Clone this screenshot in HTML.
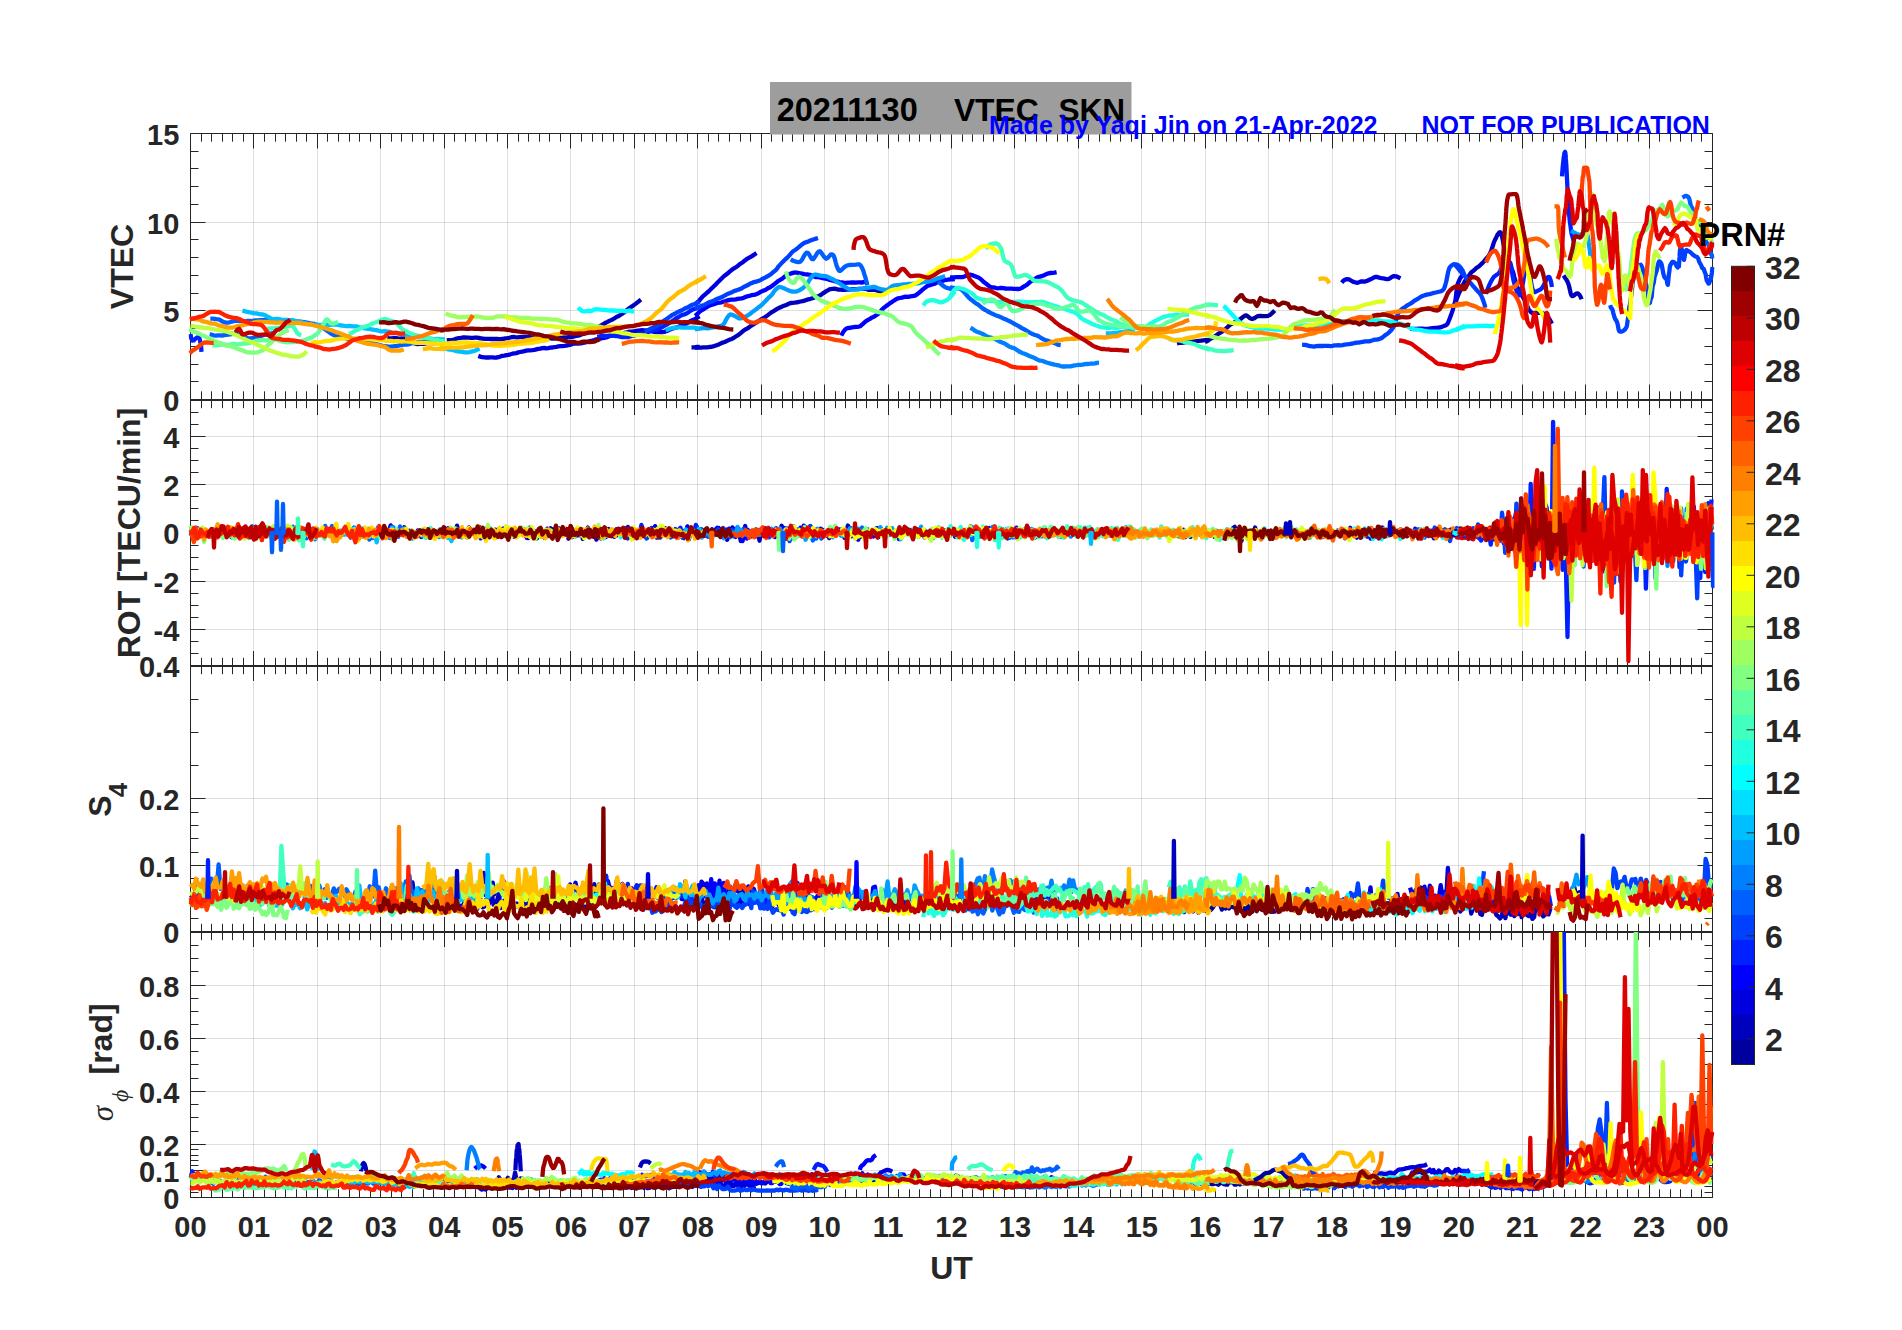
<!DOCTYPE html>
<html><head><meta charset="utf-8"><style>html,body{margin:0;padding:0;background:#fff;overflow:hidden}svg{display:block}</style></head><body>
<svg width="1902" height="1330" viewBox="0 0 1902 1330">
<rect width="1902" height="1330" fill="#fff"/>
<path d="M253.5 133.5V399.5M317.5 133.5V399.5M380.5 133.5V399.5M444.5 133.5V399.5M507.5 133.5V399.5M570.5 133.5V399.5M634.5 133.5V399.5M697.5 133.5V399.5M761.5 133.5V399.5M824.5 133.5V399.5M888.5 133.5V399.5M951.5 133.5V399.5M1014.5 133.5V399.5M1078.5 133.5V399.5M1141.5 133.5V399.5M1205.5 133.5V399.5M1268.5 133.5V399.5M1332.5 133.5V399.5M1395.5 133.5V399.5M1458.5 133.5V399.5M1522.5 133.5V399.5M1585.5 133.5V399.5M1649.5 133.5V399.5M253.5 400.0V666.0M317.5 400.0V666.0M380.5 400.0V666.0M444.5 400.0V666.0M507.5 400.0V666.0M570.5 400.0V666.0M634.5 400.0V666.0M697.5 400.0V666.0M761.5 400.0V666.0M824.5 400.0V666.0M888.5 400.0V666.0M951.5 400.0V666.0M1014.5 400.0V666.0M1078.5 400.0V666.0M1141.5 400.0V666.0M1205.5 400.0V666.0M1268.5 400.0V666.0M1332.5 400.0V666.0M1395.5 400.0V666.0M1458.5 400.0V666.0M1522.5 400.0V666.0M1585.5 400.0V666.0M1649.5 400.0V666.0M253.5 666.0V932.0M317.5 666.0V932.0M380.5 666.0V932.0M444.5 666.0V932.0M507.5 666.0V932.0M570.5 666.0V932.0M634.5 666.0V932.0M697.5 666.0V932.0M761.5 666.0V932.0M824.5 666.0V932.0M888.5 666.0V932.0M951.5 666.0V932.0M1014.5 666.0V932.0M1078.5 666.0V932.0M1141.5 666.0V932.0M1205.5 666.0V932.0M1268.5 666.0V932.0M1332.5 666.0V932.0M1395.5 666.0V932.0M1458.5 666.0V932.0M1522.5 666.0V932.0M1585.5 666.0V932.0M1649.5 666.0V932.0M253.5 932.0V1197.5M317.5 932.0V1197.5M380.5 932.0V1197.5M444.5 932.0V1197.5M507.5 932.0V1197.5M570.5 932.0V1197.5M634.5 932.0V1197.5M697.5 932.0V1197.5M761.5 932.0V1197.5M824.5 932.0V1197.5M888.5 932.0V1197.5M951.5 932.0V1197.5M1014.5 932.0V1197.5M1078.5 932.0V1197.5M1141.5 932.0V1197.5M1205.5 932.0V1197.5M1268.5 932.0V1197.5M1332.5 932.0V1197.5M1395.5 932.0V1197.5M1458.5 932.0V1197.5M1522.5 932.0V1197.5M1585.5 932.0V1197.5M1649.5 932.0V1197.5M190.5 310.5H1712.5M190.5 222.5H1712.5M190.5 629.5H1712.5M190.5 581.5H1712.5M190.5 532.5H1712.5M190.5 484.5H1712.5M190.5 436.5H1712.5M190.5 865.5H1712.5M190.5 798.5H1712.5M190.5 1170.5H1712.5M190.5 1144.5H1712.5M190.5 1091.5H1712.5M190.5 1038.5H1712.5M190.5 985.5H1712.5" stroke="#262626" stroke-opacity="0.15" stroke-width="1" fill="none"/>
<path d="M190.5 399.5h15M1712.5 399.5h-15M190.5 381.5h8M1712.5 381.5h-8M190.5 364.5h8M1712.5 364.5h-8M190.5 346.5h8M1712.5 346.5h-8M190.5 328.5h8M1712.5 328.5h-8M190.5 310.5h15M1712.5 310.5h-15M190.5 293.5h8M1712.5 293.5h-8M190.5 275.5h8M1712.5 275.5h-8M190.5 257.5h8M1712.5 257.5h-8M190.5 239.5h8M1712.5 239.5h-8M190.5 222.5h15M1712.5 222.5h-15M190.5 204.5h8M1712.5 204.5h-8M190.5 186.5h8M1712.5 186.5h-8M190.5 168.5h8M1712.5 168.5h-8M190.5 151.5h8M1712.5 151.5h-8M190.5 133.5h15M1712.5 133.5h-15M190.5 133.5v15M190.5 399.5v-15M201.5 133.5v8.2M201.5 399.5v-8.2M211.5 133.5v8.2M211.5 399.5v-8.2M222.5 133.5v8.2M222.5 399.5v-8.2M232.5 133.5v8.2M232.5 399.5v-8.2M243.5 133.5v8.2M243.5 399.5v-8.2M253.5 133.5v15M253.5 399.5v-15M264.5 133.5v8.2M264.5 399.5v-8.2M275.5 133.5v8.2M275.5 399.5v-8.2M285.5 133.5v8.2M285.5 399.5v-8.2M296.5 133.5v8.2M296.5 399.5v-8.2M306.5 133.5v8.2M306.5 399.5v-8.2M317.5 133.5v15M317.5 399.5v-15M327.5 133.5v8.2M327.5 399.5v-8.2M338.5 133.5v8.2M338.5 399.5v-8.2M349.5 133.5v8.2M349.5 399.5v-8.2M359.5 133.5v8.2M359.5 399.5v-8.2M370.5 133.5v8.2M370.5 399.5v-8.2M380.5 133.5v15M380.5 399.5v-15M391.5 133.5v8.2M391.5 399.5v-8.2M401.5 133.5v8.2M401.5 399.5v-8.2M412.5 133.5v8.2M412.5 399.5v-8.2M423.5 133.5v8.2M423.5 399.5v-8.2M433.5 133.5v8.2M433.5 399.5v-8.2M444.5 133.5v15M444.5 399.5v-15M454.5 133.5v8.2M454.5 399.5v-8.2M465.5 133.5v8.2M465.5 399.5v-8.2M475.5 133.5v8.2M475.5 399.5v-8.2M486.5 133.5v8.2M486.5 399.5v-8.2M497.5 133.5v8.2M497.5 399.5v-8.2M507.5 133.5v15M507.5 399.5v-15M518.5 133.5v8.2M518.5 399.5v-8.2M528.5 133.5v8.2M528.5 399.5v-8.2M539.5 133.5v8.2M539.5 399.5v-8.2M549.5 133.5v8.2M549.5 399.5v-8.2M560.5 133.5v8.2M560.5 399.5v-8.2M570.5 133.5v15M570.5 399.5v-15M581.5 133.5v8.2M581.5 399.5v-8.2M592.5 133.5v8.2M592.5 399.5v-8.2M602.5 133.5v8.2M602.5 399.5v-8.2M613.5 133.5v8.2M613.5 399.5v-8.2M623.5 133.5v8.2M623.5 399.5v-8.2M634.5 133.5v15M634.5 399.5v-15M644.5 133.5v8.2M644.5 399.5v-8.2M655.5 133.5v8.2M655.5 399.5v-8.2M666.5 133.5v8.2M666.5 399.5v-8.2M676.5 133.5v8.2M676.5 399.5v-8.2M687.5 133.5v8.2M687.5 399.5v-8.2M697.5 133.5v15M697.5 399.5v-15M708.5 133.5v8.2M708.5 399.5v-8.2M718.5 133.5v8.2M718.5 399.5v-8.2M729.5 133.5v8.2M729.5 399.5v-8.2M740.5 133.5v8.2M740.5 399.5v-8.2M750.5 133.5v8.2M750.5 399.5v-8.2M761.5 133.5v15M761.5 399.5v-15M771.5 133.5v8.2M771.5 399.5v-8.2M782.5 133.5v8.2M782.5 399.5v-8.2M792.5 133.5v8.2M792.5 399.5v-8.2M803.5 133.5v8.2M803.5 399.5v-8.2M814.5 133.5v8.2M814.5 399.5v-8.2M824.5 133.5v15M824.5 399.5v-15M835.5 133.5v8.2M835.5 399.5v-8.2M845.5 133.5v8.2M845.5 399.5v-8.2M856.5 133.5v8.2M856.5 399.5v-8.2M866.5 133.5v8.2M866.5 399.5v-8.2M877.5 133.5v8.2M877.5 399.5v-8.2M888.5 133.5v15M888.5 399.5v-15M898.5 133.5v8.2M898.5 399.5v-8.2M909.5 133.5v8.2M909.5 399.5v-8.2M919.5 133.5v8.2M919.5 399.5v-8.2M930.5 133.5v8.2M930.5 399.5v-8.2M940.5 133.5v8.2M940.5 399.5v-8.2M951.5 133.5v15M951.5 399.5v-15M962.5 133.5v8.2M962.5 399.5v-8.2M972.5 133.5v8.2M972.5 399.5v-8.2M983.5 133.5v8.2M983.5 399.5v-8.2M993.5 133.5v8.2M993.5 399.5v-8.2M1004.5 133.5v8.2M1004.5 399.5v-8.2M1014.5 133.5v15M1014.5 399.5v-15M1025.5 133.5v8.2M1025.5 399.5v-8.2M1036.5 133.5v8.2M1036.5 399.5v-8.2M1046.5 133.5v8.2M1046.5 399.5v-8.2M1057.5 133.5v8.2M1057.5 399.5v-8.2M1067.5 133.5v8.2M1067.5 399.5v-8.2M1078.5 133.5v15M1078.5 399.5v-15M1088.5 133.5v8.2M1088.5 399.5v-8.2M1099.5 133.5v8.2M1099.5 399.5v-8.2M1110.5 133.5v8.2M1110.5 399.5v-8.2M1120.5 133.5v8.2M1120.5 399.5v-8.2M1131.5 133.5v8.2M1131.5 399.5v-8.2M1141.5 133.5v15M1141.5 399.5v-15M1152.5 133.5v8.2M1152.5 399.5v-8.2M1162.5 133.5v8.2M1162.5 399.5v-8.2M1173.5 133.5v8.2M1173.5 399.5v-8.2M1184.5 133.5v8.2M1184.5 399.5v-8.2M1194.5 133.5v8.2M1194.5 399.5v-8.2M1205.5 133.5v15M1205.5 399.5v-15M1215.5 133.5v8.2M1215.5 399.5v-8.2M1226.5 133.5v8.2M1226.5 399.5v-8.2M1236.5 133.5v8.2M1236.5 399.5v-8.2M1247.5 133.5v8.2M1247.5 399.5v-8.2M1258.5 133.5v8.2M1258.5 399.5v-8.2M1268.5 133.5v15M1268.5 399.5v-15M1279.5 133.5v8.2M1279.5 399.5v-8.2M1289.5 133.5v8.2M1289.5 399.5v-8.2M1300.5 133.5v8.2M1300.5 399.5v-8.2M1310.5 133.5v8.2M1310.5 399.5v-8.2M1321.5 133.5v8.2M1321.5 399.5v-8.2M1332.5 133.5v15M1332.5 399.5v-15M1342.5 133.5v8.2M1342.5 399.5v-8.2M1353.5 133.5v8.2M1353.5 399.5v-8.2M1363.5 133.5v8.2M1363.5 399.5v-8.2M1374.5 133.5v8.2M1374.5 399.5v-8.2M1384.5 133.5v8.2M1384.5 399.5v-8.2M1395.5 133.5v15M1395.5 399.5v-15M1405.5 133.5v8.2M1405.5 399.5v-8.2M1416.5 133.5v8.2M1416.5 399.5v-8.2M1427.5 133.5v8.2M1427.5 399.5v-8.2M1437.5 133.5v8.2M1437.5 399.5v-8.2M1448.5 133.5v8.2M1448.5 399.5v-8.2M1458.5 133.5v15M1458.5 399.5v-15M1469.5 133.5v8.2M1469.5 399.5v-8.2M1479.5 133.5v8.2M1479.5 399.5v-8.2M1490.5 133.5v8.2M1490.5 399.5v-8.2M1501.5 133.5v8.2M1501.5 399.5v-8.2M1511.5 133.5v8.2M1511.5 399.5v-8.2M1522.5 133.5v15M1522.5 399.5v-15M1532.5 133.5v8.2M1532.5 399.5v-8.2M1543.5 133.5v8.2M1543.5 399.5v-8.2M1553.5 133.5v8.2M1553.5 399.5v-8.2M1564.5 133.5v8.2M1564.5 399.5v-8.2M1575.5 133.5v8.2M1575.5 399.5v-8.2M1585.5 133.5v15M1585.5 399.5v-15M1596.5 133.5v8.2M1596.5 399.5v-8.2M1606.5 133.5v8.2M1606.5 399.5v-8.2M1617.5 133.5v8.2M1617.5 399.5v-8.2M1627.5 133.5v8.2M1627.5 399.5v-8.2M1638.5 133.5v8.2M1638.5 399.5v-8.2M1649.5 133.5v15M1649.5 399.5v-15M1659.5 133.5v8.2M1659.5 399.5v-8.2M1670.5 133.5v8.2M1670.5 399.5v-8.2M1680.5 133.5v8.2M1680.5 399.5v-8.2M1691.5 133.5v8.2M1691.5 399.5v-8.2M1701.5 133.5v8.2M1701.5 399.5v-8.2M1712.5 133.5v15M1712.5 399.5v-15M190.5 666.5h8M1712.5 666.5h-8M190.5 653.5h8M1712.5 653.5h-8M190.5 641.5h8M1712.5 641.5h-8M190.5 629.5h15M1712.5 629.5h-15M190.5 617.5h8M1712.5 617.5h-8M190.5 605.5h8M1712.5 605.5h-8M190.5 593.5h8M1712.5 593.5h-8M190.5 581.5h15M1712.5 581.5h-15M190.5 569.5h8M1712.5 569.5h-8M190.5 557.5h8M1712.5 557.5h-8M190.5 545.5h8M1712.5 545.5h-8M190.5 532.5h15M1712.5 532.5h-15M190.5 520.5h8M1712.5 520.5h-8M190.5 508.5h8M1712.5 508.5h-8M190.5 496.5h8M1712.5 496.5h-8M190.5 484.5h15M1712.5 484.5h-15M190.5 472.5h8M1712.5 472.5h-8M190.5 460.5h8M1712.5 460.5h-8M190.5 448.5h8M1712.5 448.5h-8M190.5 436.5h15M1712.5 436.5h-15M190.5 424.5h8M1712.5 424.5h-8M190.5 412.5h8M1712.5 412.5h-8M190.5 400.5h8M1712.5 400.5h-8M190.5 400.0v15M190.5 666.0v-15M201.5 400.0v8.2M201.5 666.0v-8.2M211.5 400.0v8.2M211.5 666.0v-8.2M222.5 400.0v8.2M222.5 666.0v-8.2M232.5 400.0v8.2M232.5 666.0v-8.2M243.5 400.0v8.2M243.5 666.0v-8.2M253.5 400.0v15M253.5 666.0v-15M264.5 400.0v8.2M264.5 666.0v-8.2M275.5 400.0v8.2M275.5 666.0v-8.2M285.5 400.0v8.2M285.5 666.0v-8.2M296.5 400.0v8.2M296.5 666.0v-8.2M306.5 400.0v8.2M306.5 666.0v-8.2M317.5 400.0v15M317.5 666.0v-15M327.5 400.0v8.2M327.5 666.0v-8.2M338.5 400.0v8.2M338.5 666.0v-8.2M349.5 400.0v8.2M349.5 666.0v-8.2M359.5 400.0v8.2M359.5 666.0v-8.2M370.5 400.0v8.2M370.5 666.0v-8.2M380.5 400.0v15M380.5 666.0v-15M391.5 400.0v8.2M391.5 666.0v-8.2M401.5 400.0v8.2M401.5 666.0v-8.2M412.5 400.0v8.2M412.5 666.0v-8.2M423.5 400.0v8.2M423.5 666.0v-8.2M433.5 400.0v8.2M433.5 666.0v-8.2M444.5 400.0v15M444.5 666.0v-15M454.5 400.0v8.2M454.5 666.0v-8.2M465.5 400.0v8.2M465.5 666.0v-8.2M475.5 400.0v8.2M475.5 666.0v-8.2M486.5 400.0v8.2M486.5 666.0v-8.2M497.5 400.0v8.2M497.5 666.0v-8.2M507.5 400.0v15M507.5 666.0v-15M518.5 400.0v8.2M518.5 666.0v-8.2M528.5 400.0v8.2M528.5 666.0v-8.2M539.5 400.0v8.2M539.5 666.0v-8.2M549.5 400.0v8.2M549.5 666.0v-8.2M560.5 400.0v8.2M560.5 666.0v-8.2M570.5 400.0v15M570.5 666.0v-15M581.5 400.0v8.2M581.5 666.0v-8.2M592.5 400.0v8.2M592.5 666.0v-8.2M602.5 400.0v8.2M602.5 666.0v-8.2M613.5 400.0v8.2M613.5 666.0v-8.2M623.5 400.0v8.2M623.5 666.0v-8.2M634.5 400.0v15M634.5 666.0v-15M644.5 400.0v8.2M644.5 666.0v-8.2M655.5 400.0v8.2M655.5 666.0v-8.2M666.5 400.0v8.2M666.5 666.0v-8.2M676.5 400.0v8.2M676.5 666.0v-8.2M687.5 400.0v8.2M687.5 666.0v-8.2M697.5 400.0v15M697.5 666.0v-15M708.5 400.0v8.2M708.5 666.0v-8.2M718.5 400.0v8.2M718.5 666.0v-8.2M729.5 400.0v8.2M729.5 666.0v-8.2M740.5 400.0v8.2M740.5 666.0v-8.2M750.5 400.0v8.2M750.5 666.0v-8.2M761.5 400.0v15M761.5 666.0v-15M771.5 400.0v8.2M771.5 666.0v-8.2M782.5 400.0v8.2M782.5 666.0v-8.2M792.5 400.0v8.2M792.5 666.0v-8.2M803.5 400.0v8.2M803.5 666.0v-8.2M814.5 400.0v8.2M814.5 666.0v-8.2M824.5 400.0v15M824.5 666.0v-15M835.5 400.0v8.2M835.5 666.0v-8.2M845.5 400.0v8.2M845.5 666.0v-8.2M856.5 400.0v8.2M856.5 666.0v-8.2M866.5 400.0v8.2M866.5 666.0v-8.2M877.5 400.0v8.2M877.5 666.0v-8.2M888.5 400.0v15M888.5 666.0v-15M898.5 400.0v8.2M898.5 666.0v-8.2M909.5 400.0v8.2M909.5 666.0v-8.2M919.5 400.0v8.2M919.5 666.0v-8.2M930.5 400.0v8.2M930.5 666.0v-8.2M940.5 400.0v8.2M940.5 666.0v-8.2M951.5 400.0v15M951.5 666.0v-15M962.5 400.0v8.2M962.5 666.0v-8.2M972.5 400.0v8.2M972.5 666.0v-8.2M983.5 400.0v8.2M983.5 666.0v-8.2M993.5 400.0v8.2M993.5 666.0v-8.2M1004.5 400.0v8.2M1004.5 666.0v-8.2M1014.5 400.0v15M1014.5 666.0v-15M1025.5 400.0v8.2M1025.5 666.0v-8.2M1036.5 400.0v8.2M1036.5 666.0v-8.2M1046.5 400.0v8.2M1046.5 666.0v-8.2M1057.5 400.0v8.2M1057.5 666.0v-8.2M1067.5 400.0v8.2M1067.5 666.0v-8.2M1078.5 400.0v15M1078.5 666.0v-15M1088.5 400.0v8.2M1088.5 666.0v-8.2M1099.5 400.0v8.2M1099.5 666.0v-8.2M1110.5 400.0v8.2M1110.5 666.0v-8.2M1120.5 400.0v8.2M1120.5 666.0v-8.2M1131.5 400.0v8.2M1131.5 666.0v-8.2M1141.5 400.0v15M1141.5 666.0v-15M1152.5 400.0v8.2M1152.5 666.0v-8.2M1162.5 400.0v8.2M1162.5 666.0v-8.2M1173.5 400.0v8.2M1173.5 666.0v-8.2M1184.5 400.0v8.2M1184.5 666.0v-8.2M1194.5 400.0v8.2M1194.5 666.0v-8.2M1205.5 400.0v15M1205.5 666.0v-15M1215.5 400.0v8.2M1215.5 666.0v-8.2M1226.5 400.0v8.2M1226.5 666.0v-8.2M1236.5 400.0v8.2M1236.5 666.0v-8.2M1247.5 400.0v8.2M1247.5 666.0v-8.2M1258.5 400.0v8.2M1258.5 666.0v-8.2M1268.5 400.0v15M1268.5 666.0v-15M1279.5 400.0v8.2M1279.5 666.0v-8.2M1289.5 400.0v8.2M1289.5 666.0v-8.2M1300.5 400.0v8.2M1300.5 666.0v-8.2M1310.5 400.0v8.2M1310.5 666.0v-8.2M1321.5 400.0v8.2M1321.5 666.0v-8.2M1332.5 400.0v15M1332.5 666.0v-15M1342.5 400.0v8.2M1342.5 666.0v-8.2M1353.5 400.0v8.2M1353.5 666.0v-8.2M1363.5 400.0v8.2M1363.5 666.0v-8.2M1374.5 400.0v8.2M1374.5 666.0v-8.2M1384.5 400.0v8.2M1384.5 666.0v-8.2M1395.5 400.0v15M1395.5 666.0v-15M1405.5 400.0v8.2M1405.5 666.0v-8.2M1416.5 400.0v8.2M1416.5 666.0v-8.2M1427.5 400.0v8.2M1427.5 666.0v-8.2M1437.5 400.0v8.2M1437.5 666.0v-8.2M1448.5 400.0v8.2M1448.5 666.0v-8.2M1458.5 400.0v15M1458.5 666.0v-15M1469.5 400.0v8.2M1469.5 666.0v-8.2M1479.5 400.0v8.2M1479.5 666.0v-8.2M1490.5 400.0v8.2M1490.5 666.0v-8.2M1501.5 400.0v8.2M1501.5 666.0v-8.2M1511.5 400.0v8.2M1511.5 666.0v-8.2M1522.5 400.0v15M1522.5 666.0v-15M1532.5 400.0v8.2M1532.5 666.0v-8.2M1543.5 400.0v8.2M1543.5 666.0v-8.2M1553.5 400.0v8.2M1553.5 666.0v-8.2M1564.5 400.0v8.2M1564.5 666.0v-8.2M1575.5 400.0v8.2M1575.5 666.0v-8.2M1585.5 400.0v15M1585.5 666.0v-15M1596.5 400.0v8.2M1596.5 666.0v-8.2M1606.5 400.0v8.2M1606.5 666.0v-8.2M1617.5 400.0v8.2M1617.5 666.0v-8.2M1627.5 400.0v8.2M1627.5 666.0v-8.2M1638.5 400.0v8.2M1638.5 666.0v-8.2M1649.5 400.0v15M1649.5 666.0v-15M1659.5 400.0v8.2M1659.5 666.0v-8.2M1670.5 400.0v8.2M1670.5 666.0v-8.2M1680.5 400.0v8.2M1680.5 666.0v-8.2M1691.5 400.0v8.2M1691.5 666.0v-8.2M1701.5 400.0v8.2M1701.5 666.0v-8.2M1712.5 400.0v15M1712.5 666.0v-15M190.5 932.5h15M1712.5 932.5h-15M190.5 918.5h8M1712.5 918.5h-8M190.5 905.5h8M1712.5 905.5h-8M190.5 892.5h8M1712.5 892.5h-8M190.5 878.5h8M1712.5 878.5h-8M190.5 865.5h15M1712.5 865.5h-15M190.5 852.5h8M1712.5 852.5h-8M190.5 838.5h8M1712.5 838.5h-8M190.5 825.5h8M1712.5 825.5h-8M190.5 812.5h8M1712.5 812.5h-8M190.5 798.5h15M1712.5 798.5h-15M190.5 765.5h8M1712.5 765.5h-8M190.5 732.5h8M1712.5 732.5h-8M190.5 699.5h8M1712.5 699.5h-8M190.5 666.5h15M1712.5 666.5h-15M190.5 666.0v15M190.5 932.0v-15M201.5 666.0v8.2M201.5 932.0v-8.2M211.5 666.0v8.2M211.5 932.0v-8.2M222.5 666.0v8.2M222.5 932.0v-8.2M232.5 666.0v8.2M232.5 932.0v-8.2M243.5 666.0v8.2M243.5 932.0v-8.2M253.5 666.0v15M253.5 932.0v-15M264.5 666.0v8.2M264.5 932.0v-8.2M275.5 666.0v8.2M275.5 932.0v-8.2M285.5 666.0v8.2M285.5 932.0v-8.2M296.5 666.0v8.2M296.5 932.0v-8.2M306.5 666.0v8.2M306.5 932.0v-8.2M317.5 666.0v15M317.5 932.0v-15M327.5 666.0v8.2M327.5 932.0v-8.2M338.5 666.0v8.2M338.5 932.0v-8.2M349.5 666.0v8.2M349.5 932.0v-8.2M359.5 666.0v8.2M359.5 932.0v-8.2M370.5 666.0v8.2M370.5 932.0v-8.2M380.5 666.0v15M380.5 932.0v-15M391.5 666.0v8.2M391.5 932.0v-8.2M401.5 666.0v8.2M401.5 932.0v-8.2M412.5 666.0v8.2M412.5 932.0v-8.2M423.5 666.0v8.2M423.5 932.0v-8.2M433.5 666.0v8.2M433.5 932.0v-8.2M444.5 666.0v15M444.5 932.0v-15M454.5 666.0v8.2M454.5 932.0v-8.2M465.5 666.0v8.2M465.5 932.0v-8.2M475.5 666.0v8.2M475.5 932.0v-8.2M486.5 666.0v8.2M486.5 932.0v-8.2M497.5 666.0v8.2M497.5 932.0v-8.2M507.5 666.0v15M507.5 932.0v-15M518.5 666.0v8.2M518.5 932.0v-8.2M528.5 666.0v8.2M528.5 932.0v-8.2M539.5 666.0v8.2M539.5 932.0v-8.2M549.5 666.0v8.2M549.5 932.0v-8.2M560.5 666.0v8.2M560.5 932.0v-8.2M570.5 666.0v15M570.5 932.0v-15M581.5 666.0v8.2M581.5 932.0v-8.2M592.5 666.0v8.2M592.5 932.0v-8.2M602.5 666.0v8.2M602.5 932.0v-8.2M613.5 666.0v8.2M613.5 932.0v-8.2M623.5 666.0v8.2M623.5 932.0v-8.2M634.5 666.0v15M634.5 932.0v-15M644.5 666.0v8.2M644.5 932.0v-8.2M655.5 666.0v8.2M655.5 932.0v-8.2M666.5 666.0v8.2M666.5 932.0v-8.2M676.5 666.0v8.2M676.5 932.0v-8.2M687.5 666.0v8.2M687.5 932.0v-8.2M697.5 666.0v15M697.5 932.0v-15M708.5 666.0v8.2M708.5 932.0v-8.2M718.5 666.0v8.2M718.5 932.0v-8.2M729.5 666.0v8.2M729.5 932.0v-8.2M740.5 666.0v8.2M740.5 932.0v-8.2M750.5 666.0v8.2M750.5 932.0v-8.2M761.5 666.0v15M761.5 932.0v-15M771.5 666.0v8.2M771.5 932.0v-8.2M782.5 666.0v8.2M782.5 932.0v-8.2M792.5 666.0v8.2M792.5 932.0v-8.2M803.5 666.0v8.2M803.5 932.0v-8.2M814.5 666.0v8.2M814.5 932.0v-8.2M824.5 666.0v15M824.5 932.0v-15M835.5 666.0v8.2M835.5 932.0v-8.2M845.5 666.0v8.2M845.5 932.0v-8.2M856.5 666.0v8.2M856.5 932.0v-8.2M866.5 666.0v8.2M866.5 932.0v-8.2M877.5 666.0v8.2M877.5 932.0v-8.2M888.5 666.0v15M888.5 932.0v-15M898.5 666.0v8.2M898.5 932.0v-8.2M909.5 666.0v8.2M909.5 932.0v-8.2M919.5 666.0v8.2M919.5 932.0v-8.2M930.5 666.0v8.2M930.5 932.0v-8.2M940.5 666.0v8.2M940.5 932.0v-8.2M951.5 666.0v15M951.5 932.0v-15M962.5 666.0v8.2M962.5 932.0v-8.2M972.5 666.0v8.2M972.5 932.0v-8.2M983.5 666.0v8.2M983.5 932.0v-8.2M993.5 666.0v8.2M993.5 932.0v-8.2M1004.5 666.0v8.2M1004.5 932.0v-8.2M1014.5 666.0v15M1014.5 932.0v-15M1025.5 666.0v8.2M1025.5 932.0v-8.2M1036.5 666.0v8.2M1036.5 932.0v-8.2M1046.5 666.0v8.2M1046.5 932.0v-8.2M1057.5 666.0v8.2M1057.5 932.0v-8.2M1067.5 666.0v8.2M1067.5 932.0v-8.2M1078.5 666.0v15M1078.5 932.0v-15M1088.5 666.0v8.2M1088.5 932.0v-8.2M1099.5 666.0v8.2M1099.5 932.0v-8.2M1110.5 666.0v8.2M1110.5 932.0v-8.2M1120.5 666.0v8.2M1120.5 932.0v-8.2M1131.5 666.0v8.2M1131.5 932.0v-8.2M1141.5 666.0v15M1141.5 932.0v-15M1152.5 666.0v8.2M1152.5 932.0v-8.2M1162.5 666.0v8.2M1162.5 932.0v-8.2M1173.5 666.0v8.2M1173.5 932.0v-8.2M1184.5 666.0v8.2M1184.5 932.0v-8.2M1194.5 666.0v8.2M1194.5 932.0v-8.2M1205.5 666.0v15M1205.5 932.0v-15M1215.5 666.0v8.2M1215.5 932.0v-8.2M1226.5 666.0v8.2M1226.5 932.0v-8.2M1236.5 666.0v8.2M1236.5 932.0v-8.2M1247.5 666.0v8.2M1247.5 932.0v-8.2M1258.5 666.0v8.2M1258.5 932.0v-8.2M1268.5 666.0v15M1268.5 932.0v-15M1279.5 666.0v8.2M1279.5 932.0v-8.2M1289.5 666.0v8.2M1289.5 932.0v-8.2M1300.5 666.0v8.2M1300.5 932.0v-8.2M1310.5 666.0v8.2M1310.5 932.0v-8.2M1321.5 666.0v8.2M1321.5 932.0v-8.2M1332.5 666.0v15M1332.5 932.0v-15M1342.5 666.0v8.2M1342.5 932.0v-8.2M1353.5 666.0v8.2M1353.5 932.0v-8.2M1363.5 666.0v8.2M1363.5 932.0v-8.2M1374.5 666.0v8.2M1374.5 932.0v-8.2M1384.5 666.0v8.2M1384.5 932.0v-8.2M1395.5 666.0v15M1395.5 932.0v-15M1405.5 666.0v8.2M1405.5 932.0v-8.2M1416.5 666.0v8.2M1416.5 932.0v-8.2M1427.5 666.0v8.2M1427.5 932.0v-8.2M1437.5 666.0v8.2M1437.5 932.0v-8.2M1448.5 666.0v8.2M1448.5 932.0v-8.2M1458.5 666.0v15M1458.5 932.0v-15M1469.5 666.0v8.2M1469.5 932.0v-8.2M1479.5 666.0v8.2M1479.5 932.0v-8.2M1490.5 666.0v8.2M1490.5 932.0v-8.2M1501.5 666.0v8.2M1501.5 932.0v-8.2M1511.5 666.0v8.2M1511.5 932.0v-8.2M1522.5 666.0v15M1522.5 932.0v-15M1532.5 666.0v8.2M1532.5 932.0v-8.2M1543.5 666.0v8.2M1543.5 932.0v-8.2M1553.5 666.0v8.2M1553.5 932.0v-8.2M1564.5 666.0v8.2M1564.5 932.0v-8.2M1575.5 666.0v8.2M1575.5 932.0v-8.2M1585.5 666.0v15M1585.5 932.0v-15M1596.5 666.0v8.2M1596.5 932.0v-8.2M1606.5 666.0v8.2M1606.5 932.0v-8.2M1617.5 666.0v8.2M1617.5 932.0v-8.2M1627.5 666.0v8.2M1627.5 932.0v-8.2M1638.5 666.0v8.2M1638.5 932.0v-8.2M1649.5 666.0v15M1649.5 932.0v-15M1659.5 666.0v8.2M1659.5 932.0v-8.2M1670.5 666.0v8.2M1670.5 932.0v-8.2M1680.5 666.0v8.2M1680.5 932.0v-8.2M1691.5 666.0v8.2M1691.5 932.0v-8.2M1701.5 666.0v8.2M1701.5 932.0v-8.2M1712.5 666.0v15M1712.5 932.0v-15M190.5 1197.5h15M1712.5 1197.5h-15M190.5 1192.5h8M1712.5 1192.5h-8M190.5 1186.5h8M1712.5 1186.5h-8M190.5 1181.5h8M1712.5 1181.5h-8M190.5 1176.5h8M1712.5 1176.5h-8M190.5 1170.5h15M1712.5 1170.5h-15M190.5 1165.5h8M1712.5 1165.5h-8M190.5 1160.5h8M1712.5 1160.5h-8M190.5 1155.5h8M1712.5 1155.5h-8M190.5 1149.5h8M1712.5 1149.5h-8M190.5 1144.5h15M1712.5 1144.5h-15M190.5 1144.5h15M1712.5 1144.5h-15M190.5 1131.5h8M1712.5 1131.5h-8M190.5 1117.5h8M1712.5 1117.5h-8M190.5 1104.5h8M1712.5 1104.5h-8M190.5 1091.5h15M1712.5 1091.5h-15M190.5 1078.5h8M1712.5 1078.5h-8M190.5 1064.5h8M1712.5 1064.5h-8M190.5 1051.5h8M1712.5 1051.5h-8M190.5 1038.5h15M1712.5 1038.5h-15M190.5 1024.5h8M1712.5 1024.5h-8M190.5 1011.5h8M1712.5 1011.5h-8M190.5 998.5h8M1712.5 998.5h-8M190.5 985.5h15M1712.5 985.5h-15M190.5 971.5h8M1712.5 971.5h-8M190.5 958.5h8M1712.5 958.5h-8M190.5 945.5h8M1712.5 945.5h-8M190.5 932.5h8M1712.5 932.5h-8M190.5 932.0v15M190.5 1197.5v-15M201.5 932.0v8.2M201.5 1197.5v-8.2M211.5 932.0v8.2M211.5 1197.5v-8.2M222.5 932.0v8.2M222.5 1197.5v-8.2M232.5 932.0v8.2M232.5 1197.5v-8.2M243.5 932.0v8.2M243.5 1197.5v-8.2M253.5 932.0v15M253.5 1197.5v-15M264.5 932.0v8.2M264.5 1197.5v-8.2M275.5 932.0v8.2M275.5 1197.5v-8.2M285.5 932.0v8.2M285.5 1197.5v-8.2M296.5 932.0v8.2M296.5 1197.5v-8.2M306.5 932.0v8.2M306.5 1197.5v-8.2M317.5 932.0v15M317.5 1197.5v-15M327.5 932.0v8.2M327.5 1197.5v-8.2M338.5 932.0v8.2M338.5 1197.5v-8.2M349.5 932.0v8.2M349.5 1197.5v-8.2M359.5 932.0v8.2M359.5 1197.5v-8.2M370.5 932.0v8.2M370.5 1197.5v-8.2M380.5 932.0v15M380.5 1197.5v-15M391.5 932.0v8.2M391.5 1197.5v-8.2M401.5 932.0v8.2M401.5 1197.5v-8.2M412.5 932.0v8.2M412.5 1197.5v-8.2M423.5 932.0v8.2M423.5 1197.5v-8.2M433.5 932.0v8.2M433.5 1197.5v-8.2M444.5 932.0v15M444.5 1197.5v-15M454.5 932.0v8.2M454.5 1197.5v-8.2M465.5 932.0v8.2M465.5 1197.5v-8.2M475.5 932.0v8.2M475.5 1197.5v-8.2M486.5 932.0v8.2M486.5 1197.5v-8.2M497.5 932.0v8.2M497.5 1197.5v-8.2M507.5 932.0v15M507.5 1197.5v-15M518.5 932.0v8.2M518.5 1197.5v-8.2M528.5 932.0v8.2M528.5 1197.5v-8.2M539.5 932.0v8.2M539.5 1197.5v-8.2M549.5 932.0v8.2M549.5 1197.5v-8.2M560.5 932.0v8.2M560.5 1197.5v-8.2M570.5 932.0v15M570.5 1197.5v-15M581.5 932.0v8.2M581.5 1197.5v-8.2M592.5 932.0v8.2M592.5 1197.5v-8.2M602.5 932.0v8.2M602.5 1197.5v-8.2M613.5 932.0v8.2M613.5 1197.5v-8.2M623.5 932.0v8.2M623.5 1197.5v-8.2M634.5 932.0v15M634.5 1197.5v-15M644.5 932.0v8.2M644.5 1197.5v-8.2M655.5 932.0v8.2M655.5 1197.5v-8.2M666.5 932.0v8.2M666.5 1197.5v-8.2M676.5 932.0v8.2M676.5 1197.5v-8.2M687.5 932.0v8.2M687.5 1197.5v-8.2M697.5 932.0v15M697.5 1197.5v-15M708.5 932.0v8.2M708.5 1197.5v-8.2M718.5 932.0v8.2M718.5 1197.5v-8.2M729.5 932.0v8.2M729.5 1197.5v-8.2M740.5 932.0v8.2M740.5 1197.5v-8.2M750.5 932.0v8.2M750.5 1197.5v-8.2M761.5 932.0v15M761.5 1197.5v-15M771.5 932.0v8.2M771.5 1197.5v-8.2M782.5 932.0v8.2M782.5 1197.5v-8.2M792.5 932.0v8.2M792.5 1197.5v-8.2M803.5 932.0v8.2M803.5 1197.5v-8.2M814.5 932.0v8.2M814.5 1197.5v-8.2M824.5 932.0v15M824.5 1197.5v-15M835.5 932.0v8.2M835.5 1197.5v-8.2M845.5 932.0v8.2M845.5 1197.5v-8.2M856.5 932.0v8.2M856.5 1197.5v-8.2M866.5 932.0v8.2M866.5 1197.5v-8.2M877.5 932.0v8.2M877.5 1197.5v-8.2M888.5 932.0v15M888.5 1197.5v-15M898.5 932.0v8.2M898.5 1197.5v-8.2M909.5 932.0v8.2M909.5 1197.5v-8.2M919.5 932.0v8.2M919.5 1197.5v-8.2M930.5 932.0v8.2M930.5 1197.5v-8.2M940.5 932.0v8.2M940.5 1197.5v-8.2M951.5 932.0v15M951.5 1197.5v-15M962.5 932.0v8.2M962.5 1197.5v-8.2M972.5 932.0v8.2M972.5 1197.5v-8.2M983.5 932.0v8.2M983.5 1197.5v-8.2M993.5 932.0v8.2M993.5 1197.5v-8.2M1004.5 932.0v8.2M1004.5 1197.5v-8.2M1014.5 932.0v15M1014.5 1197.5v-15M1025.5 932.0v8.2M1025.5 1197.5v-8.2M1036.5 932.0v8.2M1036.5 1197.5v-8.2M1046.5 932.0v8.2M1046.5 1197.5v-8.2M1057.5 932.0v8.2M1057.5 1197.5v-8.2M1067.5 932.0v8.2M1067.5 1197.5v-8.2M1078.5 932.0v15M1078.5 1197.5v-15M1088.5 932.0v8.2M1088.5 1197.5v-8.2M1099.5 932.0v8.2M1099.5 1197.5v-8.2M1110.5 932.0v8.2M1110.5 1197.5v-8.2M1120.5 932.0v8.2M1120.5 1197.5v-8.2M1131.5 932.0v8.2M1131.5 1197.5v-8.2M1141.5 932.0v15M1141.5 1197.5v-15M1152.5 932.0v8.2M1152.5 1197.5v-8.2M1162.5 932.0v8.2M1162.5 1197.5v-8.2M1173.5 932.0v8.2M1173.5 1197.5v-8.2M1184.5 932.0v8.2M1184.5 1197.5v-8.2M1194.5 932.0v8.2M1194.5 1197.5v-8.2M1205.5 932.0v15M1205.5 1197.5v-15M1215.5 932.0v8.2M1215.5 1197.5v-8.2M1226.5 932.0v8.2M1226.5 1197.5v-8.2M1236.5 932.0v8.2M1236.5 1197.5v-8.2M1247.5 932.0v8.2M1247.5 1197.5v-8.2M1258.5 932.0v8.2M1258.5 1197.5v-8.2M1268.5 932.0v15M1268.5 1197.5v-15M1279.5 932.0v8.2M1279.5 1197.5v-8.2M1289.5 932.0v8.2M1289.5 1197.5v-8.2M1300.5 932.0v8.2M1300.5 1197.5v-8.2M1310.5 932.0v8.2M1310.5 1197.5v-8.2M1321.5 932.0v8.2M1321.5 1197.5v-8.2M1332.5 932.0v15M1332.5 1197.5v-15M1342.5 932.0v8.2M1342.5 1197.5v-8.2M1353.5 932.0v8.2M1353.5 1197.5v-8.2M1363.5 932.0v8.2M1363.5 1197.5v-8.2M1374.5 932.0v8.2M1374.5 1197.5v-8.2M1384.5 932.0v8.2M1384.5 1197.5v-8.2M1395.5 932.0v15M1395.5 1197.5v-15M1405.5 932.0v8.2M1405.5 1197.5v-8.2M1416.5 932.0v8.2M1416.5 1197.5v-8.2M1427.5 932.0v8.2M1427.5 1197.5v-8.2M1437.5 932.0v8.2M1437.5 1197.5v-8.2M1448.5 932.0v8.2M1448.5 1197.5v-8.2M1458.5 932.0v15M1458.5 1197.5v-15M1469.5 932.0v8.2M1469.5 1197.5v-8.2M1479.5 932.0v8.2M1479.5 1197.5v-8.2M1490.5 932.0v8.2M1490.5 1197.5v-8.2M1501.5 932.0v8.2M1501.5 1197.5v-8.2M1511.5 932.0v8.2M1511.5 1197.5v-8.2M1522.5 932.0v15M1522.5 1197.5v-15M1532.5 932.0v8.2M1532.5 1197.5v-8.2M1543.5 932.0v8.2M1543.5 1197.5v-8.2M1553.5 932.0v8.2M1553.5 1197.5v-8.2M1564.5 932.0v8.2M1564.5 1197.5v-8.2M1575.5 932.0v8.2M1575.5 1197.5v-8.2M1585.5 932.0v15M1585.5 1197.5v-15M1596.5 932.0v8.2M1596.5 1197.5v-8.2M1606.5 932.0v8.2M1606.5 1197.5v-8.2M1617.5 932.0v8.2M1617.5 1197.5v-8.2M1627.5 932.0v8.2M1627.5 1197.5v-8.2M1638.5 932.0v8.2M1638.5 1197.5v-8.2M1649.5 932.0v15M1649.5 1197.5v-15M1659.5 932.0v8.2M1659.5 1197.5v-8.2M1670.5 932.0v8.2M1670.5 1197.5v-8.2M1680.5 932.0v8.2M1680.5 1197.5v-8.2M1691.5 932.0v8.2M1691.5 1197.5v-8.2M1701.5 932.0v8.2M1701.5 1197.5v-8.2M1712.5 932.0v15M1712.5 1197.5v-15" stroke="#262626" stroke-width="1" fill="none"/>
<path d="M190.5 133.5V399.5M1712.5 133.5V399.5M190.5 400.0V666.0M1712.5 400.0V666.0M190.5 666.0V932.0M1712.5 666.0V932.0M190.5 932.0V1197.5M1712.5 932.0V1197.5M190.5 133.5H1712.5M190.5 399.5H1712.5M190.5 400.5H1712.5M190.5 665.5H1712.5M190.5 666.5H1712.5M190.5 931.5H1712.5M190.5 932.5H1712.5M190.5 1197.5H1712.5" stroke="#262626" stroke-width="1" fill="none"/>
<defs>
<clipPath id="cp0"><rect x="188.5" y="133.5" width="1526.0" height="266.0"/></clipPath>
<clipPath id="cp1"><rect x="188.5" y="400.0" width="1526.0" height="266.0"/></clipPath>
<clipPath id="cp2"><rect x="188.5" y="666.0" width="1526.0" height="266.0"/></clipPath>
<clipPath id="cp3"><rect x="188.5" y="932.0" width="1526.0" height="265.5"/></clipPath>
</defs>
<g clip-path="url(#cp0)" fill="none" stroke-width="4.3" stroke-linejoin="round">
<path d="M1176.9 343.4l2.2-0.5 2.2 0 2.1-0.3 2.2-0.4 2.2-0.2 2.2 0 2.2-0.2 2.1-0.3 2.2-0.4 2.2-0.3 2.2-0.2 2.2-0.3 2.2-0.1 2.2-0.1 2.2-0.1" stroke="#00009f"/>
<path d="M1205 342.1l1.8-0.8 1.8-1.3 1.8-1.2 1.8-0.9 1.8-0.9 1.7-1.1 1.7-1.4 1.7-1.2 1.7-1 1.7-1 1.6-1.1 1.6-1.3 1.7-1.6 1.6-1.6 1.7-1.3 1.8-0.9 1.7-1 1.8-0.9 1.8-0.9 1.7-1.1 1.8-1.2 1.7-1.4 1.8-1.3 1.7-0.3 1.9 1.4 1.8 1.5 1.9 0.7 1.9-0.6 1.9-1.2 1.9-1 1.9-0.4 2.1 0.2 2.1 0.1 2.1 0 2-0.2 1.8-0.8 1.7-1.4 1.7-1.5 1.5-1.7" stroke="#00009f"/>
<path d="M387.3 338.2l2.2 0.2 2.1 0 2.1-0.2 2.2 0 2 0.3 2.1 0.1 2-0.1 2.1-0.1 1.9 0.3 2 0.8 1.9 1.1 1.9 1.1 1.9 1.1 2 0.9 2 0.3 2-0.1 2 0 2-0.1 2.1-0.4 2-0.4 2.1 0 2.1 0.2 2.1-0.1 2.1-0.1 2.1-0.3 2.1-0.4 2.2-0.4 2.1-0.7" stroke="#0000bf"/>
<path d="M446.8 340.4l2-0.3 2 0.2 2-0.3 2-0.7 2-0.8 2-0.4 2-0.2 2-0.4 2-0.1 2 0.2 2.1 0.1 2 0.1 2 0.1 2-0.2 2 0 2.1 0.3 2 0.3 2 0.3 2.1 0.3 2 0 2 0 2 0.1 2.1 0 2 0 2 0 2 0.1 2.1-0.1 2-0.2 2-0.5 2-0.2 2-0.3 2.1-0.6 2-0.2 2 0.2 2 0.1 2.1-0.2 2-0.2 2-0.1 2 0.3 2.1 0.1 2-0.1 2 0.3 2 0.5 2.1-0.2 2-0.1 2 0.1 2 0.3 2.1 0.3 2 0.1 2-0.2 2 0 2.1 0.3 2 0.1 2-0.3 2.1-0.5 2-0.1 2 0.1 2-0.3 2-0.2 2.1-0.2 2-0.1 2-0.1 2-0.4 2-0.6 2-0.3 2-0.5 2-0.8 1.9-0.6 1.8-0.7 1.9-0.8 1.8-0.4 1.8-0.6 1.8-1.3 1.8-1.4 1.8-0.8 1.8-0.8 1.8-1 1.8-1 1.8-1.1 1.8-1.1 1.8-0.8 1.8-1 1.8-0.8 1.8-0.8 1.7-1.1 1.8-1.2 1.7-0.7 1.7-0.9 1.7-1.3 1.7-1 1.6-1.1 1.7-1.6 1.6-1.4 1.7-1.1 1.6-1.1 1.6-1.1 1.6-1.1 1.6-1.2 1.6-1.3 1.6-1.3 1.6-1.2" stroke="#0000bf"/>
<path d="M691.5 347.3l2.8 0 2.7-0.3 2.7 0" stroke="#0000bf"/>
<path d="M695 347.8l2.1-0.2 2 0 2 0 2.1-0.2 2 0 2-0.1 1.9-0.3 2-0.2 2-0.4 1.9-0.7 2-0.6 1.9-0.7 1.9-1 1.9-0.8 1.9-0.6 1.8-0.8 1.8-0.9 1.8-0.7 1.8-0.7 1.8-0.9 1.8-1.2 1.7-1.1 1.7-1.1 1.6-1.3 1.7-1.5 1.6-1.3 1.6-1 1.7-0.9 1.7-1 1.6-1.3 1.8-1.2 1.7-1 1.8-1.1 1.7-1.1 1.8-1.2 1.7-1.1 1.7-1 1.7-0.9 1.7-1.1 1.6-1.2 1.6-1.3 1.6-1.2 1.7-1.1 1.6-0.9 1.7-1.1 1.8-1.1 1.8-0.9 1.8-0.8 1.9-0.9 1.9-0.7 1.9-0.7 1.9-0.9 2-0.8 1.9-0.2 2-0.2 2-0.3 2-0.3 2-0.5 2-0.4 2-0.5 1.9-0.7 2-0.6 2-0.5 1.9-0.6 2-0.8 1.9-0.5 1.8-0.6 1.8-0.9 1.8-1.1 1.7-1.2 1.8-1.2 1.7-1.1 1.8-1 1.8-0.7 1.9-0.2 1.9-0.2 2 0.3 2 0.6 2.1 0.1 2.1 0.1 2 0.1 2-0.2 2.1-0.2 2-0.2 2-0.2 2 0.1 2.1-0.1 2-0.1 2-0.1 2-0.1 2.1-0.1 2 0.6 2 0.6 2 0 2-0.2 2 0.1 2 0.5 1.9 0.7 1.9 0.6 2 0.7 1.9 0.7 1.9 0.9" stroke="#0000bf"/>
<path d="M1455 304.3l0.6-2 0.6-2 0.7-1.7 0.7-1.9 0.7-1.9 0.8-1.7 0.9-1.9 0.8-2.4 0.9-2 0.9-1.5 1-1.7 1-1.8 1-1.8 1.1-1.5 1.2-1.3 1.2-1.8 1.3-1.9 1.3-1.5 1.4-1 1.6-1.3 1.6-1.6 1.7-1.2 1.6-1.1 1.5-1.5 1.5-1.4 1.4-1.5 1.4-1.7 1.3-1.5 1.3-1.4 1.1-1.7 0.9-1.7 0.8-1.9 0.7-1.8 0.6-1.7 0.7-1.9 0.6-2.2 0.7-2.1 0.8-1.7 1.1-2.1 1.1-2.5 1.2-1.9 1-1.1 0.8-0.4 0.7 0.6 0.6 1.5 0.6 2.3 0.5 2.3 0.5 2.3 0.4 2.5 0.5 2.4 0.3 1.9 0.4 1.7 0.3 2.2 0.3 2.2 0.4 2 0.4 1.8 0.5 2.2 0.6 1.9 0.9 1.4 1.2 1.7 1.2 1.8 1.1 1.7 0.8 1.8 0.7 1.6 0.6 2.1 0.5 2.4 0.5 2 0.5 1.8 0.6 2.1 0.5 2.1 0.7 1.8 0.7 1.5 0.9 1.8 0.9 2 1.1 1.8 1.1 1.6 1 1.8 1.1 1.9 1.1 1.6 0.9 1.7 1 2.4 0.9 2.6 1 2.2 1.1 1.6 1.2 1.4 1.3 0.9 1.5 0.1 1.9-0.3 2.3-0.1 2.2 0.2 1.8 0.1 1.7 0.6 1.6 1 1.5 1.1 1.5 1.5 1.3 2 1.3 2.3 1.1 2.3" stroke="#0000bf"/>
<path d="M1563.5 275.5l1.3 1.9 1.3 1.8 1.1 1.9 0.9 2.1 0.8 2.3 0.6 2.5 0.6 2.8 0.6 2.7 0.7 1.8 0.9 0.8 1.5-0.4 2-1.8 1.8-0.6 1.5 1.1 1.3 2 1.2 2.9" stroke="#0000bf"/>
<path d="M478.3 355.9l2 0.7 2 0.6 2.1 0.1 2 0.2 2 0 2-0.2 2.1 0.1 2 0.2 2-0.1 2-0.3 1.9-0.7 2-0.7 2-0.2 2-0.4 2-0.4 2-0.5 2-0.6 2-0.3 1.9-0.3 2-0.7 2-0.4 2-0.4 2-0.4 2-0.5 2-0.3 2-0.1 2-0.2 2-0.3 2-0.5 2-0.5 2-0.2 2-0.5 2-0.1 2 0.3 2-0.2 2.1-0.4 2-0.2 2-0.4 2-0.3 2-0.4 2-0.3 2 0 2.1-0.2 2-0.4 2-0.3 2-0.5 2-0.8 2-0.4 2 0 2 0 2-0.2 2-0.3 2-0.4 2-0.4 2-0.6 1.9-0.6 2-0.4 2-0.6 2-0.7 1.9-0.4 2-0.4 2-0.3 1.9-0.4 2-0.4 1.9-0.7 2-0.9 2-0.3 1.9-0.1 2-0.7 2-0.8 2-0.4 2-0.4 2-0.1 2-0.3 2-0.7 2-0.3 2 0 2-0.4 2.1-0.4 2-0.3 2-0.2 2-0.2 2 0.1 2 0 2 0.1 2 0.4 2.1 0.6 2 0.4 2 0.2 2 0.1 2 0 1.9 0 2-0.2 2-0.7 2-0.8 1.9-0.8 2-0.9 1.9-0.6 1.9-0.5 1.9-0.6 1.9-0.6 1.9-0.9 1.8-0.8 1.9-0.6 1.9-0.9 1.8-1.2 1.8-1.1 1.9-0.8 1.8-0.7 1.8-1 1.8-1.2 1.7-0.9" stroke="#0000df"/>
<path d="M695 304.8l1.4-1.6 1.5-1.3 1.4-1.4 1.5-1.8 1.5-1.7 1.4-1.4 1.5-1.3 1.5-1.3 1.5-1.2 1.5-1.4 1.4-1.5 1.5-1.4 1.5-1.5 1.5-1.4 1.5-1.6 1.5-1.6 1.5-1.5 1.5-1.4 1.5-1.5 1.5-1.3 1.6-1.2 1.6-1.2 1.6-1.4 1.6-1.4 1.7-1.4 1.7-1 1.7-0.9 1.7-1.4 1.7-1.4 1.7-1.1 1.7-1.1 1.7-1.5 1.7-1.3 1.7-1.1 1.7-0.9 1.7-0.9 1.7-1.1 1.7-1.1 1.7-1.2" stroke="#0000df"/>
<path d="M1410.1 328.6l2 0.2 2.1 0.2 2.1-0.2 2.1-0.1 2.1 0 2 0 2.1 0.1 2.1 0 2-0.1 2.1-0.3 2.2-0.3 2.2-0.3 2.3-0.1 2.3-0.2 2.1-0.6 1.8-0.8 1.6-0.6 1.2-0.6 1.1-1.3 0.9-2.1 0.9-2.2 0.8-2.1 0.8-2.1 0.7-2 0.7-2 0.6-2.1 0.6-2.2 0.6-2.1 0.5-1.6 0.5-1.6 0.3-2 0.3-2.1 0.3-2.3 0.3-2.2 0.2-2.2 0.3-2.1 0.3-2 0.4-2.1 0.5-1.6 0.7-1.5 0.9-2.1 1.2-2.1 1.2-1.6 1.3-1.7" stroke="#0000df"/>
<path d="M1341.7 282.7l1.8-2.1 1.8-1.1 1.8-0.4 1.9 0.2 1.9 1.2 1.9 1.1 1.9 0.6 2 0.6 2.1-0.4 2.1-1 2.1 0.1 2.2 0.1 2.1-0.8 2.1-1 1.9-0.8 2-1.2 1.9-1 2 0.2 2 0.6 2.1 0.5 2.2 0.3 2 0.4 1.8 0.3 1.6-0.3 1.3-0.7 1.2-0.8 1.3-0.9 1.6-0.3 1.8 0.2 2.1 1 2.3 1.1" stroke="#0000df"/>
<path d="M695 315.8l1.6-1.2 1.7-1.6 1.6-1.6 1.7-1.1 1.7-0.9 1.7-1.1 1.8-1.2 1.8-1.1 1.8-0.7 1.8-0.6 1.8-0.5 1.9-0.7 1.9-0.7 1.9-0.2 2-0.3 2-0.7 2-0.6 2-0.7 2-0.5 2-0.1 2.1 0 1.9-0.3 2-0.5 2-0.3 2-0.3 2-0.5 1.9-0.9 2-0.7 2-0.4 1.9-0.6 2-0.3 1.9-0.3 1.8-0.8 1.9-1 1.9-1.1 1.8-0.8 1.8-0.6 1.8-1 1.8-1.2 1.7-0.7 1.7-1.1 1.7-1.4 1.6-1.2 1.7-1.4 1.6-1.3 1.6-0.9 1.7-0.9 1.7-1.3 1.7-1.4 1.8-1.3 1.8-0.8 1.8-0.7 1.8-0.6 1.9-0.5 2-0.1 2 0.4 2.1 0.4 2 0.4 2 0.5 2 0.2 2 0.1 1.9 0.3 2 0.7 1.9 1 2 0.6 2 0.1 1.9 0.3 2 0.5 2 0.4 2 0.3 2 0.6 2 0.7 2 0.4 2 0.4 1.9 0.5 2 0.4 2 0.4 2 0.2 2 0.4 2 0.2 2-0.2 2-0.1 2-0.1 2-0.1 2 0.2 2.1-0.2 2-0.1 2 0.2 2-0.3 2.1-0.7" stroke="#0000ff"/>
<path d="M841.3 335.6l1.1-2.2 1.3-2.1 1.4-1.7 1.4-1.1 1.6-0.5 1.8-0.2 2.1-0.4 2.2-0.4 2.1-0.2 2 0 1.8-0.5 1.6-1.4 1.5-1.3 1.6-1.4 1.6-1.4 1.7-1 1.9-1 1.8-1.1 1.8-0.9 1.7-1 1.6-1 1.5-1.1 1.5-1.5 1.5-2 1.5-1.6 1.5-1.2 1.6-1.2 1.6-1.2 1.7-1.2 1.7-1.2 1.7-1.1 1.8-1.2 1.8-1.2 1.8-0.8 1.8-0.3 2-0.3 2-0.7 2.1-0.3 2.1 0.1 2-0.3 2-0.4 1.9-0.2 1.8-0.7 1.6-1.2 1.7-1.3 1.6-1.4 1.6-1.4 1.6-1.3 1.7-1.3 1.7-1.3 1.8-0.7 1.9-0.5 1.9-0.6 2-0.6 1.9-1 2-0.9 2-0.4 1.9-0.5 2-0.7 2-0.2 2-0.4 2-0.1 2-0.1 2-0.3" stroke="#0000ff"/>
<path d="M950 277.4l2.1 0 2 0 2.1-0.2 2-0.1 2.1 0.1 2 0 2-0.7 1.9-0.8 2-0.7 1.9-0.4 1.9 0.4 1.9 0.8 1.8 0.7 1.9 0.7 1.8 0.9 1.7 1.3 1.7 1.7 1.7 1.5 1.6 1.1 1.6 1.3 1.7 1.3 1.8 0.9 1.9 0.1 1.9 0.4 2.1 0.6 2.1-0.1 2.1-0.3 2.1 0.3 2 0.3 2.1 0.2 2.1 0 2.1-0.1 2 0.2 2.1 0.1 1.9 0.1 2-0.1 1.8-0.8 1.8-1.2 1.8-1.1 1.7-0.9 1.7-1.5 1.6-1.5 1.6-1.1 1.7-1 1.7-1.1 1.9-1.2 1.9-0.7 1.9-0.4 2-0.7 1.9-0.8 2-0.9 1.9-0.7 2-0.3 2-0.2 2-0.2 2-0.4" stroke="#0000ff"/>
<path d="M190.5 334.2l0.7 3.9 1.1 2.4 1.5-0.1 2.1-2.1 1.6-1 1-0.1 1 1.2 0.8 3.3 0.6 3.5 0.4 3.2 0.1 3.5" stroke="#0020ff"/>
<path d="M597.2 336.8l2.1-0.3 2-0.6 2.1-0.2 2 0.3 2.1-0.1 2-0.3 2.1-0.1 2 0.2 2.1 0.3 2 0.2 2.1 0.5 2 0.3 2.1 0 2 0.1 2 0 2.1-0.6 2-0.6 2-0.3 2-0.6 2-0.8 2-0.5 2 0 2.1-0.3 2-0.5 2-0.6 2-1.1 2-0.6 2-0.2 2-0.4 1.9-0.8 1.8-0.8 1.9-1.1 1.8-1 1.7-0.9 1.8-0.9 1.7-1.1 1.7-1.3 1.8-1 1.7-1.1 1.7-1.3 1.8-1.1 1.8-1 1.8-1.1 1.9-0.8 1.8-0.4 1.8-0.8 1.9-1.1 1.9-1.5 1.8-1.1 1.9-0.7 1.9-0.6 1.9-0.9 1.9-0.9" stroke="#0020ff"/>
<path d="M1486.1 293.9l0.5-2 0.7-1.9 0.7-1.8 0.8-2 0.9-2 0.9-1.9 1-1.9 1.1-1.8 1.1-1.6 1.6-1.3 1.6-1.1 1.6-1.2 1.2-1.4 0.8-2 0.6-2.6 0.5-2.7 0.5-2.2 0.7-1.2 1.3-0.1 2.4-0.1 2 0.3 0.8 0.5 0.7 0.7 0.5 1.3 0.5 1.9 0.4 2.4 0.4 2.6 0.3 2.3 0.4 2.5 0.4 2.5 0.5 2.3 0.6 2.3 0.7 2.5 0.7 2.5 0.8 2.3 0.7 2 0.8 2.1 0.7 1.2 0.6 0.1 0.6-0.5 0.6-0.9 0.5-1.3 0.5-2.2 0.6-2.3 0.5-2.4 0.5-2.8 0.5-2.8 0.4-2.7 0.5-2.9 0.5-3.1 0.4-2.5 0.5-2.3 0.4-2.1 0.5-1.7 0.4-1.5 0.5-0.6 0.5 0.4 0.4 1 0.3 1.7 0.4 1.8 0.3 2.1 0.3 2.7 0.4 3.2 0.3 2.9 0.3 2.5 0.4 2.9 0.4 3 0.5 2.3 0.6 1.7 0.5 1.7 0.7 1.3 0.8 0.2 1.4-0.6 2-1 2.2-1 1.6-1.2 1.2-1.9 1.2-2.1 1-2.3 1-2.1 0.9-1.7 0.8-1.1 0.8-0.4 0.8 0.4 0.6 1.5 0.7 2.3 0.6 2.8 0.5 3.2" stroke="#0020ff"/>
<path d="M1562 176.3l0.3-4.2 0.3-3.8 0.3-3.3 0.3-2.9 0.3-2.5 0.2-1.9 0.3-1.8 0.2-1.4 0.2-1.2 0.3-0.8 0.2-0.4 0.2-0.2 0.2 0.7 0.2 1.6 0.2 1.9 0.1 2.1 0.2 2.5 0.2 2.7 0.1 2.6 0.2 2.5 0.1 2.2 0.1 2.2 0.1 2 0.1 1.9 0.1 2.1 0.1 2.1 0.1 1.9 0.1 1.9 0.1 2.2 0.1 2.1 0.1 2 0.1 2.3 0.1 2.2 0.1 1.9 0.1 1.9 0.2 1.9 0.1 2 0.1 2.3 0.2 2.2 0.2 1.9 0.1 1.9 0.2 2.1 0.2 2.2 0.2 2.3 0.2 2.1 0.3 1.9 0.2 1.8 0.3 2 0.3 2.4 0.3 2.1 0.3 2.2 0.5 2.1 0.5 1.7 0.5 1.6 0.6 2 0.6 2.1" stroke="#0020ff"/>
<path d="M645.1 331.7l1.9-1 1.9-1 1.9-1.1 1.9-0.9 1.8-0.8 1.8-0.9 1.8-1.1 1.8-1.1 1.7-1.2 1.7-1.3 1.7-1.2 1.7-1.2 1.7-1.2 1.7-1.2 1.7-1.3 1.8-0.9 1.8-0.8 1.9-1.2 1.9-1 1.8-0.6 1.9-1 1.9-1.2 1.9-0.8 1.9-0.8 1.8-1.2 1.9-0.9 1.8-0.6 1.9-0.8 1.9-1 1.8-1" stroke="#0040ff"/>
<path d="M695 308.8l1.9-1 1.8-0.8 1.9-0.7 1.9-0.7 1.9-0.7 1.8-1 1.9-1.1 1.9-0.8 1.9-0.6 1.8-0.7 1.9-1 1.9-1 1.9-0.7 1.8-0.6 1.9-0.9 1.9-1.2 1.9-1 1.8-0.7 1.9-0.9 1.9-0.8 1.9-0.9 1.8-0.6 1.9-0.7 1.9-0.6 1.9-0.9 1.8-1.2 1.9-0.9 1.9-0.8 1.8-1.1 1.9-1 1.9-0.8 2-0.6 1.9-0.4 1.9-0.6 2-1 1.9-1.1 1.8-0.9 1.8-0.9 1.8-1.1 1.7-0.9 1.6-1.2 1.5-1.4 1.5-1.2 1.5-1.3 1.4-1.7 1.4-2 1.4-1.5 1.4-1.5 1.4-1.4 1.4-1.4 1.5-1.4 1.4-1.3 1.4-1.5 1.5-1.6 1.4-1.8 1.5-1.4 1.6-1 1.6-1.1 1.6-1.3 1.6-1.4 1.7-1.4 1.7-1.3 1.8-1.1 1.7-0.6 1.9-0.7 1.9-0.8 1.9-0.7 1.9-0.6 2-0.7 2-0.6" stroke="#0040ff"/>
<path d="M1302.1 344.7l2 0.1 2 0.2 2 0.6 2 0.6 2.1 0.2 2 0.2 2-0.4 2.1-0.3 2 0.1 2 0 2.1-0.2 2 0 2 0.1 2.1 0.2 2-0.3 2-0.4 2.1-0.1 2-0.1 2 0.1 2-0.2 2-0.5 2-0.2 2.1-0.2 2-0.4 2-0.3 2-0.5 2-0.3 2.1-0.2 2-0.3 2.1-0.4 2-0.4 2.1 0 2-0.1 2-0.5 2-0.6 1.9-0.5 1.9-0.1 1.9-0.4 1.9-0.7 1.9-1 1.7-1.5 1.6-1.2 1.7-1.1 1.6-1.3 1.5-1.6 1.4-1.7 1.2-1.6 0.9-1.7 0.8-1.9 0.7-1.9 0.5-2.1 0.6-2.1 0.6-2.1 0.7-2 0.8-1.4 1.1-1.2 1.3-1.4 1.6-1.3 1.8-1 1.8-1.3 1.8-1.3 1.8-0.9 1.7-1 1.7-1.4 1.7-1.2 1.7-1 1.8-1 1.7-1.1 1.8-1 1.9-0.7 1.9-0.6 1.9-0.5 2-0.3 2-0.6 2.1-0.6 1.9-0.4 2-0.5 2.2-0.5 1.9-0.6 1.3-1 0.9-1.5 0.8-2 0.6-2.2 0.5-1.7 0.5-1.9 0.4-2.4 0.5-2.2 0.4-2.4 0.6-2.6 0.6-2 0.7-1.5 0.9-1.2 1.4-1.2 1.9-0.9 1.6 0.1 1.6 0.4 1.5 0.7 1.4 1.5 1.3 1.7 1.3 1.9 1.1 2.6 1 3.2" stroke="#0040ff"/>
<path d="M1455 264.8l1.4 1.7 1.3 1.4 1.4 1.7 1.4 1.8 1.3 1.6 1.4 1.4 1.4 1.3 1.3 1.7 1.4 2 1.4 1.7 1.3 1.4 1.4 1.5 1.4 1.7 1.4 1.5 1.5 1.8 1.5 1.7 1.4 1.4 1.3 1.4 1.1 1.7 0.9 1.9 0.8 2 0.8 2.2 0.7 2.1 0.6 2 0.5 2.3" stroke="#0040ff"/>
<path d="M1610.2 305.2l0.7 2.5 0.8 0.6 0.8 1.5 0.7 3 0.7 2.3 0.8 2.8 0.7 1.6 0.7 0.6 0.7 1.6 0.6 1.5 0.6 3 0.7 3.6 0.7 1.6 0.9 0.2 1.2 0 2-0.9 1.6-1.4 0.7-1.2 0.6-0.8 0.5-1.4 0.4-2.9 0.3-2.4 0.4-2.1 0.3-2.4 0.2-1.6 0.3-2.3 0.2-3 0.3-2.2 0.3-1.4 0.3-1.2 0.3-1.5 0.3-2.2 0.3-2 0.2-1.5 0.3-2 0.2-2.3 0.2-2.2 0.3-1.8 0.3-2.7 0.2-3.1 0.4-1.8 0.3-2.1 0.4-2.5 0.4-2.1 0.6-2.1 0.7-1.7 1-2.6 1-2.8 1-0.6 1 0.9 0.9-0.3 0.7-0.6 0.7 1.2 0.7 1.9 0.6 2 0.6 1.6 0.6 1.5 0.6 2.2 0.5 3.7 0.5 3.4 0.5 2.5 0.4 1.7 0.3 1.2 0.4 1.2 0.3 1.3 0.3 2.2 0.3 3.4 0.3 3.7 0.3 2 0.3 0.3 0.4 0.6 0.4 0.5 0.4-2.1 0.5-2.3 0.4-0.4 0.5-1.5 0.4-4.7 0.5-5.4 0.5-2.1 0.5-1 0.5-3.3 0.5-3.2 0.5-1.5 0.5-1.5 0.6-1.8 0.5-1.5 0.6-2.5 0.6-3.1 0.6-2.2 0.6-1.4 0.6 0 0.6 0.7 0.5 0.6 0.6 1.1 0.5 1.8 0.6 3.2 0.6 3.5 0.6 2.8 0.6 1.7 0.7 1.1 0.9 0.6 0.8 1.5 0.6 3.5 0.5 1.4 0.4-3.1 0.4-4.8 0.3-3 0.3-1.3 0.3-2.7 0.3-2.9 0.4-1.5 0.3-0.8 0.5-0.6 0.5-1.2 0.8-1.1 1.3 0 1.6 1.2 1.5 3.1 1 1.3 0.5-1.7 0.4 0.2 0.3 0.5 0.2-2.9 0.3-4.3 0.2-3.1 0.1-2.5 0.2-2.7 0.2-1.5 0.3-1.2 0.3-2.5 0.3-0.5 0.4 2.6 0.5 2 0.5 0.8 0.5 2.8 0.6 5.1 0.5 1.3 0.6-3.1 0.5-3.1 0.6-2.6 0.8-1.1 1 0.8 1.3 0.5 1.6 1 1.6 1.5 1.7 1.5 1.7 1.2 1.5 0.3 1.3 1.8 1.1 3.4 1.1 1.9 1 2 0.9 2.2 0.8 0.3 0.8 0.9 0.6 2.1 0.6 1.4 0.6 1.9 0.5 3.1 0.5 2.5 0.6 0.9 0.5 1.1 0.6 1.2 0.6 0 0.6-1.6 0.5-1.3 0.6-1.6 0.6-2.4 0.6-4 0.6-5.6" stroke="#0040ff"/>
<path d="M210.3 318.6l2.1 0 2 0.2 2 0.4 1.9 0.1 1.9 0.8 1.8 1.1 1.9 0.8 1.8 0.6 2 0 1.9-0.3 2-0.6 2-0.6 2-0.3 2-0.1 2.1 0.2 2 0.2 2 0.3 2-0.1 2-0.5 2 0 2 0.3 2.1-0.4 2-0.2 2-0.1 2-0.3 2 0 2 0.1 2-0.3 2.1-0.5 2 0 2 0.1 2 0.1 2-0.3 2-0.1 2 0.6 2 0.6 2 0.1 2.1-0.2 2-0.2 2 0.2 2 0.5 2 0.4 2 0.2 2 0.2 2 0.1 2.1 0.2 2 0.3 2 0.3 2.1 0.4 2 0.6 1.9 0.1 1.9 0.3 1.9 0.6 1.9 0.6 1.8 1 1.7 1.1 1.8 1 1.7 0.9 1.7 1.1 1.7 1.3 1.7 1.2 1.7 1.2 1.8 1 1.8 0.6 1.9 0.6 1.9 0.8 1.9 0.6 2 0.3 2 0.3 2 0.5 2 0.3 2 0 2 0.1 2 0.5 2 0.5 2.1 0.3 2 0.3 1.9 0.5 2 0.4 2 0.3 2 0.5 2 0.7 1.9 0.6 2 0.4 2 0.3 2 0.6 1.9 0.5 2 0.5 2 0.2 2 0.3 2 0.3 2-0.1 2-0.1 1.9-0.3 2-0.2 2-0.3 2-0.5 2-0.4 2-0.3 2 0 2-0.2 2-0.7 2-0.4 2-0.1 2-0.4 2-0.7 2-0.2 2 0.1 2-0.2 2-0.4 2-0.4 2.1-0.2 2 0.1 2 0.2 2-0.3 2-0.4 2-0.1 2 0 2-0.3" stroke="#0060ff"/>
<path d="M209.6 334.3l2.1 0.4 2 0.6 2.1 0.3 2.1-0.2 2 0 2.1 0.2 2.1-0.4 2-0.4 2.1-0.2 2-0.2 2.1-0.5 2.1-0.4 2.1-0.3 2-0.3 2 0.1 1.8 1 1.8 1.7 1.7 1.5 1.8 0.9 1.9 0.2 2-0.1 2.1-0.2 2.1-0.5 2-0.5 2-0.6 2-0.6 2-0.8 2-0.5 2-0.3 2.1-0.3 2-0.6 2.1-0.5" stroke="#0060ff"/>
<path d="M790.7 259.4l2.1 1.2 2.1 0.7 1.9 0.5 1.7 0.3 1.5-0.2 1.5-1.4 1.3-2.2 1.2-2.3 1.3-2 1.2-1.3 1.4 0.1 1.3 1.7 1.4 2.5 1.3 2 1.4 0.1 1.3-1.7 1.3-2.1 1.3-2.1 1.3-1.5 1.3-0.5 1.2 1.1 1.3 1.9 1.3 1.9 1.3 1.6 1.4 1 1.5-0.8 1.7-2 1.5-1.6 1.2 0 1.1 0.9 0.9 1.8 0.8 2.5 0.7 3 0.8 2.7 0.8 2.2 0.9 2 1.1 1.4 1.2 0 1.5-1.4 1.7-1.7 1.8-1.4 1.9-1 1.9-0.3 2.2-0.1 2.3 0 2.2-0.2 1.9-0.4 1.5 0.1 1.2 1 1 1.6 1 1.9 0.9 2.4 0.7 2.6 0.7 2 0.6 1.9 0.5 2 0.5 1.8 0.4 1.7 0.3 2.1" stroke="#0060ff"/>
<path d="M938.3 281.4l1.8 1.8 1.8 1.6 1.9 1.5 2 1.2 2.1 0.6 2.1 0.5 2.3 0.7 2.4 0.5" stroke="#0060ff"/>
<path d="M950 287.4l2.2 0.2 2.1 0.5 2 0.3 1.8 0 1.7 0.3 1.6 1 1.5 1.3 1.5 1.4 1.4 1.7 1.5 1.9 1.5 1.6 1.5 1.4 1.6 1.2 1.6 1.3 1.7 1.3 1.6 1.1 1.7 1 1.7 1.4 1.7 1.4 1.7 1.3 1.8 1 1.7 1 1.8 1 1.7 0.9 1.8 0.9 1.8 0.8 1.8 0.8 1.9 0.7 1.8 0.7 1.9 0.8 1.9 1 1.8 0.7 1.9 0.8 1.9 0.9 1.8 0.8 1.8 1 1.8 1.2 1.8 0.9 1.8 0.9 1.8 1.1 1.8 1.2 1.8 0.9 1.8 0.9 1.8 1.1 1.8 1.1 1.8 1 1.8 0.9 1.8 0.7 1.8 0.6 1.8 0.6 1.8 1.1 1.8 1.2 1.9 1.1 1.8 0.7 1.9 0.6 1.9 0.7 1.9 0.6 2 0.6 1.9 0.7 2 1 1.9 0.7 2 0.3" stroke="#0060ff"/>
<path d="M1682.4 197.7l2-1.2 1.5-0.7 1.3 0.5 1 0.6 1 1.5 0.9 3.8 0.8 3.8 0.8 1.1 0.7 1.1 0.7 3.5 0.7 2.5 0.7 1.1 0.8 3.1 0.7 3.1 0.8 0.5 0.7 0.8 0.8 1 0.8 0.9 0.8 2.8 0.9 4 0.9 2.2 1 2 1 2.6 1.1 0.9 0.9 1.5 1 2.1 0.8 0.6 0.8 1.2 0.7 1.9 0.7 2.3 0.6 3 0.6 2.3 0.6 0.5 0.5 0.9 0.5 3.2" stroke="#0060ff"/>
<path d="M970.5 327.7l1.8 1.1 1.8 1.3 1.8 1.2 1.8 0.7 1.9 0.6 1.8 0.8 1.9 0.9 1.8 1.1 1.9 1 1.9 0.7 1.9 0.5 1.9 0.5 1.9 0.7 1.9 0.9 1.9 1.1 1.8 1 1.8 0.7 1.9 0.7 1.8 1 1.8 1.2 1.8 1.2 1.8 0.8 1.8 0.4 1.8 0.7 1.9 1.3 1.8 1.2 1.8 1 1.8 0.9 1.9 0.7 1.8 0.7 1.9 0.8 1.8 0.9 1.9 0.8 1.9 0.6 1.9 0.9 1.9 1.1 1.9 0.9 1.9 0.4 1.9 0.3 1.9 0.7 2 0.8 1.9 0.5 2 0.6 2 0.5 2 0.5 2 0.4 2 0.3 2 0.8 2 0.4 2.1 0 2-0.1 2 0 2-0.1 2-0.5 2.1-0.4 2-0.2 2-0.3 2.1 0 2-0.2 2-0.5 2.1-0.2 2-0.2 2-0.1 2-0.1 2.1-0.3 2-0.5 2-0.1" stroke="#0080ff"/>
<path d="M695 329l2 0.1 2.1-0.4 2-0.4 2-0.2 2 0 2 0.2 2.1-0.2 2-0.6 2.2-0.2 2.1-0.1 2.1-0.5 1.9-0.5 1.8-0.5 1.6-0.8 1.3-1.5 1.1-2.2 1.1-2.1 1.1-1.8 1.2-1.6 1.3-1.2 1.5 0.1 1.7 0.7 2 0.9 2 1.1 1.9 1.1 1.8 0 1.8-0.6 1.8-0.9 1.8-0.8 1.8-0.9 1.8-1.2 1.7-1.4 1.7-1.3 1.7-1.1 1.6-1.3 1.6-1.3 1.6-1.1 1.5-1.2 1.5-1.4 1.5-1.6 1.5-1.6 1.4-1.5 1.5-1.6 1.5-1.3 1.4-1.3 1.4-1.8 1.3-2 1.4-1.7 1.4-1.2 1.5-1.1 1.7-0.2 1.7 0.5 1.9 0.7 1.9 0.9 2 1 2 0.8 2 0.6 1.9 0.2 1.9-0.1 2-0.4 1.9-1 1.9-1.1 1.7-1.2 1.6-1.4 1.5-1.4 1.3-1.9 1.3-2.1 1.2-1.9 1.2-1.8 1.3-1.6 1.4-1 1.6-0.3 1.8 0.3 2 0.5 2.2 0.5 2.1 0.2 1.9 0.1 1.9 0.6 1.8 1 1.8 0.9 1.8 0.6 1.8 1.1 1.8 1.4 1.8 1 1.8 0.9 1.8 1.4 1.7 1.1 1.8 1 1.8 1.1 1.8 0.9 1.9 0.5 1.9 0.1 1.9-0.1 2-0.3 2-0.3 2-0.1 2-0.3 2-0.4 2.1-0.4 2-0.2 2-0.3 2.1-0.3 2 0 2 0.7 2 0.8 2 0.6 2 0.4 2 0.3 1.8 0.1 1.8-0.7 1.7-1.4 1.7-1.4 1.8-0.8 1.9-0.3 2-0.1 2-0.1 2.1-0.4 2-0.2 2.1-0.1 2-0.4 2-0.2 2 0 2.1-0.2 2-0.2 2-0.1 2-0.3 2-0.7 2-0.4 2-0.1 2-0.3 1.9-0.4 2-0.2 1.9-0.6 2-0.9 1.9-0.9 1.9-0.7 2-0.4 1.9-0.6 1.9-0.7" stroke="#009fff"/>
<path d="M1571.1 230.5l1.8 1.3 2 1 1.9 1.2 2.1 0.6 2.1-0.2 2.4-0.7 2.1-0.5 1.1 0.1 0.7 1.2 0.6 2.3 0.5 2.9 0.3 2.8 0.4 2.6 0.3 2.1 0.3 2.1 0.3 2.2 0.2 2.1 0.2 2.1 0.1 2.6 0.1 2.3" stroke="#009fff"/>
<path d="M242.4 310.7l2 0.4 2 0.6 2 0.4 2 0.4 2 0.5 2 0.3 2 0.1 2 0.5 2 0.4 2 0.1 2 0.6 1.8 1 1.9 0.9 1.8 1 1.9 1 2 0.2 1.9-0.3 2 0.1 2 0.5 2.1 0.3 2 0.1 2.1 0 2 0.2 2.1 0.1 2 0.1 2 0.3 2 0.5 2 0.3 2 0.4 2 0.6 2 0.6 1.9 0.5 2 0.4 2 0.3 2 0.5 2 0.3 2 0.1 2 0 2.1 0 2 0 2-0.1 2.1 0 2 0.1 2-0.1 2-0.3 2.1-0.1 2 0.1 2 0.3 2.1 0.4 2 0.2 2 0.4 2 0.3 2-0.2 2.1-0.1 2 0.5 2 0 2 0 2 0.6 2 0.5 2 0.4 2 0.5 2 0.1 2 0.3 2 0.4 2 0.3 2 0.4 2 0.3 2 0.5 2 0.6 2.1 0.1 2-0.2 2 0.1 2 0.3 2 0.5 2 0.7 2 0.2 2-0.2 2 0.5 2 0.6 2 0.3 2 0.1 2 0.2 2 0.3 2 0.4 2 0.4 2.1 0.1 2 0.5 2 0.4 2 0 2 0.5 2 0.6 2 0.3 2 0.3 2 0.3 2 0.3 2 0.2 2.1-0.1 2 0.1 2 0.3 2 0 2 0.1" stroke="#00bfff"/>
<path d="M440 346.5l2 0.7 2.1 0.7 2 0.9 2.1 0.6 2 0.2 2.1 0.3 2.1 0.6 2.1 0.6 2.2 0.4 2.1 0.2 2.2 0.3 2.1 0.4 2.1-0.1 2.1-0.2 2.1-0.4 2.1-0.5 2.1-0.8 2-0.9 2-0.9" stroke="#00bfff"/>
<path d="M665.6 330.2l2.1-0.6 2.1-0.9 2.1-0.6 2.1-0.3 2.1-0.2 2.1-0.3 2.2 0.1 2.1 0.2 2.1 0.1 2.2 0 2.1-0.1 2.2 0 2.1 0.1 2.2 0.2 2.2 0.5 2.1 0.3" stroke="#00bfff"/>
<path d="M1105.8 333.4l2.3 0 2.2 0.1 2.2-0.4 2.3-0.3 2.2 0 2.2-0.4 2.2-0.4 2.2-0.2 2.2-0.4 2.2-0.3 2.2-0.4 2.2-0.9 2.2-0.7" stroke="#00bfff"/>
<path d="M578.1 307.4l2 2 2 1.7 2 0.3 2-0.2 2.1-0.3 2 0.2 2.1-0.5 2.1-1.2 2.1-0.2 2 0.1 2.1 0.3 2.1 0.2 2.1 0 2.1 0.3 2.1 0.4 2 0 2.1-0.1 2.1 0.3 2.1 0.3 2.1 0 2.1-0.1 2.1 0 2.1 0.4 2.1-0.5 2.1-0.5 2.1 1.1 2.1 0.3" stroke="#00ffff"/>
<path d="M1223.5 306l1.4 1.1 1.4 1.3 1.4 1.5 1.5 1.6 1.4 1.5 1.4 1.3 1.4 1.5 1.4 1.6 1.4 1.5 1.4 1.4 1.4 1.4 1.6 1.2 1.7 1.1 1.8 1 1.9 0.7 2 0.5 1.9 0.6 1.9 0.4 2 0.4 2 0.5 2 0.3 2 0.1 2.1 0 2 0.2 2 0 2.1 0 2 0.3 2 0.3 2 0 2.1 0.2 2 0.2 2-0.1 2 0.1 2-0.1 2 0.1 2 0.1 2-0.6 2-0.9 1.9-0.5 2-0.4 1.9-0.5 2-0.4 2-0.4 2-0.4 2-0.2 2 0 2-0.1 2-0.1 2-0.1 2.1-0.3 2-0.1 2-0.1 2.1-0.3 2 0.1 2 0 2-0.1 2-0.3 2-0.6 1.9-0.4 2-0.5 2-0.7 2-0.3 2-0.2 2-0.3 2 0 2 0 2-0.1 2-0.5 2-0.2 2.1 0.1 2 0.1 2 0 2-0.2 2.1-0.2 2 0 2 0 2-0.1 2 0.1 2.1 0.3 2 0.2 2-0.1 2 0.1 2.1 0.5 2 0.3 2 0.1 2 0 2 0.1 2 0.5 2 0.5 2 0.5 1.9 0.3 1.9 0.3 2 0.5 1.9 0.6 1.9 0.8 1.8 1 1.9 1 2 0.9 1.9 0.7 1.9 0.3 2 0.1 1.9 0.2 2 0.4 2 0.5 2.1 0.3 2 0.3 2 0.3 2.1 0 2 0 2 0.1 2.1 0.2 2 0.1 2 0.2 1.9 0.1 2 0 1.9 0.1 2-0.4 1.9-0.7 1.9-0.7 2-0.7 1.9-0.8 1.9-0.7 1.9-0.8 1.9-1 1.8-1" stroke="#00ffff"/>
<path d="M1455 330.4l2-0.6 2-1.1 2-0.8 2-0.5 2.1-0.7 2-0.4 2.1 0 2.2 0 2.1 0.1 2.1-0.2 2.2-0.2 2.1-0.1 2.1 0 2.2-0.1 2.1-0.1 2.1 0.3 2.1 0.1 2.2-0.1 2.1-0.1" stroke="#00ffff"/>
<path d="M923.3 305.4l1.6-2.2 1.6-1.6 1.8-0.8 1.9-0.5 2-0.2 2.2 0.3 2.3 0.7 2.2 0.9 2.1 0.3 1.9-0.4 1.9-0.8 1.8-0.9 1.8-1.3 1.7-1.6 1.6-1.7 1.6-1.9 1.4-2.3" stroke="#20ffdf"/>
<path d="M950 297.4l1.1-2.4 1.2-2.4 1.3-2 1.3-1.4 1.4-1 1.6-0.3 1.6 0.2 1.8 0.4 1.9 0.5 2.1 0.8 2 1.1 1.9 1 1.7 0.8 1.6 1 1.5 1.6 1.6 1.8 1.6 1 1.8 0.5 1.9 0.7 2 0.4 2.1 0.2 2 0.5 2.1 0.5 2 0.1 2 0 2 0.2 2 0.4 2 0.2 2.1 0.2 2 0.2 2 0 2-0.4 2-0.1 2.1 0.2 2 0 2-0.1 2-0.1 2.1 0 2 0 2 0.1 2.1 0.2 2 0.1 2 0.1 2.1 0.2 2-0.3 2-0.2 2 0.2 2-0.1 2-0.2 1.9 0.3 2 0.7 2 0.7 1.9 0.8 2 0.5 1.9 0.7 2 0.7 1.9 0.5 1.9 0.7 2 0.6 2 0.4 2 0.7 1.9 0.7 2 0.7 1.9 0.6 1.8 0.5 1.8 0.7 1.7 1 1.6 1.2 1.6 1.8 1.6 1.7 1.6 1.1 1.7 0.9 1.7 0.9 1.8 0.8 1.8 0.8 1.8 1 1.9 0.9 2 0.8 1.9 0.6 2 0.8 1.9 0.5 2 0.3 2 0.3 1.9 0.3 2-0.2 2-0.5 2 0.2 2 0.4 2.1-0.1 2-0.4 2-0.5 2.1-0.1 2 0.1 2 0 2.1-0.2 2-0.1 2.1 0.4 2 0.7 2 0.3 2-0.1 1.9-0.1 1.9 0 1.9-0.4 1.8-1 1.7-1.5 1.8-1.3 1.8-0.9 1.8-1 1.8-1 1.9-1 1.8-0.9 1.9-0.9 1.9-0.9 1.9-0.6 1.9-0.4 1.9-0.5 2 0 1.9-0.1 2-0.5 2-0.2 2 0.1 2.1 0.1 2-0.1 2.1-0.1 2-0.2 2.1-0.2" stroke="#20ffdf"/>
<path d="M267 328.7l2.2-0.1 2.1-0.1 2.1-0.1 2.1-0.4 2.2-0.2 2.1-0.2 2.1-0.5 2.3-0.2 2.3-0.3 2.1-0.4 2-0.4 1.7-0.2 1.4 1.3 1.3 2.2 1.2 2.3 1.4 2.1 1.6 1.1 2 0.8" stroke="#40ffbf"/>
<path d="M349 334.4l1.9-1 1.8-1.1 1.9-1.1 1.8-1 1.9-0.5 1.9-1 1.8-1.2 1.9-0.7 1.9-0.4 2-0.7 1.9-0.8 1.9-0.9 2-1 1.9-0.5 2-0.7 1.9-1 2-1 2-0.6 2 0 2 0.5 2.1 0.7 2 0.6 1.9 0.6 1.8 0.7 1.6 1.3 1.5 1.4 1.5 1.6 1.5 1.7 1.6 1.4 1.7 0.9 1.9 0.9 1.9 1 1.9 0.8 2 0.8 2 0.8 2 0.4 1.9 0.3 2 0.9 2 0.8 2 0.3 2 0.3 2 0.3 2.1 0.5 2 0.7 2 0.3 2.1 0 2.1 0.5 2.1 0.6 2 0.1 2.1 0" stroke="#40ffbf"/>
<path d="M985.5 248.8l2.1-2.3 1.9-1.7 1.9-0.8 1.8-0.3 1.7-0.2 1.6-0.1 1.6 0.9 1.5 1.7 1.1 1.8 0.8 1.8 0.5 1.9 0.4 2.2 0.5 2 0.5 2 0.6 1.9 0.9 1.4 1.7 1.1 2.2 0.9 1.6 1 1.1 1.6 0.9 2.2 0.8 2.4 0.7 2.6 0.8 2.3 0.8 1.4 1.1 0.3 1.4-0.1 1.9-0.3 2.2-0.7 2.1-0.8 1.9 0.1 1.7 0.8 1.8 1.1 1.7 1.3 1.8 1.6 1.8 1 2 0.2 2-0.1 2.1 0.2 2.1 0.2 2 0.3 1.9 0.3 1.9 0.7 1.9 1 1.9 1.1 1.9 1 1.7 0.8 1.8 0.9 1.6 1.2 1.5 1.4 1.4 1.5 1.4 1.8 1.3 2 1.4 1.5 1.4 1.4 1.6 0.9 1.7 0.7 1.9 0.5 2.1 0.6 2 0.5 2 0.3 1.9 0.7 1.8 1.1 1.7 1.1 1.7 1 1.7 1.2 1.8 1.2 1.7 1.1 1.8 1.1 1.8 1.1 1.8 1 1.8 0.9 1.8 0.8 1.9 0.7 1.8 1 1.8 1.1 1.9 1 1.8 1 1.8 0.8 1.8 0.7 1.8 0.7 1.8 0.8 1.9 1.1 1.9 1.1 1.9 0.6 1.9 0.9 1.9 0.5 2 0.1 1.9 0.7 2 1 2.1 0.5" stroke="#40ffbf"/>
<path d="M1168.7 339.1l2.1 0.4 2.2 0.3 2.1 0.2 2 0 2.1 0.3 2.1 0.5 2.1 0.8 2.1 0.7 2 0.1 2.1 0.3 2 0.7 2.1 0.4 2 0.8 2 1 2 0.9 2.1 0.7 2 0.7 2 0.5 2 0.7 1.9 0.7" stroke="#40ffbf"/>
<path d="M1205 304.6l2.6 0.1 2.6 0 2.6 0.1 2.6 0.3 2.6 0.3" stroke="#40ffbf"/>
<path d="M1205 347.5l2.1 0.8 2.2 0.5 2.2 0.5 2.2 0.8 2.1 0.6 2.2 0.1 2.2 0 2.3 0.2 2.2 0.1 2.2-0.2 2.3-0.2 2.2-0.2 2.3-0.4" stroke="#40ffbf"/>
<path d="M212.3 345.6l2.1-0.3 2-0.1 2.1-0.2 2-0.2 2.1-0.2 2 0 2.1 0.2 2 0.1 2.1-0.5 2-0.5 2.1 0.1 2.1 0.3 2-0.1 2.1-0.4 2-0.3 2.1 0.1 2-0.1 2-0.5 2-0.5 2-0.6 2-0.8 1.9-0.5 2-0.3 2.1-0.1 2 0 2.1 0.2 2-0.2 2.1-0.4 2.1-0.4 2-0.1 2 0.1 2.1 0.6 2 0.8 2 0.5 2 0.3 2 0.5 2 0.3 2.1-0.2 2 0 2.1 0 2.1-0.3 2-0.3 2-0.2 2-0.5 2-0.6 2.1-0.7 2-0.8 2-0.7 1.8-0.6 1.8-1.2 1.6-1.2 1.4-0.9 1.4-1.3 1.3-1.7 1.2-1.9 1.2-2 1.2-2.2 1.1-2.1 1.1-2 1.1-1.4 1.2-0.2 1.4 1.6 1.5 2 1.6 0.7 1.9-0.1 2.1-0.8 2.2-1" stroke="#60ff9f"/>
<path d="M982.8 303.9l2-1.7 1.9-1.5 1.9-0.9 1.8-0.1 1.7-0.1 1.6 0.3 1.5 1.4 1.5 1.9 1.4 2.1 1.4 1.5 1.6 0.3 1.6-1.4 1.7-1.9 1.5-1.2 1.4 0.6 1.2 2 1.2 2.4 1.3 2.1 1.3 1.2 1.6 0.2 1.8-0.2 1.9-0.5 2.1-0.7 2.1-1 2-1.1 2-0.8 1.9-0.4 1.9-0.5 2-1 1.9-0.7 1.9-0.3 2-0.3 1.9-0.2 1.9 0.2 2 0.5 1.9 0.7 2 0.5 1.9 0.5 2 0.9 1.9 1 2 0.5 1.9 0.3 2 0.1 1.9-0.2 2.1-0.3 2-0.6 2-0.7 2-0.6 1.9-0.8 1.8-0.6 1.7 0.5 1.6 1.8 1.6 2.2 1.5 1.6 1.7 0.8 1.8-0.1 2.1-0.3 2.1-0.5 2-0.4 1.7 0.2 1.5 1 1.4 1.5 1.3 1.6 1.3 1.8 1.4 1.9 1.4 1.6 1.5 0.8 1.7 0.9 1.8 1 1.9 0.8 2 0.6 2 0.4 2.1 0.3 2 0.1 1.9 0.3 2 0.6 2 0.3 2.1 0.1 2 0.2 2 0.2 2 0 2-0.1 2.1 0 2 0 2 0.1 2.1-0.1 2-0.4 2.1 0.1 2 0.4 2 0.3 2-0.1 2-0.3 2-0.1 2 0.1 1.9 0 1.9 0.1 1.9-0.2 1.9-0.6 1.9-1 1.9-1.3 1.9-1.2 1.8-0.8 1.9-0.5 1.8-0.7 1.8-1 1.9-1.1 1.8-1.1 1.7-1 1.8-1.2 1.7-1.3 1.8-1 1.7-0.9 1.8-0.8 1.7-0.9 1.8-0.9 1.8-0.8 1.9-0.7 1.9-0.4 1.9-0.4 2-0.4 2-0.7 2-0.5 2-0.1 2-0.1" stroke="#60ff9f"/>
<path d="M189.1 329.3l1.9 1 1.9 1 1.9 0.7 1.9 0.7 1.9 0.8 1.9 0.9 1.8 0.9 1.9 0.8 1.9 0.9 1.9 0.8 1.8 0.7 1.9 1 1.9 1.2 1.9 0.9 1.9 0.6 1.9 0.6 2 0.6 1.9 0.7 1.9 0.9 2 0.7 1.9 0.2 2 0.4 2 0.6 2 0.8 2 0.8 1.9 0.8 2 0.6 2 0.6 1.9 0.9 2 0.7 2 0.3 2 0.1 2 0.1 2.1 0 2.1-0.2 2-0.6 2-0.8 1.7-0.8 1.7-1.3 1.5-1.5 1.5-1.7 1.6-1.4 1.5-1.1 1.6-1.5 1.5-1.8 1.5-1.4 1.5-1.2 1.6-1.2 1.6-1.3 1.7-1.3 1.7-1.2 1.9-0.9 1.9-0.6 1.9-0.6" stroke="#80ff80"/>
<path d="M785.9 271.5l1 3.2 1 2.7 1.1 1.9 1.1 1.6 1.1 1.2 1.2 0.5 1.3 0.3 1.2-1.1 1.4-2.5 1.4-2 1.4-0.7 1.4 0.7 1.4 1.2 1.4 1.5 1.3 1.9 1.4 2.1 1.3 1.8 1.2 1.7 1.2 1.6 1.1 1.8 1.2 2 1.2 1.4 1.3 1.3 1.4 1.3 1.6 1.3 1.7 1 1.8 1.1 1.9 1 1.9 0.7 1.9 0.8 1.9 0.8 2 0.6 1.9 0.9 1.9 0.8 1.9 0.6 1.9 1.1 2 0.6 2 0.3 1.9 0.3 2 0 2-0.2 2-0.2 2-0.5 2-0.6 2.1-0.3 2-0.1 2-0.1 1.9 0.2 2 0.4 2 0.6 1.9 0.6 2 0.7 2 0.8 1.9 0.6 2 0.7 2 0.6 2 0.3 2 0.3 1.9 0.5 2 0.7 1.9 0.9 1.8 0.5 1.8 0.5 1.7 1.3 1.6 1.5 1.5 1.4 1.7 1.5 1.7 1.1 1.8 0.5 2 0.3 2.1 0.5 2 0.7 1.8 0.7 1.5 0.7 1.4 1.3 1.2 1.8 1.2 1.8 1.3 1.8 1.4 1.5 1.4 1.3 1.6 1.3 1.5 1.3 1.6 1.4 1.5 1.5 1.6 1.4 1.5 1.3 1.5 1.3 1.5 1.2 1.5 1.3 1.5 1.5 1.4 1.8 1.5 1.4 1.5 1.3 1.4 1.3" stroke="#80ff80"/>
<path d="M1120.2 317.5l1.8 1.4 1.8 1.1 1.9 1.1 1.9 1 1.9 1.1 2 1.1 1.9 0.8 2.1 0.5 2 0.4 2.1 0.4 2.1 0.6 2.2 0.3 2.1 0 2.2 0.2 2.3 0.3 2.3 0 2.3-0.2" stroke="#80ff80"/>
<path d="M1623.7 274.8l0.4 4.6 0.4 2.4 0.4 0.8 0.4 3.1 0.4 3 0.4 0.9 0.4-0.8 0.4-1.6 0.4-0.4 0.4 0.5 0.4-1.1 0.4-3.2 0.4-3.4 0.4-2.6 0.4-1.2 0.3-1.1 0.4-2.9 0.3-2.3 0.3-2 0.2-3.2 0.3-2.8 0.2-1.8 0.3-1.7 0.2-2.1 0.3-1.2 0.2-2.2 0.3-3.4 0.3-1.4 0.3-1.7 0.4-3.7 0.4-2.3 0.4-0.6 0.5-1.9 0.5-2 0.6-1 0.7-1 1-0.2 2 0.1 2.4-1.2 2.2-1.6 1.7-1 1.1-2 1-1.7 0.8-0.1 0.7-2 0.7-2.9 0.7 0 0.7 0.2 0.7-4.6 0.9-5.2 1-0.6 1.2 0.3 1.6-1 1.8-1.1 1.7-2.5 1.3-1.5 1.1 2.2 1 3.7 1 3.2 1.2 1.8 1.3 0.6 1.5-1.1 1.7-3.1 1.7-1.7 1.7 0.2 1.7-0.4 1.7-1.6 1.7-3.9 1.7-2.4 1.6 1.7 1.7 1.9 1.6-0.1 1.6 1.2 1.5 3 1.5 2 1.3 1.1 1.3 0.6 1.2 2.1 1.2 3.3 1.2 1.4 1.2 0.6 1.2 0.2 1.2 0.8 1.3 1.2 1.4 1.1 1.5 2.6 1.3 3.2 1.2 2.2 1 1.9 0.8 1.1 0.9 0.5 0.7 1.4 0.7 2.8 0.6 4.2 0.5 2.4" stroke="#80ff80"/>
<path d="M445.5 313.5l1.9 0.7 2 0.9 2 0.5 2 0.2 2 0.6 2 0.8 2.1 0.2 2-0.2 2-0.2 2.1-0.2 2 0.1 2.1 0.1 2-0.1 2.1-0.2 2-0.4 2.1 0.2 2 0.4 2 0.4 2.1 0.4 2 0.3 2.1-0.2 2 0.1 2-0.1 2.1-0.5 2-0.6 2.1-0.4 2 0.1 2 0 2.1-0.1 2 0.1 2.1 0.5 2 0.4 2.1 0.1 2 0 2.1 0.1 2 0.3 2.1 0.1 2 0 2 0 2.1-0.1 2 0.2 2.1 0.4 2.1 0.3 2 0 2.1-0.1 2 0.2 2.1 0.2 2-0.1 2 0 2.1 0.1 2 0.3 2.1 0.2 2 0.1 2 0 2 0.3 2 0.6 2.1 0.8 2 0.5 2 0.5 2 0.3 2 0.3 2.1 0.4 2 0.1 2 0 2.1 0.2 2 0.3 2.1 0.3 2 0.5 2 0.5 2 0 2.1-0.2 2 0.2 2 0.7 2 0.7 2 0.1 2 0 2 0.7 2 0.7" stroke="#9fff60"/>
<path d="M1205 334.5l2 0.8 2 0.6 1.9 0.4 2 0.5 2 0.5 2 0.5 2 0.4 2.1 0.4 2 0.2 2 0.1 2 0.5 2.1 0.3 2 0.2 2.1 0.3 2 0 2 0.1 2.1 0.3 2 0.1 2.1-0.2 2 0.1 2.1 0 2-0.3 2.1-0.3 2 0.2 2.1-0.2 2-0.4 2.1-0.3 2-0.2 2.1 0 2.2-0.2 2.1-0.2 2.1-0.1 2.1-0.4 2-0.5 2-0.2 1.9-0.4 1.8-0.7 1.7-0.7 1.6-0.7 1.4-1.4 1.5-1.7 1.4-1.7 1.4-1.9 1.5-1.6 1.6-1.3 1.6-1.2 1.8-0.7 1.9-0.5 2-0.7 2-0.7 2-0.9 2.1-0.5 2 0 2-0.1 2.2-0.1 2.1-0.2 2.2-0.4 2.2-0.3 2.1-0.2 2-0.6 2-0.2 1.9-0.3 1.7-0.2 1.5-0.6 1.5-1.5 1.4-2 1.3-2 1.2-1.9" stroke="#9fff60"/>
<path d="M190.5 325.8l2 0.2 2 0.5 2.1 0.4 2 0.2 2 0.2 2 0.4 2.1 0.4 2-0.1 2 0.1 2.1 0.5 2 0.4 2 0.4 2.1 0.3 2 0.1 2 0.5 2 0.6 2 0.2 2 0.5 1.9 0.7 1.9 0.5 1.9 0.8 1.9 0.8 1.9 0.7 1.9 0.9 1.9 0.8 1.9 0.9 1.9 1 1.8 1 1.9 0.9 1.9 0.7 1.9 0.6 1.8 0.8 1.9 1 1.8 1.1 1.9 0.7 1.9 0.6 1.8 0.8 1.9 0.8 1.8 1 1.9 1 1.8 0.9 1.9 0.5 1.9 0.7 2 0.8 1.9 0.6 2 0.5 2 0.6 2 0.5 2 0.1 2 0.4 2.1 0.7 2.1 0.3 2 0.1 2 0.2 1.9 0.1 1.9-0.4 1.8-0.7 1.8-1.1 1.7-1.4 1.7-1.8" stroke="#bfff40"/>
<path d="M926 347.6l2-0.8 1.9-1 2-1 2-0.7 2-0.7 2-0.8 2.1-0.8 2-0.4 2.1-0.3 2.1-0.7 2.1-0.5 2.1-0.2 2.2-0.4 2.1-0.5" stroke="#bfff40"/>
<path d="M950 341.4l2-0.9 1.9-0.7 2-0.8 2-0.8 2-0.5 2 0 2 0.1 2.1 0 2 0.1 2.1 0.2 2 0.2 2.1 0 2.1 0.1 2.1 0.3 2.1 0 2-0.2 2.1 0.3 2.1 0.3 2.1 0 2-0.2 2.1-0.4 2-0.5 2.1-0.1 2.1-0.3 2-0.4 2.1 0 2.1-0.1 2-0.5 2.1-0.2 2-0.3 2.1-0.4 2.1-0.3 2 0 2.1-0.2 2-0.5 2.1 0.1 2.1 0.1 2-0.5" stroke="#bfff40"/>
<path d="M1556 238.7l0.2 0.9 0.3 1.5 0.3 3 0.4 2.8 0.4 2 0.4 2.1 0.5 1.7 0.5 2.5 0.6 2.5 0.5 1.4 0.6 1.5 0.7 1.1 0.7 1.9 0.8 3.6 0.9 1.9 0.9 0.4 0.9 1 1.2 1.3 1.2 2.1 1 2.1 0.7 0.7 0.4-0.8 0.4-1 0.3 0.1 0.3-2 0.3-2.8 0.2-1.4 0.3-2.5 0.3-3.2 0.4-2.8 0.4-2.6 0.5-2.9 0.4-2.9 0.5-1.3 0.6-0.9 0.7-2 0.8-2.2 1-1.7 1.9 0.9 2.4 2 2-0.8 1-2.9 0.6-2.3 0.5-1.4 0.5-2.5 0.5-2.5 0.4-1.4 0.4-3 0.3-2.5 0.3-1.4 0.3-4.1 0.3-5.3 0.3-3.1 0.2-0.5 0.2-0.1 0.2-3 0.2-3.4 0.2-1.7 0.2-2.7 0.2-2 0.2 0.4 0.2-0.9 0.2-3.6 0.2-2.5 0.3 0.1 0.2 0.3 0.3 0.6 0.3 0.9 0.2 0.7 0.3 1.4 0.2 1.2 0.3 0.8 0.2 1.8 0.3 2.8 0.3 2.6 0.2 2.6 0.3 3.9 0.3 3.4 0.4 1.3 0.3 1.4 0.4 1.3 0.4 1.7 0.4 2.5 0.4 1.4 0.4 0.9 0.4 2.4 0.5 3 0.4 2.4 0.4 1 0.4 0.8 0.4 2.4 0.4 2.8 0.4 3.3 0.4 3 0.5 2.3 0.4 3.9 0.4 3.4 0.4 0.7 0.3 0.1 0.4 0.8 0.3 1.3 0.3 0.5 0.3-1.3 0.3-0.9 0.2-0.1 0.3-2.3 0.2-4.4 0.2-3.4 0.2-1.4 0.3-2.7 0.2-3.7 0.2-1.9 0.2-1.1 0.2-1.6 0.2-4.1 0.2-5.3 0.3-2.3 0.2-1.1 0.2-2.8 0.3-4.6 0.2-3.4 0.3-0.4 0.3-0.5 0.3-0.4 0.4 1.4 0.4 0.8 0.4-0.1 0.5 1.2 0.6 2.7 0.5 4.1 0.6 3.1 0.5 1.6 0.5 2.5 0.4 1.6 0.4 0.2 0.3 2 0.4 2.2 0.3 1 0.4 2.9 0.3 2.8 0.3 1 0.3 1.6 0.3 2.3 0.2 2.5 0.3 2.7 0.3 2.2 0.2 1.8 0.3 1.7 0.2 1.8 0.3 2 0.2 2.8 0.2 3.6 0.2 3 0.1 1.4 0.2 2.4 0.2 4.4 0.2 3 0.1 1.1 0.2 0.6 0.2 1.2 0.2 3 0.2 1.9 0.3-0.1 0.2 0.3 0.3 0.6 0.3-1.7 0.3-3.7 0.3-2.7 0.4-0.6 0.5-0.6 0.5-2.7 0.5-2.9 0.9 0.5 1.2 2.5 1.2 3.5 1 2.5 0.6-2 0.5-3.3 0.5-1.2 0.3-0.9 0.4-2.8 0.3-3.3 0.3-2.3 0.3-2.4 0.3-3.1 0.4-1.4 0.5 1 0.5-0.8 0.6-1.3 0.7 1.5 0.9 2.2 0.8 1.6 0.9 2.3 0.8 3.6 0.7 2.7 0.5 0.7 0.6 0.9 0.4 2 0.5 2.3 0.4 3.1 0.4 3.9 0.4 2.6 0.4 2.5 0.3 4.1 0.4 2.6 0.3 0.6 0.4 1.1 0.3 1.5 0.4 0.4 0.4 0.4 0.3 1.4 0.4 0.5 0.4 0.2 0.5-0.8 0.4-2.3 0.4-1.9 0.4-1.7 0.4-2.6 0.5-2.8 0.4-1.9 0.4-1.8 0.4-3.3 0.3-2.8 0.4-2 0.4-2.9 0.3-2.4 0.3-1.6 0.2-2 0.3-2.8 0.2-3.3 0.2-3.4 0.2-3.3 0.2-1.6 0.2-1.7 0.3-1.5 0.3-0.1 0.4-1.4 0.5-1.9 0.8 1.3 1 2.2 1.2 1 1.3 2.5" stroke="#bfff40"/>
<path d="M504.3 316.3l1.9 0.9 1.9 0.7 1.9 0.6 2 0.7 1.9 0.7 1.9 0.5 2 0.5 2 0.8 1.9 0.5 2 0.2 2 0.1 2 0.3 2 0.3 2 0.3 2 0.4 2 0.7 2 0.5 2.1 0.3 2 0.1 2 0.2 2 0.2 2 0.1 2.1 0 2 0.2 2 0.4 2 0.3 2 0.1 2 0.2 2.1 0.3 2 0.4 2 0.2 2 0.1 2.1 0.3 2 0.1 2-0.1 2 0.1 2.1 0.4 2 0.4 2-0.1 2.1-0.3 2 0.1 2 0.2 2 0.4 2.1 0.2 2-0.4 2-0.1 2.1 0.4 2 0.3 2-0.1 2 0 2.1 0.4 2 0.4 2 0.6 2 0.2 2 0 2 0.3 2 0.4 2 0.4 2 0.5 2 0.2 2 0.2 2 0.3 2.1 0.7 2 0.5 2 0.2 2 0 2-0.1 2 0.1 2.1 0.1 2 0.1 2 0.4 2 0.3 2.1 0.3 2 0.2 2 0.1 2 0 2.1 0.1 2 0.3 2 0.1 2 0.2 2.1 0.3 2 0 2 0 2 0.2 2.1 0 2 0.1 2 0.3" stroke="#dfff20"/>
<path d="M1167.4 308.9l2.1 0.1 2.2 0.3 2.2 0.2 2.1 0.1 2.2 0.1 2.1 0.1 2.2 0.1 2.1 0.3 2.1 0.4 2.2 0.9 2.1 0.5 2.1 0.3 2.1 0.4 2.1 0.6 2.1 0.7 2.1 0.5 2.1 0.3 2 0.6 2.1 1 2 1" stroke="#dfff20"/>
<path d="M1205 314.9l2 0.3 1.9 0.6 2 0.7 1.9 0.4 2 0.4 1.9 0.8 2 0.8 1.9 0.5 2 0.8 1.9 0.8 2 0.4 1.9 0.6 2 0.6 2 0.3 2 0.4 2 0.2 2 0 2 0.3 2.1 0.6 2 0.4 2 0.2 2 0.3 2.1 0.5 2 0.2 2 0.2 2.1 0.1 2-0.2 2 0.1 2.1 0.1 2-0.1 2.1-0.1 2 0.1 2 0.4 2.1 0.4 2 0 2.1 0 2 0.3 2 0.5 2.1 0.7 2 0.2 2 0.1 2 0.3 2.1 0.1 2-0.1 2-0.2 2-0.2 2-0.4 2-0.6 2-0.6 2-0.7 2-0.7 2-0.4 1.9-0.3 2-0.3 2.1-0.4 2-0.7 2-0.6 2-0.4 2-0.6 1.9-0.8 1.8-0.8 1.8-0.8 1.6-1 1.6-1.1 1.5-1.5 1.6-1.6 1.6-1.5 1.5-1.5 1.6-1.1 1.7-1 1.8-0.6 2-0.3 2-0.1 2.1 0.1 2.1 0.1 2.1 0 2-0.6 2-0.6 2-0.7 1.9-0.7 2-0.6 1.9-0.7 2-0.5 1.9-0.3 2-0.5 2-0.4 2-0.5 2-0.5 2.1-0.3 2-0.1 2-0.2 2.1-0.2" stroke="#dfff20"/>
<path d="M1673.3 225.5l1.3-1.6 1.3-1.8 1.5-1.9 1.5-2.9 1.6-2.4 1.6-0.8 1.9-0.6 2.2 0.6 2.2 1.7 2.1 1.3 1.8 0.6 1.3 0.3 1.1-0.1 0.9 1.3 0.8 3.9 0.7 4 0.8 2.9 0.9-0.1 1-0.7 1.3 3.6 1.6 4.3 1.9 0.7 2-0.1 1.9 0 1.9 0.3 2.1 0.2" stroke="#dfff20"/>
<path d="M772.2 351.3l1.7-0.9 1.7-1.2 1.6-1.4 1.6-1.4 1.5-1.4 1.5-1.4 1.5-1.4 1.4-1.2 1.2-1.6 1.3-1.7 1.2-1.7 1.3-1.6 1.4-1.3 1.6-1.1 1.6-1.2 1.6-1.5 1.7-1.2 1.8-1 1.7-1.1 1.7-1.2 1.7-1.3 1.7-1 1.6-0.9 1.7-1.3 1.6-1.3 1.7-1.2 1.7-1.2 1.6-1.1 1.7-1 1.6-0.8 1.7-1.4 1.6-1.5 1.7-1 1.6-1.2 1.7-1.1 1.6-1.3 1.8-1.3 1.7-1.2 1.8-0.8 1.7-0.7 1.8-0.8 1.9-1 1.8-1 1.9-0.8 1.8-0.6 1.9-0.6 2-0.5 2-0.8 1.9-0.8 2-0.3 2-0.4 2-0.3 2 0 2.1 0.1 2 0.3 2.1 0.2 2 0.1 2.1 0.1 2 0.1 2 0 2-0.1 2 0.2 1.9-0.2 1.9-0.6 1.9-0.8 1.8-1.1 1.9-1.3 1.9-1 1.9-0.5 1.9-0.3 2-0.3 2-0.3 2-0.6 2.1-0.7 1.9-0.4 2-0.4 1.9-0.4 1.8-0.7 1.9-0.8 1.8-1 1.8-1 1.8-0.8 1.7-1.1 1.8-1.2 1.7-1 1.6-1 1.7-1.3 1.6-1.3 1.6-1.3 1.7-1.2 1.6-1.1 1.7-0.9 1.7-1.2 1.8-1.3 1.7-1 1.7-0.9 1.8-1.1 1.8-1 1.7-1.2 1.8-1 1.8-1 1.8-1" stroke="#ffff00"/>
<path d="M950 261l2.2 0 2.2 0.1 2.1-0.2 2.1-0.4 2.1-0.3 2-0.4 1.9-1 1.9-1.1 1.9-0.8 1.9-1.1 1.8-1.6 1.7-1.6 1.7-1.3 1.7-1.5 1.7-1.6 1.7-1.1 1.8-0.7 1.9-0.3 2.1 0 2.1 0.4 2.1 0.7 1.9 0.7 1.8 1.1 1.7 1.5 1.7 1.4 1.5 1.5" stroke="#ffff00"/>
<path d="M1494.8 334.2l0.5-2.1 0.6-2.3 0.6-2 0.5-1.8 0.5-2 0.5-2.1 0.5-1.9 0.5-1.8 0.4-1.7 0.4-1.8 0.4-2.2 0.3-2.4 0.3-2.1 0.4-2.1 0.3-2.2 0.3-2.1 0.3-1.6 0.2-1.6 0.3-2 0.3-2 0.2-1.9 0.3-2.3 0.2-2.1 0.3-2.1 0.2-2.1 0.3-2 0.2-2.1 0.2-2 0.3-2.1 0.2-2.1 0.3-2 0.2-2.2 0.3-1.9 0.2-1.5 0.3-2 0.2-2.5 0.3-2.3 0.2-2.1 0.3-2 0.2-2.2 0.3-2.3 0.2-2.6 0.3-3 0.2-2.9 0.2-2.4 0.3-2.6 0.2-3 0.3-2.7 0.2-2.3 0.2-2.4 0.3-2.5 0.2-2.2 0.3-2.3 0.3-2.1 0.3-1.4 0.2-1.5 0.3-1.7 0.3-1.3 0.4-1.2 0.3-0.8 0.3-0.5 0.4-0.1 0.4 0.5 0.4 1.5 0.5 2.2 0.6 2.4 0.5 2.5 0.5 2.3 0.5 2.2 0.5 2.3 0.5 2 0.5 1.9 0.5 2 0.4 1.9 0.5 2 0.5 2 0.5 1.8 0.4 1.7 0.5 2.1 0.4 2.3 0.5 2 0.4 2 0.5 2.2 0.4 1.9 0.4 1.6 0.5 2 0.4 1.9 0.4 2 0.4 2 0.4 2 0.3 2.4 0.4 2.1 0.4 1.6 0.4 1.9 0.4 2 0.4 2 0.4 2.1 0.4 2.1 0.3 2 0.4 2.2 0.3 1.9 0.3 1.8 0.3 2 0.3 2.4 0.4 2.1 0.4 2 0.4 2 0.5 1.6 0.6 1.7 0.6 2 0.8 2 1.3 1.6 1.4 1.3 1.5 1.3 1.4 1.5 1.1 1.9 1 1.9 1 1.7 1 1.8 1 1.9 0.9 1.7 0.9 1.9 0.8 1.6 0.7 1.7 0.8 2.2" stroke="#ffff00"/>
<path d="M1572.6 260.4l2-0.9 1.7-2.4 1-1.9 0.7-0.8 0.5-1 0.3-2.7 0.4-3.8 0.5-1.2 0.5 1.3 0.8 1.3 0.8 0.9 0.8 0.9 0.6 2.3 0.5 2.9 0.4 2 0.4 3.1 0.3 2.9 0.4 2 0.3 1.5 0.4 0.3 0.5 0.2 0.6-0.4 0.6-1.9 0.5-3.6 0.6-3.2 0.5-0.5 0.5 1.6 0.3 2 0.4 3 0.4 3 0.4 1.1 0.5 0.4 0.7 0.9 1.1 0.8 1.4-1.5 1.5-2.6 1.3-0.7 1.1-0.1 0.9 0.4 0.8 3 0.9 3.6 0.9 1.3 1.1-1.5 1.4-2.9 1.4-2.8 0.9-1.4 0.6 0.5 0.5 0.2 0.5 1.9 0.4 3.1 0.3 2 0.3 1.8 0.3 3 0.3 4.3 0.3 2.6 0.3 1.9 0.3 2.6 0.4 1.3 0.4 1.3 0.4 2.5 0.4 3.4 0.5 2.1 0.5-0.3 0.7 0.9 1.2 2.8 1.9 1.9 1.7 0.9 1.4 1.6 1.2 2.1 1.2 1 1.3 0.3 1.3 1 1.8 2.3 1.6 1.9 0.7 0.7 0.2 0.6 0.2 0.7 0.1-1.5 0.1-2.2 0.1-1.9 0.1-3.4 0.1-3.8 0.1-3.4 0-0.9 0.1-0.9 0.1-5 0.1-3.6 0.1-2.2 0.1-2.2 0.2-0.2 0.2-0.8 0.2-3.4 0.1-3.7 0.2-2.3 0.2-0.9 0.2 0.1 0.3-1.3 0.2-4 0.2-3.3 0.2-1.7 0.3-1.8 0.2-2.2 0.2-0.7 0.2-1.2 0.2-3.2 0.2-2.4 0.2-2.5 0.2-3.1 0.2-2.1 0.3-2.1 0.3-2.8 0.3-1.1 0.4-0.2 0.4-2.2 0.6-2.2 1.2-0.7 1.4-1.3" stroke="#ffff00"/>
<path d="M310.8 342.9l2-0.4 2-0.4 2 0.2 2.1 0.1 2-0.4 2-0.4 2-0.4 2-0.3 2 0 2.1-0.2 2-0.6 2-0.7 2-0.3 2-0.2 2.1-0.2 2 0 2-0.4 2-0.3 2.1 0.2 2 0.2 2-0.1 2.1 0.1 2 0.2 2.1 0.1 2 0.1 2 0.3 2.1 0.1 2 0 2 0.1 2.1 0 2 0 2 0.1 2.1 0.2 2 0.3 2 0.3 2.1 0.2 2 0.4 2 0.1 2 0 2.1 0.1 2 0.3 2-0.1 2.1-0.1 2 0.3 2 0.1 2.1-0.1 2 0 2 0.1 2.1 0.2 2 0.5 2.1 0.5 2 0.1 2 0 2.1-0.1 2 0.1 2 0.1 2.1 0 2 0.2 2 0.4 2.1-0.1 2-0.1 2 0.3 2 0.3 2.1 0.6 2 0.3 2-0.1" stroke="#ffdf00"/>
<path d="M440 344.5l2-0.5 2.1-0.3 2-0.2 2-0.2 2.1-0.2 2-0.2 2-0.1 2.1 0 2 0 2-0.1 2.1-0.2 2 0 2 0 2 0.1 2.1 0.3 2 0.1 2 0 2.1 0.2 2-0.1 2 0.1 2 0.4 2.1 0.4 2 0.5 2 0.3 2 0.4 2.1 0.4 2 0 2 0 2.1 0.3 2 0 2-0.2 2-0.2 2.1-0.1 2-0.1 2-0.3 2.1-0.1 2-0.3 2-0.4 2-0.3 2.1-0.1 2-0.1 2-0.3 2-0.2 2-0.1 2.1-0.3 2-0.3 2-0.3 2-0.3 2-0.4 2-0.5 2-0.2 2-0.5 2.1-0.5 2-0.2" stroke="#ffdf00"/>
<path d="M1205 333.9l2.9-0.8 2.5-1.1 2-1.2 1.3-1.5 1.1-2 0.8-2.7 0.3-3.3" stroke="#ffdf00"/>
<path d="M422.9 349.1l2.4-0.2 2.4-0.5 2.4-0.2 2.5 0.5 2.4 0.2 2.4-0.1 2.5 0 2.4 0.2 2.4 0.4" stroke="#ffbf00"/>
<path d="M440 348.5l2 0 2 0.1 2-0.4 2.1-0.6 2-0.3 2 0.2 2 0.1 2 0.1 2-0.1 2-0.2 2.1-0.1 2-0.1 2-0.3 2-0.3 2-0.3 2-0.3 2-0.1 2-0.1 2-0.4 2.1-0.2 2 0.2 2-0.2 2-0.2 2-0.1 2-0.4 2-0.4 2-0.2 2-0.1 2-0.3 2-0.1 2.1 0 2-0.1 2-0.3 2-0.3 2-0.2 2-0.1 2-0.2 2-0.1 2-0.3 2-0.5 2-0.1 2-0.3 2-0.6 2-0.5 2-0.2 2-0.4 1.9-0.6 2-0.4 2-0.3 2-0.5 1.9-0.5 2-0.3 2-0.2 2-0.3 2-0.5 2-0.5 2-0.4 1.9-0.2 2-0.3 2-0.6 2-0.4 2 0 2-0.1 2-0.3 2-0.3 2-0.3 2-0.2 2-0.2 2-0.3 2-0.3 2-0.3 2-0.4 2-0.6 2-0.6 2-0.6 2-0.2 2-0.1 2-0.1 2-0.1 2-0.2 2-0.1 2-0.1 2-0.4 2-0.3 2.1-0.2 2 0.1 2 0 2-0.1 2.1-0.1 2-0.1 2 0.2 2-0.1 2.1-0.4 2-0.2 1.9-0.1 2 0 2-0.2 2-0.8 2-0.7 1.9-0.4 2-0.6 1.8-1.1 1.8-0.9 1.6-0.9 1.7-1.1 1.6-1.1 1.6-1.3 1.5-1.5 1.5-1.6 1.5-1.4 1.5-1.2 1.5-1 1.5-1.2 1.4-1.7 1.4-1.8 1.3-1.6 1.4-1.6 1.4-1.5 1.5-1.3 1.4-1.1 1.5-1 1.6-1.2 1.6-1.5 1.7-1.6 1.6-1.2 1.7-0.8 1.7-0.8 1.7-1 1.7-1.2 1.7-1.4 1.7-1.2 1.7-1.1 1.7-1 1.8-0.9 1.7-1 1.8-1.2 1.7-1.3" stroke="#ffbf00"/>
<path d="M695 282.9l2.2-1.4 2.2-1.3 2.2-1.3 2.1-1.4 2.2-1.5" stroke="#ffbf00"/>
<path d="M1135.9 350.4l1.5-1.3 1.6-1.2 1.5-1.4 1.5-1.8 1.5-1.5 1.5-1.2 1.5-1.6 1.5-1.6 1.5-1.3 1.7-0.6 1.9-0.2 2.1-0.2 2.1-0.3 2.1 0 2.1-0.1 2.1 0.3 1.9 0.7 2 0.7 2 0.6 1.9 1 2 0.9 2 0.2 2-0.4 2-0.4 2 0 2-0.4 2.1-0.7 2-0.5 2-0.4 2-0.4 2.1-0.3 2-0.5 2-0.7 2-0.5 2.1-0.5 2-0.5 2-0.3 2-0.3 2-0.4" stroke="#ffbf00"/>
<path d="M1318.5 279.2l2.7-0.5 2.4-0.2 2.1 0.4 2 1.8 1.7 2.6" stroke="#ffbf00"/>
<path d="M190.5 318.2l1.9 0.4 2 0.5 1.9 0.2 2 0.1 2 0.6 1.9 1.1 2 0.6 1.9 0.2 2 0.5 2 0.8 1.9 0.4 2 0.1 2 0.5 2 0.9 1.9 0.6 2 0.3 2 0.6 2 0.6 2 0.3 2 0.1 2 0 2-0.3 2-0.6 2-0.5 2-0.5 2-0.4 2-0.4 2-0.4 2-0.6 2-0.4 2-0.3 2-0.5 2-0.5 2-0.4 2-0.1 2 0.1 2 0.1 2.1 0 2 0.1 2 0.3 2 0.1 2.1 0.1 2 0.4 2-0.3 2.1-0.2 2 0.4 2 0.4 2.1 0.2 2-0.1 2-0.3 2.1-0.1 2-0.1 2 0.1 2.1 0.1 2 0.2 2 0.4 2 0.2 2 0.3 2 0.3 2 0 2 0.4 2 0.7 2 0.5 1.9 0.5 2 0.7 2 0.5 1.9 0.3 2 0.6 1.9 0.7 1.9 0.6 2 0.5 1.9 0.9 1.9 0.8 1.9 0.5 1.9 0.7 1.9 0.7 1.9 0.8 1.9 0.8 1.9 0.5 1.9 0.7 1.8 1.2 1.9 1.1 1.9 0.9 1.9 0.5 1.8 0.6 1.9 0.5 2 0.6 1.9 0.8 2 0.5 2 0.3 2 0.3 2 0.3 2.1 0.2 2 0.3 2 0.4 2 0.6 1.9 0.5 1.9 0.3 1.9 1 1.8 1.3 1.9 1 1.8 0.6 2 0 1.9-0.1 2 0.2 2.1 0 2-0.5 2.1-0.7" stroke="#ff9f00"/>
<path d="M1036.1 345.1l2.1-0.3 2.1-0.2 2-0.1 2-0.1 2-0.2 1.9-0.6 1.9-0.8 1.9-0.6 1.9-0.8 1.9-0.7 1.9-0.4 2-0.1 2.1-0.2 2-0.6 2.1-0.4 2 0 2.1-0.2 2-0.1 2 0.1 2.1-0.2 2-0.2 2-0.1 2-0.2 2.1-0.3 2 0 2 0.1 2.1 0 2-0.4 2.1-0.3 2 0 2 0.1 2.1-0.1 2 0.1 2.1 0.2 2-0.1 2-0.5 2-0.3 2.1-0.2 2 0 2-0.1 1.9-0.8 2-1 2-0.9 1.9-0.7 2-0.3 2 0.1 2 0.3 2.1 0.2 2 0.1 2.1 0 2-0.1 2.1 0 2 0.4 2 0.1 2.1-0.5 2-0.2 2 0.1 2.1 0.1 2-0.1 2.1-0.3 2-0.3 2-0.3 2.1-0.1 2 0 2-0.2 2.1-0.2 2 0 2-0.2 2-0.4 2-0.3 2-0.4 2.1-0.4 2-0.4 2-0.5 2-0.4 2-0.2 2-0.2 2-0.1 2.1-0.2 2 0 2 0.2 2.1 0 2-0.1 2.1-0.2 2-0.2 2 0" stroke="#ff9f00"/>
<path d="M405.1 338.9l2.1-0.1 2.2 0 2.1-0.3 2.2-0.5 2.1-0.5 2.1-0.5 2.1-0.6 2-0.4 2.1-0.6 2-0.9 2.1-0.8 2.1-0.8 2-0.5 2.1-0.5 2.1-0.7 2-0.9 2.1-0.5 2.1-0.2 2-0.4" stroke="#ff8000"/>
<path d="M1107.2 298.9l1.2 1.5 1.3 1.8 1.3 2 1.4 1.8 1.4 1.3 1.5 1.3 1.5 1.2 1.6 1.3 1.7 1.3 1.6 1.2 1.7 1.3 1.7 1.4 1.6 1.4 1.6 1.2 1.5 1.4 1.5 1.5 1.5 1.8 1.5 1.6 1.5 1.6 1.7 1.1 1.7 0.6 2 0.4 2.1 0.1 2.1 0 2.1 0.1 2.1 0 2 0.1 2.1 0.1 2.1 0.1 2.1-0.1 2-0.2 2.1 0.1 2-0.1 2-0.5 2-0.6 1.9-0.5 2-0.7 2-0.9 1.9-0.9 2-0.7 1.9-0.7 1.9-0.6 1.9-0.8 1.9-1.1 1.9-0.6 1.9-0.6" stroke="#ff8000"/>
<path d="M1205 327.9l2.1-0.2 2-0.3 2.1 0.2 2 0.4 2 0.4 2 0.5 2 0.3 1.9 0 1.9 0.3 1.9 1 1.9 1.1 1.9 0.8 1.8 0.5 2 0.4 1.9-0.1 2-0.1 2 0 2-0.3 2.1-0.3 2-0.2 2.1-0.2 2 0.3 2 0 2-0.2 2.1 0 2 0.3 2 0.2 2 0 2 0.2 2 0.4 2 0.1 2 0.4 2 0.3 2 0.2 2 0.3 2 0.3 2 0.6 2 0.8 2 0.5 2 0.2 2 0.2 2 0.4 2 0.1 2-0.4 2-0.4 2-0.1 2-0.2 2-0.4 2-0.4 2-0.4 1.9-0.6 2-0.6 2-0.4 2-0.3 2-0.3 2-0.9 1.9-0.8 2-0.2 2 0 1.9-0.1 1.9-0.6 2-0.8 1.9-0.7 1.8-0.8 1.9-0.9 1.9-0.9 1.8-0.7 1.9-0.6 1.9-0.8 1.9-0.8 1.9-0.5 2-0.4 1.9-0.6 2-0.5 1.9-0.6 2-0.7 2-0.2 1.9-0.3 2-0.6 2-0.4 1.9-0.4 2-0.5 2-0.4 2-0.5 1.9-0.6 2-0.3 2-0.1 2-0.3 1.9-0.5 2-0.6 2-0.6 2-0.5 2-0.3 1.9-0.2 2-0.4 2-0.5 2-0.3 2-0.3 2-0.3 2 0.1 2-0.1 2-0.1 2-0.2 2.1-0.3 2-0.1 2-0.3 2-0.2 2 0 2-0.3 2-0.6 2-0.3 2-0.1 2-0.2 2-0.3 2-0.2 2-0.4 2-0.4 2-0.4 2-0.2 2 0 2-0.1 2.1-0.1 2-0.3 2-0.3 2 0 2 0 2-0.2 2-0.4 2-0.4 2-0.2 2 0.1" stroke="#ff8000"/>
<path d="M1698.9 219.2l2.4 0.7 2 1.1 1.2 1.2 0.9 2.1 0.9 3.3 0.9 2.9 1.3 1.9 1.9 1.6 2.1 0.1" stroke="#ff8000"/>
<path d="M440 331.5l1.8-1.2 1.8-1.2 1.9-1.1 1.9-1 1.9-1 2-0.6 2-0.3 2.1-0.4 2.2-0.5 2.3-0.4 2.2 0.2 1.9 0 1.8-0.1 1.6-0.7 1.5-1.6 1.4-2.2 1.3-2.1 1.2-2.2" stroke="#ff6000"/>
<path d="M621.8 343.8l2.1-0.5 2.1-0.5 2.1-0.6 2.1-0.5 2.1-0.1 2.1-0.2 2.2-0.2 2.1-0.1 2.1-0.2 2.1 0.1 2.2 0.2 2.1 0.1 2.1 0.1 2.2 0.4 2.1 0.4 2.1 0.1 2.2 0 2.1-0.1 2.1 0.1 2.2 0.2 2.1 0 2.1 0.2 2.2 0.2 2.1-0.2 2.2-0.2 2.1-0.2 2.1 0.1" stroke="#ff6000"/>
<path d="M1293.9 327.8l2 0.6 2 0.2 2.1 0 2 0.2 2 0.6 2.1 0.5 2-0.1 2.1-0.3 2-0.1 2.1-0.2 2-0.3 2.1-0.2 2 0 2-0.1 2-0.8 2-0.6 2-0.6 1.9-0.6 2-0.8 1.9-1 2-0.6 2-0.4 1.9-0.8 2-0.8 2-0.1 2-0.2 1.9-0.6 2-1 2.1-0.7 2-0.3 2-0.6 2-0.7 2-0.2 2.1 0 2 0.2 2.1 0.1 2-0.1 2.1 0.1" stroke="#ff6000"/>
<path d="M1455 304.4l2.1-0.3 2-0.2 2-0.1 2-0.1 2-0.3 2 0.1 1.9 0.7 1.9 0.7 2 0.7 1.9 0.7 1.9 0.8 1.9 1.1 1.9 0.6 2 0.2 1.9 0.7 2 0.8 1.9 0.6 2 0.5 2 0.4 2 0.1 2.1-0.4 2.3-0.4 1.4-0.3 0.7-0.8 0.6-1.4 0.4-1.9 0.4-2.7 0.3-2.8 0.3-2.8 0.2-2.8 0.4-2.3 0.4-1.9 0.5-1.3 0.7-1 1.1-0.9 2.1-0.5 2.3-0.1 2.3-0.3 1.7-0.8 1.5-1.2 1.4-1.6 1.3-1.7 1.1-1.7 0.9-1.8 0.7-1.8 0.6-1.9 0.5-2 0.5-2.2 0.4-2.1 0.4-1.9 0.4-1.8 0.3-2 0.3-2.3 0.2-2.7 0.2-2.5 0.2-2.4 0.2-2.5 0.2-2.3 0.3-2.1 0.2-1.8 0.4-1.5 0.4-1.5 0.5-1 1-0.4 1.9-0.4 2.4-0.5 2.4-0.4 2 0 2 0.7 1.9 1 1.7 0.9 1.5 1.2 1.5 1.3 1.3 1.5 1.2 1.9" stroke="#ff6000"/>
<path d="M1554.5 206.4l2.5 0 0.7 0 0.2 0.6 0.2 1.1 0.2 1.9 0.1 2.3 0 2.5 0.1 2.9 0.1 3 0 2.8 0.1 2.7 0.2 2.5 0.2 2.2 0.2 1.8 0.4 1.9 0.4 2.1 0.4 2.1 0.5 1.9 0.5 2.1 0.5 2.3 0.4 2.2 0.5 2 0.5 2.3 0.6 2.2 0.5 1.8 0.5 1.9" stroke="#ff6000"/>
<path d="M1706.4 206.6l3 4.2" stroke="#ff6000"/>
<path d="M189.8 353.3l1.7-1.9 1.8-1.3 1.8-1 1.9-1.3 1.8-1.4 1.9-1.7 2-1.3 2-0.9 2.1-0.2 2.2 0.4 2.3 0.1 2.4 0" stroke="#ff4000"/>
<path d="M723.7 304.5l2.1 0.3 2.1 0.7 1.9 0.6 1.7 0.5 1.7 1.1 1.5 1.4 1.5 1.6 1.4 1.3 1.5 1.3 1.6 1.4 1.7 1.5 1.6 1.7 1.7 1.6 1.6 1.3 1.8 1 1.7 0.6 1.9 0.2 1.9 0 2-0.5 2-0.8 2.1-0.8 2-0.4 2 0.2 1.9 0.8 1.9 0.9 1.9 0.9 1.9 0.8 1.9 0.7 2 0.6 1.9 0.2 2.1 0.2 2 0.2 2.1 0.2 2 0.1 2.1 0 2 0.1 1.9 0.2 2 0.5 1.9 0.7 1.9 0.6 1.9 0.8 1.9 0.9 1.9 0.9 2 0.7 1.9 0.5 1.9 0.7 1.9 0.9 1.9 0.8 2 0.7 1.9 0.5 1.9 0.7 2 1.2 1.9 0.5 2 0 2 0.1 2 0.4 2 0.5 2 0.5 2 0.5 2 0.3 2 0.2 1.9 0.4 2 0.5 2 0.5 1.9 0.6 2 0.7 1.9 0.6" stroke="#ff4000"/>
<path d="M1486.1 262.5l1.4-3.3 1.2-2.5 1.3-2.3 1.2-1.6 1.1-0.8 1.1-0.9 1.1-0.4 1 0.4 1.1 1.4 1 1.9 0.9 2.1 0.8 2.4 0.7 2.2 0.5 1.9 0.4 1.9 0.3 2.2 0.3 2.7 0.3 2.6 0.2 2.2 0.2 2.5 0.2 2.6 0.3 2.2 0.3 2 0.3 1.9 0.4 1.9 0.5 1.6 0.5 1 0.8 0.6 1.8 0.3 2.4 0.5 2.1 0.7 1.5 1.1 1.3 1.2 1.2 1.5 1.1 2 1 1.9 0.9 1.9 0.8 2.2 0.8 2.4 0.7 2.2 0.6 2.7 0.6 2.8 0.6 2.1 0.6 1.2 0.5 0.6 0.6-0.2 0.4-1.1 0.5-1.9 0.4-2.5 0.4-2.6 0.4-2.7 0.4-3 0.4-3.2 0.4-2.6 0.5-1.6 0.6-0.9 0.6 0 0.8 1.2 0.8 2.1 1 2.8 1 2.7 1 1.3 1.1-0.3 1.1-1.6 1.1-2.4 1.2-2.3 1.2-2 1.1-1.4 1-0.1 1.1 1.7 1 2.6 0.9 2.6 0.9 2.2 0.7 1.3 0.6 0 0.6-0.5 0.5-1.2 0.5-1.8 0.5-2.5 0.3-2.7 0.3-2.9 0.3-4" stroke="#ff4000"/>
<path d="M1581.6 203.7l0-5 0.1-4.2 0.1-3.8 0.1-3.9 0.2-2.7 0.2-1.6 0.2-3.2 0.3-2.7 0.3-0.4 0.3-1.3 0.3-4.3 0.4-3 0.3 0.4 0.4 0.8 0.4 0.5 0.4 0.7 0.4-0.3 0.5-2 0.8 0.6 0.8 5.2 0.7 4.5 0.3 2 0.2 0.5 0.1 0.8 0.1 2.3 0.1 2.2 0.1 2.9 0.1 2.1 0.1 1.1 0 2.3 0.1 2.1 0 1.4 0.1 1.8 0 2 0.1 2 0 2.9 0.1 3.1 0.1 1.3 0.1 0.1 0.1 1.8 0.1 2.4 0.1 2.4 0.2 2.3 0.2 0.5 0.2 1.3 0.2 4.4 0.3 3.5 0.2 0.9 0.3 0.2 0.2 2.1 0.3 3.7 0.2 2.4 0.2 2.6 0.1 2.7 0.2 0.8 0.1 0.7 0.1 2.2 0.1 2.7 0 3.5 0.1 3.7 0.1 1.6 0 0.1 0.1 1.2 0 1.7 0 0.3 0.1 1 0 2.3 0.1 2.8 0 2.9 0.1 2.5 0 2 0.1 1.7 0.1 2.1 0 3.1 0.1 3.2 0.1 1.9 0.1 0.6 0.2 1.6 0.1 2.3 0.3 2 0.3 3.4 0.3 2.7 0.4 2 0.3 1.9 0.4 0.1 0.3-0.8 0.3-1.2 0.4-0.8 0.3-2.1 0.4-3.6 0.4-2.4 0.3-2.7 0.4-3.3 0.4-1.9 0.3-0.6 0.4-0.6 0.3 0.7 0.4 1.2 0.3 0.9 0.4 3.7 0.3 5 0.4 2.9 0.3 1.4 0.3 1.5 0.3 0.8 0.2-1.2 0.3-2.2 0.2-1.9 0.2-1.7 0.2-2.8 0.2-3 0.2-2.5 0.2-2.7 0.2-1.3 0.2-0.9 0.2-3 0.3-2.6 0.2-1.7 0.3-1.3 0.4 0.5 0.3 2.3 0.4 2.2 0.4 2.2 0.5 3.7 0.4 2.6 0.5 1.8" stroke="#ff4000"/>
<path d="M1637.2 272.4l0.8 4.2 0.8 2.8 0.7 3.1 0.7 3.2 0.6 1.6 0.6 1.1 0.6 0.4 0.6 0.6 0.5-0.1 0.5-0.3 0.5 0.4 0.4-1 0.4-3.1 0.4-2.7 0.4-2.3 0.3-3.1 0.3-1.3 0.3-1.1 0.2-3.6 0.2-2.7 0.2-1.4 0.2-2.1 0.2-1.4 0.1-1.9 0.2-3.6 0.2-2.9 0.2-2.1 0.1-2 0.2-1.4 0.3-1.8 0.2-1.2 0.3-1 0.3-2.3 0.3-2.6 0.4-1.6 0.3-2.2 0.4-3.3 0.4-1.9 0.5-0.8 0.4-1.4 0.5-2.2 0.6-3.2 0.5-2 0.6 0.2 0.6-0.9 0.7-2.6 0.8-3.7 1-2.6 1-1.5 1-1.8 1.2 1.1 1.3 1.9 1.2 1.2 1.2 0.6 1-0.5 1.1-2 1-3.6 0.9-3.1 0.8-2.2 0.7-0.7 0.6 1.3 0.4 1.7 0.3 1.4 0.3 2.4 0.3 2.5 0.3 2.3 0.5 2 0.7 2.7 1.4 2.8 2.1 1.3 2.1 0.5 1.8 1.2 1.8 0.8 1.9-1.2 2-1.2 2.3 0.8 2 0.6 1.1 0 0.9-1 0.8-2.4 0.6-2.2 0.6-1 0.5-2.1 0.5-4.1 0.5-1.8 0.6-0.7 0.6-3.2 0.7-3.1 0.6-1.8" stroke="#ff4000"/>
<path d="M189.8 319.3l2-0.5 2-0.5 2-0.4 1.9-0.5 2-0.7 1.9-0.4 1.9-0.5 1.9-1.1 1.8-1.2 1.8-1 1.9-0.6 2-0.1 2-0.1 2 0.1 2 0.2 1.8 0.8 1.9 1 1.8 1.2 1.9 0.9 2 0.7 2 0.5 1.9 0.6 2 0.2 2 0.3 1.9 0.5 2 0.7 1.9 1 1.9 0.8 1.9 0.6 1.9 0.7 1.9 0.8 1.9 0.6 2.1 0.2 2.1 0 2.1 0.3 2 0.2 1.7 0.4 1.5 1.3 1.4 1.7 1.2 1.7 1.3 1.8 1.3 1.6 1.3 1.8 1.3 1.9 1.5 1.1 1.7 0.5 2 0.3 2.1 0.1 2.1 0.4 2.1 0.4 2 0.2 2 0 2 0 2.1 0.4 2 0.2 2 0.2 2 0.4 2 0.3 1.9 0.3 2 0.6 1.9 0.9 1.9 0.8 1.9 0.6 2 0.6 1.9 0.4 2 0.4 1.9 0.8 2 0.5 2 0.3 2 0.7 2 0.8 2 0.1 2 0.3 2 0.1 2-0.4 2.1-0.3 2-0.2 2-0.5 1.9-0.5 1.9-0.7 1.8-0.7 1.8-0.9 1.7-1 1.7-1.2 1.8-1.4 1.7-1.3 1.8-0.7 1.9-0.4 1.9-0.6 2-0.6 2-0.2 2-0.3 2.1-0.5 2-0.3 2-0.1 2.1 0.1 2 0.2 2.1 0.5 2 0.4 1.9 0.2 1.9-0.1 1.8-0.6 1.7-1.3 1.8-1.9 1.8-1.2 1.8 0 2 0.1 1.9-0.3 2 0.1 2.1 0.6 2 0.1 2.1 0 2.2-0.2" stroke="#ff2000"/>
<path d="M933.6 340.5l1.7 1.6 1.8 1.5 2 1.5 2 1 2.1 0.5 2.1 0.4 2.3 0.5 2.3 0.3 2.4 0.4 2.4 0.3" stroke="#ff2000"/>
<path d="M950 347l2.1 0.3 2 0.5 2 0.2 2.1 0.2 2 0.8 2 0.7 1.9 0.6 2 0.4 1.9 0.5 1.9 0.8 1.9 0.7 1.9 1 1.9 1 1.9 0.8 2 0.4 1.9 0.5 2 0.4 2 0.6 2 0.8 2 0.5 2 0.4 2 0.5 2 0.7 2 0.5 2 0.4 1.9 0.9 2 0.8 1.9 0.6 2 0.9 1.9 1 1.9 1 2 0.5 2 0.3 1.9 0.4 2 0.1 2.1 0 2 0.1 2 0.1 2.1 0 2-0.1 2.1-0.1 2.1 0.2 2.1 0 2.1-0.3" stroke="#ff2000"/>
<path d="M1659.8 250.5l1.2-1.5 1.3-1.9 1.3-2.8 1.3-1.8 1.4-0.6 1.5 0.7 1.6-0.3 1.7-3.4 1.7-2.7 1.5-0.4 1.3-0.5 1.1 0.4 1 3.6 1.1 5.2 1.2 2.1 1.5-0.8 2.1-0.8 2.3-0.5 1.7 0.2 1.4 0 1.2-1.8 1.2-3.4 1.2-2.3 1.4-2.1 1.9-0.6 2.2 1.2 2 0.3 1.1 1.2 1 4.6 0.7 3.2 0.7 0.6 0.6 1.5 0.6 3.2 0.7 3.1 0.8 0 1-1.5 1.1-1.8 1.1-2.6 1.1-2.8 1-1.5 0.9-0.6" stroke="#ff2000"/>
<path d="M762 345.5l1.9-1.1 1.9-1.1 1.9-0.8 1.9-0.6 1.9-0.5 1.9-0.9 1.9-1.1 2-0.7 1.9-0.7 1.9-0.8 2-0.7 1.9-0.6 2-0.5 1.9-0.7 2-0.8 2-0.8 2-0.5 1.9-0.6 2-0.9 2.1-0.5 2 0 2 0.3 2 0.2 2.1-0.1 2.1-0.1 2 0 2.1 0.2 2.1 0.2 2 0.1 2.1 0.1 2 0.4 2.1 0.4 2.1 0.1 2 0 2.1-0.2 2-0.1 2.1 0.2 2.1 0.3 2 0.1" stroke="#df0000"/>
<path d="M1399.1 340.5l2.2 0.2 2.1 0.4 2 0.5 2 0.8 1.9 0.6 1.8 0.6 1.8 1.2 1.7 1.4 1.7 1.3 1.7 1.2 1.7 1.2 1.6 1.4 1.6 1.2 1.6 1 1.6 1.3 1.7 1.5 1.7 1.3 1.7 0.9 1.7 1.3 1.8 1.7 1.8 1.5 1.8 0.8 1.9 0.2 2 0.2 2 0.4 2.1 0.4 2.1 0.5 2.1 0.4 2 0.1 2 0.3 2.1 0.7 2 0.6 2.1 0.5 2 0.2 2 0.1" stroke="#df0000"/>
<path d="M1455 365l2 0.5 2 0.5 2 0.3 1.9 0.3 2-0.1 2-0.3 1.9-0.4 2-0.3 1.9-0.5 2-0.9 1.9-0.8 2-0.3 2-0.1 2-0.5 2.2-0.6 2.3-0.2 2.1-0.2 1.9-0.2 1.6-0.3 1.3-0.7 1.2-1.7 1.1-2 0.9-1.8 0.7-2.1 0.6-2.2 0.4-1.9 0.4-1.9 0.4-1.9 0.4-1.9 0.3-2 0.3-2.1 0.2-2.3 0.3-1.9 0.3-2.2 0.2-2.1 0.3-2 0.2-2 0.2-2 0.3-2.1 0.2-2 0.2-1.9 0.2-1.9 0.2-2 0.2-2.1 0.2-2.2 0.2-1.9 0.2-2 0.2-2.1 0.2-1.9 0.2-1.7 0.2-1.9 0.1-2.1 0.2-2 0.2-2.2 0.2-2.1 0.2-1.9 0.2-1.9 0.2-2 0.1-2.2 0.2-2.2 0.2-1.8 0.2-1.8 0.2-2.1 0.2-2.1 0.2-2 0.2-2 0.2-2.1 0.2-2 0.2-1.9 0.2-2 0.2-2 0.2-2.2 0.3-2.2 0.2-2 0.2-2 0.2-1.8 0.2-1.8 0.2-2 0.1-2.3 0.2-2.6 0.2-2.8 0.1-2.9 0.2-2.4 0.2-2.1 0.2-1.6 0.3-0.8 0.3-0.1 0.6 1.2 0.7 2 0.8 2.3 0.7 2.7 0.5 2.5 0.4 1.8 0.3 2 0.2 2.1 0.2 2 0.3 1.9 0.1 1.7 0.2 2.1 0.2 2.2 0.1 1.9 0.2 1.7 0.2 1.9 0.1 2.1 0.2 2.1 0.2 2.2 0.3 2.2 0.2 2 0.3 1.9 0.3 1.9 0.4 2 0.4 2 0.4 2.2 0.4 2 0.5 1.9 0.4 2.1 0.4 2 0.5 1.5 0.4 1.9 0.4 2 0.3 1.8 0.4 2.2 0.2 2.2 0.3 2.2 0.2 2.1 0.2 1.8 0.2 1.9 0.2 2.3 0.2 2.1 0.2 2.1 0.3 2 0.3 1.9 0.3 1.9 0.4 2 0.7 1.9 1.2 2 1.3 1.7 0.8 0.1 0.7-1.3 0.5-2.2 0.5-2.7 0.4-2.7 0.4-2.7 0.4-1.7 0.5-0.2 0.4 0.7 0.4 1.1 0.3 1.8 0.4 2.5 0.4 2.7 0.4 2.7 0.4 2.5 0.4 2.3 0.5 2.2 0.5 2.4 0.6 2.4 0.6 2.2 0.6 1.9 0.5 1.3 0.5 0.4 0.4-0.8 0.4-1.5 0.4-2 0.4-2.3 0.4-2.6 0.4-2.5 0.3-2.9 0.4-3.1 0.3-2.7 0.3-2.7 0.3-2.3 0.3-1.6 0.3-1.5 0.3-0.9 0.3 0.2 0.3 0.3 0.2 0.5 0.3 1 0.3 1.2 0.2 1.3 0.3 1.7 0.2 1.9 0.2 2.2 0.3 2.6 0.2 3 0.2 3.2 0.2 3.3 0.2 3.6 0.2 3.7" stroke="#df0000"/>
<path d="M1557.5 279l0.9-1.6 0.9-2.6 0.8-3.2 0.4-0.7 0.3 0.6 0.2-1.4 0.2-3.1 0.2-2.8 0.1-2.5 0.2-3.7 0.1-2.6 0.1-0.9 0.1-1.7 0.1-2.3 0.1-1.7 0.1-1.1 0.1-1.2 0-1.8 0.1-2.3 0.1-3.3 0.1-2.8 0.1-0.8 0.1-0.2 0.1-1.8 0.1-3.7 0.1-2.9 0.2-2 0.1-2 0.2-1.3 0.3-1.8 0.2-3 0.3-1.7 0.2-0.9 0.3-2.6 0.3-2 0.3-0.8 0.3-1.9 0.3-2.3 0.3-4 0.2-4.2 0.3-2.1 0.3-2 0.2-2 0.3-1.1 0.4 1 0.6 2.7 0.6 2.1 0.6 1.6 0.6 1.2 0.5 1.6 0.3 2.4 0.3 2.6 0.2 2.6 0.3 1.9 0.2 1.8 0.2 2.6 0.2 2.6 0.2 3.4 0.3 3 0.3 1.1 0.3-0.6 0.6-1.2 0.8-1.8 0.9-1.1 0.7-1.1 0.4-3.5 0.4-3.3 0.3-1.9 0.3-2.7 0.2-2.6 0.2-2.2 0.2-1.9 0.2-1.9 0.3-2.6 0.2-2.7 0.3-1 0.3 0.6 0.4 0.8 0.4 1.1 0.4 1.7 0.4 2.1 0.5 3.4 0.3 4.5 0.4 2.2 0.3 0.4 0.3 1.6 0.2 2.5 0.3 4.4 0.2 4.2 0.2 1.3 0.2 1.8 0.2 2.5 0.3 1.1 0.3 1.6 0.4 1.1 0.4 0 0.8-0.3 0.8-2.5 0.9-3.7 0.5-0.7 0.5-0.3 0.4-3 0.3-4.9 0.4-4 0.3-1.8 0.3-2.8 0.3-3.7 0.2-2 0.3-0.9 0.4-0.8 0.3-0.4 0.4-1.7 0.5-0.7 0.6 2.8 0.6 2.7 0.6 1.5 0.6 2.1 0.4 3.8 0.3 2 0.2 0.3 0.3 2.4 0.2 3.9 0.2 4.7 0.1 3.1 0.2 0.9 0.2 2.4 0.1 3.4 0.2 1.5 0.1 0.6 0.2 1.2 0.2 1.2 0.2 1.2 0.3 0.9 0.2-0.9 0.2-2 0.2-1.5 0.3-3 0.2-5 0.3-3.4 0.3-0.4 0.4-1.1 0.5-3 0.5-1 1.2 2.3 1.3 1.9 0.7 1.4 0.5 2.4 0.5 1.8 0.4 0.8 0.4 2.9 0.3 2.9 0.3 0.9 0.2 2.1 0.3 2.8 0.3 2 0.2 2.1 0.3 3.3 0.2 2.9 0.2 2.1 0.2 2.9 0.2 2.9 0.2 2.5 0.2 1.7 0.1 1.8 0.2 2.9 0.2 0.6 0.1-0.7 0.2 1.2 0.1 0.4 0.1-1.7 0.2-1.3 0.1-0.8 0.1-0.2 0.2-0.8 0.1-3.8 0.1-4 0.1-2.2 0.1-1 0.1-1.7 0.1-4.7 0.1-4.2 0.1-2 0.1-1.7 0.2-2.8 0.1-3.3 0.1-2.8 0.1-4 0.1-3.2 0.1-1.2 0.1-0.2 0.1-0.3 0.1-2.3 0.1-3.1 0.1-1.1 0.2 2 0.1 1.4 0.1-0.7 0.2 1 0.1 3.2 0.1 2.1 0.1 0.3 0.2 1.5 0.1 2.3 0.2 1.6 0.1 0.9 0.1 1.7 0.2 2.4 0.1 2.3 0.1 4.2 0.2 5 0.1 3.2 0.1 2.1 0.2 1.7 0.1 1.4 0.2 3.1 0.1 1.8 0.1-0.1 0.2 2.4 0.1 3.1 0.1 1 0.1 1.9 0.1 4.1 0.1 2.4 0.1 2.4 0.1 3.2 0.1 0.5 0.1 0 0.1 2.8 0.2 3.6 0.1 1.3 0.1 1 0.1 2.3 0.2 2.3 0.1 3 0.2 2.5 0.2 1.3 0.1 2.5 0.2 1.5 0.3 0.9 0.2 2.9 0.4 2.9 0.5 2.3 0.4 1.7" stroke="#df0000"/>
<path d="M1629.7 291.4l0.7-2.4 0.8-4.8 0.7-3 0.6-0.6 0.7-0.7 0.5-2.2 0.5-3.5 0.4-2.2 0.4 1 0.4-0.4 0.3-2.7 0.3-1.5 0.3-2.4 0.3-3.6 0.2-2.5 0.3-2 0.2-1.9 0.3-2.4 0.2-3.3 0.3-2 0.3-0.3 0.3-1.4 0.4-4.3 0.3-2.4 0.4 0.6 0.5-2.1 0.6-2.8 0.7-1.3 0.8-1.6 0.9-2.3 0.9-3.1 0.8-2.1 0.7-0.8 0.6-1.8 0.5-3.2 0.3-3.6 0.3-2.9 0.3-1.8 0.3-1.2 0.4-2 0.6-0.6 0.8 1 1.8 0 1 0.8 0.6 2.9 0.5 2.9 0.4 2.6 0.3 2.6 0.3 1.9 0.4 1.1 0.4 2.7 0.4 2.7 0.3 1.5 0.3 2.8 0.4 2.9 0.4 1 0.4 0.5 0.6 1.6 0.7 0.3 1.1-2.8 1.2-2.8 1.2-1.7 1.3-2.2 1.2-1.5 1.3 1.7 1.3 3.5 1.3 0.6 1.2-0.1 1.1 1.4 0.9-1.1 0.9-2.3 0.9-1 1.1-1.7 1.1-1.2 1.6-0.5 1.9-1.8 1.9-2.1 1.7-0.7 1.5 1.2 1.4 2.5 1.3 2.5 1.4 0.7 1.3 1.3 1.2 1.8 1.3 0.8 1.2 1.7 1.3 2.8 1.2 2.8 1.3 2.1 1.3 1.2 1.2 1.3 1.3 1.6 1.3 2.5 1.3 3.3 1.3 1.5 1.1-1.1 1.1-1 1.1-0.7 1-1.8 1-0.8 1-1.9 0.9-4.7" stroke="#df0000"/>
<path d="M235.6 332.3l1.8-2.6 1.7-0.9 1.5 2.2 1.3 2.9 1.4 0.6 1.6-0.6 2-0.7 2-0.6 2 0 1.9 0.3 1.9 1 1.9 0.8 1.8 0.2 1.9 0 1.9-0.3 1.9-0.1 1.9-0.2 2 0.7 2 1.2 1.8-0.6 1.8-1.9 1.7-2.4 1.7-1.5 1.7-0.2 1.6-0.9 1.7-1.6 1.7-1.9 1.6-2.1 1.7-1.3 1.6-0.8 1.7-1.4" stroke="#bf0000"/>
<path d="M853.6 249.8l0.1-2.7 0.4-2.4 0.5-2.2 0.7-2.1 0.8-1.3 1.3-0.6 2.2-0.8 2.3-0.6 1.7 0.1 1.1 1.1 0.9 1.6 0.9 2.1 0.8 2.5 0.9 2.4 1.1 1.9 1.3 1.1 1.7 0.7 2 0.5 2.1 0.8 2.1 0.5 2 0.3 2.2 0.9 1.3 1 0.8 1.3 0.6 1.8 0.4 2 0.4 2.5 0.4 2.7 0.4 2.4 0.4 2 0.6 1.9 0.7 1.8 1.2 1.1 2 0.7 2.2 0.3 1.8-0.2 1.6-1.2 1.6-1.9 1.6-1.9 1.6-1 1.6 0.3 1.5 1.6 1.5 1.9 1.6 1.9 1.6 1.4 1.8 0.1 1.9-0.3 2.1-0.2 2.2 0 2 0.1 2.1 0.6 2 0.6 2 0.6 1.9 0.2 1.9-0.6 1.8-0.8 1.8-0.9 1.8-1.2 1.8-1.3 1.8-1.2 1.9-0.8 1.9-0.8 1.9-0.5 2-0.5 2-0.6 2-0.7 2-0.7 2-0.4" stroke="#bf0000"/>
<path d="M950 267l2.5 0.1 2.3 0.2 2.2 0.3 2 0.3 1.9 0.3 1.6 0.2 1.5 0.2 1.2 0.7 1 1.5 0.9 2.2 0.9 2.3 1 2.3 1 2.3 1.2 1.3 1.3 1.2 1.4 1.7 1.5 1.5 1.6 1.3 1.7 1.1 1.8 0.8 2 0.4 2 0.2 2.1 0.4 2 0.6 1.9 0.5 1.9 0.9 1.7 1 1.7 0.9 1.7 0.9 1.7 1.2 1.7 1.3 1.8 1.2 1.8 0.9 1.8 0.7 1.8 1 1.9 0.9 1.9 0.4 1.8 0.7 2 0.6 1.9 0.5 1.9 0.9 2 0.9 2 0.4 2 0.1 2.1 0.2 1.9 0.4 2 0.3 1.9 0.5 1.9 0.8 1.8 0.6 1.9 1.1 1.8 1.1 1.7 0.9 1.8 1 1.7 1.1 1.6 1.2 1.6 1.4 1.6 1.1 1.5 1.2 1.6 1.5 1.5 1.5 1.6 1.2 1.6 1.2 1.6 1.3 1.7 1.1 1.8 0.9 1.7 1.2 1.8 0.8 1.7 0.6 1.8 1.2 1.7 1.3 1.8 1.1 1.7 1 1.7 1 1.8 1.1 1.7 1 1.7 1 1.8 1 1.7 1.1 1.8 1.2 1.7 1.1 1.7 1.2 1.8 1.1 1.8 0.9 1.8 0.6 1.9 0.7 1.9 0.7 2 0.2 2 0.2 2 0.1 2.1 0.1 2.1 0.4 2 0.1 2-0.1 2 0.1 2.1 0.3 2 0 2 0.1 2 0.3 2.1 0.1 2-0.1" stroke="#bf0000"/>
<path d="M560.3 331.6l2 0.5 2 0.5 2 0.2 2.1 0 2 0.3 2 0.5 2 0.1 2.1-0.1 2-0.2 2 0.1 2 0.1 2.1-0.1 2-0.4 2-0.5 2.1-0.2 2 0.1 2 0 2-0.4 2-0.3 2 0 2-0.4 2.1-0.6 2-0.3 2-0.2 2-0.3 2-0.7 2-0.7 2-0.4 2-0.1 2-0.1 2-0.6 2-0.5 2-0.2 2-0.4 2-0.2 2 0 2-0.5 2-0.4 2.1-0.3 2-0.5 2-0.4 2-0.2 2 0.1 2-0.2 2.1-0.5 2-0.1 2 0 2-0.7 2.1-0.6 2 0.2 2 0.2 2.1-0.1 2 0.4 2 0.1 2.1-0.3 2-0.2 2-0.3 2.1-0.2 2 0.3 2 0.4 2.1-0.1 2-0.1 2 0.1 2.1 0 2-0.1 2 0.3 2.1 0.2 2 0 2 0.1" stroke="#9f0000"/>
<path d="M1372.5 316l2-0.6 2.1-0.4 2-0.1 2.1-0.1 2-0.3 2 0.2 2.1 0.5 2 0.4 2 0.6 2 0.9 2 0.7 2.1 0.1 2.1-0.3 2.1-0.4 2.1-0.1 2 0.2 2 0 1.9-0.1 1.8-0.8 1.7-1.3 1.8-1.5 1.8-1.6 1.8-1 1.9-0.9 2-0.7 2-0.3 1.9-0.3 2.1-0.3 2.1 0.3 2.2 0.7 2.1 0.7 1.9 0.3 1.6-0.1 1.4-0.8 1.3-1.5 1.1-2.1 1.1-2.1 1.1-2 1.1-2 0.9-2 0.8-1.9 0.9-2.1 1-1.8 1.2-1.4 1.4-1.3 1.7-1.4 1.9-1.1 2-0.7 1.9 0 2 0.3 2 0 2.1 0.6" stroke="#9f0000"/>
<path d="M1455 287l2.2 0.8 2.2 0.4 1.9 0.4 1.8 0.5 1.5 0 1.2-1.5 1.1-2.3 1-2.6 1-2.4 1.1-1.7 1.3-1.2 1.4-0.4 2.1 0.3 2 0.9 1.4 1 1 1.6 0.8 2.3 0.8 2.4 0.7 2.5 0.7 2.2 0.9 1.4 1.2 0.4 1.6-0.4 2.1-0.6 1.9-0.7 2-0.5 2.1-1 2.1-1.2 1.8-1 1.3-1.3 0.8-1.4 0.4-1.5 0.3-1.6 0.3-1.7 0.3-1.8 0.3-1.6 0.3-1.8 0.2-1.9 0.2-1.7 0.2-1.8 0.2-2.3 0.1-2.5 0.2-2 0.1-1.9 0.1-2.1 0.2-2.2 0.1-2.3 0.1-2.3 0.1-2.1 0.1-2.1 0.1-2.2 0.1-2.1 0.2-2.1 0.1-2.2 0.1-2.2 0.2-2.2 0.1-2.3 0.2-2 0.2-2.1 0.2-2.5 0.2-2.4 0.1-2 0.2-2.1 0.1-2.2 0.1-2.4 0.2-2.5 0.1-2.4 0.2-2 0.2-2.1 0.2-2.4 0.3-2.1 0.3-1.5 0.3-1.3 0.4-1.5 0.5-1.2 1.6-0.4 2.5-0.1 2.2-0.1 1 0.1 0.6 0.7 0.5 1.6 0.4 2 0.4 2.4 0.3 2.6 0.3 2.6 0.4 2.3 0.4 1.9 0.4 1.9 0.4 1.9 0.4 2.2 0.4 2 0.4 1.9 0.4 2 0.4 2 0.4 2 0.4 1.9 0.3 2 0.4 2.1 0.4 2 0.4 1.9 0.4 2 0.4 2.2 0.3 2 0.4 1.9 0.4 1.8 0.3 1.9 0.4 2.2 0.4 2.2 0.4 2.1 0.4 1.9 0.5 1.6 0.4 2 0.5 2.3 0.6 2.3 0.5 2.1 0.6 2.4 0.7 2.6 0.7 2.2 0.7 1.9 0.7 1.2 0.7 0 0.9-1.5 0.9-2.3 1-2.7 1-2.6 0.8-1.4 0.8 0.1 0.7 0.9 0.7 1.5 0.7 2.1 0.7 2.3 0.6 2.5 0.6 2.5 0.5 2.5 0.5 2 0.4 2.1 0.3 2.5 0.2 2.7 0.3 2.5 0.3 2.3 0.4 1.9 0.5 1.4 0.6 0.9 1.3 0.1 2.4 0" stroke="#9f0000"/>
<path d="M1569.6 260.6l0.5-2.3 0.5-2.3 0.5-1.8 0.5-1.7 0.5-2.2 0.5-1.9 0.4-2.2 0.4-2.6 0.4-2.8 0.5-2.5 0.6-1.6 0.7-0.6 1.9 0.6 2.2 0.9 1.6-0.8 1.2-2.2 0.6-2 0.3-1.7 0.2-1.8 0.1-2 0.1-2.5 0-2.6 0.1-2.3 0.1-1.9 0.1-1.9 0.2-1.7 0.3-1.6 1.2-1.7 1.8-1.8" stroke="#9f0000"/>
<path d="M379.1 322.3l2.1 0 2.1-0.2 2 0.3 2.1 0.6 2.1 0 2.1-0.2 2-0.3 2.1-0.3 2.1 0.3 2.1 0.1 2.1-0.4 2-0.6 2.1 0 2 0.6 2.1 0.5 2 0.6 2 0.8 2 0.5 2.1 0.3 2 0.6 2 0.4 2 0.5 2 0.7 2 0.7 2.1 0.3 2 0.3 2 0.3 2.1 0.3 2 0.3 2.1 0.4 2.1 0.4 2 0.1" stroke="#800000"/>
<path d="M440 330.1l2-0.1 2.1-0.3 2-0.1 2.1-0.1 2-0.2 2-0.2 2.1 0 2-0.3 2.1-0.2 2 0 2-0.2 2.1 0.2 2 0.3 2.1-0.1 2-0.1 2.1 0 2 0.2 2 0 2.1 0 2 0.2 2.1 0 2-0.2 2.1-0.1 2 0.1 2 0.1 2.1 0.1 2-0.1 2.1 0 2 0.2 2 0.1 2.1-0.1 2 0.3 2 0.3 2.1 0.2 2 0.5 2 0.3 2 0.2 2.1 0.4 2 0.3 2 0.2 2 0.2 2 0.3 2.1 0.2 2 0.2 2 0.5 2 0.5 2 0.5 2 0.2 2 0.2 2 0.6 2 0.6 2 0.3 2 0.2 2 0.3 2 0.4 2.1 0.4 2 0.7 2 0.6 2 0.4 2 0.6 1.9 0.7 2 0.5 2 0.6 2 0.4 2.1-0.1 2 0 2 0.5 2 0.4 2-0.2 2.1-0.6 2-0.3 2.1-0.1 2 0.2 2.1 0.2 2-0.1 2-0.3 2-0.7 2-0.9 1.9-0.7" stroke="#800000"/>
<path d="M695 321l2.1 1 2 0.8 2.1 0.4 2.1 0.5 2.1 0.8 2.1 0.7 2.1 0.5 2.1 0.4 2.2 0.4 2.1 0.4 2.2 0.4 2.1 0.4 2.2 0.2 2.1 0.3 2.2 0.4 2.1 0.5 2.2 0.3 2.2 0.1" stroke="#800000"/>
<path d="M1235.1 302.6l1.3-3 1.4-1.6 1.3-1 1.4-1.6 1.4-0.3 1.4 2.2 1.4 2.1 1.6 1 2.1 0.7 2.2 0.5 2-0.5 1.6 0.3 1.4 2.9 1.3 1.6 1.3-2 1.1-3.5 1.2-2.3 1.6 1.1 2 1.4 2.1-0.2 2.2 0.9 2.1 0.9 2-1.1 1.8 0.1 1.5 2 1.4 1.4 1.6 0.5 1.9-1.1 2-1.4 2.1 0.3 1.8 0.6 1.5 0.6 1.2 2.1 1.3 1.8 1.7-0.4 1.9-0.3 2.1 1 2.2 0.5 2.1-0.5 1.9-0.1 1.9 1.2 1.8 1.7 1.9 0.6 2 0.3 2 0.9 2 0.5 2.1 0.4 2.1 0 2-1.3 1.9 0.1 1.9 2.3 1.8 1.5 1.8 0.4 1.7 0.3 1.8 0.8 1.9 1.6 1.9 1 1.9 0 2 0.3 2 0.9 2 0.9 2-0.2 2.1-0.8 2-0.3 2 0.8 2 0.7 2.1-0.4 2 0.6 2.1 1.3 2-0.9 2.1-1.4 2 0.3 2 1.4 2.1 0.7 2-0.3 2.1 0 2 0.4 2.1-0.4 2-0.7 2-0.3 2.1 0.4 2 0.6 2.1 1 2 0.8 2-0.4 2.1-0.4 2-0.2 2-0.3 2.1-0.1 2 0.5 2 0.7 2-0.3 2-0.8 2.1 0.6" stroke="#800000"/>
</g>
<g clip-path="url(#cp1)" fill="none" stroke-width="4.3" stroke-linejoin="round">
<path d="M1176.9 537.9l1.7-6.9 1.7-0.9 1.7 1.8 1.7-2 1.7 7.2 1.7-1.7 1.7-0.7 1.7 2.1 1.7-5.4 1.7-1.9 1.7 4.4 1.7-0.1 1.7-3.1 1.7 3.7 1.7 2.6 1.7-5.4 1.7 1.9 1.7 0.4 1.7 0.4 1.7 1.5 1.7-1.2 1.7 2.2 1.7-6 1.7 0.9 1.7 3.5 1.7-3.4 1.7-0.3 1.7 1.4 1.7 1.1 1.7-2.3 1.7 2.9 1.7 2.1 1.7-8.5 1.7-1.4 1.7 8.2 1.7-4.2 1.7 6.1 1.7 3.8 1.7-8.1 1.7-0.6 1.7 1 1.7 0.8 1.7-0.9 1.7-2.3 1.7 3.5 1.7-6.6 1.7 6.6 1.7-0.8 1.7 3.2 1.7-3.1 1.7 0.9 1.7-3.9 1.7 3.1 1.7 1.6 1.7 0.7 1.7-2.5 1.7 4" stroke="#00009f"/>
<path d="M387.3 537l1.7-6 1.7-5.6 1.7 4.2 1.7 3.6 1.7 0.2 1.7-1.2 1.7-0.3 1.7 2.9 1.7-3.4 1.7-4.1 1.7 4.9 1.7 3.5 1.7-5 1.7 4 1.7-0.1 1.7-1.6 1.7 1.1 1.7-3.6 1.7 2.7 1.7 3.9 1.7-4.3 1.7-2.8 1.7 7 1.7-7.7 1.7 8.2 1.7-4.2 1.7 1.4 1.7-0.7 1.7-0.9 1.7 2.8 1.7-3.1 1.7-2 1.7 2.3 1.7-4.8 1.7 4.3 1.7-4.4 1.7 4.9 1.7 1.9 1.7-0.3 1.7-2.1 1.7-6.9 1.7 6 1.7 4.8 1.7-5.2 1.7 3.2 1.7-3.3 1.7 6.1 1.7-9.9 1.7 4.2 1.7 0.4 1.7 2.4 1.7-1.3 1.7 0.4 1.7-6.6 1.7 11.5 1.7-4.8 1.7-2.3 1.7 5.5 1.7-6.8 1.7 4 1.7 1.7 1.7-0.6 1.7-1.4 1.7-0.9 1.7-2.5 1.7 3.7 1.7-4.4 1.7 6.3 1.7-0.5 1.7-2.3 1.7-5.2 1.7 6.9 1.7 0 1.7-4.7 1.7 1.9 1.7 1.5 1.7 1.5 1.7-2.9 1.7-1.3 1.7 0.9 1.7-1.3 1.7 7.4 1.7 0.2 1.7-10.5 1.7 4.5 1.7 5.3 1.7-0.5 1.7 1.5 1.7-1.9 1.7-2.1 1.7-0.4 1.7 2.9 1.7-2.5 1.7-5.7 1.7 4.9 1.7-5.2 1.7 7 1.7-1.4 1.7-1.2 1.7 1.1 1.7-5.4 1.7 3.3 1.7-0.3 1.7 1.9 1.7-0.8 1.7 1 1.7 0.1 1.7-4.3 1.7 0.4 1.7 6.4 1.7-5.4 1.7 1.9 1.7 2.6 1.7-3.1 1.7 6.8 1.7-8.4 1.7 0.9 1.7-3.8 1.7 7.7 1.7-3.3 1.7 2.7 1.7-0.3 1.7 5.2 1.7-5.1 1.7-2.6 1.7-0.1 1.7 3.4 1.7-7.3 1.7 3.8 1.7-2.8 1.7 1.5 1.7 5.8 1.7-5.7 1.7 1.3 1.7 3.5 1.7-6.5 1.7 4.5 1.7-3.5 1.7 3.7 1.7-1.7 1.7 3.9 1.7-2.9 1.7 1.5 1.7 2.6 1.7-4.1 1.7 3.8 1.7-1.7 1.7 0.6 1.7-4.4" stroke="#0000bf"/>
<path d="M691.5 533.6l1.7-0.2 1.7 1.6 1.7 1.1 1.7-0.3 1.7-1.1 1.7-3.1 1.7 0.2 1.7 2.6 1.7-4.4 1.7 2.1 1.7 0.7 1.7 1.5 1.7 0.3 1.7-4.7 1.7 4.9 1.7-6.9 1.7 3.4 1.7 4.2 1.7-3.3 1.7 2 1.7 5.6 1.7-7.3 1.7 0 1.7-5.1 1.7 6.5 1.7 3 1.7-3.3 1.7-0.3 1.7 7.7 1.7-7.5 1.7 0 1.7-0.2 1.7-3 1.7 4.8 1.7 1.4 1.7-0.5 1.7-0.7 1.7-4.2 1.7 0.7 1.7 8.9 1.7-11 1.7-0.4 1.7 3.6 1.7-3.9 1.7 0.7 1.7-0.6 1.7 0.8 1.7 2.5 1.7 2.6 1.7-1.6 1.7 1.7 1.7-3.2 1.7-6.1 1.7 5.1 1.7-2.6 1.7 5.3 1.7 0.8 1.7-3.1 1.7 1.2 1.7 2.1 1.7 1.5 1.7-5.2 1.7 4.5 1.7-3.8 1.7 3.7 1.7-9.6 1.7 6.1 1.7 2.1 1.7-4.4 1.7-3.4 1.7 3.5 1.7 2.6 1.7 1.9 1.7 0.4 1.7-1.7 1.7-4 1.7 1.1 1.7 4.4 1.7 1.1 1.7-2.2 1.7 4.9 1.7-6.8 1.7 1.6 1.7 0.6 1.7-1.2 1.7-3 1.7 0 1.7 3.8 1.7 1 1.7 3.7 1.7-4.7 1.7-7.6 1.7 3.6 1.7-0.6 1.7 1.9 1.7 3.9 1.7-0.5 1.7 0 1.7-4.7 1.7 2.9 1.7 0.9 1.7 5.7 1.7-2 1.7-4.1 1.7 2.9 1.7-2.1 1.7-1.1 1.7-0.1 1.7-3.9 1.7 9 1.7-3.9 1.7-3.5 1.7 2 1.7-0.4" stroke="#0000bf"/>
<path d="M1455 532.5l1.7-0.8 1.7 5.7 1.7-9 1.7 7.4 1.7-3.2 1.7 3 1.7-4 1.7-1.3 1.7 3.2 1.7 5.2 1.7-9 1.7 5.3 1.7 1.9 1.7-2.5 1.7-1.7 1.7 5.9 1.7-5.4 1.7 2.1 1.7-1.6 1.7 0.9 1.7-2.9 1.7-0.7 1.7 5.4 1.7-3.2" stroke="#0000bf"/>
<path d="M478.3 534.6l1.7-4.6 1.7 5.6 1.7 1.1 1.7-3.2 1.7-4.8 1.7 6.5 1.7-6.6 1.7 6 1.7 0.7 1.7-5.7 1.7 1.5 1.7-1.9 1.7 1.4 1.7-1.5 1.7-0.7 1.7-0.2 1.7 6.6 1.7-1.3 1.7 2.5 1.7-3.9 1.7 4.6 1.7-7.2 1.7 3.2 1.7-0.5 1.7-2.4 1.7 0.7 1.7-1.1 1.7 3.6 1.7-2.1 1.7 3.1 1.7-0.3 1.7-1.4 1.7-1.4 1.7 1.1 1.7 3 1.7-1.6 1.7-1.5 1.7 0.2 1.7 5.7 1.7-5.9 1.7 0.4 1.7 2.4 1.7-2.9 1.7-2.6 1.7 1.6 1.7 1.1 1.7 0.9 1.7-0.5 1.7-2 1.7 2.9 1.7 1.6 1.7-5.3 1.7 9.2 1.7-8.6 1.7 7.2 1.7-0.5 1.7-0.4 1.7-0.8 1.7-5.6 1.7 1.3 1.7 3.4 1.7-4.2 1.7 4.6 1.7-5 1.7-0.4 1.7 3.6 1.7-1.6 1.7 2.3 1.7-2.5 1.7-2.7 1.7 5.5 1.7-4.6 1.7 2.3 1.7 4.3 1.7 0.8 1.7-5.5 1.7 0.5 1.7 1 1.7 2.4 1.7 1.2 1.7-4.4 1.7-0.8 1.7-0.6 1.7 0.8 1.7 3.8 1.7-7.2 1.7 0.7 1.7-2 1.7 5.6 1.7 2.5 1.7-3.1 1.7-2.2 1.7 2.8 1.7 0.4 1.7 1.8 1.7-1.7 1.7-2.9 1.7 3.2 1.7 3.6 1.7-6.3 1.7 2.8 1.7-0.4 1.7-0.3 1.7-6.7 1.7 9.4 1.7-5 1.7 1.8 1.7-5 1.7 2.5 1.7-1.4 1.7 3.8 1.7 2.2 1.7-1.3 1.7 0.2 1.7 0.3 1.7 1.5 1.7-1.6 1.7 1 1.7-4.1 1.7 4 1.7-3.4 1.7 1.8 1.7-6.4 1.7 5.2 1.7 2.9 1.7-2.1 1.7-2.6 1.7 5.3 1.7-5.9 1.7 3 1.7 0.3 1.7-0.7 1.7 3.9 1.7-5.5 1.7 6.3 1.7-0.2 1.7-2.5 1.7 0.4 1.7-3.2 1.7-0.1 1.7 3.5 1.7-0.6 1.7 2.4 1.7-4 1.7 2.6 1.7-5.2 1.7 5.3 1.7-0.1 1.7 0.5 1.7-4.5 1.7-0.9 1.7 2.2 1.7 1.1 1.7 2.7 1.7-0.4 1.7-2.1 1.7-7.4 1.7 12.5 1.7-1.3 1.7-2.6 1.7 0.6 1.7-1.7 1.7 0" stroke="#0000df"/>
<path d="M1341.7 533.2l1.7-1.6 1.7 6.6 1.7-8.5 1.7 4.2 1.7-6.2 1.7 6.8 1.7 0 1.7-4.8 1.7 8 1.7-4 1.7 3.6 1.7-2.1 1.7-5 1.7 0.9 1.7 5.5 1.7-8.3 1.7 10.3 1.7-2.9 1.7-2.8 1.7-1 1.7 4.6 1.7-8.5 1.7 7.2 1.7-7.7 1.7 7.7 1.7-0.5 1.7-2.3 1.7-1.3 1.7 0.5 1.7 2.6 1.7-0.4 1.7-2.1 1.7 1.9 1.7 0.2" stroke="#0000df"/>
<path d="M1410.1 536.7l1.7-5.7 1.7 2.4 1.7-4.6 1.7 6.5 1.7-5.8 1.7 2.9 1.7 2 1.7-1.6 1.7-2.3 1.7-0.1 1.7 4.8 1.7 0.1 1.7-4.7 1.7 7.8 1.7-7.1 1.7 1.3 1.7 1.7 1.7-0.3 1.7-0.5 1.7-3.1 1.7 4 1.7-4.3 1.7 0.5 1.7-1.2 1.7 1.9 1.7 1.3 1.7 0.3 1.7-1.4 1.7 3.2 1.7-0.4 1.7-0.6" stroke="#0000df"/>
<path d="M695 532.7l1.7-6.2 1.7 8.4 1.7-4.5 1.7 1.3 1.7 1.2 1.7 0.8 1.7-1.5 1.7 1.4 1.7-1.5 1.7-2.9 1.7 1.9 1.7-1.1 1.7-2.1 1.7 4.7 1.7 1.6 1.7-1.7 1.7-3 1.7 2.1 1.7 2.4 1.7-5.4 1.7 1.7 1.7 1.2 1.7-2.5 1.7 2.4 1.7-3.7 1.7 2.2 1.7 5 1.7 6.2 1.7-9.3 1.7 3.6 1.7-5.5 1.7 2.3 1.7 0.5 1.7-1 1.7 2.8 1.7 0.3 1.7-2 1.7-2.4 1.7 1.2 1.7 1 1.7-1.3 1.7 1.8 1.7-0.3 1.7 0.7 1.7-1.4 1.7 2.4 1.7 2.6 1.7-5.9 1.7 3.9 1.7-4.3 1.7 2.1 1.7-5.2 1.7 5.5 1.7-4 1.7-0.7 1.7 3.8 1.7 5.8 1.7-7.1 1.7-0.8 1.7 4.1 1.7 0.4 1.7-7 1.7 8.6 1.7-6 1.7-3.2 1.7 5.7 1.7 1.2 1.7-2.3 1.7 1.1 1.7 4.8 1.7-6.2 1.7 2.2 1.7 1.7 1.7-3.7 1.7-0.5 1.7-0.1 1.7 0.2 1.7-0.4 1.7 2 1.7-4.1 1.7 7 1.7-1.1 1.7-4.7 1.7 3.1 1.7-1 1.7 3 1.7-2.3 1.7-0.7 1.7 3.5 1.7-4.5 1.7 1.7 1.7 3.5 1.7-6.7 1.7 1.6 1.7 1 1.7 7.6 1.7-4.8 1.7 1.7 1.7-3.3 1.7-1.7 1.7 3.4 1.7 1.1 1.7-4.3 1.7 2.4 1.7 2.2 1.7-2.6 1.7-1.3 1.7-4 1.7 6.2 1.7-0.4 1.7-2.5 1.7 0.6 1.7-3.6 1.7 6.1 1.7-1.2 1.7-3.1 1.7 5.9 1.7-2.4 1.7-1.7 1.7 6.7 1.7-1.8 1.7-1.9 1.7-6.3 1.7 2.4 1.7 0.5 1.7-1.3 1.7 2.4 1.7 0.7 1.7 0.4 1.7 0.3 1.7-5.2 1.7 4.4 1.7-2.9 1.7 2.7 1.7 4 1.7-1.1 1.7-4.3 1.7 0.9 1.7 3.7 1.7 1.2 1.7-3.5 1.7 1.4 1.7-1.9 1.7 0.9 1.7-2.6 1.7 2.6 1.7-1.9 1.7-1.2 1.7-2.3 1.7 2.4 1.7 1.2 1.7 0.3 1.7 3.4 1.7-4.7 1.7 1.2 1.7-2.2 1.7 5.4 1.7 2.2 1.7-2.6 1.7-3.2 1.7-0.7 1.7-0.6 1.7-0.4 1.7 3.1 1.7-4 1.7 3 1.7-1.1 1.7 4.1 1.7-3.9 1.7 1.7 1.7 0.9 1.7-5.7 1.7-1.1 1.7 2.9 1.7 2.4 1.7-2.6 1.7 5.6 1.7-6.2 1.7 2.6 1.7 1.2 1.7-4.5 1.7 0.9 1.7 0.2 1.7 7.9 1.7-4.1 1.7-4.9 1.7 3.6 1.7 2.7 1.7-8.2 1.7 9.7 1.7-7.1 1.7 3.4 1.7-3.3 1.7 1.8 1.7-2.4 1.7-1.9 1.7 4 1.7 2.6 1.7-2.1 1.7 5.5 1.7-4.2 1.7 0.8 1.7 1.6 1.7-0.8 1.7-3.9 1.7 1.7 1.7-2.6 1.7 4 1.7-3 1.7-0.6 1.7 4.2 1.7-4" stroke="#0000ff"/>
<path d="M190.5 535.9l1.7-4.3 1.7 4 1.7-2.3 1.7-5.2 1.7 1.8 1.7 4.5" stroke="#0020ff"/>
<path d="M597.2 532.5l1.7 3.2 1.7 2.8 1.7-5.4 1.7-4.7 1.7 5.6 1.7 1.7 1.7-1.3 1.7 0 1.7-0.7 1.7-2.7 1.7 2.6 1.7-1.4 1.7 1 1.7-0.9 1.7 1.9 1.7-4.5 1.7 5.5 1.7 3.2 1.7-10.1 1.7 1.6 1.7 5.7 1.7-4.7 1.7 1.9 1.7 0 1.7 0.3 1.7-8.2 1.7 4.5 1.7 3.4 1.7 5.5 1.7-2.5 1.7 0.6 1.7-8.5 1.7 4.7 1.7-0.4 1.7 5.5 1.7-3.9 1.7 0 1.7-0.7 1.7 1 1.7-5 1.7 4.4 1.7-2.2 1.7 2.5 1.7 2.6 1.7-4.2 1.7-3.1 1.7 5.6 1.7-5 1.7-1.9 1.7 9 1.7 1.4 1.7-8 1.7 2.4 1.7 6.9 1.7-10.3 1.7 1.4 1.7 3.3 1.7-9 1.7 5.7 1.7 5.4" stroke="#0020ff"/>
<path d="M1486.1 535.1l1.7-3.2 1.7 0.7 1.7 3 1.7-1.2 1.7 2.1 1.7 1.7" stroke="#0020ff"/>
<path d="M645.1 533.1l1.7 5.2 1.7-3.1 1.7-3.3 1.7 2.6 1.7-3.4 1.7 3.5 1.7-0.1 1.7-1.1 1.7 4.1 1.7-7.3 1.7 4.8 1.7-2.7 1.7 2.2 1.7 0.5 1.7 2.5 1.7-3.6 1.7 2.5 1.7-0.7 1.7 0.7 1.7-1.2 1.7-4.6 1.7 7.2 1.7-3.2 1.7 1.6 1.7-3.8 1.7 0 1.7 1.7 1.7-1.9 1.7 1.9 1.7 1.4 1.7-0.6 1.7 1.4 1.7-7.3 1.7 1.4 1.7 2.6 1.7 2.6 1.7 0.7 1.7-2 1.7 4.6 1.7-8.5 1.7 4.7 1.7-2.9 1.7-2.8 1.7 2.8 1.7-1.2 1.7-3 1.7 3.7 1.7 1.4 1.7-0.9 1.7 4.9 1.7-7.2 1.7 6.5 1.7-3.2 1.7-3.6 1.7 2.3 1.7 1.6 1.7 1.3 1.7-5.9 1.7 4.5 1.7 0.5 1.7 2.6 1.7-2.8 1.7-2.9 1.7 4.2 1.7 1.6 1.7-3.6 1.7-2.8 1.7 3.9 1.7-0.4 1.7 0.9 1.7-3.5 1.7 1.3 1.7 5 1.7-2.7 1.7-5 1.7 3.6 1.7-5.2 1.7 3.8 1.7-0.2 1.7 0.3 1.7 2.8 1.7-3.6 1.7-2.7 1.7 6.5 1.7 6.1 1.7-7.5 1.7 1.8 1.7-0.4 1.7-5.4 1.7 4.7 1.7-1.1 1.7-1.3 1.7 3.5 1.7-2.5 1.7-4.9 1.7 5 1.7-6.8 1.7 4.5 1.7 0.1 1.7 0.2 1.7-2.5" stroke="#0040ff"/>
<path d="M1302.1 534.8l1.7 1.8 1.7-1.5 1.7 0 1.7 2.9 1.7-8.4 1.7 5.4 1.7-5.5 1.7 2.4 1.7 0.4 1.7 2.6 1.7-3 1.7 5.2 1.7-5 1.7 1.3 1.7-1.2 1.7-1.3 1.7 0.7 1.7 0.1 1.7 3.4 1.7-1 1.7-3.5 1.7 3.6 1.7-2 1.7 0.2 1.7 2.7 1.7-2.6 1.7 3 1.7-4.6 1.7 0.3 1.7 2.9 1.7-3 1.7 3.5 1.7-4.9 1.7 3.4 1.7-1.1 1.7-1.6 1.7 4.5 1.7-1 1.7-3.7 1.7-0.1 1.7 5.8 1.7-4.5 1.7-0.5 1.7 3.5 1.7 4.1 1.7-6.1 1.7 2.4 1.7 2 1.7-6.1 1.7 5.4 1.7-3.2 1.7-0.8 1.7 1.8 1.7 0 1.7-0.6 1.7-2.7 1.7 0.6 1.7-1.9 1.7 1.2 1.7 0.1 1.7 0.4 1.7 3.2 1.7-2.1 1.7 0.1 1.7 0.4 1.7-2.3 1.7 5.1 1.7-5.4 1.7 7.1 1.7-3.1 1.7 2 1.7 1.5 1.7-3.2 1.7-4.3 1.7 0.5 1.7 3 1.7 0 1.7-6 1.7 6 1.7-5.1 1.7 4 1.7-2.4 1.7 4.3 1.7-5.1 1.7 8.1 1.7-4.1 1.7 7.9 1.7-7.1 1.7-0.8 1.7-2.2 1.7-2.9 1.7 4.5 1.7 1.4 1.7 1 1.7-5.7 1.7 7.4 1.7-3.2 1.7 0.5 1.7 0.4 1.7-1.8 1.7 2.9 1.7-6.1 1.7 2.2 1.7 3 1.7-0.4 1.7-0.9 1.7 1.1" stroke="#0040ff"/>
<path d="M209.6 538.1l1.7-5.5 1.7 0.4 1.7 2 1.7 0.3 1.7-3.9 1.7 1.7 1.7 2.2 1.7-4.7 1.7 6.2 1.7-5.8 1.7 1 1.7 4.4 1.7 0.8 1.7-2.5 1.7-5.3 1.7 0.7 1.7-0.2 1.7 3.5 1.7 1.5 1.7-4.1 1.7 4.5 1.7-1 1.7-1.2 1.7-0.6 1.7-6.2 1.7 5.2 1.7 3.4 1.7-5.4 1.7-2.2 1.7 8 1.7-5 1.7 2 1.7-2.9 1.7 4.5 1.7 0.6 1.7 2 1.7-5.4 1.7 7.2 1.7-12 1.7 8 1.7-1 1.7-4.2 1.7 6.4 1.7-6.3 1.7 4.8 1.7 0.2 1.7 1.3 1.7-0.4 1.7-8.4 1.7 3.2 1.7 3.7 1.7-6.5 1.7 9.3 1.7-1.9 1.7 2 1.7-2.1 1.7 3.9 1.7-7.2 1.7 4.8 1.7 0.9 1.7-7.2 1.7 9.7 1.7-3.6 1.7-3 1.7-0.9 1.7 3.7 1.7-0.3 1.7-9.4 1.7 8.6 1.7-2.5 1.7 0.3 1.7-6.2 1.7 8.3 1.7 1.2 1.7-0.7 1.7-0.3 1.7-3.8 1.7 3.8 1.7-3.4 1.7 3 1.7 0.4 1.7-1 1.7 4.3 1.7-7.8 1.7-2.4 1.7 8.2 1.7-5 1.7-1.6 1.7 5.4 1.7 0.2 1.7-6.6 1.7 3.8 1.7 3.9 1.7 3.7 1.7-8 1.7 6.4 1.7-3.1 1.7-2.9 1.7-4.4 1.7 4.5 1.7 0.3 1.7 2.6 1.7-3.7 1.7 2 1.7 3.4 1.7 1.3 1.7-11 1.7 0.2 1.7 3.9 1.7 2.1 1.7 3.6 1.7-10.4 1.7 3.5 1.7 3.6 1.7-2.1 1.7 3.2 1.7-0.7 1.7 4 1.7-6.3 1.7 0.5 1.7 2 1.7-1.8 1.7 2 1.7-3 1.7 5.1 1.7-2 1.7-0.8 1.7-0.8 1.7-3.3 1.7 4.3 1.7-0.7 1.7-2.4 1.7 4 1.7-1.6 1.7 3.9 1.7-1.8 1.7-4.4 1.7 2.4" stroke="#0060ff"/>
<path d="M790.7 537.1l1.7-3.7 1.7 0.4 1.7 3.3 1.7-7.5 1.7 0.7 1.7 4.1 1.7-1.3 1.7 3.6 1.7-6.4 1.7-0.1 1.7-1.5 1.7 5.9 1.7 5.9 1.7-5.5 1.7 3.6 1.7-6.2 1.7-1.9 1.7 8.1 1.7-5.1 1.7 0 1.7 1.4 1.7 0.4 1.7-2.2 1.7 1.6 1.7-2.4 1.7-2.5 1.7 4.5 1.7-3.2 1.7 3.3 1.7-5 1.7 1.2 1.7-0.8 1.7 5.5 1.7-1.1 1.7-3.3 1.7 1.7 1.7 0.4 1.7 5.2 1.7-6.6 1.7-1.8 1.7 4.4 1.7-6.7 1.7 6.2 1.7-1.1 1.7-5.6" stroke="#0060ff"/>
<path d="M938.3 529.5l1.7 6.1 1.7-0.1 1.7-0.4 1.7-5 1.7 2.5 1.7-3.3 1.7 6.2 1.7-6.1 1.7 3.8 1.7 1.7 1.7 1.7 1.7-2.6 1.7 2 1.7-0.4 1.7-4.1 1.7-1.5 1.7 0.1 1.7 3.2 1.7-7 1.7 13.9 1.7-5.4 1.7-0.5 1.7-2 1.7 1.1 1.7 2.1 1.7-2.8 1.7-2.2 1.7 6.4 1.7-5 1.7 3 1.7-1.8 1.7-1.7 1.7-4.9 1.7 9.8 1.7-6.4 1.7 4.2 1.7-2.9 1.7 4.7 1.7-2.1 1.7-4.3 1.7 2.8 1.7 5.6 1.7-3.6 1.7 2.9 1.7-3.3 1.7 4.1 1.7-7.6 1.7 5 1.7-1.9 1.7-0.9 1.7-2.6 1.7-2.6 1.7 6.6 1.7-0.2 1.7-4.8 1.7 2.8 1.7 1.3 1.7 1.1 1.7-2.8 1.7 0.4 1.7 2 1.7-0.8 1.7-3.3 1.7 4.9 1.7-2.9 1.7 2.3 1.7 0.1 1.7 0.6 1.7-3.6 1.7 1.5 1.7 2.9" stroke="#0060ff"/>
<path d="M970.5 525.4l1.7 5.7 1.7-3.5 1.7 4.6 1.7 0.1 1.7 2.3 1.7 1.9 1.7-4.3 1.7 4.6 1.7-6.6 1.7 3.9 1.7 1 1.7 1.1 1.7-9.4 1.7 10.1 1.7-1.1 1.7-5 1.7 0.6 1.7-1.3 1.7-0.2 1.7 5.9 1.7-5.8 1.7 0 1.7 4.2 1.7-1.2 1.7 4.2 1.7-4.9 1.7 2.9 1.7-2.2 1.7 4.2 1.7-2.7 1.7 1.6 1.7-3.3 1.7-0.6 1.7-4 1.7 7.2 1.7-3.9 1.7 1.5 1.7 3.7 1.7-4.7 1.7-0.5 1.7-1.3 1.7 6.2 1.7-2.3 1.7 2.4 1.7-4.4 1.7-1 1.7 4.5 1.7-3.5 1.7-4.2 1.7 6.7 1.7-1.6 1.7 0.8 1.7 3.3 1.7-3.6 1.7-3 1.7 0.5 1.7-0.4 1.7 3.3 1.7 2.7 1.7-2.3 1.7-5.2 1.7 2.3 1.7-1 1.7 2.4 1.7-1.4 1.7 1.1 1.7 0.1 1.7-1.4 1.7-3.1 1.7 6.3 1.7-1.4 1.7 3.8 1.7-0.7 1.7-3 1.7-3.4" stroke="#0080ff"/>
<path d="M695 533l1.7-2.3 1.7 2.2 1.7-1.9 1.7 6.6 1.7-5.5 1.7 2.5 1.7-4.9 1.7 3.7 1.7 3.3 1.7-3.1 1.7-2.3 1.7 3.6 1.7-1.3 1.7 2 1.7 0.6 1.7-3.9 1.7 6 1.7-1.3 1.7-2.3 1.7-3.9 1.7 5.3 1.7-3.4 1.7 1.3 1.7-1.3 1.7-5.8 1.7 8.3 1.7-5.4 1.7 2.4 1.7-0.2 1.7 2.6 1.7-3.4 1.7 1 1.7 2.7 1.7-2 1.7-2.6 1.7-1.1 1.7 3.4 1.7 2.2 1.7-2.8 1.7-1.8 1.7 1 1.7 4.5 1.7-8 1.7 2.5 1.7-1.5 1.7 2.8 1.7 1.5 1.7-1.1 1.7 0 1.7-3.4 1.7 4.3 1.7 2 1.7-4.7 1.7 8.2 1.7-5.1 1.7 0.4 1.7 1.8 1.7-9.2 1.7 8.5 1.7 0.3 1.7-5.6 1.7 6 1.7 0.5 1.7-4.2 1.7 8 1.7-3.5 1.7-1.8 1.7-3.4 1.7 2.9 1.7 0.6 1.7-0.3 1.7-5.5 1.7 3.2 1.7 2 1.7-2.6 1.7 1.1 1.7 1.7 1.7-1.5 1.7-2.1 1.7-1.6 1.7 8.4 1.7-2.5 1.7 0.5 1.7-1.9 1.7-0.2 1.7 2.7 1.7 0 1.7-4.2 1.7-1.2 1.7 4.8 1.7-6.8 1.7 6.5 1.7-4.5 1.7-0.4 1.7 2.8 1.7-4.3 1.7 3.3 1.7 0.9 1.7 2.4 1.7-1.5 1.7-3.4 1.7-0.3 1.7 3.4 1.7-3.1 1.7 0.8 1.7 2.8 1.7-1.6 1.7 1.9 1.7-7 1.7 2.6 1.7 3.6 1.7-0.3 1.7-5.3 1.7 5.8 1.7-5.1 1.7-0.3 1.7 6.7 1.7-4 1.7 3.7 1.7-2.6 1.7 7.2 1.7-4.2 1.7-4.1 1.7 3.2 1.7-5.3 1.7 6.2 1.7-5.1 1.7 1.7 1.7 5 1.7-2.1 1.7-5.2 1.7 6.7 1.7-9.4 1.7 8.4 1.7 1.6 1.7-2.8 1.7-1.4 1.7 5.3 1.7-3.2 1.7 0.3 1.7-4.6 1.7-0.7 1.7 2.5 1.7-1 1.7 2 1.7-1.4 1.7 3.6" stroke="#009fff"/>
<path d="M242.4 538.3l1.7-5.4 1.7-3.5 1.7 6.3 1.7 1.9 1.7-4.8 1.7-1.6 1.7-0.5 1.7-2.2 1.7 4.5 1.7 3.7 1.7-3.7 1.7-2.5 1.7 0.7 1.7 2.6 1.7-0.7 1.7-0.3 1.7-2.7 1.7 1.8 1.7-0.9 1.7-1.6 1.7 5 1.7-2 1.7 0.7 1.7-1.3 1.7 5.9 1.7-8.4 1.7 6.7 1.7-2.6 1.7-3.9 1.7 5.8 1.7-0.4 1.7 0.2 1.7-2.3 1.7 4.1 1.7-0.3 1.7-1.7 1.7-5.8 1.7 1.5 1.7-5.9 1.7 13 1.7-4.1 1.7 1 1.7 3.5 1.7-9.5 1.7 4.3 1.7 0.8 1.7-2.2 1.7 3.6 1.7-5.8 1.7 4 1.7-1.1 1.7 2.2 1.7-5.1 1.7 2.7 1.7 0.2 1.7 2.3 1.7-3.5 1.7 1.2 1.7 2.2 1.7 0.2 1.7-7.3 1.7 6.9 1.7-2.5 1.7 0.1 1.7 0 1.7-3 1.7 4.2 1.7 2.7 1.7-4.7 1.7-2.6 1.7 8.3 1.7-4 1.7 0 1.7-1 1.7 3 1.7-2.7 1.7 0.5 1.7 1 1.7 8.8 1.7-11.6 1.7-1.1 1.7 4.9 1.7-2.2 1.7 0.5 1.7 0.7 1.7-0.9 1.7 4.8 1.7-9.6 1.7 4.1 1.7-2.3 1.7 3.3 1.7 0.3 1.7-1 1.7 0.8 1.7-4.4 1.7 3.9 1.7 1 1.7-0.1 1.7 3.5 1.7 1.8 1.7-4 1.7-2.7 1.7 1.1 1.7-0.1 1.7 1.4 1.7 1 1.7-4.8 1.7 7.3 1.7-7 1.7 3.7 1.7-3.7 1.7-0.2 1.7 1.7 1.7 1.3 1.7-1.9 1.7-2.3 1.7-0.4 1.7 6.1 1.7-3.6 1.7-1.6 1.7 8.1 1.7-3.1 1.7 6.1 1.7-10.1 1.7 2.7 1.7-1.9 1.7 0.2 1.7 3.2 1.7 2.3 1.7-3.9 1.7-1.1 1.7-2 1.7 5.5 1.7-1.5 1.7-1 1.7-1.1 1.7 0.6 1.7-3.9 1.7 0" stroke="#00bfff"/>
<path d="M665.6 533.1l1.7 0 1.7 3.3 1.7-1.7 1.7-1.7 1.7 2.9 1.7 0.3 1.7-1.8 1.7-4.2 1.7 4.6 1.7-1.5 1.7 0 1.7-3.8 1.7 2.8 1.7 4.3 1.7-3.6 1.7 1.5 1.7-2.6 1.7 3.4 1.7-2.1 1.7-6" stroke="#00bfff"/>
<path d="M1105.8 533.8l1.7-1.4 1.7 2.1 1.7-5.6 1.7 0.8 1.7 5 1.7 2.6 1.7-7.2 1.7 2.2 1.7-1.2 1.7 4.2 1.7-0.4 1.7-7.7 1.7 3.6 1.7 4.2 1.7-2.8 1.7 0.8" stroke="#00bfff"/>
<path d="M578.1 535.2l1.7-3.1 1.7 3.6 1.7-3.5 1.7 2.1 1.7 1 1.7-0.7 1.7-1.4 1.7 0.4 1.7-1.6 1.7 2.7 1.7-3.3 1.7 5.3 1.7-7.7 1.7 3.1 1.7 6.4 1.7-6.3 1.7 3.6 1.7-1.6 1.7-3.2 1.7 1.9 1.7-1.1 1.7-0.1 1.7 0 1.7-0.7 1.7 6.3 1.7-8.6 1.7 4.4 1.7 1.3 1.7-2.5 1.7 0.7 1.7 1.5 1.7 4.9" stroke="#00ffff"/>
<path d="M1223.5 530.8l1.7 7.2 1.7-8.8 1.7 2.6 1.7 2 1.7-4.2 1.7 3.1 1.7-2 1.7 2 1.7 1 1.7 0.3 1.7 0 1.7-4 1.7 3.8 1.7-1.8 1.7 5.2 1.7-1.2 1.7-5 1.7 0.5 1.7 1.7 1.7 1.4 1.7-2.6 1.7 0.3 1.7 0.4 1.7-4.2 1.7 2.5 1.7 3.8 1.7 2.9 1.7-3.1 1.7-1.2 1.7-2.1 1.7 1.6 1.7 1.6 1.7 1.7 1.7-1.9 1.7 0 1.7-6.5 1.7 9.5 1.7-6.2 1.7-1.8 1.7-2.1 1.7 4.9 1.7 0.9 1.7-3.6 1.7 6.1 1.7-3.8 1.7 3.1 1.7 1.9 1.7-3.1 1.7 1.7 1.7 2.5 1.7 0 1.7-10 1.7 1.8 1.7 4.2 1.7 2.8 1.7-6.3 1.7 2.3 1.7 3.5 1.7-2.3 1.7-1 1.7-0.8 1.7-2.1 1.7 4.9 1.7 4.2 1.7-6.8 1.7 1.8 1.7 1.1 1.7-0.6 1.7-2.2 1.7 3.5 1.7-6.9 1.7 0.4 1.7 2 1.7-0.4 1.7 3.3 1.7-2.4 1.7-3.4 1.7 3.9 1.7 0.8 1.7-1.6 1.7 0.8 1.7 4.4 1.7-8.3 1.7 3.7 1.7-1.7 1.7 4.3 1.7-2.3 1.7 6.5 1.7-3.8 1.7-3.2 1.7 3.2 1.7-4.5 1.7 8.6 1.7-3.3 1.7-1.8 1.7-1.4 1.7 3 1.7-3.9 1.7 2.2 1.7-0.5 1.7 1.8 1.7-3.7 1.7 0.9 1.7 6.5 1.7-3.4 1.7 0.7 1.7-3.9 1.7 3.7 1.7-3 1.7-0.4 1.7 4.3 1.7-5.3 1.7 1.7 1.7 3.3 1.7-2.5 1.7-5.1 1.7 9.1 1.7-3.1 1.7-6 1.7 4.1 1.7 1.8 1.7 1.1 1.7-1.5 1.7 1.8 1.7-3.3 1.7 0.4 1.7 1.5 1.7-1.5 1.7 4.4 1.7-5.5 1.7 3.4 1.7 0.8 1.7-1.6 1.7-1.7 1.7-2.4 1.7 1.2 1.7 0.7 1.7-2.2 1.7 4.9 1.7-3.9 1.7 2.5 1.7-1.9 1.7-2.7 1.7 5.1 1.7-1.9 1.7 1.7 1.7-2.7 1.7 1.1 1.7 0.5 1.7 4 1.7-4.4 1.7 0.1 1.7-1 1.7 1 1.7 1.5 1.7-3.8 1.7 3.6 1.7 3.2 1.7-3.3" stroke="#00ffff"/>
<path d="M923.3 537.3l1.7-7.3 1.7 6.5 1.7-4.5 1.7-0.1 1.7 6 1.7-8 1.7 7 1.7-6.1 1.7-3.5 1.7 1.9 1.7 8.5 1.7-4.1 1.7-1.2 1.7-2.5 1.7 3.8 1.7-7.6 1.7 6.3 1.7 0.1 1.7-1 1.7 5.8 1.7-1.6 1.7-8.8 1.7 10.3 1.7 2.8 1.7-6.9 1.7-3.2 1.7 0.7 1.7 4.4 1.7-1.8 1.7-2.4 1.7 2.9 1.7-4.3 1.7 5.1 1.7 0.3 1.7-8.1 1.7 5.9 1.7-0.7 1.7 2.7 1.7 0.5 1.7 1.1 1.7-6.5 1.7 10.5 1.7-7.6 1.7-0.4 1.7-3.4 1.7-0.4 1.7 6.8 1.7-3.6 1.7 2.9 1.7-6.2 1.7 7.7 1.7-0.5 1.7-1.5 1.7-4.3 1.7 6.6 1.7-0.5 1.7-1.6 1.7-2.1 1.7-2.3 1.7-1.2 1.7 3.1 1.7 2.8 1.7-0.5 1.7-4.4 1.7 0.2 1.7 2.4 1.7 3 1.7 0.8 1.7-2.4 1.7-1.3 1.7-1.4 1.7 1.8 1.7 5.6 1.7-2.3 1.7-1.2 1.7-5 1.7 0.7 1.7 0 1.7 3.1 1.7-0.8 1.7-2.6 1.7-0.9 1.7 2.5 1.7 2.5 1.7-1.1 1.7-2 1.7 3 1.7-6.5 1.7 4 1.7 4.6 1.7-4.7 1.7-2 1.7 1.1 1.7 0.5 1.7-3.8 1.7 1.5 1.7-0.8 1.7-1 1.7 5.2 1.7 2.4 1.7-3.4 1.7-0.8 1.7 2.7 1.7 1.1 1.7-3.1 1.7 1 1.7-0.3 1.7 0.8 1.7 1.1 1.7-5.3 1.7 1.9 1.7 5.3 1.7-3.3 1.7-4.6 1.7 3 1.7 4.9 1.7-3.3 1.7-0.5 1.7 1.2 1.7-2 1.7 4.5 1.7 1.8 1.7-5.2 1.7-2.6 1.7 1.8 1.7 1.6 1.7-1.4 1.7-2.2 1.7 4.2 1.7 0.8 1.7 0.5 1.7-3.5 1.7 0.9 1.7 3.2 1.7-3.1 1.7 2.5 1.7-3.9 1.7 3.1 1.7 3.4 1.7-11.2 1.7 5.8 1.7-0.7 1.7 4.3 1.7-3.2 1.7-0.5 1.7 2.6 1.7-1.7 1.7-0.7 1.7 2.6 1.7-4.7 1.7 2.8 1.7 4.3 1.7-4.2 1.7-2.2 1.7 4.8 1.7-2.3" stroke="#20ffdf"/>
<path d="M267 526.9l1.7 6.7 1.7 0.1 1.7-3.7 1.7 4.8 1.7-1.5 1.7 0.3 1.7 2.2 1.7-1.9 1.7-3.7 1.7 2.8 1.7-1.4 1.7 1.8 1.7-1.3 1.7-2.7 1.7 4.9 1.7-2.5 1.7 5 1.7-8.7 1.7 7.2 1.7 0.7" stroke="#40ffbf"/>
<path d="M349 530.5l1.7 3.4 1.7-4.1 1.7-0.7 1.7 5.3 1.7 4 1.7-2.9 1.7-3.6 1.7 1.2 1.7 1.1 1.7 0.2 1.7 0.1 1.7 2 1.7-3 1.7-2 1.7 4.4 1.7-1.4 1.7-5.4 1.7 8.2 1.7-2.6 1.7-1 1.7-2 1.7-0.7 1.7 3.5 1.7-2.6 1.7-2 1.7 8.6 1.7-4.5 1.7-5 1.7 6.1 1.7-3.3 1.7 2.8 1.7-3.1 1.7 2.3 1.7 1.1 1.7 2.2 1.7-3.6 1.7-2.9 1.7 3.7 1.7 0.1 1.7-1.6 1.7-1 1.7-1 1.7-1.1 1.7 0.1 1.7 8.3 1.7-4.3 1.7 0.7 1.7-6.5 1.7 5.4 1.7-2.9 1.7 2.4 1.7 3.2 1.7-5.7 1.7 6 1.7-5.7 1.7-0.6" stroke="#40ffbf"/>
<path d="M985.5 529.9l1.7 5.1 1.7-3 1.7-1.4 1.7 2.3 1.7 0.6 1.7-3.7 1.7 4.1 1.7-6.1 1.7 6.2 1.7 4.1 1.7-7.2 1.7 6.5 1.7-1.9 1.7-6.4 1.7 5.2 1.7 1.4 1.7-4.4 1.7-2.4 1.7 7.6 1.7-7 1.7 7.2 1.7-6.7 1.7 4.2 1.7 0.8 1.7-3.8 1.7 0.5 1.7-1.2 1.7 3.2 1.7-1.9 1.7 1.5 1.7 3.3 1.7-8.2 1.7 6.2 1.7-1.5 1.7-5.7 1.7 8.6 1.7 0.3 1.7-3.6 1.7 2.9 1.7-1.6 1.7 0.2 1.7 0.1 1.7 2.9 1.7-2.1 1.7-5.8 1.7 8.6 1.7-3.9 1.7-7.7 1.7 2.8 1.7 3.3 1.7 1.2 1.7 0.8 1.7-1.8 1.7-2.1 1.7-2.7 1.7-0.4 1.7 8.3 1.7-2.4 1.7 2.4 1.7-3.8 1.7 3.6 1.7 1.7 1.7-3.3 1.7-0.3 1.7-1.3 1.7-3.2 1.7 3.7 1.7-1 1.7 4.4 1.7-3.4 1.7 2.3 1.7-1.9 1.7 0.8 1.7-5.6 1.7 3.4 1.7-3.2 1.7 7.5 1.7 3.8 1.7-6.6 1.7-0.6 1.7-0.8 1.7-4.2 1.7 2.3 1.7 0.1 1.7-3.6 1.7 6.1 1.7 6.7" stroke="#40ffbf"/>
<path d="M1168.7 539.4l1.7-6.5 1.7-0.9 1.7-0.1 1.7 0.4 1.7 1.2 1.7-4.6 1.7 6.9 1.7-4.5 1.7 0.5 1.7 3.9 1.7-1.7 1.7 1.8 1.7-7 1.7-1.7 1.7 3.6 1.7 7 1.7-8.2 1.7 1.4 1.7 1 1.7 0.7 1.7 1 1.7 4.8 1.7-4.7 1.7-3.2 1.7 3.8 1.7-5.3 1.7 2.1 1.7 5 1.7 0.9 1.7 2.8 1.7-5.8 1.7 0.2 1.7-2.2 1.7 3 1.7-5.5 1.7 3.3 1.7 2 1.7-4.9" stroke="#40ffbf"/>
<path d="M212.3 529.8l1.7-0.3 1.7 2.7 1.7 4.5 1.7-2.4 1.7-0.2 1.7-2.3 1.7-1 1.7-3.1 1.7 6 1.7 1.9 1.7-0.7 1.7 2.3 1.7-1.2 1.7 1.5 1.7-3.8 1.7-0.6 1.7-0.7 1.7 3.3 1.7-2.3 1.7 1.8 1.7 0.3 1.7-4.3 1.7 3.7 1.7-2.9 1.7 1.3 1.7-5.3 1.7 5.1 1.7 0.4 1.7 0.8 1.7-1.7 1.7 4.2 1.7-4.8 1.7-4.5 1.7 1.3 1.7 8 1.7-10.4 1.7 5 1.7-3.9 1.7 1.6 1.7 7.2 1.7-6.6 1.7 2 1.7-1.2 1.7-3.2 1.7 12.6 1.7-2.9 1.7 0.5 1.7-5.2 1.7-4.7 1.7 11.3 1.7 1.5 1.7-10.1 1.7 1.4 1.7 4.7 1.7-3.1 1.7-1.6 1.7 4.7 1.7-1.8 1.7 4.4 1.7-3.7 1.7 2.1 1.7-4.8 1.7-2.1 1.7 4.3 1.7 1.6 1.7 2.5 1.7-7.9 1.7 0.6 1.7 0.6 1.7 1.7 1.7-0.5 1.7-1 1.7-5.7" stroke="#60ff9f"/>
<path d="M982.8 530.3l1.7 0.3 1.7 2.1 1.7 1.2 1.7-3.3 1.7 0.3 1.7 4.4 1.7 1.2 1.7-4.4 1.7 1.7 1.7 0.1 1.7-3.3 1.7 2.6 1.7 0.8 1.7-4.3 1.7 4.6 1.7-1.4 1.7 0.2 1.7-1.9 1.7 4.8 1.7-5.1 1.7 0.6 1.7 0.7 1.7 0.1 1.7 0.2 1.7 0.4 1.7-1.4 1.7 0 1.7 2.1 1.7 3.9 1.7 1 1.7-5.2 1.7 1 1.7 3 1.7-2.9 1.7-1.4 1.7-5.9 1.7 4.4 1.7 3.1 1.7-1.3 1.7-6.7 1.7 3.4 1.7 2.6 1.7-0.3 1.7-2 1.7 5.5 1.7-3.3 1.7 0.2 1.7 3.6 1.7-6.4 1.7 1.8 1.7 0.7 1.7 0 1.7-0.3 1.7 2.7 1.7-5.3 1.7-2.6 1.7 5.2 1.7 1 1.7-0.3 1.7 2.8 1.7-3.5 1.7-2.8 1.7-0.9 1.7 1.6 1.7 7.4 1.7-3.9 1.7-1 1.7 4.6 1.7-2.9 1.7-0.9 1.7-0.3 1.7-3 1.7 3.7 1.7 2.2 1.7-4.8 1.7 2.5 1.7 2.7 1.7 2.6 1.7-6.4 1.7-0.1 1.7 0.2 1.7 3.3 1.7-2.9 1.7 1.6 1.7-2.3 1.7 2.6 1.7 1.7 1.7-7.4 1.7 0.6 1.7 2.8 1.7-0.8 1.7-1.1 1.7 0.7 1.7 1.3 1.7-1.8 1.7 4.5 1.7 1.1 1.7-3.9 1.7-3.2 1.7 6.5 1.7-1.3 1.7-4.2 1.7-0.1 1.7 1.2 1.7 3 1.7-6.5 1.7 3.3 1.7 2.3 1.7-4.9 1.7 3.3 1.7-1.4 1.7-0.9 1.7 2.2 1.7 3.8 1.7-0.4 1.7-3.7 1.7 4.7 1.7-0.9 1.7-4.6 1.7 1.7 1.7 1.6 1.7 1.1 1.7-2.1 1.7 1.8 1.7 1.1 1.7-1 1.7-1.1 1.7-3.1 1.7 1.4 1.7 0.8 1.7-3.1 1.7 4.7 1.7-0.2" stroke="#60ff9f"/>
<path d="M190.5 525.4l1.7 7.4 1.7 4.4 1.7-3.4 1.7-2.2 1.7-2.2 1.7 3.7 1.7-2.7 1.7 11.6 1.7-11.7 1.7 3.9 1.7-2 1.7-1.7 1.7 1.8 1.7-1.9 1.7 1.7 1.7-2.8 1.7 1.4 1.7-1.2 1.7 8.4 1.7-3.9 1.7-3.5 1.7 4.1 1.7-3.6 1.7-3.2 1.7 7.5 1.7 3.3 1.7-10 1.7 6.9 1.7 0.9 1.7-4.5 1.7 2.2 1.7-2.1 1.7 0.6 1.7-2.8 1.7 3.3 1.7-2.8 1.7 4.6 1.7-1.4 1.7 1.3 1.7-3.7 1.7 3.2 1.7-1.9 1.7 1.2 1.7-1 1.7-5.7 1.7 5.8 1.7 4.6 1.7-0.8 1.7-4.2 1.7-0.5 1.7-2.7 1.7 3.9 1.7 1.9 1.7 1.4 1.7-1.8 1.7-4.3 1.7-3.2" stroke="#80ff80"/>
<path d="M785.9 536.6l1.7 0.7 1.7 1.4 1.7-6.4 1.7 0 1.7 7.1 1.7-2.1 1.7-5.7 1.7 3.8 1.7-1 1.7 1.8 1.7-9.2 1.7 6.9 1.7-3.3 1.7 6.7 1.7-5.8 1.7 0.7 1.7 0.6 1.7 3.3 1.7-2.7 1.7-1.1 1.7-1 1.7 1.8 1.7-2.2 1.7 2.2 1.7-0.2 1.7-6 1.7 6.6 1.7-1.1 1.7-6.5 1.7 9.2 1.7-2.6 1.7 0.1 1.7-2.9 1.7 2.5 1.7 3.9 1.7-2.6 1.7 0.8 1.7-0.3 1.7-4.1 1.7-1.7 1.7 4.3 1.7-0.7 1.7 3.5 1.7-3.7 1.7 1.7 1.7-2.5 1.7-2.6 1.7 4.9 1.7 1.2 1.7-3 1.7-1.6 1.7 1.2 1.7-1.1 1.7 2.8 1.7 0.7 1.7 0.6 1.7-1 1.7-0.1 1.7 4.3 1.7-1.9 1.7-2.2 1.7-0.8 1.7 1.2 1.7 5.4 1.7-8.4 1.7 5.5 1.7-3.6 1.7 6 1.7-4 1.7-3.3 1.7-1.4 1.7 5.3 1.7-1.1 1.7-0.7 1.7-0.3 1.7 2.8 1.7-1.6 1.7 3.1 1.7-3 1.7-3 1.7-0.3 1.7 5.7 1.7-2 1.7-1 1.7-2.7 1.7-1.9 1.7 3.7 1.7-0.4 1.7-0.8 1.7 3.3" stroke="#80ff80"/>
<path d="M1120.2 529.2l1.7 2.6 1.7 2.5 1.7-0.5 1.7 1.7 1.7-0.6 1.7-3.3 1.7 2.1 1.7-1.6 1.7 5.7 1.7-5.1 1.7 0.2 1.7-0.7 1.7-3.6 1.7 4 1.7 2.1 1.7 3.5 1.7-7.3 1.7 1.3 1.7 3.2 1.7-0.9" stroke="#80ff80"/>
<path d="M445.5 533.3l1.7 1.7 1.7-5.2 1.7-2.2 1.7 1.5 1.7 3.6 1.7-4.1 1.7 3.8 1.7 1.2 1.7 1.8 1.7-0.7 1.7-0.7 1.7-1.1 1.7 4.9 1.7-5.5 1.7-0.8 1.7-0.6 1.7 2 1.7-2 1.7 3.1 1.7 2.3 1.7-6.1 1.7 7.2 1.7-1.5 1.7-2.6 1.7-8.4 1.7 8.3 1.7-3.6 1.7-0.1 1.7 1.1 1.7 5.1 1.7-3.7 1.7 3.5 1.7-3.7 1.7-0.7 1.7 2.8 1.7-0.5 1.7 2.3 1.7-4.5 1.7 5.5 1.7-3 1.7-1.3 1.7 4.7 1.7-1.7 1.7-2.4 1.7-5.7 1.7 4.7 1.7 0.2 1.7-3.8 1.7 0.5 1.7 7.4 1.7-4.1 1.7-1.2 1.7 8 1.7-6.2 1.7 1.2 1.7 3.1 1.7-2.6 1.7 1.7 1.7-6.6 1.7 5.3 1.7-2.7 1.7-1.6 1.7 1.5 1.7 1.6 1.7-1.4 1.7-1.4 1.7 2.7 1.7 0 1.7 0.8 1.7-1.9 1.7 1.1 1.7 1.2 1.7-5 1.7 4.8 1.7-1.5 1.7 3.6 1.7-6.9 1.7 0.6 1.7 2.6 1.7-3.5 1.7 2.5 1.7-2.3 1.7 6.4 1.7-0.4 1.7-1.4 1.7-0.9 1.7-1.6 1.7 1.3 1.7 3.3 1.7-11.3 1.7 9 1.7-1.3 1.7 5.2" stroke="#9fff60"/>
<path d="M1205 531.5l1.7-2 1.7 3.8 1.7-2 1.7 4.3 1.7-0.7 1.7-0.6 1.7 5.2 1.7-7.1 1.7 1 1.7-0.3 1.7-2.1 1.7 3.8 1.7 3.8 1.7-9.1 1.7 2.8 1.7 5.5 1.7-5.7 1.7 0 1.7 7.9 1.7-11.2 1.7 5.6 1.7 3 1.7-8.6 1.7 4.2 1.7 6.1 1.7-2.8 1.7-5.8 1.7 3.2 1.7 1.2 1.7-2 1.7-0.1 1.7 5 1.7-4.7 1.7 5.2 1.7-2.9 1.7-2.5 1.7-0.1 1.7 0.5 1.7 1.8 1.7-4.4 1.7 4.9 1.7-2.4 1.7-0.8 1.7-0.8 1.7-0.2 1.7 4.7 1.7-6.3 1.7 5.3 1.7-2.8 1.7 3.1 1.7-7.1 1.7 6.8 1.7-2.9 1.7 1.7 1.7-3.7 1.7 1.1 1.7 2.6 1.7-3.2 1.7 1.5 1.7 2.6 1.7-4.2 1.7 0.1 1.7 4.7 1.7-2.7 1.7-1 1.7-2.2 1.7 6.2 1.7-4.5 1.7 3.5 1.7-4.2 1.7-1.7 1.7 4.8 1.7 1.1 1.7-4.3 1.7 0.5 1.7-1.8" stroke="#9fff60"/>
<path d="M190.5 529.6l1.7 2.6 1.7 0.9 1.7 1.9 1.7-1.8 1.7-0.5 1.7-0.7 1.7-4.4 1.7 4.5 1.7-2.6 1.7 6.3 1.7 0.3 1.7-0.6 1.7-2.2 1.7 5.3 1.7-4.1 1.7-4.2 1.7-0.8 1.7-1.7 1.7 5.5 1.7-4.1 1.7 3.5 1.7-4.4 1.7 2.7 1.7-3.8 1.7 3.8 1.7-1.9 1.7 2.9 1.7-5 1.7 7.4 1.7-2 1.7 5.7 1.7 0.4 1.7-8.7 1.7 5.2 1.7-5.2 1.7 3.2 1.7 0.3 1.7-5.4 1.7 9.2 1.7 0.4 1.7-4.6 1.7-1.8 1.7-1.4 1.7 0.6 1.7 0.7 1.7-0.7 1.7 0.3 1.7-3.4 1.7 3.9 1.7-0.8 1.7 2 1.7 1.4 1.7-2 1.7 0.6 1.7 1.2 1.7 0.3 1.7-8.1 1.7 5.6 1.7-4.4 1.7 5.4 1.7 1.8 1.7 1.7 1.7-9 1.7 8.8 1.7-4.3 1.7 5.5 1.7-2.2 1.7-3.7" stroke="#bfff40"/>
<path d="M926 533.6l1.7 0.9 1.7-1.5 1.7 7.8 1.7-5.5 1.7 1.4 1.7-0.3 1.7-0.6 1.7-5.4 1.7 6.3 1.7 0.2 1.7-4 1.7-2.5 1.7 8 1.7-3.5 1.7-3.2 1.7 1.2 1.7-2 1.7-1.5 1.7 1.7 1.7 6.9 1.7-4.9 1.7-1.1 1.7 1.5 1.7 1.7 1.7-4.2 1.7-4.3 1.7 4.9 1.7 2.1 1.7-0.5 1.7-2.4 1.7 3.6 1.7-3.6 1.7 1.3 1.7-0.2 1.7 0.4 1.7-0.4 1.7 1.8 1.7-3.7 1.7 5.1 1.7 2.1 1.7-1.1 1.7-3.5 1.7-0.2 1.7 0 1.7-2.6 1.7 1.4 1.7 3.7 1.7-3.1 1.7-0.6 1.7-3.4 1.7 6.9 1.7-4.9 1.7 6 1.7 3.4 1.7-10.9 1.7 4.3 1.7-2.9 1.7 7.8 1.7-2.7" stroke="#bfff40"/>
<path d="M504.3 537l1.7-10.8 1.7 6.1 1.7-4.6 1.7 5.6 1.7-4.8 1.7 3.1 1.7 3.7 1.7-5 1.7-1.7 1.7 6.3 1.7-2.2 1.7 1.9 1.7-4.7 1.7 2.4 1.7 4.6 1.7-9.9 1.7 6.8 1.7-0.1 1.7-0.5 1.7 2.4 1.7-2.7 1.7-3.8 1.7 6.5 1.7 0.8 1.7-1.9 1.7 1.1 1.7-0.5 1.7-1.3 1.7 2 1.7-3.6 1.7 1.8 1.7-0.7 1.7 1.1 1.7-3.8 1.7 0.3 1.7 2.1 1.7 2.4 1.7-4 1.7 6.4 1.7-5.8 1.7 2.3 1.7-4.2 1.7-2.7 1.7 3.8 1.7 3.5 1.7-5.6 1.7 9.2 1.7-4.7 1.7-3.8 1.7 4 1.7-1.6 1.7 3.5 1.7-4.3 1.7 3.1 1.7-3.4 1.7-2.2 1.7 7.3 1.7-3.4 1.7-2.9 1.7 2.6 1.7 2.6 1.7 0.4 1.7-1.3 1.7-1 1.7-0.8 1.7 0 1.7 0.8 1.7 1.8 1.7-1.5 1.7-1.6 1.7 1 1.7 0.9 1.7-2.1 1.7-0.2 1.7 8.2 1.7-12.2 1.7 5.6 1.7 2.3 1.7-0.9 1.7-2.4 1.7 4.1 1.7-0.9 1.7-0.2 1.7-3.5 1.7 1.1 1.7 4.1 1.7-0.9 1.7-6.2 1.7 4.2 1.7-5 1.7 6.7 1.7-10 1.7 0.6 1.7 5.8 1.7-1 1.7 1.2 1.7 2 1.7 1 1.7-4.7 1.7 0 1.7 0.4 1.7 0.6" stroke="#dfff20"/>
<path d="M1167.4 531l1.7 10.1 1.7-2.7 1.7-4.3 1.7 2.5 1.7-3.9 1.7 0.1 1.7-4.5 1.7 2.5 1.7 5.2 1.7-2.1 1.7-0.7 1.7-2.7 1.7 0.9 1.7-1.7 1.7 4.9 1.7-3 1.7 2.3 1.7-5.9 1.7 4.2 1.7-2.9 1.7 7 1.7-2 1.7-3.9 1.7 2.9 1.7-2 1.7 4.1 1.7-2.6 1.7-2.3 1.7 1.9 1.7 1.9 1.7 0.8 1.7-1.6 1.7 0.3 1.7 2.5 1.7-3.7 1.7-1.8 1.7 2.5 1.7 0 1.7-2.3 1.7 3 1.7-3.7 1.7-0.8 1.7 3.4 1.7 0.7 1.7 3.5 1.7-8.9 1.7 4.7 1.7 0.7 1.7 0.2 1.7-1 1.7 0.8 1.7-3.5 1.7 3.8 1.7-0.2 1.7-0.6 1.7-3.8 1.7 2.2 1.7 2.6 1.7-1.9 1.7 0.6 1.7 2.3 1.7 3.4 1.7-7.7 1.7-1.9 1.7 1 1.7 6.2 1.7-2.5 1.7 0.9 1.7-5 1.7 7.1 1.7-2.3 1.7-4.6 1.7 3.3 1.7-3.9 1.7 3.2 1.7 6.1 1.7 1.2 1.7-5.5 1.7-6.4 1.7 5.1 1.7-2.2 1.7 6.4 1.7-4.5 1.7 2.2 1.7-3.8 1.7 3.3 1.7-0.3 1.7-1.1 1.7-0.9 1.7-0.9 1.7 3.5 1.7-0.4 1.7-2.7 1.7 0.7 1.7-3.6 1.7 5.6 1.7-2.1 1.7 2.1 1.7-2.7 1.7 1.1 1.7-1.3 1.7 0.7 1.7 1.1 1.7-3.6 1.7-0.5 1.7 0.5 1.7 10.8 1.7-4.6 1.7 0.5 1.7-6.3 1.7 6.1 1.7-4 1.7-3.5 1.7 4.7 1.7 1 1.7-1.3 1.7 1.4 1.7-4.5 1.7-0.7 1.7 4 1.7 2.6 1.7-0.1 1.7-5 1.7-2.2 1.7 5.9 1.7-2 1.7-2.8 1.7-1" stroke="#dfff20"/>
<path d="M772.2 532.5l1.7 1.4 1.7-4.2 1.7 1.6 1.7-0.8 1.7 1.5 1.7 4.3 1.7-0.8 1.7-6.1 1.7 0.5 1.7 0.9 1.7 1.5 1.7-0.5 1.7-5.1 1.7 6.7 1.7-1.5 1.7-1.6 1.7 0.7 1.7 4.5 1.7-3 1.7-1.9 1.7 0.6 1.7 4.7 1.7-2.5 1.7-5.2 1.7 2.8 1.7 2.1 1.7-2.6 1.7 0.6 1.7 2.7 1.7 3 1.7-2.5 1.7 0.1 1.7-3.9 1.7 5.8 1.7-2.8 1.7 2.4 1.7-2.5 1.7-1.5 1.7-0.1 1.7 0.9 1.7 1.5 1.7-5.8 1.7 6.9 1.7-1.7 1.7 4.3 1.7-4.4 1.7 0.8 1.7-3.6 1.7 7.8 1.7-5.7 1.7 3.6 1.7-3.7 1.7-0.5 1.7 6.4 1.7-5.2 1.7 2.1 1.7 0.4 1.7-6.3 1.7 2.9 1.7-0.1 1.7-3.1 1.7 1.5 1.7 0.3 1.7 4.7 1.7-5.6 1.7 3.2 1.7-2.2 1.7 1.2 1.7-4.5 1.7 5.3 1.7 0.5 1.7-1.5 1.7-2 1.7 1.5 1.7 3.1 1.7 2.8 1.7-3.2 1.7-0.3 1.7-0.9 1.7-0.2 1.7 1.9 1.7-0.8 1.7-1.2 1.7 0.1 1.7-0.7 1.7 3.7 1.7-2.3 1.7-2.7 1.7-1.6 1.7 8.1 1.7-0.5 1.7-3.9 1.7-1.5 1.7 2.3 1.7 0.5 1.7-6.8 1.7 3.2 1.7-2.2 1.7 0.5 1.7 4.4 1.7 0.5 1.7 1.8 1.7-1.6 1.7-0.3 1.7-4.2 1.7 4.5 1.7-3.3 1.7 2.3 1.7-1.6 1.7-0.8 1.7 2 1.7 2.9 1.7 0.1 1.7-5.9 1.7 3 1.7-1.4 1.7-0.4 1.7 1.6 1.7-0.1 1.7 2.5 1.7-0.4 1.7-1.5 1.7-1.4 1.7-3.6 1.7 5.9 1.7-3 1.7 3 1.7-0.3 1.7 4.5 1.7-5.7 1.7 2.6 1.7-4.5 1.7 0" stroke="#ffff00"/>
<path d="M1494.8 536.1l1.7-8.4" stroke="#ffff00"/>
<path d="M310.8 531.7l1.7-2.3 1.7 6.6 1.7-8.4 1.7 6.6 1.7 0 1.7-3 1.7-3.8 1.7 5.2 1.7 0.7 1.7-0.8 1.7 1.6 1.7 0.3 1.7-2.1 1.7-3 1.7-5.6 1.7 10.4 1.7 2.3 1.7-4.8 1.7 0.8 1.7-0.2 1.7-0.3 1.7-8.1 1.7 7.5 1.7 1.7 1.7 5.2 1.7-6 1.7 6.5 1.7 2 1.7-10 1.7 5.8 1.7-4.1 1.7-4.8 1.7 4.3 1.7 3.7 1.7-5.3 1.7-2.8 1.7 9 1.7-4.4 1.7-0.6 1.7 0.7 1.7 0.7 1.7-1.9 1.7-3.2 1.7 3.3 1.7 2 1.7 2.8 1.7-6.1 1.7 0.1 1.7 4 1.7-3 1.7 1.9 1.7 0 1.7 0.5 1.7 1 1.7-1.8 1.7-3.7 1.7 3.2 1.7 1.5 1.7 1.9 1.7-0.4 1.7 2.9 1.7-3.8 1.7-1.3 1.7 0.9 1.7 0.9 1.7-1 1.7-5.1 1.7 2.2 1.7 3.7 1.7 0.1 1.7-3.7 1.7 6.5 1.7 1.7 1.7-7.2 1.7-0.7 1.7 1.7 1.7 1 1.7 2.3 1.7-6.3 1.7 5.7 1.7-3.3 1.7-0.9 1.7 5.6 1.7-1 1.7-2.6 1.7 0.8 1.7 0 1.7 0 1.7-3.8 1.7 6.6 1.7-6 1.7 1.7 1.7-4.7 1.7 6.4 1.7-1.1 1.7-2.4 1.7 7.1 1.7-12.1 1.7 5.8 1.7 4.3 1.7-8.4 1.7 6.2 1.7 7.2 1.7-6.7 1.7-3.6 1.7 4.7 1.7-5.6 1.7 8.8 1.7-0.8 1.7-4.7 1.7-5.3 1.7 8.7 1.7-6.5 1.7 3.4 1.7-1.7 1.7-2.4 1.7 0.6 1.7 2.9 1.7-1.9 1.7 4.9 1.7 1.7 1.7-4 1.7-1.6 1.7 1.5 1.7 1.9 1.7-2.4 1.7 1.9 1.7-3.1 1.7-1.1 1.7 5 1.7-1.4 1.7-1.7 1.7 1.2 1.7-2.1 1.7-3.2 1.7 6 1.7 1.1 1.7-2.4 1.7-1.1 1.7-2" stroke="#ffdf00"/>
<path d="M1205 532.6l1.7 1.1 1.7-1 1.7 3.1 1.7-0.2 1.7-2.2 1.7-4.2" stroke="#ffdf00"/>
<path d="M422.9 531.8l1.7 1 1.7 2.8 1.7 1.1 1.7-5.5 1.7 0.8 1.7-2.2 1.7 2.8 1.7-0.4 1.7 3.8 1.7-4.3 1.7 1.2 1.7-1.9 1.7-0.1 1.7 5.9 1.7-5.3 1.7 4.3 1.7-2.5 1.7-2.3 1.7 0.1 1.7 4.6 1.7-4.4 1.7 4.9 1.7-9.1 1.7 6 1.7-1.4 1.7 3 1.7 2.6 1.7-4.3 1.7-1.7 1.7 1 1.7 5.8 1.7-4.2 1.7-3.6 1.7 2 1.7 1 1.7 2 1.7-2.2 1.7-3.6 1.7 1.8 1.7 4.4 1.7-3.3 1.7-1.4 1.7 0.7 1.7 4.6 1.7-5.1 1.7 0.4 1.7 0.5 1.7 1.2 1.7-0.4 1.7-1 1.7 1.9 1.7-1.4 1.7-1.5 1.7-3.2 1.7 4.8 1.7-0.2 1.7-4.4 1.7 3.1 1.7 4.1 1.7-5.6 1.7 6.5 1.7-2 1.7-1.7 1.7 3.2 1.7 2.7 1.7-4.8 1.7-0.2 1.7-0.2 1.7-1.6 1.7 5.4 1.7-5.7 1.7 7.2 1.7-1.6 1.7-7.3 1.7 5.4 1.7-1.4 1.7-0.2 1.7-0.4 1.7-3.7 1.7 0.2 1.7 3.7 1.7 2.7 1.7-0.7 1.7-6.5 1.7 1.8 1.7-0.1 1.7 1.5 1.7 0.5 1.7-2.2 1.7 0.2 1.7-0.3 1.7 0.3 1.7 4.3 1.7-5 1.7 1.8 1.7 1.1 1.7-3.8 1.7 6 1.7-2.9 1.7 0.4 1.7-5.6 1.7 8.3 1.7-4.6 1.7-1.5 1.7 9.7 1.7-9.7 1.7 7.7 1.7-6.7 1.7 3 1.7 2.7 1.7-6.3 1.7 1.2 1.7 5.6 1.7-3.4 1.7 0.4 1.7 1.7 1.7-2.7 1.7 0.7 1.7 2.7 1.7-4.7 1.7 4 1.7-0.2 1.7 0.3 1.7-5.5 1.7 1.1 1.7-0.6 1.7 3 1.7 5.1 1.7-5.4 1.7 0.7 1.7 1.3 1.7-3.3 1.7-1.1 1.7 1.6 1.7 0.3 1.7 2.7 1.7 1.7 1.7-2.3 1.7 0.9 1.7 0.3 1.7-2.8 1.7 3.3 1.7-6.6 1.7 8.1 1.7-6.5 1.7-1.9 1.7 5.6 1.7 1.2 1.7-3.2 1.7 2.2 1.7-4 1.7 5.2 1.7-3 1.7 1.4 1.7-0.6 1.7 6.9 1.7-5.8 1.7-3.7 1.7-0.6 1.7 8.5 1.7-6.9 1.7 5.2 1.7-0.8 1.7-2.9 1.7-2.4 1.7 0.9" stroke="#ffbf00"/>
<path d="M1135.9 531.7l1.7-0.1 1.7 3.8 1.7-1 1.7 2 1.7-7 1.7 6.4 1.7-1.1 1.7 1 1.7-1.5 1.7-3.8 1.7 2.9 1.7 1.6 1.7-2.1 1.7 3.2 1.7-7.7 1.7 3.8 1.7-3.5 1.7-0.2 1.7 4.8 1.7 0.9 1.7-1.1 1.7 2.3 1.7 0.7 1.7-2.8 1.7-0.1 1.7-5.2 1.7 4.3 1.7-0.1 1.7 0.5 1.7 3 1.7-1.4 1.7-5.9 1.7 5.1 1.7-3.7 1.7 8.7 1.7-4.4 1.7-1.9 1.7-1.7 1.7 6.8 1.7-6.3 1.7 3.1 1.7 1.6 1.7-1.9" stroke="#ffbf00"/>
<path d="M1318.5 534.7l1.7 2.2 1.7-3.4 1.7 0.7 1.7 2.7 1.7-7 1.7 4.1" stroke="#ffbf00"/>
<path d="M190.5 530.4l1.7 1.8 1.7 7.3 1.7-2.7 1.7-3.7 1.7 4.2 1.7-0.7 1.7-6.2 1.7 9.1 1.7-10 1.7 7.2 1.7-4.7 1.7-1.4 1.7 3.8 1.7 2.9 1.7-7.9 1.7-5.2 1.7 3.8 1.7 2.4 1.7 2.5 1.7-4.1 1.7 0.6 1.7 1.3 1.7-3.4 1.7 7.4 1.7-6.8 1.7 4.4 1.7 1.8 1.7-5.7 1.7 7.6 1.7-8 1.7 5.9 1.7-6.3 1.7 7.4 1.7-2 1.7-2.8 1.7 7.4 1.7-6 1.7 1.7 1.7 3.1 1.7-5.5 1.7 0.4 1.7 3.9 1.7-3.5 1.7 2.9 1.7 1.5 1.7-2.4 1.7 0.8 1.7-1 1.7-4 1.7 1.1 1.7-0.4 1.7-1.7 1.7 7.3 1.7-6.2 1.7 1.4 1.7 1.7 1.7-3.9 1.7 0.3 1.7 8.1 1.7-0.5 1.7 3 1.7-4.3 1.7 1.6 1.7-2.8 1.7-6.9 1.7 9.2 1.7-2.9 1.7 1 1.7-3.5 1.7 4.1 1.7-5.4 1.7 4.7 1.7 1 1.7-6.9 1.7 6.1 1.7 0.4 1.7-3.7 1.7 2.2 1.7-0.9 1.7 2.7 1.7-1.1 1.7 2 1.7-3.1 1.7 8.1 1.7-6.5 1.7 6.3 1.7-3.4 1.7-0.4 1.7-4 1.7-1.7 1.7-1.3 1.7 1.9 1.7 0.2 1.7 2.1 1.7-1.4 1.7 3.8 1.7-7.1 1.7 3.3 1.7 5.6 1.7-1.9 1.7-5.6 1.7 1.3 1.7 5.2 1.7-0.5 1.7-8.7 1.7 4 1.7-0.9 1.7-1.6 1.7 5.6 1.7-2.6 1.7-1.4 1.7 2.1 1.7-5.4 1.7 1.6 1.7 8.2 1.7-7 1.7 2.1 1.7-2.3 1.7 8.8 1.7-6.7 1.7 1.2 1.7-2.9 1.7 3.4 1.7-3.2 1.7-3" stroke="#ff9f00"/>
<path d="M1036.1 533.4l1.7-1.1 1.7-3.3 1.7 4.6 1.7-1.9 1.7 4.8 1.7-2.8 1.7-3.8 1.7 4.4 1.7-0.6 1.7 1.7 1.7-0.5 1.7-4.8 1.7 4.8 1.7-2.3 1.7 1.8 1.7 0.4 1.7 2 1.7-4.1 1.7-1.5 1.7-0.2 1.7 0.5 1.7-1 1.7-1.7 1.7 3.5 1.7-2 1.7 0.5 1.7 3.2 1.7-3 1.7 2 1.7-0.8 1.7-1.8 1.7 3.9 1.7 1 1.7 1.5 1.7 1.4 1.7-5.6 1.7-2.9 1.7 0.6 1.7-0.1 1.7 3.6 1.7 3.4 1.7-7 1.7-0.9 1.7 1.2 1.7 0.1 1.7 8.8 1.7-4.3 1.7-3.8 1.7 4.9 1.7-4.5 1.7 2.4 1.7-0.1 1.7 1.7 1.7-1.1 1.7 3.1 1.7 1.1 1.7-1.7 1.7-0.1 1.7-4.9 1.7 1 1.7 0.6 1.7-1.7 1.7 4.9 1.7-8.5 1.7 4.3 1.7 2.3 1.7 0.1 1.7-2.1 1.7 1.6 1.7-2.3 1.7-2.9 1.7 5.8 1.7-4.1 1.7 0.8 1.7 0.2 1.7-1 1.7 1.5 1.7-2.6 1.7 1.7 1.7-0.1 1.7 4 1.7-3.3 1.7 0.9 1.7-3.6 1.7 7.6 1.7-1.8 1.7-2.1 1.7-1.4 1.7 0.2 1.7 2.9 1.7-3.1 1.7-2.5 1.7 0.7 1.7 5.1 1.7-8.2 1.7 6 1.7 1.4 1.7-6.4 1.7-1.6 1.7 9.4 1.7-2.7 1.7 1.6" stroke="#ff9f00"/>
<path d="M405.1 532.3l1.7 4.6 1.7-3.3 1.7 4.9 1.7-7.7 1.7 1.8 1.7 0.1 1.7 4.3 1.7-6 1.7 1.9 1.7-0.8 1.7 2.5 1.7-0.6 1.7-0.8 1.7 1 1.7 3.3 1.7-2.8 1.7 0.3 1.7-2.6 1.7-0.7 1.7 1.9 1.7-2.5 1.7 2 1.7 1.6" stroke="#ff8000"/>
<path d="M1107.2 533.6l1.7-2.6 1.7 4.8 1.7-4.8 1.7 3.1 1.7-0.6 1.7-4.5 1.7 7.3 1.7-4.8 1.7 1.4 1.7-0.2 1.7-4.4 1.7 4.1 1.7 0.7 1.7-5.5 1.7 6.6 1.7-2.6 1.7-0.1 1.7-0.1 1.7 5.4 1.7-2.4 1.7-1.3 1.7 0.6 1.7 0.5 1.7-1 1.7 1.7 1.7 0 1.7-4.3 1.7 0.1 1.7 1.3 1.7 1.5 1.7 1.7 1.7-0.3 1.7-0.3 1.7-2.9 1.7 2.7 1.7-2.5 1.7-0.6 1.7 3.8 1.7 0.6 1.7-5 1.7 2 1.7-3.1 1.7 5.5 1.7-0.8 1.7 3.4 1.7-4 1.7 1.2 1.7 0.6" stroke="#ff8000"/>
<path d="M1205 534.7l1.7-1.1 1.7 0.2 1.7 2.1 1.7-1.9 1.7-2.5 1.7 1.6 1.7-1.3 1.7 4.1 1.7-4.9 1.7 2.5 1.7 1.8 1.7-3 1.7-2.5 1.7 5.3 1.7-4.6 1.7 4.4 1.7-3.5 1.7 2.5 1.7 0.9 1.7 1.5 1.7-6.8 1.7-0.8 1.7 1.8 1.7 2.3 1.7 3.4 1.7 0.7 1.7-0.2 1.7-5.7 1.7 1.6 1.7 1.1 1.7-2.3 1.7 4.1 1.7 4.1 1.7-4.2 1.7-0.2 1.7-2.1 1.7 1.9 1.7-1.7 1.7 1.6 1.7-1.8 1.7-1.2 1.7 6.1 1.7-2.9 1.7-6.2 1.7 7.7 1.7-6.3 1.7 1.9 1.7 3.6 1.7-1.6 1.7-5.6 1.7 3.7 1.7 0.3 1.7 2.6 1.7 4.6 1.7-6 1.7-0.7 1.7 0.3 1.7 2.3 1.7-3.1 1.7 2.3 1.7 2.8 1.7-3.2 1.7-0.3 1.7 0.5 1.7-1.7 1.7 0.3 1.7-1.5 1.7 6.2 1.7-4.5 1.7 1.3 1.7 0.1 1.7 2.6 1.7-8 1.7 7.9 1.7-6.5 1.7 1.4 1.7 0.6 1.7 2.1 1.7-1.1 1.7-3.4 1.7 3.6 1.7 1.3 1.7-3.7 1.7 5 1.7-1.8 1.7-1.7 1.7 0.5 1.7 2.9 1.7-4.3 1.7-4.8 1.7 5.2 1.7 1.7 1.7-3.9 1.7-1.2 1.7 1.5 1.7 2.3 1.7-2.1 1.7-3.2 1.7 7.1 1.7-2 1.7-1.4 1.7-3 1.7 2.3 1.7-0.9 1.7 3 1.7 1.1 1.7 0.5 1.7-0.5 1.7-2.3 1.7-0.9 1.7-3.9 1.7 10.3 1.7-1.4 1.7-4.9 1.7-1.6 1.7 5.9 1.7-2 1.7 1 1.7-3.9 1.7 2.3 1.7-2 1.7 8.7 1.7-4.6 1.7 0.9 1.7-3.8 1.7-0.3 1.7-1.3 1.7 2.8 1.7-3.5 1.7 1.5 1.7 3.2 1.7 0.2 1.7-1.7 1.7 2.9 1.7-4.5 1.7 7.1 1.7-3 1.7-8.7 1.7 5.1 1.7 2.3 1.7-2.7 1.7 7.8 1.7-8.7 1.7 3.9 1.7-0.7 1.7-5.2 1.7 7.2 1.7-0.7 1.7-2.5 1.7 1.3 1.7-5.3 1.7 1.5" stroke="#ff8000"/>
<path d="M440 531.7l1.7-0.3 1.7 5.7 1.7-2.9 1.7-3.3 1.7-1.8 1.7 3.9 1.7-3.3 1.7 8.2 1.7-2.7 1.7 1.1 1.7-6.7 1.7 5.9 1.7-5.4 1.7 2.7 1.7 1.8 1.7-1.6 1.7-1.2 1.7-2.9 1.7 7.1" stroke="#ff6000"/>
<path d="M621.8 533.9l1.7-5.6 1.7 6.9 1.7-2.1 1.7-3.7 1.7 4.7 1.7-4.4 1.7 2.6 1.7 5.5 1.7-6.8 1.7 1.8 1.7-3.4 1.7 3.9 1.7-2.6 1.7-0.8 1.7 2.6 1.7-3.5 1.7 2.9 1.7 5.4 1.7-4.9 1.7-1.4 1.7 0.2 1.7 0.1 1.7 0.7 1.7 1.4 1.7 0.7 1.7 0.2 1.7-1.5 1.7-0.1 1.7 2.5 1.7-2.1 1.7 2.7 1.7-2.9 1.7 7.1" stroke="#ff6000"/>
<path d="M1293.9 533.6l1.7 2.7 1.7-4.6 1.7 6.6 1.7-4.3 1.7-0.3 1.7 2.6 1.7-2.3 1.7-2.6 1.7 0.8 1.7 1 1.7-5.2 1.7-2.2 1.7 8.4 1.7 3.2 1.7-4.2 1.7 0.9 1.7-4.2 1.7 0.5 1.7 5.8 1.7 0.3 1.7-10.3 1.7 9.3 1.7 5 1.7-7.4 1.7-0.6 1.7-0.2 1.7 4.3 1.7-8.1 1.7 1.8 1.7 7.8 1.7-1.9 1.7-0.4 1.7-6.4 1.7 4.9 1.7-3.4 1.7 2.2 1.7-2.6 1.7 1.1 1.7 5.3 1.7-2.3 1.7-1.9 1.7 2.8 1.7-3.2 1.7-1.2 1.7-3.3" stroke="#ff6000"/>
<path d="M1455 530.1l1.7 6 1.7-3.5 1.7-2.4 1.7 2.9 1.7-3.9 1.7 8.8 1.7-5.2 1.7-3.7 1.7 5.5 1.7 0.3 1.7-4.3 1.7 2.9 1.7-0.9 1.7 2.2 1.7-2.2 1.7-6 1.7 6.4 1.7 5 1.7-3.8 1.7-1.5 1.7 4.7 1.7-6.1 1.7-3.8 1.7 5.9" stroke="#ff6000"/>
<path d="M190.5 529.6l1.7 6.9 1.7 5.6 1.7-14.6 1.7 6.7 1.7 1.1 1.7 1 1.7-0.5 1.7-1.4 1.7 1.5 1.7-3.7 1.7 1.4 1.7 1 1.7-4.5" stroke="#ff4000"/>
<path d="M723.7 531.8l1.7 3.3 1.7-2 1.7 1.3 1.7 0.6 1.7-1.1 1.7-0.4 1.7 1.8 1.7 0.6 1.7-1.7 1.7-1.3 1.7 3 1.7-2.5 1.7-3.3 1.7 1.7 1.7 5.9 1.7-6.2 1.7-1.1 1.7 6.9 1.7-8 1.7 5.7 1.7-3.2 1.7-2.7 1.7-1.8 1.7 6.6 1.7 4.1 1.7-7.2 1.7 0.8 1.7 1.1 1.7 3.6 1.7-1.6 1.7-0.6 1.7-4.9 1.7 1.9 1.7 2.4 1.7 0.3 1.7 0.4 1.7-3.6 1.7 4.7 1.7 0 1.7-4.8 1.7-0.2 1.7 4.4 1.7-2.7 1.7 1.8 1.7 0.5 1.7 2.1 1.7-4 1.7 1.8 1.7 2.2 1.7-1.7 1.7-3.5 1.7 2.1 1.7 1.4 1.7 0.4 1.7-2.1 1.7 0.2 1.7-3.2 1.7 1.4 1.7 4.2 1.7-3.2 1.7 2.4 1.7-2.7 1.7 1.7 1.7 0.8 1.7-1.5 1.7 2.9 1.7-3.1 1.7-0.3 1.7 0.8 1.7-1.8 1.7-1.1 1.7 0.3 1.7 4.5 1.7-1.2" stroke="#ff4000"/>
<path d="M1486.1 534.4l1.7-3.9 1.7 0.4 1.7 3.5 1.7 2.3 1.7-2.4 1.7 3.5" stroke="#ff4000"/>
<path d="M190.5 531.1l1.7 1.6 1.7-4.6 1.7 7 1.7 3.3 1.7-4 1.7-4.8 1.7 2.9 1.7 1.4 1.7-0.2 1.7-1.5 1.7 4.5 1.7-1 1.7-6.5 1.7 4.6 1.7-0.2 1.7 3.8 1.7-3.9 1.7 0.3 1.7-4.3 1.7 1.6 1.7 3.5 1.7-7.8 1.7 8 1.7-0.7 1.7-4.5 1.7 5.8 1.7-4.7 1.7-6.6 1.7 14.4 1.7-2 1.7-2.7 1.7 2.3 1.7-0.3 1.7 1.2 1.7-3.1 1.7-1.7 1.7 4.6 1.7-7.3 1.7-1.7 1.7 1.6 1.7-2.9 1.7 13.7 1.7-7.8 1.7-2.2 1.7 2.8 1.7-2.1 1.7 1.6 1.7 0.9 1.7-0.2 1.7 1.3 1.7 2.7 1.7-5.7 1.7 0.2 1.7 3.7 1.7 6.5 1.7-10 1.7 5.4 1.7-7.4 1.7 3.8 1.7 0.8 1.7 1.8 1.7-1.9 1.7 3.1 1.7-4.5 1.7-2 1.7-2.8 1.7 0.9 1.7 3.9 1.7-1.7 1.7 2.4 1.7 6 1.7-11.4 1.7 2.6 1.7 5.9 1.7-3.3 1.7 1.6 1.7-2.9 1.7 3 1.7 1.2 1.7-8 1.7 2.9 1.7-2.7 1.7 2.9 1.7-2.8 1.7 3.9 1.7 2.8 1.7-4.1 1.7 1.6 1.7-0.5 1.7-2.8 1.7-2.8 1.7 5.2 1.7 2.7 1.7 2.3 1.7-6.2 1.7 5.9 1.7 5.6 1.7-9.8 1.7-6.4 1.7 9 1.7-5.7 1.7 6.3 1.7-1.2 1.7-0.1 1.7 0.8 1.7-2 1.7-0.3 1.7-1.1 1.7 2.1 1.7-0.6 1.7-7.3 1.7 7.2 1.7 5.1 1.7-10 1.7 2.9 1.7-1.2 1.7 5.6 1.7-4.2 1.7 1.9 1.7-2 1.7 3.8 1.7 0.6 1.7-2.5 1.7 1 1.7 1 1.7 0.5" stroke="#ff2000"/>
<path d="M933.6 532.5l1.7-0.7 1.7-2.1 1.7 6.2 1.7-1.1 1.7-6.2 1.7 3.7 1.7 4.1 1.7-2.1 1.7-3.1 1.7 1.2 1.7 1.3 1.7-0.8 1.7 1.5 1.7-1.4 1.7 4 1.7-5.6 1.7 2.7 1.7-4.1 1.7 3.9 1.7 3.3 1.7-5.7 1.7-1.6 1.7 1.8 1.7-1 1.7-4.1 1.7 1.9 1.7 1.9 1.7 3 1.7-1.7 1.7 6.8 1.7-10.9 1.7 3.1 1.7 2.3 1.7 1 1.7-3.6 1.7-3.9 1.7 5.8 1.7-1 1.7 0.8 1.7-2.6 1.7 1.6 1.7 5.2 1.7-5.5 1.7 4.3 1.7-3.6 1.7-2.4 1.7 3.7 1.7 0.2 1.7-1.6 1.7 3 1.7-3.7 1.7-0.1 1.7 5.3 1.7 0.5 1.7-10.9 1.7 9.6 1.7-4.3 1.7 7.8 1.7-8.1 1.7-0.2 1.7 0.9" stroke="#ff2000"/>
<path d="M762 532.1l1.7 4.1 1.7-8.1 1.7 8.2 1.7-8 1.7 2.7 1.7 3.8 1.7-4.5 1.7 2.3 1.7-0.1 1.7 1.8 1.7 0.8 1.7-1.2 1.7 1.7 1.7 3.2 1.7-7 1.7 2 1.7-8 1.7 5 1.7 1.5 1.7-0.5 1.7 0 1.7 1.3 1.7 1.3 1.7-5.6 1.7 1.3 1.7-0.4 1.7-1.9 1.7 3 1.7 1 1.7 3.5 1.7-4 1.7 3.6 1.7 1.2 1.7-2.7 1.7-0.6 1.7 4.1 1.7-4.8 1.7 0.3 1.7-2.4 1.7 1 1.7-0.6 1.7 3.1 1.7-1.1 1.7-4.1 1.7 4.1" stroke="#df0000"/>
<path d="M1399.1 532.1l1.7 0.3 1.7 1.8 1.7-0.8 1.7-2.6 1.7-1.8 1.7 2.5 1.7 3.4 1.7-0.8 1.7-1.9 1.7-0.4 1.7 4.5 1.7-0.6 1.7 3 1.7-6.4 1.7 2.8 1.7-4.6 1.7 0.7 1.7 4 1.7-3.9 1.7 0.2 1.7-0.5 1.7 1.9 1.7 2.5 1.7-2.6 1.7 2.8 1.7-3.4 1.7 3.1 1.7-0.8 1.7-0.6 1.7 2.8 1.7-1.8 1.7 0 1.7-3 1.7 5.5 1.7-3.3 1.7 3.5 1.7 0.6 1.7-0.5 1.7 0 1.7-5.9 1.7 1.6 1.7-1.8 1.7-1 1.7 0.8 1.7 0.2 1.7 0.7 1.7 5.9 1.7-7.7 1.7 5.7 1.7-7.6 1.7 3.1 1.7 2.4 1.7 1.2 1.7-0.5 1.7 2.7 1.7-7 1.7 5.8" stroke="#df0000"/>
<path d="M235.6 530.2l1.7 4.9 1.7-8.2 1.7 6.3 1.7-3.9 1.7-1.8 1.7 7.8 1.7-2.1 1.7-4.1 1.7-1.7 1.7 4.3 1.7 1.6 1.7 5.3 1.7-5.8 1.7 1.6 1.7-0.4 1.7-1.6 1.7-0.1 1.7 3.2 1.7-3.8 1.7-3.4 1.7 5.3 1.7-3.7 1.7 9 1.7-2.4 1.7-0.9 1.7-3.4 1.7-3.5 1.7 5.1 1.7 0.2 1.7 1.3 1.7-4.1 1.7 3.3" stroke="#bf0000"/>
<path d="M853.6 534.5l1.7-2.5 1.7 0.5 1.7-2.2 1.7 2.7 1.7 0.8 1.7 0 1.7 3.4 1.7-4.8 1.7 0.6 1.7 4 1.7-6.7 1.7 1.1 1.7 2 1.7 4 1.7-4.1 1.7 0.7 1.7-2.4 1.7 4.5 1.7-6.2 1.7 1.8 1.7-0.8 1.7 3.4 1.7-0.6 1.7 2.4 1.7-0.3 1.7-2.9 1.7-5.7 1.7 6 1.7-0.9 1.7-5.5 1.7 1.5 1.7 5.4 1.7-3.8 1.7 4.9 1.7 4.6 1.7-11.5 1.7 1.3 1.7 2.9 1.7-2.1 1.7 4.9 1.7 0.2 1.7-0.6 1.7-2.8 1.7 3.7 1.7-4.6 1.7 1.4 1.7 0.8 1.7-2.2 1.7 4.4 1.7-4 1.7 3.4 1.7-2.8 1.7 0.6 1.7 2 1.7 5.5 1.7-10.2 1.7 2.2 1.7 1.6 1.7-4.8 1.7 6.3 1.7-2.2 1.7 0.8 1.7-1.1 1.7-0.2 1.7 3.2 1.7-0.4 1.7 0.7 1.7-6.4 1.7 1.5 1.7 0.7 1.7 0.3 1.7-1.2 1.7 5.7 1.7-3.3 1.7 1.1 1.7 2.8 1.7-6.8 1.7-2.1 1.7 4.7 1.7 6.2 1.7-4.6 1.7-1.4 1.7 4.3 1.7-4.6 1.7 1.8 1.7 0.9 1.7-2.8 1.7 1 1.7 0.9 1.7 3.1 1.7-3.9 1.7 0.6 1.7 1 1.7-0.8 1.7-5.5 1.7 8.1 1.7-6.7 1.7 0.5 1.7 1.1 1.7 1 1.7 1.3 1.7-8.2 1.7 6.3 1.7 2.7 1.7-0.1 1.7-2.9 1.7 2 1.7-2.2 1.7 3.8 1.7-2.9 1.7-2.7 1.7 0.9 1.7-0.9 1.7 3.9 1.7 2.8 1.7-3.9 1.7-3.2 1.7-1.5 1.7 2 1.7 2.9 1.7-1.5 1.7-1.3 1.7-2.6 1.7 5.2 1.7-0.7 1.7 2.2 1.7-1.7 1.7-4.7 1.7 6.8 1.7-4.1 1.7 2.6 1.7 3.5 1.7-5.8 1.7 2.5 1.7 4 1.7-8.9 1.7 2.7 1.7-0.2 1.7-0.6 1.7-1.2 1.7 4.6 1.7 3.5 1.7-3.7 1.7 0.9 1.7-2.4 1.7-3.2 1.7 5.1 1.7-5.6 1.7-0.3 1.7 4.7 1.7-1.2 1.7 4.2 1.7-3.2 1.7-3.2 1.7 5.5 1.7-1.5 1.7-1.9 1.7-3.2 1.7 6.7 1.7-3.6 1.7-2.5 1.7 1.6" stroke="#bf0000"/>
<path d="M560.3 534.4l1.7-0.2 1.7-3.8 1.7 3.5 1.7-4.9 1.7 6.9 1.7-10 1.7 9.3 1.7-2.4 1.7 2.1 1.7-1.7 1.7 1.2 1.7-5.5 1.7 4.5 1.7 2.2 1.7-4.6 1.7 0.5 1.7 5.9 1.7-1.2 1.7-3.7 1.7 2.8 1.7 1.5 1.7-2.7 1.7-3.5 1.7-1.5 1.7 6.2 1.7-8 1.7 7.6 1.7 0.4 1.7 0.6 1.7-0.1 1.7-1.6 1.7-1.8 1.7-3.2 1.7 3.2 1.7-3.3 1.7 0.8 1.7-2.2 1.7 10.2 1.7-8.4 1.7-0.8 1.7 2 1.7-1.9 1.7 6.9 1.7-1.7 1.7 4.3 1.7-6.7 1.7 2.8 1.7-6.7 1.7 8.5 1.7-4 1.7-0.2 1.7-2.7 1.7 5.3 1.7-4.8 1.7 4.2 1.7-1.1 1.7-1.6 1.7 6.2 1.7-7.5 1.7-0.1 1.7 1 1.7 4.1 1.7-4 1.7-2.7 1.7 2.7 1.7 4.7 1.7-2.9 1.7 3.7 1.7-2.4 1.7-0.2 1.7 1.2 1.7-1.4 1.7 3.1 1.7-1.2 1.7 3 1.7-6.8 1.7-4.5 1.7 4.9 1.7-0.3 1.7 3.1 1.7 2.8 1.7-2.3" stroke="#9f0000"/>
<path d="M1372.5 532.6l1.7-0.9 1.7 4.9 1.7-1.4 1.7 2.8 1.7-3 1.7 0.1 1.7 1.7 1.7-7.1 1.7 2.5 1.7 0.7 1.7 1.7 1.7-5.6 1.7 3.1 1.7-0.8 1.7 1.6 1.7-0.4 1.7-1.3 1.7 6 1.7-3.9 1.7-4.7 1.7 4.2 1.7-2.2 1.7 2.9 1.7 3.3 1.7-3.8 1.7 0.4 1.7 5.1 1.7-1.3 1.7-6.6 1.7 0.8 1.7 2.8 1.7-5.9 1.7 7.8 1.7-4.5 1.7 4.4 1.7-4.9 1.7 3.7 1.7-5.8 1.7 4.6 1.7-0.9 1.7 1.3 1.7 1.1 1.7-0.4 1.7 1.2 1.7-1.7 1.7 2.2 1.7-3.3 1.7-0.8 1.7 0 1.7 2.4 1.7-2.6 1.7-3.2 1.7 4.5 1.7-4 1.7 1.5 1.7-3.3 1.7 6.9 1.7-0.6 1.7-4.7 1.7 5.5 1.7 1 1.7-2.1 1.7 0.4 1.7-1.6 1.7 0.4 1.7-0.6 1.7 3.7 1.7-2.9 1.7-5.4 1.7 7.5 1.7-0.9 1.7 2.4 1.7-6.5" stroke="#9f0000"/>
<path d="M379.1 534.8l1.7-0.4 1.7 2.6 1.7-11.1 1.7 4.7 1.7 3.5 1.7 0.1 1.7 0.4 1.7-1.9 1.7 8.1 1.7-8 1.7 2.7 1.7-3.7 1.7 0.8 1.7-0.6 1.7-0.2 1.7 1.8 1.7 0.6 1.7 4.4 1.7-7.2 1.7 1.6 1.7 3.9 1.7-3.6 1.7-1.5 1.7-1.6 1.7 2.6 1.7-2.1 1.7 0.5 1.7 1.9 1.7-3.7 1.7 8.4 1.7-4.8 1.7-2.6 1.7 0.6 1.7 2.8 1.7-1.7 1.7-2.3 1.7 3 1.7-5.7 1.7 6.5 1.7-1.5 1.7 0.6 1.7-0.4 1.7 1.5 1.7-1.3 1.7 0.6 1.7-3.3 1.7 6.9 1.7-3.3 1.7-2.3 1.7-0.1 1.7 1.2 1.7 0.5 1.7 3.9 1.7-3.7 1.7-0.4 1.7-2.8 1.7 2.5 1.7-5.7 1.7 5.7 1.7-1.2 1.7-3.2 1.7 9.3 1.7-3 1.7-3.1 1.7 6.3 1.7-7.5 1.7 1.8 1.7 3.9 1.7-0.8 1.7 2.1 1.7-3 1.7 3.4 1.7-2.5 1.7-0.3 1.7 0.8 1.7 4.6 1.7-7.2 1.7-3 1.7 4.6 1.7 1.9 1.7-4.2 1.7-0.4 1.7-3.5 1.7 3.7 1.7-0.2 1.7 2.2 1.7-0.1 1.7-0.4 1.7-3.5 1.7 2.7 1.7 5.9 1.7-5.4 1.7-1.2 1.7-2.8 1.7-1.1 1.7 6.8 1.7-2.8 1.7-0.5 1.7 0.4 1.7 4.3 1.7-0.1 1.7 2.8 1.7-4.5 1.7-8.6 1.7 14.5 1.7-3.7 1.7-4 1.7-5.4 1.7 7 1.7 0.7 1.7-1.4 1.7 4.4 1.7-10.8 1.7 4.6 1.7 3.1 1.7-1.8 1.7 1.4 1.7-0.3 1.7-1.8 1.7 2.2 1.7-2.3 1.7 3.3 1.7-5.8 1.7 0.4 1.7 2.3 1.7 4.5 1.7-7.5 1.7 0.7 1.7 8.9" stroke="#800000"/>
<path d="M695 532.9l1.7-1.9 1.7 1.3 1.7 3.8 1.7-0.9 1.7 0.6 1.7-6.2 1.7-1.4 1.7 3.1 1.7-0.5 1.7-0.7 1.7 0.3 1.7 4.1 1.7 0.3 1.7-3.2 1.7 5.5 1.7-8.4 1.7 3.3 1.7 4.5 1.7-5.1 1.7-1.4 1.7 4.9 1.7 2.3" stroke="#800000"/>
<path d="M1235.1 538.9l1.7-1.8 1.7-7.7 1.7 3.8 1.7 3.2 1.7-3.9 1.7 0.8 1.7 1 1.7 1.3 1.7-4.8 1.7 3.5 1.7-4.1 1.7 4.5 1.7-0.6 1.7 0.4 1.7-3 1.7 5.8 1.7-7.9 1.7 3.1 1.7 1.3 1.7-1.8 1.7-1.5 1.7 8.4 1.7-7 1.7-3.6 1.7 5.8 1.7-1.3 1.7-1.5 1.7 0.9 1.7 2.4 1.7-3.1 1.7 2.1 1.7-2.5 1.7 6.3 1.7-5.7 1.7-1.5 1.7 2.8 1.7 2.9 1.7-0.5 1.7 0 1.7-1.2 1.7 4.6 1.7-5.6 1.7-1.1 1.7 2.3 1.7-5.7 1.7 4.6 1.7-1.8 1.7 0.1 1.7 2 1.7 3.3 1.7-5.4 1.7 0 1.7 3.8 1.7-2.2 1.7 4.2 1.7-0.1 1.7-0.4 1.7-1.3 1.7-3.4 1.7-0.2 1.7 3.1 1.7 1.2 1.7-4.7 1.7-0.9 1.7 1.8 1.7 0.2 1.7 3 1.7-3.4 1.7 1.9 1.7-1.7 1.7 1.7 1.7-3 1.7 0.9 1.7 5.8 1.7-7.8 1.7-0.3 1.7 4.7 1.7-4.3 1.7-0.8 1.7 3 1.7 4.2 1.7-6.2 1.7 4.6 1.7-8.3 1.7 0.7 1.7 7.3 1.7-5.1 1.7 6.5 1.7-5.5 1.7 2.8 1.7 1.8 1.7-5.7 1.7-1 1.7 3.3 1.7-0.4 1.7 2 1.7 2.1 1.7-1.6 1.7-3.1 1.7 4.2 1.7 1.4 1.7-0.8" stroke="#800000"/>
<path d="M206.4 535l1.7 0.8 1.7-4.7 1.7-2.1 1.7 2.9 1.7 3.7 1.7-6.1 1.7 6.5 1.7-5.1 1.7-4.7 1.7 0.2 1.7 5.9 1.7 4.9 1.7-2.9 1.7-2.9 1.7 1.5 1.7-3.9 1.7 1.1 1.7 2.4 1.7 4.2 1.7-5.2 1.7 0.3 1.7-2.1 1.7-3.2 1.7 3 1.7 3 1.7 4.6 1.7-2.8 1.7 5.3 1.7-13 1.7 9.2 1.7 0.4 1.7-9.8 1.7-3.1 1.7 3.6 1.7 9.5 1.7-4.5 1.7-0.8 1.7 0.1 1.7-0.9 1.7 2.4 1.7 2.2 1.7 0.2 1.7-4.3 1.7 3.5 1.7 2.5 1.7-2.8 1.7-1 1.7-2.8 1.7 0.4 1.7 6 1.7 2.4 1.7-8.8 1.7-2.6 1.7 9.1 1.7-2.2 1.7 2.3 1.7-2.4 1.7-3 1.7-0.8 1.7-6.2 1.7 13 1.7-0.6 1.7-1.8 1.7-3 1.7-3.9" stroke="#bf0000"/>
<path d="M1224.2 540.6l1.7-6.2 1.7-2.7 1.7 2.5 1.7 0.3 1.7-0.8 1.7-3.3 1.7 4.5 1.7-0.6 1.7-7.6 1.7 6.8 1.7-1.1 1.7-4.7 1.7 5.4 1.7-2.3 1.7 0.2 1.7 3.7 1.7-3.6 1.7 7.7 1.7-5.6 1.7 2.2 1.7-0.8 1.7-2 1.7-0.9 1.7 1.5 1.7 0.1 1.7-2.4 1.7 8.1 1.7-5 1.7-2.6" stroke="#800000"/>
<path d="M1452.5 532.4l1.6 2.8 1.6-4.2 1.6 0.8 1.6 0.6 1.6 2.7 1.6 0.2 1.6 0.6 1.6-0.5 1.6-1.7 1.6 4.7 1.6-3.5 1.6-4.1 1.6 0.3 1.6 0.5 1.6 4.3 1.6-4 1.6 3.6 1.6-0.6 1.6-4.3 1.6 1 1.6 7 1.6-2.8 1.6-6.1 1.6 3.7 1.6-2.9 1.6 8.8 1.6-6.4 1.6-8.8 1.6 11.3 1.6 0.3 1.6-8.5 1.6 15.9 1.6-6.6 1.6-2.2 1.6-0.4 1.6 10.5 1.6-4.4 1.6-4.9 1.6-15.9 1.6-8.5 1.6 41.7 1.6-6.7 1.6-4.7 1.6-2.5 1.6-21.6 1.6 17.7 1.6-18 1.6-0.1 1.6-2.1 1.6 10.8 1.6-8.1 1.6-9.7 1.6 35.4 1.6-7.5 1.6-1 1.6-7.4 1.6 27.3 1.6-18.7 1.6-7.6 1.6 16.6 1.6-32.4 1.6 13.7 1.6-0.1 1.6 8.4 1.6-5.2 1.6 13.5 1.6-27.2" stroke="#0000bf"/>
<path d="M1477.9 530.1l1.6 6.8 1.6 3.7 1.6-5.8 1.6-4.6 1.6 2.7 1.6 5.7 1.6-6.6 1.6 12.6 1.6-11.9 1.6 2.1 1.6-1.5 1.6 4.3 1.6-15.2 1.6 12.4 1.6-6 1.6 2.7 1.6-3.3 1.6 3.6 1.6-5.9 1.6 12.6 1.6 4.7 1.6 1.5 1.6 6.1 1.6-21.9 1.6-15.2 1.6 22.4 1.6-37.5 1.6 49.6 1.6-39.4 1.6 34.2 1.6-30.2 1.6 35.8 1.6-64.6 1.6 60.6 1.6 24.3 1.6-50.6 1.6 22.6 1.6 3.8 1.6-5.6 1.6 27.3 1.6-23.8 1.6-38.8 1.6 3.9 1.6 21.4 1.6-4.9 1.6 44.5 1.6-146.9 1.6 87.3 1.6 38.1 1.6-25.6 1.6-5 1.6 25 1.6 28.2 1.6-57.6 1.6 53.1 1.6 71.7 1.6-95.3 1.6 4.2 1.6-15.6 1.6-13.3 1.6-2.9 1.6 19.8 1.6-26.8 1.6 18.3 1.6 6 1.6-2.8 1.6-11.4 1.6 7.4 1.6-19.1 1.6 33.8 1.6-19.9 1.6 8.1 1.6 9.4 1.6 5.7 1.6-35.1 1.6 31.7 1.6-27.6 1.6 60 1.6-37.3 1.6 6.6 1.6 36.4 1.6-15.9 1.6-26.1 1.6 12.6 1.6 20.1 1.6-43.4 1.6-3.2 1.6 4.3 1.6 2.7 1.6-20.3 1.6 22.3 1.6 30 1.6-5.9 1.6-24.5 1.6 18.4 1.6-17.7 1.6 13.1 1.6-7.3 1.6 28.1 1.6-27.9 1.6 12.8 1.6-1.8 1.6-13.6 1.6-6 1.6 60.6 1.6-48.7 1.6-25.9 1.6 41 1.6-0.2 1.6-46.5 1.6 51 1.6-19.7 1.6-30.7 1.6-0.6 1.6 30.5 1.6-5.7 1.6 3.5 1.6-47.7 1.6 34.2 1.6 16.2 1.6 13.5 1.6-27.7 1.6-1.3 1.6-7 1.6-7.4 1.6 57.6 1.6-58.8 1.6 36.7 1.6-16.2 1.6-11.4 1.6 9.7 1.6 0.1 1.6 1.2 1.6 6.2 1.6-27.9 1.6 53.2 1.6-24.6 1.6 21.3 1.6 21.4 1.6-50.4 1.6 8.2 1.6 36.2 1.6-65.8 1.6-3 1.6 27.7 1.6-31.4" stroke="#0020ff"/>
<path d="M1458.8 534.5l1.6 0.9 1.6-1.5 1.6-0.2 1.6 0.1 1.6 3.2 1.6-5.1 1.6 4.2 1.6-1 1.6-7 1.6 4.6 1.6 3.9 1.6-12.3 1.6 9 1.6 0.4 1.6-0.4 1.6 0.4 1.6 6.4 1.6-5.8 1.6-5.1 1.6 4.1 1.6 0.6 1.6-3.9 1.6 2.4 1.6 3.2 1.6 4.1 1.6 1 1.6-28 1.6 12.6 1.6 27.6 1.6-28.9 1.6 15.4 1.6-11.9 1.6-8.6 1.6 18.6 1.6 5.9 1.6-39.7 1.6 27.9 1.6 7.4 1.6-4.7 1.6-3.4 1.6-13.6 1.6 26 1.6-15.5 1.6 32.5 1.6-37.1 1.6-2.6 1.6 33.1 1.6-9.4 1.6-38.7 1.6 20.8 1.6-12.1 1.6-6 1.6 28.4 1.6 9.6 1.6-32.5 1.6 19.8 1.6 13.3 1.6-15.1 1.6 10.7 1.6-4.9 1.6 7 1.6-25.7 1.6 7.9 1.6 13.2 1.6 13.3 1.6-48.3 1.6 28.8 1.6-19.1 1.6 38.9 1.6 18.2 1.6-20.9 1.6-36.5 1.6 22.4 1.6-30.3 1.6 33.8 1.6-16.8 1.6-4.4 1.6 47.4 1.6-31.6 1.6 3.9 1.6 19.5 1.6-12.7 1.6-10.9 1.6-2.9 1.6-13.2 1.6 16.1 1.6 6.3 1.6-24.1 1.6 19.1 1.6-22.2 1.6-36.7 1.6 71.9 1.6-31.5 1.6 17.7 1.6-4 1.6 8 1.6 43.5 1.6-49.1 1.6 12.1 1.6-5.4 1.6 41.1 1.6-89.9 1.6 23.4 1.6 35.6 1.6-11 1.6-27.8 1.6 22.4 1.6 20.8 1.6-53.3 1.6 44 1.6 34.6 1.6-42.8 1.6 5.5 1.6-5.4 1.6-24.1 1.6-23.3 1.6 50.5 1.6-18.1 1.6 4.6 1.6 3.3 1.6-25.1 1.6 37.1 1.6 36.2 1.6-31.2 1.6-22.6 1.6 31.4 1.6-24.5 1.6-11.8 1.6-14.4 1.6 5.6 1.6-0.3 1.6 36.6 1.6 15 1.6-1.3 1.6-20.1 1.6-6.8 1.6-19.9 1.6 17.3 1.6 43.7 1.6-32.2 1.6-12.6 1.6 31.1 1.6-13.5 1.6-26.2 1.6 1.1 1.6-3.7 1.6-7 1.6 40.8 1.6 45.2 1.6-63.1 1.6-19 1.6 28.5 1.6-31.7 1.6 33.2 1.6-8.2 1.6-23.3 1.6 38.2 1.6-8" stroke="#0040ff"/>
<path d="M1560.3 518.6l1.6 6.4 1.6 6.8 1.6 9.9 1.6-13.9 1.6 25.1 1.6-31.8 1.6 17.9 1.6-7.2 1.6 5 1.6-19.8 1.6 10.1 1.6 16.3 1.6 1.7 1.6-10.4 1.6 10.5 1.6-37.3 1.6 34.8 1.6-6.7 1.6 11.7 1.6-10.1 1.6-15.9 1.6-0.4 1.6 9.9 1.6 8 1.6-24.5 1.6 10.7 1.6-4.4 1.6 15.7 1.6-4.8 1.6-7.5 1.6 20.9 1.6-7.9 1.6-5.6 1.6-15.5 1.6 33.5 1.6-23.7 1.6 7.1 1.6-3.4 1.6 8.5 1.6-19.4 1.6 3.3 1.6 2.5 1.6-1 1.6-9.6 1.6 7.3 1.6-6.7 1.6 30.4 1.6-8.5 1.6 0.8 1.6 1 1.6 1.4 1.6 0.8 1.6 21.3 1.6-53.9 1.6 37.3 1.6-7.7 1.6-10.4 1.6 11.1 1.6-15.2 1.6 38.5 1.6-30.3 1.6 12.7 1.6-11.9 1.6 7.6 1.6-15.1 1.6 0.1 1.6 41.1 1.6-28.9 1.6-20.9 1.6 31.5 1.6-8.2 1.6 3.5 1.6 8.7 1.6-13.7 1.6-17.3 1.6 37.6 1.6-40.8 1.6 24.5 1.6-33.2 1.6 32.6 1.6 11.9 1.6-15.5 1.6-2.8 1.6 7.6 1.6 0.2 1.6-8.5 1.6-6.4 1.6-10.4 1.6 12.1 1.6-7.1 1.6-7.7 1.6 9.5 1.6 7 1.6-9.1 1.6 8" stroke="#0080ff"/>
<path d="M1452.5 532.4l1.6 0.3 1.6 1.1 1.6-0.9 1.6-0.3 1.6 0.3 1.6 0 1.6 0.2 1.6 0.6 1.6-1 1.6-0.3 1.6-0.1 1.6 1 1.6 0.7 1.6-1.1 1.6 0.8 1.6-0.4 1.6 0 1.6-0.8 1.6 0 1.6 1.6 1.6-2.8 1.6 1.8 1.6 0.9 1.6-2.4 1.6-0.8 1.6 0.7 1.6 3.5 1.6-3.5 1.6 1.6 1.6 2 1.6-0.6 1.6 2.8 1.6-5.9 1.6 4 1.6-5.9 1.6 1.6 1.6-0.5 1.6 3.9 1.6-2.9 1.6-1.7 1.6 5.5" stroke="#00ffff"/>
<path d="M1560.3 532.1l1.6-25.9 1.6 13.6 1.6-3.8 1.6 32.1 1.6-7.3 1.6-0.5 1.6 8.6 1.6-25.6 1.6 42 1.6-25.7 1.6-1.2 1.6 3.7 1.6-17.3 1.6-14.5 1.6 28.8 1.6-2.5 1.6-25.1 1.6-11.6 1.6 23.2 1.6-15.4 1.6 4.8 1.6 31.3 1.6-12.4 1.6-5.9 1.6 10.5 1.6-0.8 1.6 10.9 1.6-23.2 1.6 63.3 1.6-39.1 1.6-9.3 1.6 9.9 1.6-19.8 1.6 12.8 1.6 5.7 1.6-12.5 1.6-13.1 1.6 19.9 1.6 13.9 1.6-30.5 1.6-10.5 1.6 5.7 1.6 13.4 1.6-8.4 1.6 29.8 1.6-42.7 1.6 2.2 1.6 20.3 1.6-13.7 1.6 2 1.6-4.6 1.6 7.6 1.6 43 1.6-34.1 1.6 6.9 1.6-25.8 1.6 16.2 1.6-5.9 1.6 9.6 1.6 53.5 1.6-74.4 1.6 28.2 1.6-14.4 1.6 23.9 1.6-24.5 1.6-1.7 1.6 6.2 1.6 0 1.6-16.1 1.6-9.3 1.6 15.8 1.6 9.9 1.6-11.4 1.6 16.9 1.6-12.8 1.6 6.4 1.6 12.2 1.6-9.8 1.6-20 1.6 36.2 1.6-33 1.6 22.7 1.6-19.4 1.6 8.7 1.6 10.9 1.6-3.2 1.6 12 1.6 20.2 1.6-40.8 1.6 5.9 1.6 12.5 1.6-10.5 1.6-2.8 1.6-6.1 1.6 12.8" stroke="#80ff80"/>
<path d="M1560.3 542l1.6-17.7 1.6 33.8 1.6-7 1.6-5.4 1.6-8.6 1.6 9.5 1.6 54.1 1.6-55.7 1.6-4.2 1.6 7.8 1.6 2 1.6-35.4 1.6 4.4 1.6 45.8 1.6-52.1 1.6 34.1 1.6-11.3 1.6-21.1 1.6 28.9 1.6-8.2 1.6 1.6 1.6-10.1 1.6 22.6 1.6-26.4 1.6 19.9 1.6-1.7 1.6-10.6 1.6-4.7 1.6-6.4 1.6 12.2 1.6-9.6 1.6 18.6 1.6-9.4 1.6-28.6 1.6 12.9 1.6-16.5 1.6 38 1.6 4.6 1.6-1 1.6-17 1.6 2.3 1.6 0.8 1.6 7.8 1.6-13.5 1.6 0.2 1.6-7.4 1.6-14.6 1.6 65.4 1.6-17.7 1.6-23 1.6-13 1.6 18.6 1.6 1.7 1.6-5.2 1.6 4.3 1.6-6.6 1.6 21.2 1.6-11.3 1.6 17.4 1.6-18.2 1.6 0.6 1.6-6.6 1.6-0.2 1.6 1.8 1.6 1.8 1.6 4.3 1.6-20.7 1.6 6.3 1.6 20 1.6-15.4 1.6 7 1.6 10.7 1.6-11.2 1.6-20.1 1.6-4 1.6 29.2 1.6-14.1 1.6 22.8 1.6 12.1 1.6-53.8 1.6 37.6 1.6-25 1.6 3.5 1.6 8.1 1.6-5.9 1.6 9.5 1.6 3.2 1.6-17.6 1.6-3.2 1.6 35.2 1.6 19.1 1.6-32.3 1.6-28.2 1.6 34.2 1.6 3.9" stroke="#bfff40"/>
<path d="M1515.9 557.4l1.6-19.3 1.6 5.1 1.6 81.7 1.6-115 1.6 5.1 1.6 5.8 1.6 104.1 1.6-99.3 1.6 12.9 1.6-10.2 1.6 20.9 1.6-21.2 1.6 22.6 1.6 1.9 1.6 4.4 1.6 2.5 1.6-29.8 1.6-43.1 1.6 64 1.6-6 1.6-19.1 1.6-14.3 1.6 32.1 1.6-8.1 1.6 1.9 1.6-1.3 1.6-7.6 1.6 24.7 1.6-9.5 1.6-14.4 1.6 2.5 1.6 16.9 1.6-15.3 1.6 13 1.6-40.9 1.6 33 1.6-18 1.6 25.4 1.6-10.9 1.6-3.3 1.6 4.6 1.6-32 1.6 47.4 1.6-44 1.6 3.1 1.6 37.5 1.6-0.1 1.6-8.8 1.6-71.3 1.6 86.4 1.6-11.4 1.6-14.3 1.6 6.1 1.6-13.5 1.6 10.7 1.6-10.3 1.6-9.2 1.6 17.8 1.6-1.4 1.6 21.5 1.6-6.5 1.6-2.9 1.6 32.2 1.6-34.8 1.6 9 1.6 17.4 1.6-49.9 1.6 7.3 1.6 17.6 1.6 18.1 1.6-3 1.6-35.3 1.6-44.3 1.6 28.1 1.6 32.9 1.6-10.1 1.6 15.3 1.6-16.1 1.6 14 1.6 27.2 1.6-2.2 1.6-36.2 1.6 19.6 1.6-36.8 1.6 31.4 1.6-69.6 1.6 21.5 1.6 40.2 1.6 20 1.6-43.1 1.6 18.7 1.6-2.5 1.6-16.7 1.6 44.7 1.6-32.5 1.6 13.9 1.6 7.2 1.6-19.8 1.6 20.9 1.6 8.5 1.6 3.3 1.6-30.2 1.6 32.1 1.6-14.2 1.6-10.5 1.6 23.9 1.6-5.2 1.6-23.6 1.6-3.3 1.6 15.6 1.6-10.2 1.6-7.7 1.6 38.9 1.6-35.5 1.6-8 1.6 31.4 1.6 0.1 1.6 0.7 1.6-26.7 1.6 25.1 1.6-18 1.6 1.7" stroke="#ffff00"/>
<path d="M1642.7 533.8l1.6-0.8 1.6 0.9 1.6-9.8 1.6 15 1.6-6.1 1.6 3.9 1.6 15.3 1.6-46.9 1.6 26.8 1.6-6.1 1.6-13.7 1.6 39 1.6-8.3 1.6-9.2 1.6-4.1 1.6-5 1.6 0.7 1.6-15.6 1.6 24.7 1.6 3.6 1.6-0.8 1.6 1.4 1.6-27.3 1.6 36.6 1.6-10.6 1.6-7.8 1.6-6.7 1.6 31.4 1.6-23.8 1.6 0.8 1.6 1.5 1.6 4.9 1.6 10.1 1.6-26.1 1.6 9.6 1.6 4.3 1.6 5.4 1.6 0.4 1.6-37.2 1.6 37.7 1.6-1.7 1.6-8.6 1.6-16.5" stroke="#ff8000"/>
<path d="M1458.8 531.4l1.6-1.1 1.6 2 1.6 1 1.6-1.6 1.6 0 1.6 2.2 1.6-1.6 1.6 4.1 1.6-2.2 1.6 1.8 1.6-9.1 1.6 8.3 1.6-6.3 1.6 1.6 1.6 5.3 1.6-5.8 1.6 5.6 1.6-1.5 1.6 3.4 1.6-1.1 1.6 0.9 1.6-3.2 1.6 0.8 1.6 9.9 1.6-16.1 1.6 7.2 1.6-0.1 1.6-5.2 1.6 11.4 1.6-9.6 1.6 23.3 1.6-39.3 1.6 9.6 1.6-1.9 1.6-3.7 1.6 30.1 1.6 0.4 1.6 0.4 1.6-20.2 1.6 9.8 1.6-32.7 1.6 47.1 1.6-50.2 1.6 17.3 1.6 17.5 1.6 8 1.6-21.9 1.6-11.1 1.6 45.2 1.6-23.2 1.6-6.4 1.6-2.3 1.6 5.2 1.6-10.6 1.6 23.8 1.6-16.8 1.6-9.2 1.6 17.6 1.6 21.3 1.6-46.3 1.6 54.6 1.6 6.3 1.6-31.5 1.6-2.2 1.6-20.5 1.6 6.9 1.6 5.1 1.6-1.5 1.6 42.8 1.6-19.1 1.6-21.4 1.6-3.1 1.6 26.2 1.6-33.1 1.6 31.2 1.6-33 1.6-24.1 1.6 57.2 1.6-7.2 1.6-10.1 1.6-9.2 1.6-5.6 1.6 26.3 1.6-19.2 1.6 22.8 1.6-19.6 1.6-4.4 1.6-17.1 1.6-6.4 1.6 42 1.6-11.6 1.6 3.6 1.6-3.4 1.6-16.4 1.6 35.1 1.6-13.4 1.6-33.6 1.6 17.6 1.6 0.2 1.6 10.9 1.6-15 1.6 17.5 1.6-3 1.6 9.6 1.6 0.7 1.6 1.4 1.6-10.9 1.6 14.1 1.6-59.6 1.6 48.6 1.6 1.2 1.6-10.2 1.6 23.9 1.6-25 1.6 5.5 1.6 6.4 1.6-48.9 1.6 36 1.6 6.5 1.6 4.9 1.6 18.1 1.6-52.6 1.6 31.6 1.6 15.1 1.6 9.1 1.6-19.9 1.6 1.4 1.6 13.4 1.6-14.6 1.6-9.1 1.6-11 1.6-16.4 1.6 43.6 1.6-11.2 1.6-11.3 1.6 7.9 1.6 11.8 1.6-12.5 1.6-13.4 1.6 13.9 1.6-0.7 1.6-3.4 1.6 11.7 1.6-13.5 1.6 21.4 1.6-42 1.6 19.1 1.6 2.5 1.6-6.6 1.6 4.8 1.6 18.4 1.6-24.5 1.6 28.2 1.6 4.7 1.6 5.3 1.6 4.2 1.6-21.9 1.6-4.2" stroke="#ff6000"/>
<path d="M1484.2 532.5l1.6-0.6 1.6 5.5 1.6-8.9 1.6 3 1.6 2.2 1.6-8.8 1.6-2.7 1.6 8.5 1.6-3.9 1.6 2.8 1.6-9.6 1.6 21.1 1.6-10.8 1.6-4.6 1.6 26.7 1.6-26.4 1.6 10.6 1.6-5.4 1.6 10.6 1.6 25.1 1.6-24.9 1.6-28 1.6 14.6 1.6 7.4 1.6 24 1.6-65.6 1.6 95.1 1.6-75.3 1.6 29.3 1.6-20.8 1.6-6.3 1.6 29.1 1.6-0.1 1.6-7.3 1.6-17.9 1.6 2 1.6 14.7 1.6 2.3 1.6 4.5 1.6-5.1 1.6 19.3 1.6-18.8 1.6-6.6 1.6-7.4 1.6-6.2 1.6-89.9 1.6 103.5 1.6-13.3 1.6-21.2 1.6 31.2 1.6-0.6 1.6-31.5 1.6 44 1.6-28.5 1.6-10.5 1.6 43.8 1.6-11.2 1.6 10.5 1.6-31.1 1.6 44.2 1.6-33.4 1.6 14.6 1.6 14 1.6-12.8 1.6 10.1 1.6 13.9 1.6-49 1.6 9 1.6 5 1.6 1.2 1.6 15.3 1.6 9.8 1.6-45.9 1.6 25.6 1.6 22 1.6 6.1 1.6-37.4 1.6 55.5 1.6-40.7 1.6-21.8 1.6 29.2 1.6-1 1.6-24.9 1.6-8.3 1.6 22.4 1.6 5.5 1.6 18.9 1.6-35.2 1.6 8.6 1.6 13.7 1.6 21.7 1.6-42.3 1.6 5.3 1.6 0 1.6-11.2 1.6 1.3 1.6-1.6 1.6 16.6 1.6-22.8 1.6 42.3 1.6-35.2 1.6 19.2 1.6 26.1 1.6-38 1.6-20.9 1.6 44.3 1.6-46.3 1.6 14.3 1.6 26 1.6-0.9 1.6-44 1.6 27.9 1.6 17.6 1.6-19.1 1.6-7.8 1.6 23.7 1.6 17.3 1.6-27.4 1.6 3.4 1.6-12.4 1.6 2.4 1.6 31.7 1.6-31.7 1.6-5 1.6 23.2 1.6-3.4 1.6-4.1 1.6-5.1 1.6 20.5 1.6-5.3 1.6-22.2 1.6 9.4 1.6-7.6 1.6-3.3 1.6 14.9 1.6-34.6 1.6 42.1 1.6-0.7 1.6-6 1.6 12.4 1.6-37 1.6 3.7" stroke="#ff4000"/>
<path d="M1554 514.1l1.6 12.3 1.6-10.9 1.6 25.9 1.6 17.5 1.6-25.2 1.6-7 1.6 4.4 1.6 10.7 1.6 20.5 1.6-22.6 1.6 2.1 1.6-10.7 1.6-1.7 1.6-30.8 1.6 29.5 1.6 0.6 1.6 1.2 1.6 10.6 1.6-6.1 1.6-17.2 1.6 43.8 1.6-30 1.6 14.3 1.6-8.9 1.6 10.5 1.6 10 1.6-29.8 1.6 12.6 1.6 53.8 1.6-80.2 1.6 53.5 1.6-11.9 1.6-38.5 1.6 7.5 1.6 43.6 1.6 29.3 1.6-62 1.6 16.3 1.6 23.1 1.6-34.4 1.6-29.4 1.6 33.8 1.6-11.6 1.6 10.6 1.6-34.5 1.6-5.4 1.6 41.4 1.6-18.4 1.6 11.6 1.6-1.6 1.6-7.1 1.6 11 1.6-11 1.6-6.2 1.6-5.4 1.6 36.8 1.6-19.6 1.6 23.9 1.6-13.8 1.6-13.9 1.6 28.3 1.6-46.4 1.6 6.8 1.6 8.9 1.6 2.7 1.6-2 1.6-9.5 1.6 38.9 1.6-19.2 1.6-26.8 1.6-18.8 1.6 33.1 1.6 22.5 1.6 17 1.6-56.2 1.6 26.5 1.6-12.9 1.6-8.2 1.6 0.6 1.6 8.6 1.6-4 1.6 34.9 1.6-18.2 1.6 11 1.6-20.6 1.6-6.3 1.6 40.3 1.6-9.9 1.6-15.4 1.6-16.6 1.6 17.4 1.6 2 1.6 5.9 1.6-24 1.6-1.3 1.6 0.8 1.6-8.3 1.6-6.9 1.6 18.7" stroke="#ff2000"/>
<path d="M1522.2 533.6l1.6-27 1.6 9.9 1.6 26.2 1.6 6.2 1.6-3.1 1.6-13 1.6 27.5 1.6-22.4 1.6-15 1.6 3.4 1.6 22.4 1.6-24.3 1.6-7.9 1.6 17.6 1.6 12.2 1.6-9.4 1.6-23.7 1.6 12 1.6 28.9 1.6 8.1 1.6 2.8 1.6-47.6 1.6 28.6 1.6-24.2 1.6 6.1 1.6 9.4 1.6-33.2 1.6 1.7 1.6 24.9 1.6-18.7 1.6 9.6 1.6 12.3 1.6-12.3 1.6 33.4 1.6-31 1.6 8.8 1.6-1 1.6-17.6 1.6 27.5 1.6-26.9 1.6 41.9 1.6-29.8 1.6-6.8 1.6 40.8 1.6-22.6 1.6 5.2 1.6 8.7 1.6-11.1 1.6-24.3 1.6 22.7 1.6-16.5 1.6 16 1.6-3.7 1.6-25.4 1.6 39.7 1.6-33.4 1.6 11.3 1.6-1.7 1.6 18.3 1.6-0.8 1.6-1 1.6 0.6 1.6-43.1 1.6 47.6 1.6-52.8 1.6 17.7 1.6 7.8 1.6 36.2 1.6-56.9 1.6 42.4 1.6-26.1 1.6-18.3 1.6 46.9 1.6-0.2 1.6-36.5 1.6 32.3 1.6-7.6 1.6 0.9 1.6-26 1.6-12.1 1.6 42.7 1.6 2.6 1.6-12.8 1.6-6.7 1.6 15.4 1.6-23.2 1.6-6 1.6-0.3 1.6 30.1 1.6 14.5 1.6-23.7 1.6-30.8 1.6 48 1.6 3 1.6-3.3 1.6 6.2 1.6 3.9 1.6-16.7 1.6 1 1.6 3.3 1.6-16.7 1.6 9.5 1.6-7.7 1.6 20.8 1.6-28.6 1.6 21.3 1.6-13.4 1.6-9 1.6 8.8 1.6 29.8 1.6-28.8 1.6 0 1.6 27.7 1.6-28.8 1.6-9.7 1.6 20 1.6-22.4 1.6-7" stroke="#ff2000"/>
<path d="M1458.8 534l1.6-3.6 1.6 5 1.6-3.9 1.6-2.8 1.6 2.1 1.6 8.2 1.6-10.8 1.6 2.2 1.6 9 1.6-6.4 1.6-0.9 1.6-5.8 1.6 5.1 1.6-5.4 1.6 2.8 1.6 4.8 1.6 6 1.6-8.8 1.6 7 1.6 0.3 1.6-3 1.6-6.4 1.6-0.7 1.6-7.1 1.6 15.2 1.6 2.3 1.6-8.2 1.6-1.6 1.6 12.9 1.6 3.3 1.6-32.6 1.6 29.7 1.6-7 1.6-3.7 1.6 8.7 1.6-27 1.6 25.1 1.6 7.8 1.6-15.6 1.6-12.3 1.6 1.7 1.6 12.9 1.6 32.6 1.6-38.3 1.6 48.6 1.6-28.9 1.6-3.8 1.6-60.3 1.6-12.3 1.6 46.4 1.6 24.2 1.6-40.9 1.6 77.7 1.6-67.8 1.6 38 1.6-8 1.6-11.4 1.6 23.8 1.6-5.3 1.6 4 1.6-10.1 1.6-5.8 1.6-21.1 1.6 25.2 1.6-6.5 1.6 5.9 1.6-10.2 1.6-2 1.6 11.5 1.6-17.4 1.6 40.4 1.6-31.4 1.6 4.4 1.6-10.3 1.6 19.7 1.6-34.6 1.6 15.7 1.6 19 1.6 8.3 1.6-12.2 1.6-39.5 1.6 67.6 1.6-47.7 1.6 6.8 1.6 22.4 1.6 15 1.6-22.3 1.6-18.2 1.6 19.1 1.6 27.2 1.6-26.3 1.6-3.5 1.6-8 1.6 6.1 1.6-7 1.6-56 1.6 22.8 1.6 7.7 1.6 14.7 1.6 29.3 1.6-14.8 1.6 78.1 1.6-86.3 1.6 18.7 1.6-32 1.6 148 1.6-103.3 1.6-3.1 1.6-8.6 1.6-11.3 1.6 1.2 1.6-15.3 1.6 25.4 1.6 7.6 1.6-83.7 1.6 59 1.6-54.1 1.6 39.9 1.6 1.3 1.6 5.6 1.6 2 1.6 40.3 1.6-17.7 1.6-10.8 1.6 0.8 1.6-32.4 1.6 59.1 1.6-30.7 1.6 4.3 1.6-2.5 1.6 17.4 1.6 3.5 1.6-24.1 1.6 11 1.6 12.7 1.6-53.7 1.6 17.4 1.6 36.9 1.6-20.9 1.6-4.7 1.6 18.5 1.6-15.2 1.6 5.9 1.6 10.1 1.6-14.2 1.6-57.4 1.6 51.1 1.6 0.6 1.6-16.9 1.6 28.7 1.6-0.8 1.6-4.5 1.6 6.1 1.6-31.1 1.6 38.9 1.6 27.2 1.6-43.9 1.6-25.6" stroke="#df0000"/>
<path d="M1554 527.5l1.6-14.1 1.6 26.1 1.6-16.9 1.6 16.1 1.6-1.7 1.6-7.4 1.6-4.3 1.6 25.1 1.6-26.1 1.6 10.2 1.6 10.1 1.6-28.7 1.6-6.7 1.6 19.4 1.6 9.8 1.6-49 1.6 26.2 1.6-5 1.6 37.4 1.6 12.5 1.6-51.9 1.6 37.9 1.6-5.2 1.6-14.9 1.6-8.4 1.6-13.3 1.6 38.6 1.6 15.7 1.6 0.4 1.6-5.3 1.6-2.6 1.6-10.7 1.6 18.4 1.6-40.7 1.6 30.2 1.6-15.7 1.6 8.1 1.6 28.1 1.6-6.4 1.6-54.5 1.6 25.3 1.6-6.3 1.6 13.4 1.6-8.5 1.6 0.2 1.6 1.7 1.6 0.8 1.6-20.2 1.6 20 1.6-3 1.6 16.7 1.6-13.4 1.6-31.8 1.6 40.2 1.6-44.1 1.6 40 1.6-4.5 1.6 6.6 1.6-29.6 1.6 21.6 1.6-1 1.6-14.6 1.6 15.7 1.6 12.4 1.6 9.1 1.6-6.3 1.6-5.8 1.6-8 1.6-15.3 1.6 20.2 1.6 21.5 1.6-24.2 1.6-28.5 1.6 9.9 1.6 34.8 1.6-0.5 1.6-23.7 1.6 3.5 1.6-3.5 1.6 1 1.6 19.5 1.6-11.8 1.6-11.8 1.6 23.9 1.6-12.6 1.6-6.1 1.6-8.4 1.6 2.7 1.6-8.9 1.6 28.5 1.6-20.1 1.6-4.5 1.6 14 1.6-1.7 1.6 2.8 1.6 0.6 1.6 13.2 1.6-21.4 1.6-0.5" stroke="#df0000"/>
<path d="M1458.8 532.8l1.6 0.9 1.6-1.2 1.6 0.9 1.6-0.2 1.6-1.2 1.6 5.5 1.6-7.4 1.6 3.2 1.6 3.5 1.6-4.9 1.6 0.9 1.6-2.4 1.6 0.5 1.6-0.9 1.6-1.6 1.6 1.6 1.6-1 1.6 10.4 1.6-7.3 1.6-1.3 1.6 5.6 1.6-12.9 1.6 10 1.6-4.3 1.6 3.3 1.6 6.4 1.6-5.5 1.6 5.2 1.6-2.6 1.6-17.8 1.6 32.9 1.6-22.1 1.6 19.8 1.6-8.1 1.6 0 1.6-17 1.6 9.1 1.6 16.7 1.6-51 1.6 33.8 1.6-23.5 1.6 11 1.6-1 1.6 15.2 1.6 10.8 1.6 4.7 1.6-38.7 1.6 33 1.6-13.3 1.6 7.7 1.6-9.6 1.6-55.2 1.6 64.9 1.6-22.2 1.6 29.9 1.6 12.5 1.6-35.5 1.6 34.8 1.6-11.9 1.6-8.4 1.6-18 1.6 24.9 1.6-30.8 1.6 45.2 1.6-20.4 1.6-13.5 1.6 31" stroke="#9f0000"/>
<path d="M276.4 533.0L277.0 501.6L277.6 533.0" stroke="#0060ff" stroke-linecap="round"/>
<path d="M282.4 533.0L283.0 504.0L283.6 533.0" stroke="#0060ff" stroke-linecap="round"/>
<path d="M271.4 533.0L272.0 552.3L272.6 533.0" stroke="#0060ff" stroke-linecap="round"/>
<path d="M280.4 533.0L281.0 549.9L281.6 533.0" stroke="#0060ff" stroke-linecap="round"/>
<path d="M297.4 533.0L298.0 518.5L298.6 533.0" stroke="#40ffbf" stroke-linecap="round"/>
<path d="M302.4 533.0L303.0 546.3L303.6 533.0" stroke="#40ffbf" stroke-linecap="round"/>
<path d="M213.4 533.0L214.0 547.5L214.6 533.0" stroke="#bf0000" stroke-linecap="round"/>
<path d="M1554.4 530.9L1555.0 445.9L1555.6 530.9" stroke="#ff8000" stroke-linecap="round"/>
<path d="M1583.4 529.9L1584.0 472.5L1584.6 529.9" stroke="#9f0000" stroke-linecap="round"/>
<path d="M1712.4 534.3L1713.0 586.2L1713.6 534.3" stroke="#0040ff" stroke-linecap="round"/>
<path d="M711.1 533.0L711.7 546.3L712.3 533.0" stroke="#ff6000" stroke-linecap="round"/>
<path d="M778.4 533.0L779.0 549.9L779.6 533.0" stroke="#80ff80" stroke-linecap="round"/>
<path d="M782.4 533.0L783.0 551.1L783.6 533.0" stroke="#0060ff" stroke-linecap="round"/>
<path d="M846.4 533.0L847.0 548.2L847.6 533.0" stroke="#bf0000" stroke-linecap="round"/>
<path d="M865.4 533.0L866.0 547.5L866.6 533.0" stroke="#bf0000" stroke-linecap="round"/>
<path d="M884.4 533.0L885.0 546.3L885.6 533.0" stroke="#bf0000" stroke-linecap="round"/>
<path d="M854.4 533.0L855.0 523.3L855.6 533.0" stroke="#bf0000" stroke-linecap="round"/>
<path d="M976.4 533.0L977.0 547.0L977.6 533.0" stroke="#20ffdf" stroke-linecap="round"/>
<path d="M998.1 533.0L998.7 547.5L999.3 533.0" stroke="#20ffdf" stroke-linecap="round"/>
<path d="M1090.4 533.0L1091.0 543.9L1091.6 533.0" stroke="#00bfff" stroke-linecap="round"/>
<path d="M1239.4 533.0L1240.0 551.1L1240.6 533.0" stroke="#800000" stroke-linecap="round"/>
<path d="M1249.4 533.0L1250.0 549.9L1250.6 533.0" stroke="#ffdf00" stroke-linecap="round"/>
<path d="M1389.4 533.0L1390.0 522.1L1390.6 533.0" stroke="#0000bf" stroke-linecap="round"/>
<path d="M1285.4 533.0L1286.0 523.3L1286.6 533.0" stroke="#0000bf" stroke-linecap="round"/>
<path d="M1289.4 533.0L1290.0 522.1L1290.6 533.0" stroke="#0000bf" stroke-linecap="round"/>
</g>
<g clip-path="url(#cp2)" fill="none" stroke-width="4.3" stroke-linejoin="round">
<path d="M1176.9 911.4l1.8-6.1 1.8 6.3 1.8-5.9 1.8 6.4 1.8-6.9 1.8 3.2 1.8 1.1 1.8-2.9 1.8 4.8 1.8-10.5 1.8 8.6 1.8 3.1 1.8-3 1.8-0.4 1.8-3 1.8 4.6 1.8-3.8 1.8-9.3 1.8 12.1 1.8-2.3 1.8-3.1 1.8-0.8 1.8-2.5 1.8 3.2 1.8 5.3 1.8-5.7 1.8 4.7 1.8-7.7 1.8 7.6 1.8-8 1.8 6.7 1.8 0.2 1.8-1.9 1.8 1.3 1.8 0.8 1.8 4 1.8-3.5 1.8 3 1.8-12.7 1.8 8.4 1.8 5.6 1.8-0.9 1.8-11 1.8 6.2 1.8 2.5 1.8-3.2 1.8 3.5 1.8 0.7 1.8-17.8 1.8 19.7 1.8-7.5 1.8 3.2 1.8-6.9 1.8 12.8" stroke="#00009f"/>
<path d="M387.3 897.6l1.8-1.4 1.8 2.6 1.8-3.3 1.8-5.1 1.8 3.1 1.8 6 1.8-4.8 1.8 2.6 1.8 1 1.8-3.9 1.8 1.5 1.8 3.2 1.8-3.7 1.8-12.9 1.8 14.3 1.8 3 1.8-3.9 1.8-4 1.8-1.7 1.8 7.6 1.8 1.4 1.8-2.7 1.8 2.7 1.8 0.5 1.8 1.9 1.8-4.6 1.8 2 1.8 5.3 1.8 0.5 1.8-9.6 1.8 1.8 1.8 4.8 1.8 0 1.8-9.4 1.8 13.7 1.8 1.5 1.8-2.3 1.8 0.2 1.8-2.6 1.8 4.7 1.8-1.8 1.8 1 1.8-6.3 1.8 6.6 1.8-2.4 1.8-2.4 1.8 2.1 1.8-5.7 1.8 0.6 1.8 9.6 1.8-5.6 1.8-3.4 1.8 7.5 1.8-0.9 1.8-7.1 1.8 6 1.8-4.1 1.8-8.7 1.8 12 1.8-1.5 1.8-2.8 1.8-6.6 1.8 14.4 1.8-6 1.8-1.6 1.8 4.3 1.8-14.1 1.8 16.8 1.8-3.7 1.8 3.5 1.8-0.4 1.8-3.3 1.8 3.3 1.8 1.8 1.8-4.7 1.8 1.2 1.8-9.2 1.8 9.3 1.8-8 1.8 4 1.8-7.6 1.8 14.2 1.8-5.7 1.8 2.6 1.8-0.6 1.8-9.2 1.8 15.3 1.8-5.2 1.8 0.5 1.8 0.5 1.8-1 1.8 3.4 1.8-5.6 1.8 1.6 1.8 0.3 1.8-16 1.8 17.1 1.8 4.5 1.8-3.7 1.8-10.9 1.8 6 1.8 4.2 1.8-2.3 1.8 0.3 1.8 5.9 1.8-0.9 1.8-7 1.8 4 1.8 1.1 1.8-0.5 1.8 3 1.8-6.7 1.8 3 1.8 1.7 1.8-23.4 1.8 21.9 1.8-4.5 1.8-2.6 1.8 3.4 1.8-1.5 1.8 3.9 1.8-3.1 1.8-1.7 1.8 3.6 1.8-11.3 1.8 11.7 1.8-2.9 1.8-3.1 1.8 1.1 1.8 1.8 1.8-11.9 1.8 12.5 1.8-6.8 1.8 4.4 1.8-3.5 1.8-0.4 1.8 2.3 1.8-2.2 1.8-1.1 1.8-3.3" stroke="#0000bf"/>
<path d="M691.5 894.7l1.8 12.6 1.8 0.7 1.8-5.5 1.8-1.6 1.8-9.5 1.8 9.1 1.8 7.2 1.8-5.6 1.8 6.8 1.8-4.8 1.8-6 1.8 5.8 1.8 3.3 1.8-3.1 1.8 1.5 1.8 2 1.8-6.5 1.8-9.6 1.8 12.8 1.8 1.9 1.8-4.9 1.8-0.2 1.8-11.1 1.8 14 1.8-1.7 1.8-2 1.8 5 1.8-8.6 1.8-1.3 1.8 7.8 1.8-4.2 1.8 5.1 1.8 0.6 1.8-7.5 1.8-0.7 1.8 4.5 1.8-4.2 1.8 2.9 1.8-5.3 1.8 10.9 1.8-3.7 1.8 4.7 1.8-3.8 1.8-0.2 1.8 4.1 1.8-5.3 1.8-0.5 1.8 2.7 1.8 3 1.8-3 1.8 2 1.8-0.4 1.8-0.7 1.8 2 1.8 2.8 1.8-17.5 1.8 9.4 1.8-6.8 1.8 8.1 1.8 7.6 1.8-3.7 1.8 3.9 1.8-1.7 1.8-4.9 1.8 0.5 1.8 4.6 1.8 0.7 1.8-2.6 1.8 0.8 1.8-1.5 1.8-0.4 1.8 1.7 1.8-0.3 1.8 2.5 1.8-1.6 1.8-1.9 1.8-7.2 1.8 8.9 1.8-3.5 1.8 0.6 1.8-0.8 1.8 2.2 1.8-4.6 1.8 4.1 1.8-4.9 1.8-4.4 1.8-5 1.8 10.1 1.8-2.9 1.8 4 1.8 1.7 1.8-5.1 1.8-1.1 1.8 1.4 1.8 7.9 1.8-8.8 1.8 6.5 1.8 2.7 1.8-3.6 1.8-0.4 1.8-0.7 1.8 5.4 1.8-7.1 1.8-0.1 1.8 4.5 1.8-4 1.8 2.1 1.8-5.5" stroke="#0000bf"/>
<path d="M1455 897.8l1.8 6.4 1.8-0.2 1.8 7.5 1.8-4.2 1.8 0.9 1.8-2 1.8-0.3 1.8-4.9 1.8 12.5 1.8-4.7 1.8-2.7 1.8 0.2 1.8-16.5 1.8 24 1.8 1.1 1.8-9.5 1.8 0.2 1.8 0 1.8 3.6 1.8-9.1 1.8 4.9 1.8 5.6 1.8 4.4 1.8 1.3 1.8 2.1 1.8-2.3 1.8-10.3 1.8 12.4 1.8-10.1 1.8 4.8 1.8 1.8 1.8-4.9 1.8 6.3 1.8-14.5 1.8 12.4 1.8-9.3 1.8 12.4 1.8-8.6 1.8 1.6 1.8 5 1.8 0.9 1.8-2.5 1.8 5.4 1.8-1.9 1.8-14 1.8 6.9 1.8-5.7 1.8 5.4 1.8 6.8 1.8-1.7 1.8-0.8 1.8 0.4 1.8-5.9" stroke="#0000bf"/>
<path d="M1563.5 888.6l1.8 2.8 1.8 4.5 1.8-3.7 1.8 5.1 1.8-9.2 1.8-1.2 1.8 9.8 1.8-3.7 1.8-0.8 1.8 5.4" stroke="#0000bf"/>
<path d="M478.3 892.4l1.8-8.3 1.8-0.4 1.8-10.9 1.8 22.3 1.8-7 1.8 2.9 1.8 4 1.8-12.3 1.8 11.6 1.8-3.4 1.8-2.4 1.8 4.8 1.8 1.8 1.8-14.1 1.8 9.2 1.8-6.4 1.8 7.2 1.8 1.6 1.8-0.9 1.8 2.1 1.8-2.6 1.8 0.5 1.8 1.6 1.8-0.5 1.8 4.3 1.8-8.8 1.8-5 1.8 12 1.8-0.3 1.8-1.5 1.8 1.7 1.8-3 1.8 0.9 1.8 2.5 1.8-1.1 1.8 2.9 1.8-0.4 1.8-4.3 1.8-1.2 1.8-3.3 1.8 8.8 1.8-2 1.8-4.7 1.8 6.7 1.8-1.7 1.8 2 1.8-0.4 1.8-2 1.8-2 1.8 5.5 1.8-13.9 1.8 9.8 1.8-6 1.8-5.6 1.8 8.1 1.8 4.6 1.8-0.2 1.8-9 1.8 7 1.8-0.7 1.8-14 1.8 13 1.8 2.6 1.8-3.6 1.8-0.1 1.8 3.6 1.8-4.2 1.8 2.9 1.8-2.4 1.8 3.5 1.8-13.2 1.8 0.5 1.8 7.2 1.8 1.5 1.8 3.4 1.8-2.5 1.8-10.5 1.8 6 1.8 7.2 1.8-9.5 1.8 10.9 1.8-3.1 1.8-6.1 1.8 8.2 1.8-5.7 1.8 7.1 1.8 0.7 1.8-6.4 1.8 0.7 1.8 5.3 1.8-9.8 1.8 10.1 1.8-2.9 1.8 1.9 1.8-1.8 1.8 1.5 1.8-2 1.8 3.3 1.8-8.5 1.8 11 1.8 1.7 1.8-5.7 1.8 1.8 1.8-4.6 1.8 6 1.8-2.5 1.8 3 1.8-3.8 1.8 3.3 1.8-5.3 1.8 0.7 1.8 1 1.8 5.1 1.8 0.4 1.8-17.9 1.8 8.4 1.8 7 1.8-0.7 1.8-9.2 1.8 10.5 1.8-1.6 1.8-3.1 1.8 2.5 1.8-13.6 1.8 2 1.8 12.5 1.8-12.8 1.8 7.8 1.8 5 1.8-10 1.8 2.3 1.8-3.5 1.8 10.6 1.8-14.9 1.8 11.6 1.8-3.2 1.8 3.9 1.8 1.1 1.8-2.4 1.8-4.9 1.8 2.8 1.8 1.2 1.8-6.6 1.8 6.9 1.8 1.4 1.8 2.4 1.8-6.1 1.8 4.8 1.8-0.7 1.8-6.5 1.8 2.2 1.8 5.2 1.8-5 1.8 5" stroke="#0000df"/>
<path d="M1341.7 900.8l1.8-1.4 1.8 5.7 1.8 0.3 1.8-3.4 1.8 5 1.8-5.7 1.8 3.7 1.8 2.1 1.8-3.3 1.8-4.2 1.8 10.3 1.8-2.9 1.8-3 1.8-0.5 1.8-1 1.8-15 1.8 21.2 1.8-7 1.8 1.4 1.8-0.2 1.8 8.4 1.8-5.1 1.8 1.7 1.8-0.4 1.8 4.1 1.8-4.1 1.8 2.3 1.8-0.4 1.8 2.1 1.8-3.1 1.8-14.6 1.8 15.6" stroke="#0000df"/>
<path d="M1410.1 887.7l1.8 6.2 1.8 4.1 1.8-7.8 1.8 1.1 1.8 2.7 1.8-6.5 1.8 7.4 1.8-8.2 1.8 10.3 1.8 0.5 1.8-11.9 1.8 8.4 1.8 5.2 1.8-3.5 1.8 5.4 1.8-3.8 1.8-12.2 1.8 12.2 1.8-5.3 1.8 8.1 1.8-32.2 1.8 23 1.8 7.7 1.8-9.6 1.8-0.3 1.8 3.3 1.8 4.4 1.8 0.1 1.8 4.6" stroke="#0000df"/>
<path d="M695 894.8l1.8 0.2 1.8-9.7 1.8 10 1.8-2.8 1.8-2 1.8 6 1.8-3.6 1.8 1.5 1.8-15.3 1.8 17.9 1.8-13.7 1.8 10.9 1.8 4.5 1.8-1.1 1.8-0.8 1.8-14 1.8 15.2 1.8 0.2 1.8 2.6 1.8 4.4 1.8-1.2 1.8-0.2 1.8-3.8 1.8 1.5 1.8-6.8 1.8 4.6 1.8 0.5 1.8 4.3 1.8-2.4 1.8 0.1 1.8 2.9 1.8-8 1.8 5.6 1.8-4 1.8 4.8 1.8-11.2 1.8 11.6 1.8-5 1.8 5.9 1.8-2.1 1.8-7.5 1.8 3.6 1.8 4.8 1.8-3.2 1.8 2.7 1.8-1.8 1.8-1.7 1.8 3.4 1.8-8.1 1.8-7.2 1.8 5 1.8-4.3 1.8 7.3 1.8 6.4 1.8-3.8 1.8 3.4 1.8-18.1 1.8 15.3 1.8-8.1 1.8 8.9 1.8 0.7 1.8 2 1.8-7.3 1.8 6.3 1.8-2.3 1.8-0.6 1.8 1.4 1.8-3.5 1.8 2.1 1.8 1.2 1.8-1.5 1.8 2.6 1.8-3.6 1.8 6.4 1.8-5.1 1.8 0.6 1.8 5 1.8-12.5 1.8 12.3 1.8-8.2 1.8 3.9 1.8 1.5 1.8 1.2 1.8-6 1.8 1.5 1.8 0.4 1.8 4.2 1.8-4.8 1.8-0.9 1.8 4.1 1.8 3.1 1.8-5.7 1.8 0.3 1.8-4.5 1.8 5 1.8 6.9 1.8-2.3 1.8 2.1 1.8-17.8 1.8-0.7 1.8 13.9 1.8-1.3 1.8 4.4 1.8-4.8 1.8 3.4 1.8-0.6 1.8 2.4 1.8 5 1.8-7 1.8 6.6 1.8-3.9 1.8 4.6 1.8-1.8 1.8 1 1.8-1.2 1.8-8.1 1.8 5.5 1.8 2 1.8-5.5 1.8-5.2 1.8 10.2 1.8-5.7 1.8 3.9 1.8-0.9 1.8-1.2 1.8 3.9 1.8-2.1 1.8 2.5 1.8-3.4 1.8-10.1 1.8 9 1.8-6.5 1.8 2.4 1.8 6.1 1.8-4 1.8-8.7 1.8 8.2 1.8-7.1 1.8 2.4 1.8 0.9 1.8-4.4 1.8 7 1.8-0.6 1.8 1.5 1.8-12.8 1.8 4 1.8 1.4 1.8 5.2 1.8 1.1 1.8-4.8 1.8-1 1.8 1.5 1.8 6.4 1.8-0.1 1.8-2.4 1.8 4.6 1.8-1.8 1.8-0.3 1.8 1.9 1.8-0.2 1.8-11.3 1.8 10.1 1.8-0.5 1.8 2.8 1.8-5.7 1.8 6.3 1.8 2 1.8-11.3 1.8 1.6 1.8 1.8 1.8 6.2 1.8-2.2 1.8 3.8 1.8-1.3 1.8-8.2 1.8-3.9 1.8 3.7 1.8 3.1 1.8-4.7 1.8 5.5 1.8-5.8 1.8 6.2 1.8-3.3 1.8 2.4 1.8-1.6 1.8 2.5 1.8-2 1.8 3.1 1.8-1.5 1.8-1.2 1.8-5 1.8-1.3 1.8 3.9 1.8 3.1 1.8 0.8 1.8-7.8 1.8 8.6 1.8-12 1.8 3 1.8 5.1" stroke="#0000ff"/>
<path d="M190.5 898.1l1.8-1.8 1.8 6.9 1.8-16.8 1.8 8.1 1.8 1.6 1.8 5.5" stroke="#0020ff"/>
<path d="M597.2 893.2l1.8-8.8 1.8 5.4 1.8-6.1 1.8 0.3 1.8-8.4 1.8 17.4 1.8 0.6 1.8-5.9 1.8 7 1.8-3.3 1.8-5.8 1.8 7.4 1.8-2.5 1.8-1 1.8 2.1 1.8 2.1 1.8-9.8 1.8 11.1 1.8-1.4 1.8-3 1.8-1.6 1.8-3.8 1.8 5 1.8-4.7 1.8 2.6 1.8 7.2 1.8-2.8 1.8-1.3 1.8-1.6 1.8 1.5 1.8 1.3 1.8 4.3 1.8-8 1.8 4.4 1.8 2.4 1.8 0 1.8 3.5 1.8-9.5 1.8 1.4 1.8 4.1 1.8 0.9 1.8 2 1.8-8.4 1.8 8.2 1.8-7.5 1.8 4.8 1.8 1.5 1.8-2.7 1.8 0 1.8 2.8 1.8 0.4 1.8 2.1 1.8 0.7 1.8-14.7 1.8 10 1.8-2.9" stroke="#0020ff"/>
<path d="M1486.1 899.3l1.8 8.3 1.8-6.8 1.8-2.3 1.8 4.2 1.8-11.3 1.8 1.1 1.8 12.3 1.8-4.8 1.8 0.6 1.8-4.3 1.8 10.6 1.8-6.4 1.8 3.2 1.8-6.2 1.8-1.5 1.8 6.2 1.8 6 1.8-2.8 1.8-3 1.8 3.6 1.8-5.5 1.8 4 1.8 1.6 1.8-0.7 1.8-0.9 1.8-21.9 1.8 21 1.8-5.4 1.8 4.2 1.8 5.4 1.8-2.6 1.8-1.5 1.8-7.1 1.8 10.7 1.8-11 1.8 9.8" stroke="#0020ff"/>
<path d="M1562 888.8l1.8 13.9 1.8-3.7 1.8 1.6 1.8 1.5 1.8-2.1 1.8-0.4" stroke="#0020ff"/>
<path d="M645.1 910l1.8-6.4 1.8-2.4 1.8 4.4 1.8 7.1 1.8-1.2 1.8-0.2 1.8-5.1 1.8 1.1 1.8 4.7 1.8-6.7 1.8-5.1 1.8 8.9 1.8-1.8 1.8-6.7 1.8 7.1 1.8-4.3 1.8 2.8 1.8 2.7 1.8-0.7 1.8-0.4 1.8 0.1 1.8-3.6 1.8-4.2 1.8-1 1.8 9.8 1.8-7.3 1.8 5.5 1.8-6.5 1.8 6.9 1.8-1.2 1.8-1.9 1.8 4.4 1.8-1.8 1.8-2.3 1.8 5.1 1.8-6.1 1.8 2.2 1.8 1.2 1.8-1.5 1.8-0.3 1.8-2 1.8 2.2 1.8 2.9 1.8-0.4 1.8 1.1 1.8-11.1 1.8 10.8 1.8-11.9 1.8 3.2 1.8 6.3 1.8 1.3 1.8-2.5 1.8 0.8 1.8 1.9 1.8-3.2 1.8-0.2 1.8-11.7 1.8 4.4 1.8 11 1.8-17 1.8 11.7 1.8-2.6 1.8-1.3 1.8 9.3 1.8-19.6 1.8 20 1.8-1.7 1.8 1.9 1.8-10.8 1.8 9.8 1.8 4.8 1.8-2.5 1.8-1 1.8 0.8 1.8 0.3 1.8 0.1 1.8 4.2 1.8-11.7 1.8 4 1.8-1.4 1.8 1.2 1.8 5.9 1.8 1.7 1.8-6.6 1.8-2.4 1.8 5 1.8 1.7 1.8-2.7 1.8 2.1 1.8 0.6 1.8-1.9 1.8 0.2 1.8-2.9 1.8 1.8 1.8 0.1 1.8 0.8" stroke="#0040ff"/>
<path d="M1302.1 906.1l1.8-7.5 1.8 4.4 1.8-14.1 1.8 7.9 1.8 8.9 1.8-16.6 1.8 12.9 1.8 1 1.8-0.4 1.8-7 1.8 7.6 1.8 0.5 1.8-5.3 1.8 1.1 1.8 3.4 1.8-3.1 1.8 4.4 1.8-1.2 1.8-1.3 1.8 1.9 1.8-3.2 1.8 3.4 1.8-4.3 1.8 1.3 1.8-1.3 1.8-1.6 1.8-5 1.8 4.2 1.8-2.6 1.8 1.7 1.8-12.7 1.8 13.7 1.8 2 1.8 1.4 1.8-0.9 1.8-5.1 1.8-0.9 1.8 3.2 1.8-0.7 1.8 4.6 1.8-5.6 1.8 1.3 1.8 1.6 1.8-3.4 1.8-14.1 1.8 12.6 1.8-2.6 1.8 7.2 1.8 0.4 1.8 4.8 1.8-5.1 1.8-1.5 1.8 7 1.8 0.3 1.8 1.3 1.8-1 1.8-4.7 1.8-0.2 1.8 0.1 1.8 7.6 1.8-3.5 1.8 3.5 1.8-1.3 1.8 2.1 1.8 0.5 1.8-4.2 1.8-1.8 1.8 0 1.8-4.6 1.8 9.8 1.8-0.6 1.8-0.9 1.8-0.2 1.8 2.5 1.8 0.3 1.8-3.3 1.8-8.7 1.8 5.5 1.8-3.1 1.8-4.8 1.8 1.3 1.8 7.7 1.8-9.2 1.8 6.4 1.8 2.6 1.8 0.1 1.8-3.2 1.8-8.1 1.8 8.1 1.8 1.8 1.8-2.5 1.8-5.7 1.8 5.2 1.8-0.3 1.8-3.1 1.8 2.9 1.8-3.1 1.8 2.4 1.8-2.3 1.8-5.5 1.8-18.2" stroke="#0040ff"/>
<path d="M1610.2 882.3l1.8 6.4 1.8-20.2 1.8 4.4 1.8 15.3 1.8-5.8 1.8-0.9 1.8 1.6 1.8-6.2 1.8 10.1 1.8 2.9 1.8-3.9 1.8-6.6 1.8 0.4 1.8-0.9 1.8 14.1 1.8-6.8 1.8-7.6 1.8 7.5 1.8 2.2 1.8-8.4 1.8 4.7 1.8 7.8 1.8-2.2 1.8-11.3 1.8 10.9 1.8 4.6 1.8 0.6 1.8-13.1 1.8 12.9 1.8 1.9 1.8-3.6 1.8 4 1.8 0.1 1.8-5.5 1.8 6.9 1.8-3.5 1.8-1.4 1.8 5.4 1.8-0.7 1.8 2.3 1.8-15.2 1.8 9.9 1.8-4.5 1.8 7.2 1.8-2.2 1.8-5.6 1.8 7.5 1.8-2.1 1.8-6 1.8 5.5 1.8-6.7 1.8 9.2 1.8-38.8 1.8 6.3 1.8 23.8 1.8-6.8" stroke="#0040ff"/>
<path d="M209.6 887.8l1.8-9.1 1.8 8.9 1.8 0.2 1.8-0.4 1.8-22.9 1.8 24.3 1.8 0.3 1.8-8.8 1.8 6.6 1.8 3.4 1.8 2 1.8-4.7 1.8 5.9 1.8-5.7 1.8 3 1.8 0.6 1.8-3.1 1.8-0.3 1.8 6.6 1.8-1.7 1.8-7.1 1.8 1.2 1.8 8.3 1.8-6.9 1.8 8 1.8-7.4 1.8 2.3 1.8 2.9 1.8 0.9 1.8-1 1.8 2.8 1.8-0.8 1.8-4.6 1.8 4.1 1.8-1.6 1.8 1.8 1.8 0.2 1.8-3.6 1.8 3 1.8-1.5 1.8-1.3 1.8-4.4 1.8-3.6 1.8 6.7 1.8 5.7 1.8-8.3 1.8 3.1 1.8 3.5 1.8 0.2 1.8 0.5 1.8-3.3 1.8-2.8 1.8 8 1.8-2.1 1.8 1.4 1.8-11.4 1.8 11 1.8 0.5 1.8-1.1 1.8-5.1 1.8-5.6 1.8 7.4 1.8 4.6 1.8-8.4 1.8 8.7 1.8-2 1.8 0.4 1.8-1.3 1.8-6.5 1.8 4.6 1.8-1.8 1.8-2.5 1.8 1.1 1.8 1.5 1.8 4.5 1.8-6.5 1.8 3.4 1.8 2.8 1.8 3.5 1.8-0.1 1.8-7.3 1.8 1.9 1.8 3.3 1.8 2.5 1.8-1.5 1.8 0.3 1.8-7.3 1.8 3.7 1.8-8.2 1.8 7.4 1.8 2.5 1.8-25.6 1.8 25.1 1.8-8.4 1.8 9.5 1.8 0 1.8-1 1.8-7.5 1.8 4.4 1.8 3.1 1.8-7.5 1.8 2.6 1.8 1.7 1.8-4.4 1.8 4.8 1.8-0.8 1.8 3.2 1.8-3.7 1.8-10.3 1.8 3.4 1.8-9.2 1.8 15.6 1.8 5.3 1.8-4.9 1.8 2.2 1.8-5.4 1.8 7 1.8-5.3 1.8 3.9 1.8 1.1 1.8-9.6 1.8-2.6 1.8 8.3 1.8 1.9 1.8-16.3 1.8 20 1.8-1.7 1.8-5.8 1.8 0.3 1.8 4.8" stroke="#0060ff"/>
<path d="M790.7 887.1l1.8 20.2 1.8-6 1.8 5.1 1.8-10.9 1.8 2.1 1.8 11.1 1.8-13.5 1.8 4.2 1.8 4.5 1.8-0.3 1.8 1 1.8-7.5 1.8 8.6 1.8-0.6 1.8 1.6 1.8-0.9 1.8-0.8 1.8-19.4 1.8 19.5 1.8 0 1.8-1.5 1.8-2.8 1.8 0.3 1.8 0.3 1.8-5.3 1.8 4 1.8 3.5 1.8-1.7 1.8-9.2 1.8-5.7 1.8 1.7 1.8 11.8 1.8 1.5 1.8-3.3 1.8 0.6 1.8-13 1.8 0.8 1.8 9.2 1.8 0.3 1.8-1.6 1.8-3.2 1.8 4.3" stroke="#0060ff"/>
<path d="M938.3 903.5l1.8-1.9 1.8 3.6 1.8-3.1 1.8 1.2 1.8-4.2 1.8 6.4 1.8-6.2 1.8 5.4 1.8 2.2 1.8 1.7 1.8-18 1.8 4.5 1.8 10.3 1.8 4.6 1.8 0.5 1.8-6.8 1.8 5.7 1.8-4.8 1.8 7 1.8-1.2 1.8-2 1.8 5.8 1.8-7.5 1.8 4.9 1.8 1.9 1.8-4.2 1.8-3.9 1.8-2.4 1.8-0.1 1.8 7.6 1.8-5.8 1.8-2.2 1.8 7.2 1.8 4.7 1.8-8.8 1.8 6.6 1.8-6.3 1.8 0.1 1.8-1.4 1.8-1.1 1.8 4 1.8 5.2 1.8-5 1.8 3.9 1.8 0.2 1.8-13 1.8 9.6 1.8 1.6 1.8-3 1.8 1.3 1.8 1.4 1.8-9.3 1.8 12.2 1.8-5.7 1.8-2.3 1.8-1.7 1.8-4.2 1.8 11.5 1.8-0.9 1.8 2.5 1.8-11.4 1.8 3.2 1.8 3.5 1.8 3 1.8-0.7 1.8-11.1 1.8 7.2" stroke="#0060ff"/>
<path d="M1682.4 898.2l1.8-7.1 1.8-4.7 1.8 13.9 1.8-7.2 1.8 7.7 1.8-2.3 1.8 4.4 1.8-5.5 1.8-1.7 1.8 6.1 1.8-8.3 1.8-6.5 1.8 1.8 1.8 6.2 1.8 2.8 1.8-7.3" stroke="#0060ff"/>
<path d="M970.5 883.2l1.8 5.5 1.8 0.6 1.8-6 1.8-4.9 1.8-0.7 1.8 12.4 1.8 1.2 1.8-15.2 1.8 7.9 1.8-0.3 1.8 2.6 1.8-16.9 1.8 8.2 1.8 5.5 1.8 8.2 1.8-4.9 1.8-4.3 1.8 4.2 1.8-1.7 1.8 5.8 1.8-1.4 1.8-8.9 1.8 9.9 1.8-8.5 1.8 9.6 1.8-9.6 1.8 2.7 1.8 8.4 1.8-2.6 1.8-1.4 1.8 2.5 1.8 1.2 1.8-6.1 1.8-1.2 1.8 1.5 1.8 4.4 1.8 0.8 1.8-2.5 1.8-0.8 1.8 3.5 1.8-1.2 1.8-2.4 1.8-0.7 1.8 3.8 1.8-10.8 1.8 12.3 1.8-0.2 1.8-3.8 1.8 1 1.8-2 1.8 1.2 1.8-3.6 1.8 6.8 1.8-2.7 1.8-9.9 1.8 12.4 1.8-11.8 1.8 8.7 1.8 0.6 1.8 1.5 1.8 2.8 1.8 0.9 1.8-0.8 1.8-2 1.8-5.5 1.8 9.2 1.8-1.6 1.8-3.7 1.8 2.6 1.8-6 1.8 5.6" stroke="#0080ff"/>
<path d="M695 895l1.8 6.5 1.8-0.7 1.8-3.9 1.8-1 1.8-2.9 1.8-2.2 1.8 6.6 1.8-2.8 1.8 4.4 1.8 4.4 1.8-3.6 1.8 0.5 1.8-12.7 1.8 11 1.8 4.1 1.8-8.5 1.8 4.5 1.8 3.5 1.8-9 1.8 3.1 1.8-4.3 1.8 9.5 1.8-1.6 1.8-4.6 1.8-0.2 1.8-1.1 1.8 4.9 1.8 1.6 1.8-9.6 1.8 4.7 1.8-0.9 1.8 0.2 1.8 3.7 1.8-5.4 1.8 3.5 1.8-3.6 1.8 7.3 1.8-4.4 1.8-0.4 1.8-4.8 1.8 6.3 1.8-8.5 1.8 11.7 1.8 0.5 1.8-7.4 1.8 7.9 1.8-5.4 1.8 2.3 1.8-0.5 1.8 0.9 1.8 4 1.8-13.3 1.8-5.8 1.8-2.3 1.8 21.2 1.8 1.1 1.8-5.1 1.8 3.7 1.8-11.8 1.8 14.5 1.8-5.9 1.8 2.7 1.8 3.4 1.8-8.9 1.8 6.5 1.8 3.2 1.8 0.7 1.8-2.9 1.8-2.8 1.8 4.6 1.8 0.8 1.8-7 1.8 5.5 1.8-4.6 1.8 0 1.8-4.2 1.8 3.5 1.8 1.7 1.8-10.5 1.8 14.7 1.8-2.6 1.8 3.1 1.8-5.3 1.8 5.7 1.8-0.9 1.8-9.8 1.8 5.9 1.8-6.4 1.8 6.8 1.8-1.8 1.8-10.7 1.8 3 1.8-0.1 1.8 11 1.8-6.7 1.8 4.5 1.8-3.7 1.8-1.4 1.8 0.4 1.8-5.2 1.8 6.5 1.8 3.2 1.8-4.1 1.8-7.2 1.8 9.6 1.8-4.6 1.8-13 1.8 16.5 1.8-1.6 1.8-1.7 1.8-5.5 1.8 7.2 1.8 1.2 1.8-9.4 1.8 10.1 1.8-3.2 1.8-0.3 1.8-4.5 1.8 7.2 1.8-1.6 1.8 3.3 1.8-13.9 1.8 4.7 1.8 3 1.8 6.1 1.8-3.4 1.8 2.6 1.8-0.5 1.8-0.4 1.8 1.6 1.8 0.1 1.8-9.4 1.8 3.8 1.8 3.7 1.8 0.4 1.8-10.3 1.8 7 1.8-2.3" stroke="#009fff"/>
<path d="M1571.1 887.1l1.8 1.2 1.8-5.8 1.8-7.7 1.8 9.6 1.8-2.1 1.8 2.4 1.8 2.8 1.8-5.8 1.8-4.6 1.8 10.4" stroke="#009fff"/>
<path d="M242.4 898.8l1.8-7.3 1.8 8 1.8 2.3 1.8-17 1.8 13.5 1.8 5.7 1.8-13.6 1.8 12.2 1.8-0.1 1.8 2.4 1.8-2.6 1.8-1.6 1.8 1.1 1.8-8 1.8 12.2 1.8-10.8 1.8 10.1 1.8-2.4 1.8 2.9 1.8-0.8 1.8-6.1 1.8 6 1.8-4.6 1.8-6 1.8 1.3 1.8 5.9 1.8-1.4 1.8 8.2 1.8-3.8 1.8 0 1.8-0.8 1.8 4.6 1.8-2.5 1.8-1.7 1.8-1.5 1.8 6.8 1.8-4.7 1.8-7.9 1.8 5.7 1.8 0.1 1.8 0.9 1.8-2.5 1.8 5.8 1.8-4 1.8 2.8 1.8-2.5 1.8 5.8 1.8-0.5 1.8-2.8 1.8-3.9 1.8-5.1 1.8-0.6 1.8 13.7 1.8-10.7 1.8 8.6 1.8-3 1.8 0.7 1.8-3.5 1.8 3.5 1.8-1.1 1.8-0.9 1.8 5.2 1.8-2.6 1.8-3.7 1.8-16.7 1.8 16.2 1.8 5.6 1.8-1.2 1.8-0.1 1.8-5.4 1.8 7.1 1.8-2.5 1.8-1.6 1.8-0.6 1.8-7.3 1.8 3.4 1.8 2.1 1.8 4.2 1.8-1.4 1.8-5.7 1.8 1.2 1.8 2.3 1.8 0.7 1.8-11.3 1.8 10.1 1.8-7.9 1.8 2.3 1.8-12.4 1.8 19.4 1.8-9.1 1.8 5.7 1.8 1.9 1.8-6.7 1.8 4.6 1.8 2.6 1.8 0.5 1.8-13.7 1.8 13.4 1.8-7.4 1.8-2.9 1.8 6.3 1.8-0.3 1.8 3.7 1.8-4.3 1.8-1 1.8-4.2 1.8 7.4 1.8 3.2 1.8-5.3 1.8-11.8 1.8-2.9 1.8 18 1.8-0.8 1.8 3.4 1.8-11.9 1.8 8.6 1.8-1.8 1.8 3.4 1.8-1.8 1.8 3 1.8-13.7 1.8 11 1.8-1.1 1.8 2.4 1.8-4.1 1.8 1.4 1.8 1.8 1.8-2.7 1.8-1.3 1.8 3.5 1.8-6.9" stroke="#00bfff"/>
<path d="M665.6 893.9l1.8 3.9 1.8-7.5 1.8 1.2 1.8-4 1.8-0.1 1.8 1.5 1.8 8.3 1.8-13 1.8 2.6 1.8 2.9 1.8 7.6 1.8-9.6 1.8 4.7 1.8 2.5 1.8-9.2 1.8 10 1.8-2.2 1.8-0.1" stroke="#00bfff"/>
<path d="M1105.8 898.4l1.8-0.5 1.8 2.5 1.8-0.1 1.8-0.3 1.8-2.5 1.8-5.6 1.8 10.2 1.8-8.5 1.8 6.4 1.8-5.4 1.8-4 1.8 5.3 1.8 1.7 1.8-0.3 1.8 4.2" stroke="#00bfff"/>
<path d="M578.1 896.9l1.8-7.4 1.8 7.9 1.8 1.9 1.8-3.1 1.8-1.1 1.8-8.6 1.8 2.9 1.8 6.2 1.8 4.8 1.8-5.7 1.8 0.2 1.8 0.4 1.8-3.3 1.8 5 1.8-13.5 1.8 17.5 1.8-4.5 1.8-5.1 1.8 9.3 1.8 0.1 1.8-5.3 1.8-11.6 1.8 13.7 1.8-1.5 1.8 3.6 1.8 3 1.8-1.4 1.8 1.2 1.8-5 1.8 4.6 1.8-1" stroke="#00ffff"/>
<path d="M1223.5 901l1.8-2.4 1.8 1.2 1.8-4.3 1.8-0.9 1.8 3.9 1.8-3.3 1.8-2.2 1.8-8.4 1.8-9.4 1.8 27.4 1.8-4.8 1.8 3.1 1.8-6.2 1.8-0.4 1.8-3.9 1.8 6.5 1.8-0.6 1.8 3.6 1.8-3.3 1.8 5.8 1.8-5.1 1.8-7.9 1.8 8.1 1.8 1.3 1.8-4.9 1.8 7.4 1.8-6 1.8 3 1.8-0.9 1.8 5.7 1.8-2 1.8-0.6 1.8 2.4 1.8 1.8 1.8-10.3 1.8-0.1 1.8 4 1.8-1.3 1.8-1.5 1.8-1.4 1.8 5.3 1.8 6.2 1.8 0.5 1.8-3.7 1.8 1.3 1.8-3.3 1.8 2.9 1.8-5.3 1.8 7.1 1.8 1.3 1.8 0.2 1.8-6 1.8 6.6 1.8-6.5 1.8 7.6 1.8-6 1.8 2 1.8 0.9 1.8-2 1.8-9.9 1.8 11.9 1.8-0.9 1.8 4.2 1.8 0.2 1.8-1.3 1.8 0.2 1.8-6.6 1.8 8.6 1.8-14.6 1.8 15.6 1.8-1.4 1.8-3.3 1.8-3.7 1.8 1.5 1.8 4.5 1.8 1.8 1.8-6.9 1.8-10.7 1.8 15.2 1.8-5.9 1.8 7.5 1.8 1.4 1.8-6.9 1.8 1.4 1.8-2.5 1.8 7.7 1.8-21.1 1.8 19 1.8 2.9 1.8-7.2 1.8-1 1.8 9.2 1.8-1.4 1.8-6.9 1.8 8.2 1.8 2.7 1.8-8.1 1.8 4.4 1.8-0.9 1.8-0.3 1.8-7.8 1.8 9.2 1.8-4.1 1.8 0.7 1.8 5.4 1.8-4.7 1.8-3 1.8 3.8 1.8 1.4 1.8-13.1 1.8-2.3 1.8 15.9 1.8-2.8 1.8-2.7 1.8 4 1.8 1.6 1.8-4.4 1.8 1.5 1.8-1.1 1.8-2.2 1.8 7 1.8-1.9 1.8 1.7 1.8-2.6 1.8-6.3 1.8-5.9 1.8 10.1 1.8-13.2 1.8 13.1 1.8-2.3 1.8 3 1.8-0.3 1.8-12.6 1.8 8.2 1.8 5.6 1.8-6 1.8-0.6 1.8 5.5 1.8-21.9 1.8 18.4 1.8 0.7 1.8-26.4 1.8 24.4 1.8-14.8 1.8 11.3 1.8-5.9 1.8 1.4 1.8 5.3 1.8-12.9 1.8 10.6" stroke="#00ffff"/>
<path d="M923.3 917.2l1.8-11.5 1.8-9.4 1.8 17.1 1.8-5.5 1.8 4.9 1.8 3 1.8-5.6 1.8 3.1 1.8-11.1 1.8 8.9 1.8 4.2 1.8-2.1 1.8-5.8 1.8-1.8 1.8 3.4 1.8-3.1 1.8 4 1.8-11.6 1.8 9.6 1.8 0.7 1.8-5.5 1.8-0.2 1.8-5.7 1.8 3 1.8 4.6 1.8-2.8 1.8 3 1.8-0.5 1.8 1.4 1.8-9.8 1.8 8.3 1.8-10.5 1.8 8 1.8-6.9 1.8 3.3 1.8-9.6 1.8 12.3 1.8-1.4 1.8 3.8 1.8-1 1.8-2.9 1.8 1.8 1.8-7.5 1.8 4.2 1.8 3.3 1.8-0.9 1.8 0.9 1.8-11.5 1.8 16.2 1.8-6.1 1.8 5.9 1.8-16.5 1.8 18.4 1.8-2.3 1.8-2.5 1.8-7.4 1.8 8.9 1.8 7.2 1.8-4.1 1.8 3.5 1.8-3.1 1.8-3.6 1.8 9.8 1.8-12.7 1.8 3.1 1.8 11.5 1.8-3.8 1.8-9.9 1.8 13.4 1.8-1.3 1.8 1.1 1.8-8.9 1.8 10 1.8-0.9 1.8-3.9 1.8 0.6 1.8-2.4 1.8-2.1 1.8 8.4 1.8-0.1 1.8-0.4 1.8-2.4 1.8 1.9 1.8-4.8 1.8 5.7 1.8-1.7 1.8-1.2 1.8-1.7 1.8-0.4 1.8-0.4 1.8 5.8 1.8-9.7 1.8 6.3 1.8 0.4 1.8-1.3 1.8-2.9 1.8 1.8 1.8-6.1 1.8 6.7 1.8 2.5 1.8 0.7 1.8-2 1.8-2 1.8-5.9 1.8 1.4 1.8 3.7 1.8-17.9 1.8 15.9 1.8 3.7 1.8-5 1.8-0.2 1.8 5.6 1.8-2.9 1.8-5.3 1.8 4.8 1.8 1.4 1.8-3.8 1.8 5.7 1.8-9.8 1.8 6.7 1.8 5.5 1.8-11.2 1.8 3.1 1.8-0.6 1.8 1.1 1.8 7.8 1.8-3 1.8-4.4 1.8 5.8 1.8-5.6 1.8 1.3 1.8-5.8 1.8 8.1 1.8-9.7 1.8 6.9 1.8 1.9 1.8-4.8 1.8 5.2 1.8 3.3 1.8-3.1 1.8 0.7 1.8 2.5 1.8-3.4 1.8 0.9 1.8-1 1.8-2.1 1.8 3.8" stroke="#20ffdf"/>
<path d="M267 897.2l1.8-3.1 1.8-4.4 1.8-4.8 1.8 10.8 1.8-5.9 1.8 3.6 1.8 2.9 1.8-50.5 1.8 26.2 1.8 23.4 1.8 2.9 1.8-5.6 1.8-7.4 1.8 13.9 1.8-1.5 1.8 1.2 1.8-9.4 1.8 6.9" stroke="#40ffbf"/>
<path d="M349 909.4l1.8 3.4 1.8-8 1.8 4.8 1.8-0.2 1.8-1.1 1.8 6 1.8-2.2 1.8-0.6 1.8-2.8 1.8 2.8 1.8-0.9 1.8 0.5 1.8-3.2 1.8-0.8 1.8-1 1.8 5.6 1.8-1.8 1.8-3.5 1.8 1.9 1.8-4.1 1.8 3.4 1.8 0.3 1.8 5.5 1.8 1.4 1.8-2.6 1.8-2.9 1.8-4 1.8-4.6 1.8 7.6 1.8 2.2 1.8-2.1 1.8-22.6 1.8 22.4 1.8 2.2 1.8-6.1 1.8 7.3 1.8-1.7 1.8-7.5 1.8 7.7 1.8-11.7 1.8-1.2 1.8 8.5 1.8-4.6 1.8 6.1 1.8-0.1 1.8-3.8 1.8-2.6 1.8 6.5 1.8 1.8 1.8 1.2 1.8-5.9 1.8-12.9 1.8 13.5" stroke="#40ffbf"/>
<path d="M985.5 894.3l1.8 10.5 1.8-5.5 1.8 3.2 1.8-0.6 1.8-2 1.8-6.3 1.8 9 1.8-5.3 1.8-5.7 1.8 7.9 1.8-0.5 1.8-0.3 1.8-4.5 1.8 3.8 1.8-2.3 1.8 5.8 1.8-13.1 1.8 11.5 1.8 2.6 1.8-1.4 1.8-10.8 1.8 10.6 1.8-15.8 1.8 11.8 1.8-5.4 1.8 1.4 1.8 3 1.8-3.8 1.8 3.1 1.8 1.8 1.8-11.2 1.8-0.5 1.8 10.3 1.8-5.6 1.8 4.8 1.8-3.8 1.8-1.2 1.8-2.4 1.8-1.6 1.8 5 1.8-2.8 1.8 3.7 1.8 2.4 1.8 0.9 1.8-3.5 1.8-0.1 1.8-0.2 1.8-1.1 1.8 0.3 1.8 1.3 1.8 1.5 1.8 0.2 1.8-1.4 1.8 2.9 1.8-7.7 1.8 8.5 1.8-11.5 1.8 12 1.8-2 1.8-4.3 1.8-2.2 1.8 3.8 1.8-3.2 1.8-4.4 1.8 14.8 1.8-3.2 1.8 3 1.8-3.8 1.8-1.6 1.8 5.2 1.8-1.5 1.8-3.6 1.8-3.1 1.8 9.2 1.8-6.2 1.8 4.9 1.8-1.1 1.8-1 1.8 0.5 1.8-7.8 1.8 4.2 1.8 4.4" stroke="#40ffbf"/>
<path d="M1168.7 887.5l1.8-5.7 1.8 16.7 1.8 0.8 1.8-0.9 1.8-0.2 1.8-11.1 1.8 5.3 1.8 8.5 1.8-14.4 1.8 6.8 1.8 5.9 1.8-17.8 1.8 12.5 1.8 2.6 1.8-6.4 1.8 7.4 1.8-14.6 1.8-3.7 1.8 9.4 1.8-8.8 1.8-1.6 1.8 15.2 1.8 5 1.8-1.6 1.8-12.2 1.8 9.8 1.8 0.1 1.8 1.7 1.8 1.1 1.8 1.8 1.8-2.3 1.8 3.3 1.8-4.3 1.8 3.1 1.8-4.3 1.8-0.9" stroke="#40ffbf"/>
<path d="M212.3 903l1.8-5.4 1.8 5.8 1.8-2.8 1.8 3.7 1.8-3.2 1.8 2.2 1.8-10.3 1.8 10.7 1.8 0.6 1.8-2.5 1.8-2.1 1.8 2.3 1.8 3.5 1.8-3 1.8 1.9 1.8-5.2 1.8 4.8 1.8-3.9 1.8 4.3 1.8 0.9 1.8 0.3 1.8-6.7 1.8 5.5 1.8 2.1 1.8-2.9 1.8-8.9 1.8 7.2 1.8 2.2 1.8-5.5 1.8 1.7 1.8 3 1.8-7.6 1.8-3.6 1.8 12.2 1.8-9.9 1.8-1.5 1.8 3.3 1.8 7.9 1.8-6.9 1.8 4.2 1.8-4.1 1.8 1.3 1.8 3.1 1.8-4.3 1.8-9.9 1.8 4.8 1.8 6.3 1.8-2.1 1.8-1.7 1.8-2.9 1.8-8.5 1.8 15.2 1.8-1.4 1.8-0.3 1.8 1.9 1.8 1.9 1.8-8.3 1.8 3 1.8 3.4 1.8-2.9 1.8-0.1 1.8 2.2 1.8-5.7 1.8-2.4 1.8 5.9 1.8 5.6 1.8-0.9 1.8-0.8 1.8-1.6" stroke="#60ff9f"/>
<path d="M982.8 897.9l1.8 7.4 1.8-7.6 1.8 9.6 1.8-4.1 1.8-4.8 1.8-4.9 1.8 7.7 1.8-6.7 1.8 9.5 1.8-0.7 1.8-2.9 1.8 4.2 1.8-4 1.8-8.2 1.8 10 1.8 2.4 1.8-3.1 1.8-0.9 1.8-2.7 1.8 5.2 1.8 1.1 1.8-4.3 1.8-0.4 1.8-22.1 1.8 21.8 1.8 4.7 1.8-6.1 1.8 5.5 1.8 1.1 1.8-3.7 1.8 3.1 1.8-1.1 1.8 3.3 1.8-4.4 1.8-0.9 1.8 4.9 1.8-2.9 1.8 3.2 1.8-11.1 1.8-1.3 1.8 9 1.8 4.2 1.8-0.9 1.8-10.2 1.8 4.5 1.8-6.7 1.8 0.2 1.8-3.3 1.8 10.2 1.8-2.9 1.8 4 1.8 0.1 1.8 2.4 1.8-15.6 1.8 12.7 1.8 0.7 1.8-11.2 1.8-1.1 1.8 8.9 1.8-1.2 1.8 4.9 1.8-9 1.8 0.3 1.8-9.4 1.8-1.6 1.8 15.7 1.8-0.7 1.8-4.1 1.8 5.7 1.8-4.5 1.8 6.1 1.8-6.8 1.8-7.3 1.8 15.2 1.8-11 1.8 5.2 1.8 3.5 1.8 0.3 1.8-5.9 1.8-2.1 1.8 8.5 1.8 2 1.8-1.5 1.8 1.8 1.8 0.8 1.8-17.1 1.8 19.1 1.8-2.7 1.8-1.9 1.8-8 1.8 9.7 1.8 0.8 1.8 1.3 1.8-5.4 1.8 3.5 1.8 0.9 1.8-2.2 1.8 0.8 1.8-1.8 1.8 4 1.8-5.9 1.8 1 1.8 4.9 1.8-12.7 1.8 9.7 1.8-6.5 1.8-0.2 1.8-5.8 1.8 14.4 1.8-4.5 1.8 1.8 1.8-5.1 1.8-7.4 1.8 11.6 1.8-0.7 1.8 0.6 1.8 1.2 1.8-4.3 1.8 3 1.8-4.4 1.8 1 1.8-6.5 1.8 7.1 1.8 0.8 1.8-5.4 1.8 4.2" stroke="#60ff9f"/>
<path d="M190.5 906.7l1.8-3 1.8-5.9 1.8 5.8 1.8 3.8 1.8-2.4 1.8-5.2 1.8 0.1 1.8-15 1.8 20.9 1.8-12.9 1.8 11.4 1.8-10.3 1.8 10.4 1.8-7 1.8 9.5 1.8-3.6 1.8 6.5 1.8-6 1.8-0.6 1.8 4.6 1.8-2.6 1.8-4.4 1.8-4.4 1.8 12.3 1.8-2.9 1.8 1.8 1.8 0.6 1.8-3.7 1.8-5.3 1.8 3.6 1.8 2.5 1.8-3.6 1.8 7.3 1.8-0.7 1.8-3.8 1.8 5.1 1.8-5.1 1.8 3.7 1.8 2.1 1.8 4 1.8-2.6 1.8 3.4 1.8-1.8 1.8-5.2 1.8-9.7 1.8 16.7 1.8-0.2 1.8 0.4 1.8-3.9 1.8-4.6 1.8 3.2 1.8 7.5 1.8 0.6 1.8-8.2" stroke="#80ff80"/>
<path d="M785.9 893.6l1.8 6.6 1.8-0.1 1.8 5.4 1.8-14.1 1.8 14.8 1.8-2.5 1.8 1.9 1.8-5.8 1.8 4.9 1.8-0.4 1.8-0.7 1.8 2.7 1.8-9.2 1.8 7 1.8 2.3 1.8 1.1 1.8-1.1 1.8-4.8 1.8 3.1 1.8-5.6 1.8 8.4 1.8-25.8 1.8 25.6 1.8-11.2 1.8 10.6 1.8-0.1 1.8-2.3 1.8-3.4 1.8 1.4 1.8 4.4 1.8-1.6 1.8-4.7 1.8 4.7 1.8 1 1.8 1.1 1.8 2.4 1.8-4.8 1.8-5.5 1.8 2.5 1.8 1.9 1.8 0.2 1.8 2.5 1.8 2.3 1.8-4.3 1.8 0.7 1.8-2.5 1.8 3.3 1.8-2.1 1.8-3.4 1.8 2.9 1.8-2.6 1.8 6.3 1.8-18.7 1.8 14.7 1.8-0.2 1.8 0.1 1.8 2.7 1.8-0.8 1.8-6.4 1.8-3.7 1.8 7 1.8-1 1.8 3.8 1.8 0.4 1.8-8.7 1.8 1.4 1.8-3.2 1.8 9 1.8 3.3 1.8-2.7 1.8-6.7 1.8-5.2 1.8 14.9 1.8-7.6 1.8 6.5 1.8-7.3 1.8 7.6 1.8 1.6 1.8-1.5 1.8-1.1 1.8-4.9 1.8 6.8 1.8 0 1.8-3.1 1.8-3.9" stroke="#80ff80"/>
<path d="M1120.2 900.7l1.8 4.9 1.8-2.6 1.8 1.4 1.8-7.1 1.8 7.3 1.8-0.4 1.8-14.3 1.8 3.7 1.8 5.3 1.8 6.5 1.8-1 1.8-8.2 1.8-2 1.8-12.8 1.8 18.7 1.8 1.8 1.8-1 1.8 5.5 1.8-3.9" stroke="#80ff80"/>
<path d="M1623.7 890.5l1.8 0.9 1.8-3.1 1.8 7.9 1.8-3.6 1.8 1.4 1.8-7.4 1.8 4.6 1.8 3.2 1.8-8.2 1.8 2.5 1.8 2.2 1.8 5.8 1.8 0.3 1.8-9.7 1.8-3.5 1.8 4.9 1.8 5.3 1.8-14.7 1.8 7.3 1.8 0.8 1.8 9.2 1.8-11.2 1.8-5.4 1.8 12.5 1.8 6.8 1.8-22.9 1.8 19.2 1.8 1.2 1.8-6.6 1.8 1.7 1.8 2.4 1.8 0.2 1.8 0.9 1.8-17.2 1.8 17.1 1.8 5.1 1.8-6.5 1.8-6.3 1.8 8.7 1.8-11.2 1.8 3.8 1.8-0.5 1.8 7.8 1.8-0.9 1.8-5.6 1.8 9.9 1.8-7.7 1.8-8.6 1.8-4" stroke="#80ff80"/>
<path d="M445.5 898.6l1.8-4.8 1.8 1.9 1.8 1.2 1.8-1 1.8-6.1 1.8 3.2 1.8-1.8 1.8-3.9 1.8-0.5 1.8 10.8 1.8-0.9 1.8-21.2 1.8 18.4 1.8 0.5 1.8-1.6 1.8 3.1 1.8-6.1 1.8-7.7 1.8 7.2 1.8 6.8 1.8-6 1.8-1.2 1.8 4.2 1.8-20.7 1.8 22.3 1.8-8 1.8 5.2 1.8-0.6 1.8-6.6 1.8 5.4 1.8 1.2 1.8 3.9 1.8-1.5 1.8-5 1.8 1.2 1.8 2.9 1.8-8.8 1.8 12.1 1.8-4.2 1.8-4.3 1.8 9.2 1.8 0.8 1.8-0.1 1.8-7.5 1.8-17.4 1.8 12.1 1.8 12.7 1.8-7.3 1.8 7.1 1.8-6.1 1.8 3.2 1.8-1.7 1.8-2.3 1.8-0.6 1.8 5.5 1.8-17 1.8 14 1.8 1.1 1.8 3.7 1.8-7 1.8-15.9 1.8 20.3 1.8-0.6 1.8-2.9 1.8 2.5 1.8 2.6 1.8-3.3 1.8-2.5 1.8 8.2 1.8-12.1 1.8 11.9 1.8 1.1 1.8-4.5 1.8 5.2 1.8 1.5 1.8-5.8 1.8 2.1 1.8 2.7 1.8-2.5 1.8 2.9 1.8-0.7 1.8 2.2 1.8 1.1 1.8-3.4 1.8 2.7 1.8 0.9 1.8-18.5 1.8 18.8" stroke="#9fff60"/>
<path d="M1205 892.2l1.8-11.8 1.8 1.9 1.8 1.1 1.8 5.8 1.8-6.9 1.8 5.1 1.8-6 1.8 0.4 1.8 7.6 1.8-0.5 1.8-7.2 1.8 7.9 1.8-1.3 1.8 0.7 1.8 2 1.8-2.3 1.8 0.1 1.8 2.9 1.8-0.3 1.8-5.1 1.8 4.4 1.8-13.1 1.8 2.3 1.8 9.9 1.8 3 1.8 0.8 1.8-9.1 1.8 3.3 1.8 2.9 1.8 4.8 1.8-12.9 1.8 9.1 1.8-1.6 1.8 4.9 1.8 2.1 1.8 0 1.8-7.7 1.8 5.6 1.8-4.5 1.8 3.6 1.8-2.7 1.8 6.8 1.8-0.6 1.8 0.6 1.8-11 1.8 4.2 1.8 5.1 1.8-0.3 1.8 1.3 1.8 0.6 1.8-1.5 1.8-1 1.8 4 1.8-5.4 1.8 4.3 1.8-4.1 1.8 1.6 1.8 0 1.8 2 1.8-8 1.8 4.1 1.8-5.3 1.8 4.6 1.8-10.3 1.8 6 1.8 0.8 1.8-2.5 1.8 6.1 1.8 1.1 1.8-4.1 1.8 6.8 1.8-4.1" stroke="#9fff60"/>
<path d="M190.5 891.7l1.8 2.5 1.8-0.8 1.8-1.3 1.8-2.9 1.8-3 1.8 8.3 1.8-4.1 1.8 0.2 1.8-0.3 1.8 5.9 1.8-6.6 1.8-1.2 1.8-5.6 1.8 7.9 1.8 5.1 1.8-1.4 1.8 2.2 1.8-1.3 1.8-8.8 1.8 3 1.8 9.9 1.8-6 1.8-4.8 1.8 12.8 1.8-1.7 1.8-5.1 1.8 3.8 1.8-9.4 1.8 8.3 1.8 1.4 1.8-11.2 1.8 6.2 1.8-4.6 1.8 11.4 1.8-12.4 1.8 4.3 1.8-6.9 1.8 10.7 1.8 1.6 1.8-10.1 1.8 5.8 1.8-0.5 1.8-0.5 1.8 0.7 1.8-2.7 1.8 4.3 1.8-7.4 1.8 5.7 1.8 0.8 1.8-3.5 1.8-0.2 1.8 4.6 1.8-1.4 1.8-1 1.8-1.1 1.8-4.7 1.8 2.4 1.8 3.7 1.8-6.4 1.8 1.4 1.8-21.3 1.8 28.3 1.8-3.4 1.8 0.4" stroke="#bfff40"/>
<path d="M926 880.4l1.8 5.8 1.8-4.1 1.8 7.8 1.8-0.4 1.8-2.8 1.8-3.9 1.8 11.5 1.8-3.7 1.8 5 1.8-6.8 1.8 6.8 1.8-1.7 1.8-11.7 1.8 6.1 1.8 0.5 1.8 3.3 1.8-0.2 1.8-7.9 1.8 4.9 1.8 3.9 1.8-7.7 1.8 8.6 1.8-1.9 1.8 0.5 1.8 1.8 1.8-4.3 1.8-0.9 1.8 3.1 1.8-0.4 1.8-7.4 1.8 4.3 1.8 1.9 1.8-0.5 1.8 4.3 1.8-17 1.8 9.7 1.8 3.6 1.8-4.7 1.8-2.9 1.8 4.1 1.8-3 1.8-5.4 1.8-2.1 1.8 6.5 1.8-1.7 1.8-0.8 1.8 11.7 1.8-4.7 1.8 3.2 1.8-13.1 1.8 9.7 1.8-2.5 1.8-2.9 1.8 0.5 1.8 4.7 1.8-1.3" stroke="#bfff40"/>
<path d="M1556 912.5l1.8 0.1 1.8-10.2 1.8 3.4 1.8 1.9 1.8-16.9 1.8 14 1.8-5.3 1.8 10 1.8-3.5 1.8 7.6 1.8-6.1 1.8 1.7 1.8-14.3 1.8 9 1.8-5.2 1.8 12 1.8 1.1 1.8-12.9 1.8 12.1 1.8 1.1 1.8-0.2 1.8 1 1.8 4 1.8-10.4 1.8-0.4 1.8 8 1.8-4 1.8-18.2 1.8 14.8 1.8 2.9 1.8 3.1 1.8-4 1.8-6.6 1.8 7.1 1.8-12.1 1.8 12.1 1.8-24.6 1.8 17.5 1.8 3.1 1.8 2.7 1.8 6.3 1.8-6 1.8-3.9 1.8-0.9 1.8 5.3 1.8-4 1.8 10.6 1.8-3.6 1.8-7.4 1.8-6.6 1.8 15.1 1.8-11 1.8-5.3 1.8 1.8 1.8 0.1 1.8 12.9 1.8-5.9" stroke="#bfff40"/>
<path d="M504.3 893.7l1.8 2.3 1.8 0.2 1.8-1.1 1.8 0.6 1.8-3.6 1.8 4.2 1.8 1.1 1.8 0.2 1.8 0 1.8 0.9 1.8 0.6 1.8 0.9 1.8-21 1.8 1.8 1.8 15.3 1.8-1.7 1.8 8.3 1.8-6.6 1.8 2.9 1.8-0.8 1.8 3.2 1.8-6 1.8 5.6 1.8-3 1.8 1.1 1.8 5.3 1.8-3.8 1.8-2.9 1.8 3.1 1.8-24.5 1.8 24.2 1.8-2.8 1.8-0.1 1.8 4.6 1.8 0.3 1.8-6.3 1.8 3.8 1.8-2.5 1.8 1.6 1.8-1.1 1.8 1.8 1.8-1.3 1.8 1.6 1.8-1.9 1.8 3 1.8-2.1 1.8-10.6 1.8 8.9 1.8 4.3 1.8-4.1 1.8 5.4 1.8-4.1 1.8 4.9 1.8-20.4 1.8 17.8 1.8 2.1 1.8 0 1.8-9.4 1.8 5.2 1.8 2.7 1.8-9.6 1.8 4.2 1.8 0 1.8 6.5 1.8-13.4 1.8 11.6 1.8-1.1 1.8-8.5 1.8 9.1 1.8-5.8 1.8 6.5 1.8 0.4 1.8-2.6 1.8-6.6 1.8 1.9 1.8 3.6 1.8 0.3 1.8 0.3 1.8 1 1.8-4.1 1.8 5.5 1.8-1.3 1.8-2.4 1.8-5.7 1.8 5.1 1.8 1.4 1.8-4.6 1.8-3.5 1.8-4.7 1.8 9 1.8 1.2 1.8-1.8 1.8 3 1.8-1.1 1.8 1.6 1.8-1.4 1.8-2" stroke="#dfff20"/>
<path d="M1167.4 897.9l1.8 8.4 1.8 1.7 1.8-9.2 1.8 11.4 1.8-7.3 1.8 6.1 1.8-3 1.8-3.2 1.8 2.4 1.8-7.3 1.8 5.4 1.8-5.4 1.8 0.2 1.8 6.2 1.8 2.2 1.8-5.3 1.8 0.4 1.8 7 1.8-1.6 1.8-5.3 1.8-1.9 1.8-3.2 1.8 8.2 1.8-4.8 1.8 3.5 1.8-2.1 1.8-1.3 1.8-2.6 1.8 4.9 1.8-0.5 1.8-1 1.8-0.7 1.8-0.1 1.8 0 1.8 2.4 1.8 0.4 1.8-11.2 1.8 3.9 1.8 2 1.8 6.2 1.8-0.3 1.8-2.6 1.8 3.2 1.8-6.2 1.8-6.1 1.8 9 1.8 4.2 1.8-2 1.8 1.3 1.8-1.1 1.8-8.2 1.8 4.4 1.8 1.1 1.8 0.2 1.8-8.1 1.8 10 1.8-0.6 1.8-2.9 1.8 2 1.8-2.2 1.8 4.8 1.8-0.2 1.8-13.8 1.8 15.3 1.8-1.4 1.8-10.4 1.8 3.3 1.8 5.7 1.8 0.3 1.8-1 1.8 0.7 1.8 3.1 1.8 0.9 1.8-6.4 1.8 5.5 1.8 3.4 1.8-8.2 1.8 4 1.8 2.4 1.8-2.7 1.8 0.8 1.8 5 1.8-2.7 1.8-0.2 1.8 4.9 1.8-1.8 1.8-1.5 1.8 0.5 1.8-2.8 1.8 4.7 1.8-2.1 1.8-2.9 1.8 7.7 1.8-8.6 1.8 1 1.8-2.2 1.8 7.1 1.8-1.9 1.8 0.2 1.8-9.9 1.8 9.7 1.8 2.2 1.8-0.5 1.8-5 1.8 2.4 1.8-9.8 1.8 3.5 1.8 6 1.8-2 1.8-11.9 1.8 9.9 1.8-7.5 1.8 1.5 1.8-2.7 1.8 6.4 1.8 2.3 1.8-14.8 1.8 13.7 1.8-6 1.8 0 1.8-4" stroke="#dfff20"/>
<path d="M1673.3 905.2l1.8-7.8 1.8 11.2 1.8-8.4 1.8 8.2 1.8-2.4 1.8 0.5 1.8 0.5 1.8-7.6 1.8 9.7 1.8-3 1.8 2.9 1.8-7 1.8 0 1.8 8.9 1.8-6.8 1.8 0.7 1.8 3.1 1.8-19.9 1.8 20.5 1.8 2.3 1.8-8" stroke="#dfff20"/>
<path d="M772.2 895.1l1.8 9.5 1.8-2.5 1.8 0.5 1.8-0.5 1.8 8.1 1.8-18.4 1.8 19.9 1.8-1.9 1.8-2.1 1.8-2.6 1.8 2.2 1.8 0.6 1.8-4.8 1.8-3.7 1.8 11.8 1.8-9 1.8 1.4 1.8 2.5 1.8 0.1 1.8-3 1.8-5.8 1.8 11.7 1.8-8.1 1.8 7.5 1.8 2.4 1.8-11.1 1.8 7 1.8 0 1.8 3.9 1.8-2.8 1.8-0.8 1.8-9.9 1.8 7.1 1.8 0.3 1.8-10.1 1.8 11.3 1.8-0.1 1.8-9.3 1.8-6.5 1.8 8.1 1.8 1.6 1.8 3.2 1.8 3.2 1.8-0.6 1.8-8.8 1.8 2.7 1.8-0.9 1.8 5.3 1.8 0.5 1.8-2.1 1.8 2 1.8 3.9 1.8-13.9 1.8 8.7 1.8 1.8 1.8 5.4 1.8-12 1.8 3.1 1.8 9.3 1.8-8 1.8 6.8 1.8 2.8 1.8-4 1.8-8 1.8 4.6 1.8 5.8 1.8 0 1.8-0.1 1.8 1 1.8 2.1 1.8-8.2 1.8 3.1 1.8 5.7 1.8-3.4 1.8-0.5 1.8 3.2 1.8-8.1 1.8 4.5 1.8-9.6 1.8 7.3 1.8-2.8 1.8 4.4 1.8-10.1 1.8 4.8 1.8 5.5 1.8-1.6 1.8-0.9 1.8-0.3 1.8-2.1 1.8-7.7 1.8 6.9 1.8 2.3 1.8 3.3 1.8-10.5 1.8 8.8 1.8-11.8 1.8 5.8 1.8 1.9 1.8-6 1.8 9.4 1.8-0.2 1.8-4.6 1.8 2.7 1.8-3.9 1.8 5.4 1.8-0.5 1.8-1.7 1.8 0.4 1.8-2.7 1.8 0.7 1.8-1.7 1.8 3.1 1.8-1.5 1.8-5.8 1.8-5.5 1.8 4.1 1.8 1.6 1.8 5.6 1.8-3 1.8 3.6 1.8 2.1 1.8-6 1.8-7.8 1.8 1.3 1.8 2.7 1.8 8.1" stroke="#ffff00"/>
<path d="M1494.8 894.5l1.8 1.2 1.8 0 1.8 2.6 1.8 0.2 1.8-0.8 1.8-5.1 1.8-10.9 1.8 9 1.8 4.5 1.8-1.1 1.8 0.6 1.8-0.5 1.8 1.8 1.8-6.6 1.8 12.8 1.8-1.7 1.8-14.1 1.8-11.6 1.8 25.6 1.8-9.7 1.8 6.4 1.8-1.1 1.8 9.1 1.8-8.6 1.8 5.9 1.8-3 1.8 4 1.8 4.2 1.8-2.2 1.8-0.8" stroke="#ffff00"/>
<path d="M1572.6 888.9l1.8 3.8 1.8 5.6 1.8-2.6 1.8 3 1.8-4.4 1.8 6.1 1.8-1.4 1.8 2.2 1.8-3.8 1.8-21.8 1.8 25.6 1.8-2.5 1.8-6.5 1.8 0.8 1.8 7.6 1.8-8.9 1.8 4.9 1.8 11.6 1.8-11.7 1.8-14.7 1.8 8.5 1.8-0.1 1.8 20 1.8-17.4 1.8 19.2 1.8-15.2 1.8 11.7 1.8-6.3 1.8 3.8 1.8 3.2 1.8-3.1 1.8-2.5 1.8 7.9 1.8-10.2 1.8 0.8 1.8 8 1.8-4" stroke="#ffff00"/>
<path d="M310.8 910l1.8 2.2 1.8-1.1 1.8 1.7 1.8-12.5 1.8 8.7 1.8-0.4 1.8 3.2 1.8 2.7 1.8-8.9 1.8 2.7 1.8 2.3 1.8-0.6 1.8-3.6 1.8 0.1 1.8 0.9 1.8-0.3 1.8-0.6 1.8-6.4 1.8 11.9 1.8-6.1 1.8 1.9 1.8 5.3 1.8-4 1.8 0.4 1.8 0.9 1.8-10 1.8 2 1.8 7.8 1.8-5.3 1.8-0.8 1.8 7 1.8-10.8 1.8 6.2 1.8 1.1 1.8 3.4 1.8-7.3 1.8 7.6 1.8-2.4 1.8-1.1 1.8 3.6 1.8-5.4 1.8-2.7 1.8 5.5 1.8-5.4 1.8 4.6 1.8-2.4 1.8-2.3 1.8 7.1 1.8 0 1.8-11 1.8 4.5 1.8 7.2 1.8-3.5 1.8 2.5 1.8 0.3 1.8-2.2 1.8-9.3 1.8 5.4 1.8-0.5 1.8 7.7 1.8-8.5 1.8 6.2 1.8 2.2 1.8-1.7 1.8-2.7 1.8 4.6 1.8-4.3 1.8-5.8 1.8 11.7 1.8 0.8 1.8-0.8 1.8-7.5 1.8-3.2 1.8-0.3 1.8 11 1.8-2.3 1.8 1.3 1.8-5.2 1.8-3.5 1.8 0.5 1.8 4.4 1.8 3.1 1.8-2.5 1.8 3.3 1.8-4.5 1.8-5.2 1.8-4.3 1.8 6.8 1.8 1 1.8-3.9 1.8 7.1 1.8-0.5 1.8-15 1.8 12.9 1.8-6.1 1.8 4 1.8-3.8 1.8 0 1.8 9.2 1.8-0.2 1.8 1.7 1.8-2.3 1.8-3 1.8 3 1.8-4.9 1.8-2.6 1.8 3.2 1.8 7 1.8-28.8 1.8 24.7 1.8 2.6 1.8-14.4 1.8 10.8 1.8-0.9 1.8 0.5 1.8 1.4 1.8-9.2 1.8 14.9 1.8-3.1 1.8-2.8 1.8 3.3 1.8-10.3 1.8-5.4 1.8 13.6 1.8 4.1 1.8-10.9 1.8 8.9 1.8-0.8 1.8 2.6 1.8-21.9 1.8 20.6 1.8 0.8" stroke="#ffdf00"/>
<path d="M1205 890.5l1.8-0.2 1.8 3.1 1.8-1 1.8 0.4 1.8-1.5 1.8-0.5" stroke="#ffdf00"/>
<path d="M422.9 884.7l1.8 2.8 1.8-4 1.8-19.7 1.8 26 1.8-16.6 1.8-4 1.8 17.5 1.8 3.3 1.8-8.6 1.8-1.2 1.8 5.5 1.8 4 1.8-5.9 1.8 3.1 1.8-8 1.8 11.2 1.8-11.9 1.8 8 1.8 2.9 1.8-4.2 1.8 4.3 1.8-7.3 1.8 8.9 1.8 1.4 1.8-10.5 1.8-17.6 1.8 21.3 1.8 6.4 1.8-6.2 1.8 3.4 1.8 2 1.8-20.1 1.8 15.3 1.8-0.2 1.8 6.1 1.8-4 1.8 5.1 1.8-1.6 1.8 1.1 1.8-3.7 1.8-1.3 1.8-1.5 1.8 2.8 1.8-12.8 1.8 9.7 1.8 3.9 1.8-1.3 1.8 6.2 1.8-10.9 1.8 8.9 1.8 3.4 1.8-3.4 1.8-23.1 1.8 24.7 1.8-6.7 1.8 2.6 1.8-20.7 1.8 21.6 1.8 2.1 1.8-15.7 1.8 13.1 1.8-22.3 1.8 23.5 1.8 2.1 1.8 1.4 1.8-5.2 1.8 5.2 1.8 1 1.8-2 1.8-2.3 1.8-2.3 1.8-3.3 1.8 9.7 1.8-7.9 1.8 3 1.8-4.3 1.8 7.6 1.8-5 1.8 4.3 1.8 0.5 1.8-8.5 1.8 8.5 1.8-7.4 1.8-0.9 1.8 1.8 1.8-0.2 1.8 6.5 1.8-2.1 1.8-9.5 1.8 10.4 1.8-9.6 1.8-12.7 1.8 20.6 1.8 0 1.8-2.9 1.8 1.6 1.8 0.5 1.8-5.8 1.8 1.4 1.8 3.3 1.8 4.5 1.8-4 1.8-2.5 1.8 1.7 1.8 3.1 1.8-3.6 1.8-0.6 1.8-10.6 1.8 14.7 1.8 2.6 1.8-10.1 1.8 2.5 1.8 5.7 1.8 1 1.8-5.9 1.8 3 1.8 4.5 1.8-3.5 1.8 1.8 1.8 2.3 1.8-6.3 1.8-3.5 1.8-0.7 1.8 6.6 1.8-4.7 1.8 0.7 1.8 0.1 1.8 9 1.8-4.6 1.8-1.6 1.8-4 1.8 5.3 1.8 2.3 1.8-2.6 1.8-1.4 1.8 1.4 1.8-2.7 1.8-0.1 1.8-2.7 1.8 3.5 1.8-1.3 1.8 2.9 1.8-1.4 1.8 1.2 1.8-1 1.8-9.2 1.8 10.4 1.8 0.8 1.8-1 1.8-0.7 1.8-6.4 1.8 9.7 1.8 1 1.8-1.4 1.8-1.6 1.8-2.9 1.8 6.4" stroke="#ffbf00"/>
<path d="M1135.9 902.6l1.8-6.2 1.8 8.9 1.8-2.6 1.8-3.6 1.8 5.6 1.8-1.9 1.8-1 1.8-3.4 1.8 1.3 1.8 3.3 1.8-1 1.8-3.8 1.8 6.8 1.8-8.4 1.8 6.7 1.8-0.3 1.8 1 1.8-0.8 1.8-5.9 1.8 3.1 1.8-6.4 1.8 8 1.8 4.8 1.8-7.6 1.8 0.4 1.8 8 1.8 0.6 1.8-11.4 1.8 11.1 1.8-2.1 1.8 2.8 1.8-7.9 1.8 7.7 1.8 2.1 1.8 2 1.8-8.7 1.8 5.5 1.8 0.8 1.8-19.3 1.8 22.6 1.8-4.3" stroke="#ffbf00"/>
<path d="M1318.5 905l1.8-9.3 1.8 8.4 1.8-3.7 1.8 3.9 1.8-5.8 1.8 0.6" stroke="#ffbf00"/>
<path d="M190.5 887l1.8-1.9 1.8 3.4 1.8-9.8 1.8 4.1 1.8 2.5 1.8 1.4 1.8-7.3 1.8 12.1 1.8 2.5 1.8-9.2 1.8 6.3 1.8-3.5 1.8-2.3 1.8-7.9 1.8 10.2 1.8 0.1 1.8-0.2 1.8-7 1.8 10.5 1.8 0.6 1.8-2.2 1.8 1.2 1.8-19.2 1.8 16.6 1.8-10 1.8 11.8 1.8-16.7 1.8 15.2 1.8-3.2 1.8 5.7 1.8 1.1 1.8-5.9 1.8-3.8 1.8 4.8 1.8-2.8 1.8 1.3 1.8-2.4 1.8 6.1 1.8-3.9 1.8-6.8 1.8 2.1 1.8-3.9 1.8 12.5 1.8-4.3 1.8-0.9 1.8 5.8 1.8-6.8 1.8 7.8 1.8-2.1 1.8 5.3 1.8-3.3 1.8 3.2 1.8-1 1.8-5.8 1.8 2.3 1.8 1.9 1.8-8.6 1.8 7.8 1.8 1.1 1.8 5.4 1.8-4.6 1.8 0.5 1.8 0.6 1.8 1.1 1.8-16.6 1.8 13.3 1.8 7.1 1.8-1.3 1.8-16.8 1.8 6.1 1.8 13 1.8-0.9 1.8-7.6 1.8 1.8 1.8 2.4 1.8-9.8 1.8 11.4 1.8-1.7 1.8 3.1 1.8 1.3 1.8-0.2 1.8 1.1 1.8 1.3 1.8-15.4 1.8 7 1.8 2.3 1.8 5 1.8-5.8 1.8-0.4 1.8 5.7 1.8-3.5 1.8 3.8 1.8 3.2 1.8-1.6 1.8-1.5 1.8 1.5 1.8-9.9 1.8-1.7 1.8 9.2 1.8 1.2 1.8-12.5 1.8 1.5 1.8 7.1 1.8-3.1 1.8 6.3 1.8 0.6 1.8-8.5 1.8 7.1 1.8 0.9 1.8-0.3 1.8-9.7 1.8-5.5 1.8 4.2 1.8 6 1.8 0.2 1.8-1.4 1.8 2.1 1.8-1" stroke="#ff9f00"/>
<path d="M1036.1 900.6l1.8 10.4 1.8-7.4 1.8 3.1 1.8-4.5 1.8 6.5 1.8-4.4 1.8 2.3 1.8 0.6 1.8 0.1 1.8 3.2 1.8-6.4 1.8-1.6 1.8 9.2 1.8-7.6 1.8 2.9 1.8 2.3 1.8 0.1 1.8-1.8 1.8 2.9 1.8-7.6 1.8 4.3 1.8 0.2 1.8-0.8 1.8 7.1 1.8-1.5 1.8-8.1 1.8 1.3 1.8-0.8 1.8 8.6 1.8-9.7 1.8 7.4 1.8-6.5 1.8 5.5 1.8-2.7 1.8-3.1 1.8 1.4 1.8 6.3 1.8-1.8 1.8-0.8 1.8 1.2 1.8 2.3 1.8-7 1.8 6.4 1.8-3.4 1.8 5.2 1.8-2.6 1.8 0.5 1.8-0.7 1.8 0.8 1.8-3.4 1.8 4.4 1.8 1.3 1.8-0.3 1.8-0.6 1.8-10.5 1.8 6 1.8 5.4 1.8-2.5 1.8 1.5 1.8-1.2 1.8 1.9 1.8-3.7 1.8 2.1 1.8-11.2 1.8 11.2 1.8-5.4 1.8 3.1 1.8-8.8 1.8 3.2 1.8 2.1 1.8 1 1.8 2.8 1.8 1.1 1.8 1.6 1.8-1.2 1.8-14.6 1.8 15 1.8 0.7 1.8-4.4 1.8 3.7 1.8-6.1 1.8-4.6 1.8-0.6 1.8 9.4 1.8 1.8 1.8-13.3 1.8 12.4 1.8-3.8 1.8-12.9 1.8 13.9 1.8-11.1 1.8 13 1.8 0.6 1.8-7.7 1.8 6.1 1.8-0.3" stroke="#ff9f00"/>
<path d="M405.1 899l1.8 3.9 1.8-7.3 1.8 6.7 1.8-2.3 1.8-1.5 1.8 4 1.8-4 1.8 6.1 1.8-7.9 1.8 6.2 1.8-6.7 1.8 1.9 1.8-12.5 1.8 8.7 1.8 6.7 1.8 1.5 1.8 0.5 1.8-4.3 1.8-10.6 1.8 10.1 1.8 8.2 1.8-11.3" stroke="#ff8000"/>
<path d="M1107.2 906.9l1.8-3.8 1.8 4.5 1.8-0.6 1.8 0 1.8-8.4 1.8 9.4 1.8 4.6 1.8-2.4 1.8-1.2 1.8 4.5 1.8-6 1.8-3.4 1.8 1.8 1.8 2.6 1.8 4.8 1.8-3.6 1.8-8.2 1.8 9.9 1.8-7.3 1.8-8.3 1.8 15.9 1.8-6.5 1.8 2.1 1.8-15.1 1.8 17 1.8 2.2 1.8-13.7 1.8 14.1 1.8-12 1.8 10.9 1.8-11.5 1.8 8.7 1.8 0.9 1.8 2.4 1.8-22.3 1.8 18.4 1.8-1.1 1.8 0.6 1.8 0.3 1.8-4.6 1.8-1.8 1.8 4.4 1.8-3 1.8 6.1 1.8-5.8" stroke="#ff8000"/>
<path d="M1205 897.8l1.8 8.1 1.8-16.2 1.8 0.7 1.8 12.2 1.8 2.5 1.8-7.2 1.8 6.3 1.8-2.8 1.8 3.9 1.8-3.8 1.8 4.3 1.8-8.4 1.8 9.1 1.8-5.8 1.8-3.8 1.8-0.2 1.8 8.6 1.8-2.2 1.8-2.3 1.8 6.9 1.8-9.9 1.8 0.1 1.8 5.2 1.8-1.5 1.8-3.4 1.8 3.5 1.8 5.5 1.8-9.2 1.8 9.3 1.8-3.3 1.8-4.1 1.8 5.6 1.8 0.3 1.8-1.8 1.8 2.5 1.8 2.2 1.8-3.1 1.8-16 1.8 17.2 1.8-30.2 1.8 31.7 1.8-4.7 1.8-8.2 1.8 9 1.8 4.9 1.8-2.1 1.8-5.8 1.8 6.7 1.8 1.8 1.8 0.8 1.8-3.7 1.8-3.6 1.8-3.7 1.8 5.8 1.8-1.8 1.8-0.2 1.8 0.1 1.8 6.9 1.8-6 1.8 5.2 1.8-4.5 1.8-8.3 1.8 3.6 1.8 2.3 1.8 2.6 1.8 2.3 1.8-0.6 1.8-1.1 1.8 1.5 1.8-1.9 1.8-3.7 1.8-5.1 1.8 13.3 1.8-2.1 1.8-5.7 1.8-1.5 1.8 8.3 1.8-1.8 1.8-3.1 1.8 1.5 1.8-6.3 1.8 2.8 1.8 9.2 1.8-1.5 1.8 1.3 1.8-9.8 1.8 7.6 1.8-3.1 1.8-0.9 1.8-0.4 1.8-3.5 1.8 0.6 1.8 1.7 1.8-0.4 1.8 8.2 1.8-0.6 1.8-1.6 1.8-1.7 1.8-16.1 1.8 21 1.8-2.7 1.8-2.2 1.8 3.4 1.8-12 1.8 4.2 1.8-7.6 1.8 8.4 1.8 6.4 1.8-1 1.8-6.7 1.8 2.5 1.8-6.3 1.8-0.4 1.8 8.9 1.8-13.1 1.8 7.5 1.8 7.7 1.8-34.1 1.8 29.8 1.8-6.9 1.8 3.9 1.8 7.8 1.8-2.2 1.8 3.1 1.8-3.5 1.8-1.5 1.8-0.1 1.8-4.4 1.8 5.8 1.8-4.7 1.8 8.3 1.8-2.7 1.8-1.7 1.8 5.9 1.8-9.4 1.8-2.6 1.8 8 1.8-8.2 1.8 7.8 1.8-2.2 1.8 2.3 1.8 0.5 1.8-39.3 1.8 37.1" stroke="#ff8000"/>
<path d="M1698.9 879.5l1.8 15.7 1.8-5.6 1.8-5.5 1.8 13.2 1.8-3.3 1.8 4 1.8-0.6" stroke="#ff8000"/>
<path d="M440 905.6l1.8 7.4 1.8-5 1.8-2.4 1.8-10.1 1.8 16.4 1.8-23.1 1.8 12.9 1.8 7.9 1.8-10.8 1.8 12.2 1.8 0.3 1.8-1.5 1.8-2.6 1.8 3.1 1.8-4.9 1.8-5.6 1.8 9.3 1.8-3.8" stroke="#ff6000"/>
<path d="M621.8 896l1.8-10.8 1.8 7 1.8 3.8 1.8 3.2 1.8-0.8 1.8-7.6 1.8 10.4 1.8 1.1 1.8-4.3 1.8 2.8 1.8 0.6 1.8-9.2 1.8 7.3 1.8-11.7 1.8 16 1.8-2 1.8-1.9 1.8 2.7 1.8 2.2 1.8-2 1.8-0.6 1.8-4.7 1.8 5.2 1.8 2.9 1.8-6.9 1.8 0.4 1.8 1.7 1.8 5.2 1.8-0.7 1.8-2.9 1.8 0.2" stroke="#ff6000"/>
<path d="M1293.9 912.4l1.8-14.8 1.8 11.5 1.8-10 1.8 9.1 1.8-1 1.8-0.5 1.8 2.4 1.8-7.8 1.8 2.1 1.8 2.4 1.8-4.1 1.8 7.2 1.8-2.2 1.8-1.7 1.8-0.4 1.8-7.9 1.8 4.3 1.8 4.8 1.8 2.3 1.8-1.7 1.8-10.2 1.8 14.6 1.8-5.9 1.8-12.2 1.8 15.4 1.8 2.1 1.8-7.5 1.8 4.8 1.8-9.7 1.8 12.2 1.8 1 1.8-8.1 1.8 9 1.8-7.5 1.8 1.9 1.8 2.7 1.8-3.3 1.8-3.6 1.8-8.6 1.8 17.7 1.8-6.5 1.8 3.9" stroke="#ff6000"/>
<path d="M1455 881.5l1.8 9.1 1.8-6.3 1.8 7 1.8-4.2 1.8 3.6 1.8 4.4 1.8 0.2 1.8-10.3 1.8 0.8 1.8 7.9 1.8-0.1 1.8 3.1 1.8-4.7 1.8-4.3 1.8 9.6 1.8-0.4 1.8-16.3 1.8 0.6 1.8 10.2 1.8 3.6 1.8 2.5 1.8-6.7 1.8 0.4 1.8 4.1 1.8-3.7 1.8-3.8 1.8 8.2 1.8 1.2 1.8 0.3 1.8-3.4 1.8-29.4 1.8 25.2 1.8-1.5 1.8 9.6 1.8-22.1 1.8 9 1.8 1.3 1.8 4.2 1.8 3.5 1.8-12.8 1.8 7.8 1.8 5.1 1.8-0.7 1.8-20.9 1.8 25.2 1.8-0.2 1.8-14.2 1.8 6.8 1.8-1.5 1.8 3 1.8-2.5" stroke="#ff6000"/>
<path d="M1554.5 907.7l1.8 1 1.8 1.4 1.8-8.1 1.8-18.5 1.8 24.6" stroke="#ff6000"/>
<path d="M1706.4 924.7l1.8-1.8" stroke="#ff6000"/>
<path d="M190.5 897.4l1.8 7.4 1.8-10.8 1.8 13.9 1.8-1.7 1.8-11 1.8 11.1 1.8-0.4 1.8-4.1 1.8 8.1 1.8-6.3 1.8-6.2 1.8 5.8" stroke="#ff4000"/>
<path d="M723.7 884.5l1.8 1.7 1.8-4.8 1.8 6.8 1.8-0.7 1.8 0.5 1.8 1.9 1.8-8.8 1.8 4.9 1.8 3 1.8-3.3 1.8-0.2 1.8 3.4 1.8 1.7 1.8-2.2 1.8-0.7 1.8-3.9 1.8-1.9 1.8-1 1.8-14.8 1.8 22.7 1.8-3.1 1.8 1 1.8-6.9 1.8 6.9 1.8-2 1.8-2.5 1.8 6.6 1.8 0.4 1.8-9.3 1.8 11.5 1.8 1 1.8-0.8 1.8-3.9 1.8-0.8 1.8 4.1 1.8-1.6 1.8 0.9 1.8-3.3 1.8 0.6 1.8 2.9 1.8-5.4 1.8 9 1.8-2.8 1.8 3.4 1.8-11 1.8 9.8 1.8-2.9 1.8-2.1 1.8 2.6 1.8-1.9 1.8-18.2 1.8 14.5 1.8 8.4 1.8-4.8 1.8-11.8 1.8 15.1 1.8 1.2 1.8-3.3 1.8 1.5 1.8-15.8 1.8 12.7 1.8 3.1 1.8-2.2 1.8-1.9 1.8 4.6 1.8-7.9 1.8 3.5 1.8 0.6 1.8 2.4 1.8-22.2" stroke="#ff4000"/>
<path d="M1486.1 894l1.8-1.4 1.8-7.6 1.8 11.7 1.8-5.4 1.8 4.8 1.8-4.2 1.8 0.8 1.8 1.8 1.8-6.1 1.8 2.3 1.8 5.6 1.8-24.4 1.8 12 1.8-6.2 1.8 13.6 1.8 3.5 1.8-12.8 1.8 13.8 1.8-5.5 1.8 5.2 1.8-6.2 1.8-3.9 1.8 4.7 1.8-5.1 1.8 11.9 1.8-6.6 1.8 2.4 1.8-3.3 1.8-2.3 1.8 4 1.8-3 1.8 1.8 1.8 5.8 1.8-5.9 1.8 5.1" stroke="#ff4000"/>
<path d="M1581.6 902.2l1.8-2.2 1.8-2.5 1.8 12.5 1.8-12.3 1.8 6.1 1.8-1.9 1.8 1.5 1.8 6.1 1.8-10.6 1.8-0.5 1.8 6.6 1.8-4.4 1.8 6 1.8-2.8 1.8 1.4" stroke="#ff4000"/>
<path d="M1637.2 895.9l1.8-0.4 1.8-12.3 1.8 4.1 1.8 9.5 1.8 1.3 1.8-5.3 1.8 5.2 1.8-0.6 1.8-20.9 1.8 12.9 1.8-9 1.8 14.8 1.8-9.6 1.8 6.8 1.8 4 1.8-15.5 1.8-3.5 1.8 18.7 1.8-1.1 1.8-5.7 1.8 0.5 1.8 4.4 1.8-2.1 1.8-14.3 1.8 2.5 1.8 8.6 1.8-1.2 1.8-3.5 1.8-0.4 1.8 7.1 1.8-2.8 1.8 4.3 1.8-7.9 1.8 6.6" stroke="#ff4000"/>
<path d="M190.5 904.3l1.8-5.6 1.8-2.3 1.8 2.4 1.8 3.2 1.8 0.5 1.8 1.1 1.8-3.9 1.8 1.2 1.8-2.1 1.8-10.2 1.8 9.3 1.8 4.3 1.8-11.3 1.8 0 1.8 8.6 1.8-0.9 1.8-0.4 1.8-5.3 1.8 0.3 1.8 3.6 1.8-1.4 1.8-11.6 1.8 13.2 1.8-7.5 1.8 11 1.8-1.2 1.8-1.2 1.8-3.4 1.8-2.5 1.8 8.8 1.8-8.3 1.8 0 1.8-6.2 1.8 9.4 1.8-4.6 1.8-1.5 1.8-5.3 1.8 17.2 1.8-4.7 1.8 1.9 1.8-9 1.8 12.1 1.8-13.9 1.8-5.1 1.8 19.7 1.8-0.4 1.8-9.8 1.8 8.7 1.8 2 1.8-2.5 1.8 2.2 1.8-1 1.8-2.2 1.8 0.6 1.8 0.7 1.8 5 1.8-3.5 1.8-3.2 1.8-5.1 1.8 9.5 1.8-0.6 1.8 4.2 1.8-7 1.8-0.8 1.8 0.5 1.8 1.6 1.8-1.6 1.8 7.9 1.8-11 1.8 9 1.8-2.3 1.8-2.7 1.8 6.7 1.8-0.7 1.8-2.5 1.8 4.5 1.8-3.8 1.8 4.7 1.8-10.7 1.8 4.2 1.8 2.6 1.8 4.9 1.8-2.9 1.8-0.2 1.8 2.1 1.8-4.1 1.8 3.3 1.8 0.7 1.8-0.9 1.8-3.8 1.8 4.2 1.8-1.4 1.8 1.6 1.8-3.3 1.8 0.8 1.8-8.7 1.8 11.1 1.8-5.9 1.8 4.6 1.8-2 1.8 6.8 1.8-5.9 1.8 1.7 1.8 1.9 1.8-18.7 1.8 2.7 1.8 7.2 1.8 7.7 1.8-1.6 1.8 0 1.8-6.1 1.8-9.5 1.8 16.3 1.8-16.9 1.8 17.6 1.8 0.3 1.8-5.7 1.8 5.1 1.8-0.8" stroke="#ff2000"/>
<path d="M933.6 897.5l1.8-2.8 1.8-7 1.8 2.6 1.8-4 1.8 6.5 1.8-4.3 1.8-25.9 1.8 17.8 1.8 6.3 1.8 0.6 1.8 10.6 1.8-7.5 1.8-6 1.8 5.1 1.8 3.3 1.8 1.5 1.8-0.7 1.8-0.9 1.8 5 1.8-8 1.8-1.6 1.8-3.4 1.8 10.8 1.8-2.1 1.8-5.9 1.8 9.6 1.8-3.3 1.8-1.5 1.8-8.4 1.8 9.9 1.8-4.5 1.8-0.9 1.8-1 1.8 6.4 1.8-0.1 1.8-2.9 1.8 0.6 1.8 1.9 1.8-19.2 1.8 16 1.8-1.4 1.8 6.6 1.8-3.8 1.8 1 1.8 0.7 1.8-13.3 1.8 14.6 1.8-4.6 1.8 1.8 1.8-4.9 1.8 6.4 1.8-0.5 1.8-10.7 1.8 8.8 1.8-6.1 1.8-0.8 1.8 8.4" stroke="#ff2000"/>
<path d="M1659.8 899.4l1.8-3.5 1.8 0 1.8-6.3 1.8-4.5 1.8 9.1 1.8 0.4 1.8-8.7 1.8 9.1 1.8 0.4 1.8 0.1 1.8-1.8 1.8-4.3 1.8-4.7 1.8-0.6 1.8 8.9 1.8 2.3 1.8 3 1.8-2.7 1.8-8.4 1.8 3 1.8 6.2 1.8-4.3 1.8-5.5 1.8-5.9 1.8 8.7 1.8 4.4 1.8-4.1 1.8 1 1.8 5.9" stroke="#ff2000"/>
<path d="M762 881.4l1.8 0.2 1.8 4.5 1.8 1.1 1.8 5 1.8-4 1.8-5.8 1.8 3.7 1.8-6.2 1.8 9.9 1.8 0 1.8-2.3 1.8-0.9 1.8 0.6 1.8 3.1 1.8-4.7 1.8 3.5 1.8-0.8 1.8-22.9 1.8 24.3 1.8-0.8 1.8-1 1.8-3.3 1.8 3.8 1.8-1.5 1.8-11.1 1.8 16.1 1.8-8.1 1.8 4.7 1.8-9.3 1.8 12.2 1.8-11.2 1.8 5.7 1.8 0.4 1.8-0.6 1.8 0.2 1.8 5.8 1.8 0 1.8-5.2 1.8-2.1 1.8 8 1.8-0.7 1.8 0 1.8-9.2" stroke="#df0000"/>
<path d="M1399.1 899.8l1.8-0.8 1.8 2.6 1.8-7 1.8 7.2 1.8 2.7 1.8-0.8 1.8-4.1 1.8 2.4 1.8-3.4 1.8 1.5 1.8 3.8 1.8-6.3 1.8 6.6 1.8-6.5 1.8 4.7 1.8 0.9 1.8 0.3 1.8-15.9 1.8 16.4 1.8-1.2 1.8-6.8 1.8 0 1.8 6.1 1.8-1.9 1.8-2 1.8-0.5 1.8-3.9 1.8-19.2 1.8 20.2 1.8 3.5 1.8-9.7 1.8 1.6 1.8 4.9 1.8 2.7 1.8 7.8 1.8-8.2 1.8-0.2 1.8-5.7 1.8 11.5 1.8 1.5 1.8-13.9 1.8 16 1.8-14.6 1.8 5.5 1.8 10.7 1.8-8.6 1.8 0 1.8 11.5 1.8-21.7 1.8 5.7 1.8 13.5 1.8 2.6 1.8-1 1.8-8.7 1.8 9.6 1.8-5.3 1.8-0.3 1.8-7.8 1.8 15.5 1.8-4.4 1.8-10.3 1.8-21.9 1.8 35.4 1.8 1.2 1.8 1.2 1.8-16.7 1.8 9.9 1.8 3.1 1.8 4.4 1.8-7.2 1.8 4.4 1.8-9.7 1.8 6.5 1.8 2.5 1.8-9.7 1.8-3.8 1.8-8.3 1.8 24.7 1.8-3.5 1.8-17 1.8 10.6 1.8 8.8 1.8-28.9" stroke="#df0000"/>
<path d="M1557.5 888.1l1.8 11.3 1.8-2.8 1.8 3.2 1.8-0.8 1.8-15.5 1.8 13.5 1.8-5.4 1.8 10.9 1.8-3.3 1.8 3.2 1.8-4.2 1.8-1.8 1.8 6.6 1.8 3.2 1.8-5.6 1.8 7.9 1.8-3 1.8 2.5 1.8 2.9 1.8 0.1 1.8-2.5 1.8-18.2 1.8 20 1.8 0.3 1.8-6.7 1.8 10.6 1.8-15.1 1.8 15.7 1.8-19.5 1.8 14.7 1.8-6 1.8-0.7 1.8-1.3 1.8 6.1 1.8 8.8" stroke="#df0000"/>
<path d="M1629.7 895.6l1.8 4.7 1.8 0.3 1.8-4.6 1.8 7.9 1.8-9.3 1.8 2.7 1.8-2.5 1.8 6.1 1.8-19.3 1.8 23.4 1.8-3.2 1.8 0.8 1.8-9 1.8 10.8 1.8-1.9 1.8-7.4 1.8 6.5 1.8 1.2 1.8-7.3 1.8-8.1 1.8 12.9 1.8 3.7 1.8 2.2 1.8-5 1.8-3.2 1.8-0.5 1.8-4.9 1.8 8.2 1.8 6 1.8-3.8 1.8-0.4 1.8 0.7 1.8 0.6 1.8-7 1.8 11.6 1.8-13.9 1.8 10.4 1.8 2 1.8 2.9 1.8-8.7 1.8-10.9 1.8 17.2 1.8-2.3 1.8-15.6 1.8 17.1" stroke="#df0000"/>
<path d="M235.6 902.2l1.8-8.3 1.8-7.5 1.8 15.4 1.8-9.8 1.8 5 1.8 2.2 1.8-5.4 1.8-5.3 1.8 11.6 1.8-7.8 1.8 2.7 1.8 2.2 1.8-5.2 1.8 5.9 1.8-7 1.8 4.3 1.8 3.3 1.8-0.9 1.8-0.7 1.8 2.5 1.8-5.1 1.8 3.1 1.8-1.2 1.8-5.1 1.8 6.3 1.8-3.6 1.8 1.7 1.8 1.6 1.8-0.7 1.8-4.7" stroke="#bf0000"/>
<path d="M853.6 907.7l1.8 0.8 1.8-1.4 1.8-3.5 1.8-1.6 1.8 7.1 1.8-0.5 1.8-17.7 1.8 17.2 1.8-0.6 1.8-3.6 1.8 6.1 1.8-6 1.8-5.6 1.8 7.1 1.8 3.6 1.8-2.4 1.8 3.1 1.8 0.1 1.8 0.7 1.8-10.3 1.8 2.7 1.8 6.8 1.8-2.2 1.8-1.9 1.8 4.9 1.8-31.3 1.8 26.7 1.8 4 1.8-0.5 1.8-7.9 1.8 4.4 1.8 4.7 1.8-2.1 1.8 3.7 1.8-2.6 1.8 1.4 1.8-13.8 1.8 9.6 1.8 3.8 1.8-9.7 1.8-3.3 1.8 6.1 1.8-5.5 1.8 6.2 1.8 0.9 1.8 2.6 1.8-0.4 1.8-9.2 1.8 10.3 1.8 0.4 1.8-6.1 1.8-7.3 1.8 12.4 1.8-2.8 1.8 3.6 1.8-3.7 1.8 2.4 1.8 3.6 1.8-7 1.8 4.2 1.8 2.6 1.8-10.3 1.8 1.8 1.8 6 1.8-25.2 1.8 24 1.8-0.1 1.8-4.1 1.8 4 1.8-0.1 1.8-1 1.8-4 1.8 4.9 1.8-14.4 1.8 2.3 1.8 10.8 1.8-8.9 1.8 9.5 1.8-1.4 1.8-6.2 1.8 8.5 1.8-3.3 1.8 0.8 1.8-0.3 1.8 0.9 1.8-2.4 1.8 1.5 1.8 1.6 1.8 1.1 1.8-1.5 1.8 2.1 1.8-6.9 1.8-7.8 1.8 4.8 1.8-2.3 1.8 10 1.8 0.3 1.8 1.2 1.8-7.4 1.8 2.8 1.8 5.7 1.8-8.7 1.8 4.1 1.8-7.2 1.8 9.5 1.8 1.1 1.8-4.2 1.8 0.9 1.8 2.4 1.8-5.4 1.8 3.2 1.8-4 1.8 7 1.8-4.1 1.8 5.4 1.8-0.4 1.8 0.5 1.8-3 1.8-2.9 1.8 3.2 1.8-0.8 1.8-2.2 1.8 5.4 1.8-6.5 1.8 5 1.8 2.6 1.8-7.2 1.8-5.7 1.8 9.6 1.8 1.8 1.8-16.9 1.8 9.1 1.8 3.7 1.8 0.9 1.8-8.1 1.8 3.4 1.8 0.2 1.8 4.6 1.8-0.6 1.8 4.6 1.8-10.4 1.8-5.9 1.8 11 1.8 1.2 1.8 1.1 1.8 0.3 1.8-5.7 1.8 2.4 1.8 3.9 1.8-7.8 1.8-5.7 1.8 10 1.8-5.3" stroke="#bf0000"/>
<path d="M560.3 908.8l1.8-6.2 1.8 8.4 1.8-1.7 1.8 1.1 1.8-1.9 1.8-3.9 1.8-2 1.8 6.7 1.8-4.2 1.8 1.2 1.8-6.1 1.8 3.3 1.8-3.2 1.8-0.9 1.8 0.2 1.8 8.1 1.8 0.8 1.8-3.2 1.8 3.3 1.8-2.5 1.8-1.9 1.8-6.5 1.8 5.7 1.8-8.7 1.8 10.3 1.8 2.5 1.8-0.9 1.8-8.2 1.8 9.2 1.8-15.9 1.8 15.7 1.8-2.7 1.8 1.3 1.8-7.3 1.8 5.5 1.8-1.5 1.8 2.8 1.8-4.8 1.8 7.1 1.8-3.6 1.8-0.2 1.8 5.8 1.8-2.8 1.8-13.9 1.8 16.2 1.8 0.6 1.8-9.8 1.8 7 1.8 1.2 1.8-3.7 1.8-2 1.8 7.7 1.8-2.3 1.8-2 1.8 3.5 1.8-13.2 1.8 15 1.8-2.4 1.8 1.6 1.8 0 1.8-3 1.8 3.8 1.8-2.7 1.8-2.3 1.8 7.1 1.8-2.5 1.8-4.5 1.8 3.5 1.8 1.7 1.8-9.4 1.8 12.1 1.8-7.2 1.8 0 1.8 3.4 1.8-2.1 1.8-1.5 1.8 7.1" stroke="#9f0000"/>
<path d="M1372.5 900.8l1.8 5.7 1.8-4.4 1.8-1 1.8 3.4 1.8-11.2 1.8 14.1 1.8-2.7 1.8-1.6 1.8 0 1.8 3 1.8-1.1 1.8-5.1 1.8 7.9 1.8-7.7 1.8 6.6 1.8-1.9 1.8 3.8 1.8-9.2 1.8-1.6 1.8 7.8 1.8-0.2 1.8 1.3 1.8 3.4 1.8-3.9 1.8-1.9 1.8-15.7 1.8 15.5 1.8-14.7 1.8 15.4 1.8-1.1 1.8 6.1 1.8-5.6 1.8 5.3 1.8-1.4 1.8-0.1 1.8-4.2 1.8 1.7 1.8 7.2 1.8-11.1 1.8 6.9 1.8-0.5 1.8-12.1 1.8 5.9 1.8 3.4 1.8 2 1.8 5.3 1.8-5 1.8-7 1.8 1.8 1.8 7.2 1.8-5.3 1.8 1 1.8 1.3 1.8 0.8 1.8-2.6 1.8-2.6 1.8 2.6 1.8 6.1 1.8-10.5 1.8 3.3 1.8 3.4 1.8 3.7 1.8-16.4 1.8 15.6 1.8-6.6 1.8 2 1.8 0.9 1.8-0.2 1.8-12.4 1.8-20.6 1.8 28.2 1.8 9.2 1.8-1 1.8-2 1.8-0.1 1.8-7.5 1.8 5.7 1.8 5.3 1.8-17.4 1.8-1.4 1.8 15.2 1.8-5.5 1.8 0.8 1.8 3.2 1.8 0.7 1.8-2.3 1.8-6.6 1.8 7.2 1.8 4.1 1.8-6.4 1.8-12.7 1.8 18.7 1.8-8.3 1.8 0.2 1.8 1.7 1.8 1.2 1.8 4.4 1.8-3.2 1.8 4.6" stroke="#9f0000"/>
<path d="M1569.6 911.9l1.8 7.2 1.8 1.5 1.8-3.3 1.8-17.6 1.8 10.8 1.8 7.2 1.8-1 1.8 1.5 1.8 0.9 1.8-15.3" stroke="#9f0000"/>
<path d="M379.1 904.3l1.8 6.3 1.8-2.6 1.8-9.7 1.8 5.9 1.8-3.5 1.8 9.8 1.8 0.8 1.8-5.7 1.8 0.1 1.8 0.1 1.8 2.8 1.8 3.7 1.8-8.4 1.8 7.2 1.8-4.1 1.8-11.9 1.8 13.9 1.8-6 1.8 7.6 1.8-5.7 1.8 5.3 1.8-1.4 1.8 1.1 1.8 1.7 1.8-12.5 1.8 2.6 1.8 2.7 1.8 2.7 1.8 0.7 1.8-1.2 1.8 5.1 1.8-10.8 1.8 6.6 1.8 1.7 1.8-1.6 1.8 1.8 1.8 3.3 1.8-8.5 1.8 4.2 1.8-0.8 1.8-1.7 1.8 4.9 1.8-11.7 1.8 9.4 1.8 0.6 1.8-0.3 1.8 1.6 1.8 1.8 1.8 2.8 1.8-13.2 1.8 6.7 1.8 4.1 1.8-4.9 1.8 4.7 1.8 2.7 1.8 0.4 1.8-0.5 1.8-2.7 1.8 3.8 1.8 1.4 1.8-4 1.8 0.6 1.8-3.3 1.8 4.8 1.8-7.5 1.8 8.8 1.8 1 1.8-2.6 1.8-2 1.8 1.1 1.8 3.8 1.8-8.5 1.8-4.2 1.8-14.6 1.8 22.5 1.8 2.7 1.8 2 1.8-3.9 1.8-5.5 1.8 5.3 1.8-4 1.8 6.5 1.8-7.4 1.8 4.1 1.8-8.7 1.8 7.6 1.8-3.2 1.8 0.1 1.8-5.2 1.8 8.3 1.8-15.1 1.8 8.9 1.8-10.3 1.8 12.8 1.8-2.6 1.8 6.4 1.8-2.4 1.8-6.9 1.8 4 1.8-1.7 1.8 3.2 1.8-7.2 1.8 3.5 1.8 5.8 1.8 2.5 1.8-10.1 1.8 10.1 1.8 2.9 1.8-7.2 1.8-3.7 1.8 6.9 1.8-5.6 1.8 0.7 1.8 3.5 1.8 3.3 1.8-6.9 1.8 0.5 1.8 0.2 1.8 1.2 1.8 7.4 1.8-4.1 1.8 5.9" stroke="#800000"/>
<path d="M695 906.1l1.8-10.2 1.8 22.9 1.8-1.5 1.8-1.7 1.8-8.6 1.8 6.3 1.8-14.2 1.8 14.1 1.8-1 1.8 8 1.8-4 1.8-0.5 1.8-8.8 1.8 7.1 1.8-9.3 1.8-6.3 1.8 22 1.8-18.1 1.8 17.8 1.8-5.7 1.8-3.6" stroke="#800000"/>
<path d="M1235.1 906l1.8 7.4 1.8-11.4 1.8 8.9 1.8 0.8 1.8 4.2 1.8-2.3 1.8-1.4 1.8 1.7 1.8-2.2 1.8-10.2 1.8 5.4 1.8 4.3 1.8-7.6 1.8-2.4 1.8 8.6 1.8-5 1.8 8.6 1.8-26.4 1.8 24.2 1.8 0.7 1.8-16.4 1.8 6.9 1.8 3.3 1.8 6.2 1.8-0.5 1.8-2.8 1.8 0.9 1.8-5.3 1.8 5 1.8-15.3 1.8 16.2 1.8-0.4 1.8-1.9 1.8 0.6 1.8 4.6 1.8 0 1.8-5.1 1.8-2.6 1.8-2.6 1.8-1.4 1.8 10 1.8-6.4 1.8 7.1 1.8-8 1.8 5.5 1.8 6.3 1.8-5.3 1.8 5.6 1.8-7.6 1.8 2 1.8 8.6 1.8-2.7 1.8-6.7 1.8 1.5 1.8 3.8 1.8 3.4 1.8-3.4 1.8-7.6 1.8 11.4 1.8-4.8 1.8-1.1 1.8 3.3 1.8-3.4 1.8-2.3 1.8 8.9 1.8-6.8 1.8 4.3 1.8-5.3 1.8 4.6 1.8-6.1 1.8 0.3 1.8 1.8 1.8 3.4 1.8-2.4 1.8 2.2 1.8-1.9 1.8 1.6 1.8-4.8 1.8 2.8 1.8-4 1.8 6.4 1.8-2.8 1.8 0.4 1.8 0.5 1.8-5.1 1.8 2 1.8-2.5 1.8 5 1.8-3.8 1.8-2.2 1.8 6.3 1.8-5.2 1.8 5.7 1.8-2.5 1.8 4.2 1.8-3.6 1.8-0.5" stroke="#800000"/>
<path d="M207.4 898.8L208.0 860.2L208.6 898.8" stroke="#0020ff"/>
<path d="M317.1 898.8L317.7 861.5L318.3 898.8" stroke="#bfff40"/>
<path d="M398.4 898.8L399.0 826.9L399.6 898.8" stroke="#ff8000"/>
<path d="M487.1 898.8L487.7 854.9L488.3 898.8" stroke="#00bfff"/>
<path d="M602.8 898.8L603.4 808.3L604.0 898.8" stroke="#800000"/>
<path d="M407.8 898.8L408.4 866.8L409.0 898.8" stroke="#ff2000"/>
<path d="M456.4 898.8L457.0 870.8L457.6 898.8" stroke="#0000bf"/>
<path d="M356.4 898.8L357.0 870.2L357.6 898.8" stroke="#60ff9f"/>
<path d="M647.4 898.8L648.0 874.1L648.6 898.8" stroke="#0000df"/>
<path d="M855.9 898.8L856.5 862.2L857.1 898.8" stroke="#0000ff"/>
<path d="M925.4 898.8L926.0 855.5L926.6 898.8" stroke="#ff2000"/>
<path d="M930.4 898.8L931.0 852.2L931.6 898.8" stroke="#ff2000"/>
<path d="M952.0 898.8L952.6 851.5L953.2 898.8" stroke="#80ff80"/>
<path d="M960.7 898.8L961.3 859.5L961.9 898.8" stroke="#0080ff"/>
<path d="M1173.3 898.8L1173.9 840.9L1174.5 898.8" stroke="#0000bf"/>
<path d="M1128.4 898.8L1129.0 868.8L1129.6 898.8" stroke="#ffbf00"/>
<path d="M1387.6 898.8L1388.2 842.9L1388.8 898.8" stroke="#dfff20"/>
<path d="M1582.0 898.8L1582.6 835.6L1583.2 898.8" stroke="#0000bf"/>
<path d="M224.4 898.8L225.0 872.1L225.6 898.8" stroke="#bf0000"/>
<path d="M589.4 898.8L590.0 865.5L590.6 898.8" stroke="#9f0000"/>
<path d="M552.4 898.8L553.0 872.1L553.6 898.8" stroke="#9f0000"/>
</g>
<g clip-path="url(#cp3)" fill="none" stroke-width="4.3" stroke-linejoin="round">
<path d="M1176.9 1182.6l1.8 0.3 1.8-1 1.8 0.6 1.8 0.7 1.8-2.2 1.8-1.7 1.8 3 1.8 0.1 1.8-2 1.8 3.1 1.8-1 1.8-0.7 1.8 1.8 1.8-1.1 1.8-0.7 1.8 1.2 1.8 1.3 1.8-2.1 1.8 1.9 1.8 0.1 1.8-0.5 1.8-0.1 1.8 1.2 1.8-1.7 1.8-0.6 1.8 1.7 1.8 0.3 1.8 0.2 1.8-3.5 1.8 1.2 1.8-1.8 1.8 4 1.8-0.1 1.8-1.8 1.8 1.7 1.8-3.3 1.8 2.5 1.8-1 1.8 0 1.8-2.2 1.8 1.5 1.8 1.6 1.8-1.4 1.8-0.7 1.8 0.8 1.8 1 1.8-0.8 1.8 0.6 1.8-1.4 1.8 0.9 1.8-1.5 1.8-0.3 1.8 0.8 1.8-2" stroke="#00009f"/>
<path d="M387.3 1183.1l1.8 0.5 1.8-0.2 1.8 0.9 1.8-1.6 1.8-0.6 1.8-1.1 1.8 2.8 1.8-2.4 1.8 0.6 1.8 1.3 1.8-1.1 1.8 1.2 1.8-0.4 1.8 0.2 1.8-0.8 1.8 0.2 1.8-1.2 1.8 1.7 1.8 0.3 1.8-1.3 1.8 1 1.8-3 1.8 2.4 1.8-5.3 1.8 5.1 1.8-0.5 1.8-0.6 1.8 1.3 1.8-0.6 1.8-1.1 1.8 1.3 1.8-2.5 1.8-0.2 1.8 2.7 1.8-2.3 1.8-0.6 1.8 0.5 1.8 1.9 1.8-1 1.8-1.4 1.8 1.6 1.8 1.2 1.8-1.6 1.8 0.5 1.8 1.5 1.8-1.4 1.8 0.7 1.8 0.3 1.8 0.3 1.8-2.9 1.8 3.2 1.8-1.3 1.8-0.5 1.8 0.7 1.8-0.7 1.8 0.4 1.8 0.9 1.8-1 1.8 0.7 1.8 0.6 1.8-2 1.8-3.1 1.8 3 1.8 1.2 1.8 0.6 1.8-1 1.8-3.3 1.8 2.7 1.8 0 1.8 1.5 1.8-9.5 1.8 9.4 1.8-1.5 1.8-2 1.8 0.3 1.8 2.9 1.8-1.4 1.8 1.9 1.8-2.5 1.8 0 1.8 2.7 1.8-1.5 1.8 2 1.8 0.1 1.8-0.3 1.8 0.5 1.8-0.1 1.8 0.4 1.8-0.6 1.8 1 1.8-0.7 1.8-0.8 1.8-2 1.8 3.7 1.8-1.6 1.8 0.8 1.8 2.1 1.8-1.6 1.8 1.8 1.8-2.4 1.8 2.1 1.8 0.2 1.8 0.8 1.8 0.2 1.8-1.4 1.8 0.9 1.8-2.4 1.8 2.3 1.8 0.4 1.8-0.4 1.8-0.3 1.8 0.2 1.8 0.2 1.8-0.1 1.8-1 1.8 1.4 1.8-1.1 1.8 0 1.8 1 1.8-0.6 1.8 1 1.8-1.1 1.8 1.3 1.8 0.1 1.8-0.7 1.8 0 1.8 0.6 1.8-1.7 1.8 1.6 1.8-1.3 1.8 0.3 1.8 1.3 1.8-1 1.8 1 1.8-0.9 1.8 0 1.8 0.7 1.8 0.1 1.8-0.9 1.8-0.4" stroke="#0000bf"/>
<path d="M691.5 1179.3l1.8 0.6 1.8-0.1 1.8-0.7 1.8 1 1.8-0.7 1.8 0 1.8-0.1 1.8-0.4 1.8 1.4 1.8-4.2 1.8 1.9 1.8 1.1 1.8 1.2 1.8-1.2 1.8 0.9 1.8-0.7 1.8 1.3 1.8-0.4 1.8-1.1 1.8 1.3 1.8-0.1 1.8-0.2 1.8-1.2 1.8 0.4 1.8-1.2 1.8 1.5 1.8 2.7 1.8-1.3 1.8-0.3 1.8-0.7 1.8 2.7 1.8 0.4 1.8-2.7 1.8 2.2 1.8-3.1 1.8 4.3 1.8-0.7 1.8-1.7 1.8 1 1.8 0.6 1.8 0.5 1.8-1.7 1.8-1 1.8 1.6 1.8-1.3 1.8 0 1.8 0.7 1.8-0.7 1.8-0.1 1.8 0.7 1.8-1.6 1.8 0.3 1.8 0.4 1.8-2.4 1.8 2.4 1.8-2.3 1.8 1.6 1.8-0.9 1.8-0.5 1.8-1.5 1.8 1.1 1.8-1.4 1.8 0.5 1.8 1.6 1.8-0.1 1.8 0.3 1.8-4.9 1.8 3.5 1.8-2.6 1.8-0.7 1.8 4.4 1.8-2.8 1.8 1.9 1.8-0.2 1.8-0.8 1.8 0 1.8 1.3 1.8 1 1.8-0.8 1.8 0.9 1.8-4.8 1.8 5.2 1.8-0.5 1.8 0.8 1.8-0.3 1.8 1.1 1.8-0.2 1.8 0.8 1.8-2.1 1.8-0.5 1.8 1.6 1.8-3.3 1.8 4.6 1.8-0.2 1.8 0.8 1.8 0.1 1.8-0.4 1.8 0.5 1.8 0.3 1.8 0.1 1.8-2.5 1.8-1.9 1.8 3.7 1.8-1.5 1.8 0.4 1.8 1.5 1.8-2.2 1.8 1.1" stroke="#0000bf"/>
<path d="M1455 1178.7l1.8-2.5 1.8 1.4 1.8-0.2 1.8 1.1 1.8-1.6 1.8-0.6 1.8-3.9 1.8 2.2 1.8 1.1 1.8 3.5 1.8-0.1 1.8-0.4 1.8-1 1.8 0.7 1.8-0.3 1.8 0.7 1.8-0.3 1.8-2.7 1.8 0.1 1.8 0.6 1.8 1.5 1.8 0 1.8-0.4 1.8 1.3 1.8-0.2 1.8 0.7 1.8 0.2 1.8-1.6 1.8 2.1 1.8 0.2 1.8-0.7 1.8 0.6 1.8-2 1.8 1.3 1.8-2.1 1.8-1.5 1.8 2.3 1.8 2 1.8-2.1 1.8 0.5 1.8 0.3 1.8 0.1 1.8 0.7 1.8-0.4 1.8 0.4 1.8-4.4 1.8 1.4" stroke="#0000bf"/>
<path d="M478.3 1186.9l1.8 1.5 1.8 1.2 1.8-0.8 1.8 0.8 1.8-1.3 1.8-1 1.8 0.8 1.8 0.2 1.8-0.5 1.8-1.8 1.8 1.9 1.8 0.6 1.8-1.2 1.8 0.3 1.8-0.6 1.8-1.6 1.8 2.2 1.8 0 1.8 0.4 1.8-2.5 1.8 2.1 1.8-1.6 1.8 0.9 1.8-1.1 1.8 1.1 1.8-0.3 1.8-1.6 1.8-1 1.8 1.3 1.8-1.9 1.8 1.2 1.8 0.4 1.8-0.8 1.8 0.3 1.8-2.1 1.8 0.9 1.8-1.1 1.8 2.7 1.8-1.7 1.8 0.2 1.8 1 1.8-0.5 1.8 0.1 1.8-1.1 1.8-0.2 1.8-2.2 1.8 2.3 1.8 0.9 1.8 0.7 1.8 0.2 1.8-0.5 1.8 0 1.8-0.3 1.8-2 1.8 1.2 1.8 2 1.8-0.1 1.8-2.6 1.8 0.9 1.8 1.3 1.8-0.7 1.8-1.7 1.8 3.1 1.8-2 1.8 0.7 1.8 1.8 1.8-0.8 1.8 1.2 1.8-4.2 1.8 2.4 1.8-2.3 1.8 4.2 1.8-4.6 1.8 3.7 1.8 0.9 1.8-0.4 1.8 1 1.8-4.7 1.8 4.3 1.8-0.7 1.8-1.1 1.8 3 1.8 0 1.8-0.8 1.8 1.2 1.8-1.8 1.8 0.2 1.8 2 1.8-2 1.8-1.2 1.8 0.1 1.8 2.6 1.8-2.1 1.8 2.4 1.8-0.3 1.8-3.5 1.8 2.6 1.8 0.6 1.8-0.6 1.8-1.9 1.8 2 1.8-0.3 1.8 1.2 1.8-2.7 1.8 0.3 1.8 2.6 1.8-0.8 1.8-0.6 1.8 0 1.8-0.1 1.8-1.7 1.8 0 1.8-0.3 1.8 0 1.8 1.3 1.8-0.5 1.8-1.1 1.8-0.5 1.8 3 1.8-2 1.8 0.6 1.8-2.6 1.8 2.5 1.8-1.8 1.8 0.4 1.8 1 1.8-2.2 1.8 1.5 1.8-2.3 1.8 4.1 1.8-3.6 1.8 0.7 1.8 3.5 1.8-4.1 1.8 2 1.8 1.5 1.8 0.2 1.8-5.8 1.8 4.6 1.8-3.4 1.8 4.5 1.8 0 1.8-3.8 1.8 3.2 1.8-1.4 1.8 2.3 1.8-3.7 1.8 3 1.8-2.8 1.8 1.8 1.8 2 1.8-1.8 1.8 1.8 1.8-0.7" stroke="#0000df"/>
<path d="M1341.7 1183.6l1.8 1.1 1.8-0.4 1.8-0.4 1.8-0.3 1.8 1.5 1.8 1 1.8-1 1.8-0.4 1.8 0.2 1.8 1 1.8-1.1 1.8 0.7 1.8-1.7 1.8 0.5 1.8-0.7 1.8 1 1.8 0 1.8-1.8 1.8 2.3 1.8-1.1 1.8-0.9 1.8 2.4 1.8-1.3 1.8 0.4 1.8 0.7 1.8-1.4 1.8 0.7 1.8-0.7 1.8 1.4 1.8-0.1 1.8-1.9 1.8 2.1" stroke="#0000df"/>
<path d="M1410.1 1172.2l1.8 1.1 1.8-1 1.8-1.4 1.8 1.5 1.8-0.4 1.8-0.7 1.8 2.3 1.8-1.9 1.8 0 1.8-0.5 1.8-1.6 1.8 2.6 1.8-2.2 1.8 3.4 1.8 0 1.8-2.9 1.8 1.9 1.8 0.3 1.8-0.7 1.8-2.6 1.8-0.2 1.8 2.5 1.8 0.9 1.8 0.1 1.8-2.8 1.8 1.9 1.8-2.7 1.8 1.7 1.8 0.4" stroke="#0000df"/>
<path d="M695 1171.9l1.8 2.6 1.8-2.3 1.8 0.1 1.8 2.7 1.8 0.6 1.8-2.2 1.8 2.6 1.8-1.7 1.8 1.7 1.8-4.5 1.8 3.2 1.8 1.8 1.8-2.1 1.8 1.4 1.8 0.9 1.8-1.3 1.8 2.1 1.8 1 1.8 0 1.8 0.5 1.8 0.5 1.8-1.6 1.8 1.2 1.8-0.2 1.8 1.8 1.8-2.2 1.8 1.1 1.8 0.8 1.8-2.8 1.8 4.3 1.8-2.9 1.8 2.8 1.8-2.7 1.8 3.2 1.8 0.8 1.8-1.4 1.8 1.6 1.8-0.1 1.8-2.9 1.8-0.3 1.8-1.1 1.8 4.2 1.8-0.1 1.8-4.3 1.8 1 1.8 1.9 1.8 2.5 1.8-0.3 1.8-3.2 1.8 1.2 1.8 1.4 1.8 0.7 1.8-5.7 1.8 5.7 1.8-0.4 1.8 0 1.8-2.7 1.8 2.6 1.8-2.3 1.8 2.1 1.8-2 1.8 1.6 1.8-2.2 1.8-0.7 1.8-2.3 1.8 2.5 1.8 1.8 1.8-0.3 1.8 0 1.8-1.1 1.8-3.4 1.8 4.3 1.8-3.7 1.8 0.8 1.8 2 1.8-0.9 1.8-4.1 1.8 0.5 1.8 0 1.8 1.6 1.8 0.4 1.8 0.4 1.8-1.2 1.8 1.8 1.8-4.8 1.8 1.6 1.8-1.8 1.8 2.9 1.8-3.4 1.8 3.3 1.8 1.1 1.8-0.6 1.8-4 1.8 4.1 1.8-0.4 1.8-2.4 1.8 1.1 1.8 0.9 1.8 0.4 1.8 0 1.8-0.2 1.8 0.5 1.8-0.2 1.8-0.3 1.8 0.5 1.8-1.8 1.8 2.5 1.8-0.8 1.8 0.7 1.8-0.2 1.8 0.5 1.8-2.1 1.8 2.1 1.8-3.9 1.8 0 1.8 0.4 1.8 3.1 1.8 0.7 1.8-2.3 1.8 2.6 1.8-0.5 1.8-0.1 1.8 1.4 1.8-0.2 1.8 0.3 1.8-0.1 1.8-1.4 1.8-0.1 1.8-0.2 1.8 0 1.8 1.7 1.8 0.4 1.8-0.9 1.8-0.2 1.8-1.2 1.8-1.6 1.8 2 1.8-1 1.8 1.8 1.8 0.6 1.8-2.3 1.8 2.6 1.8-1.2 1.8-0.9 1.8-2.3 1.8 0.8 1.8 2.7 1.8-1.2 1.8 1.1 1.8 0.6 1.8-1.5 1.8 1.7 1.8-1.1 1.8 1.5 1.8-1.8 1.8-1 1.8 1.6 1.8 0.4 1.8 0.4 1.8-2.5 1.8 2 1.8 1.6 1.8-0.4 1.8-0.5 1.8 0.3 1.8-0.6 1.8-1.4 1.8-0.9 1.8 3.5 1.8 1 1.8-1.4 1.8-0.1 1.8-1.4 1.8 3.5 1.8-1.6 1.8 1 1.8-2.1 1.8 2.8 1.8-1.4 1.8 0.8 1.8-0.2 1.8-1.3 1.8-1.7 1.8 1.9 1.8-0.9 1.8 1.6 1.8-1.5 1.8-1.6 1.8 0.8 1.8 1.5 1.8 0.1 1.8-0.7 1.8-0.5 1.8-2.6 1.8 3.7 1.8-1.5 1.8 1.2 1.8-2.9 1.8 0.9 1.8 1.9" stroke="#0000ff"/>
<path d="M190.5 1177.7l1.8-6.5 1.8 6.4 1.8-3.4 1.8 2.1 1.8 0.9 1.8-0.2" stroke="#0020ff"/>
<path d="M597.2 1181.3l1.8-0.7 1.8-1 1.8 1.1 1.8-2.4 1.8 2.8 1.8-0.1 1.8-2 1.8-2.8 1.8 2.2 1.8-3 1.8 3.3 1.8-0.5 1.8 1.4 1.8-3.8 1.8 1.7 1.8 1.9 1.8-2 1.8 0.5 1.8 0.6 1.8 0.3 1.8 0.3 1.8-0.4 1.8 0.2 1.8 0.1 1.8-4.2 1.8 1.5 1.8 0.1 1.8-1.4 1.8 1 1.8-1.1 1.8 2.1 1.8 0.5 1.8 1.4 1.8-0.2 1.8-0.9 1.8-2.1 1.8 1.8 1.8 2 1.8-0.3 1.8-1.7 1.8-0.6 1.8 1.6 1.8 0.4 1.8-1.1 1.8 2.3 1.8-1.7 1.8 1.6 1.8-1.4 1.8 1.5 1.8 1.8 1.8-1.9 1.8 1.2 1.8 0.1 1.8-0.7 1.8 2 1.8-0.5" stroke="#0020ff"/>
<path d="M1486.1 1184.6l1.8 0.4 1.8 1.4 1.8 1.1 1.8-2.8 1.8 3.2 1.8-0.5 1.8-2.8 1.8 3.3 1.8-1.4 1.8-0.1 1.8 1.8 1.8 0 1.8-0.6 1.8 1.1 1.8 0.3 1.8-3.5 1.8 2.8 1.8-0.3 1.8 0.7 1.8 0.8 1.8-1.5 1.8-0.3 1.8 0.3 1.8 1.2 1.8-0.8 1.8 0.8 1.8-0.3 1.8-0.5 1.8 0 1.8 1.6" stroke="#0020ff"/>
<path d="M645.1 1183.3l1.8 0.7 1.8-2.7 1.8 0.2 1.8 2.2 1.8-1.7 1.8-0.3 1.8 1 1.8-0.4 1.8 1.3 1.8-2.6 1.8 1.8 1.8 1.1 1.8-0.7 1.8 0.4 1.8 0.7 1.8-3.3 1.8 3.5 1.8-4.1 1.8 2 1.8 0.8 1.8 1.7 1.8-0.9 1.8 0.5 1.8-0.2 1.8-0.2 1.8 1 1.8-2 1.8 2.4 1.8-1.5 1.8 1.7 1.8 1.2 1.8-0.6 1.8 0 1.8-1.8 1.8 1.8 1.8-1.3 1.8-0.5 1.8 3.8 1.8-3 1.8 3.7 1.8-3.6 1.8 1.6 1.8 2.1 1.8 0 1.8-0.5 1.8-2 1.8 3.1 1.8 1 1.8-0.1 1.8-0.1 1.8-0.3 1.8-1.7 1.8 2.3 1.8-0.5 1.8-1 1.8 0.8 1.8-0.1 1.8-0.9 1.8 1.2 1.8-1.1 1.8 0.8 1.8 0.4 1.8 0.1 1.8 0.1 1.8 0 1.8 0 1.8 0 1.8-0.3 1.8 0.3 1.8 0.1 1.8-0.2 1.8 0.1 1.8-1 1.8 0.7 1.8-0.8 1.8 0.7 1.8 0.3 1.8-0.8 1.8 0.2 1.8 0.6 1.8 0 1.8 0 1.8 0.1 1.8-0.2 1.8-0.1 1.8-1.2 1.8 1.6 1.8-0.6 1.8 0 1.8 0.3 1.8 0.4 1.8-0.6 1.8 0.6 1.8-1.1 1.8 0.7 1.8-0.8" stroke="#0040ff"/>
<path d="M1302.1 1189l1.8-0.3 1.8-1.4 1.8 1.3 1.8-0.9 1.8 1.1 1.8-0.1 1.8-0.9 1.8 0.8 1.8-0.1 1.8-3.9 1.8 3.1 1.8 0.4 1.8-1.8 1.8 2.1 1.8-1.7 1.8-2.8 1.8 2.2 1.8 2 1.8-1.8 1.8 0.1 1.8-0.5 1.8 0 1.8-4.3 1.8 5.4 1.8-3.7 1.8 2.2 1.8-0.1 1.8 1.4 1.8-2.4 1.8 0.7 1.8-0.7 1.8 1.8 1.8-0.8 1.8-1.2 1.8 0.3 1.8 2.6 1.8-1 1.8-1.9 1.8 2.5 1.8 0.5 1.8-2.2 1.8-0.5 1.8 2.8 1.8-1 1.8 0.8 1.8-1.3 1.8-0.3 1.8 2.3 1.8-1.7 1.8 0.6 1.8 0 1.8-2.2 1.8 2.2 1.8 0.8 1.8-2.5 1.8 2.8 1.8-0.4 1.8-1.1 1.8-0.2 1.8-0.2 1.8-1.1 1.8 2 1.8-0.6 1.8-0.6 1.8-0.1 1.8 0.9 1.8-0.3 1.8 0.7 1.8-0.9 1.8-1.3 1.8 0.1 1.8 0.3 1.8 0.5 1.8 0 1.8-0.4 1.8-1.4 1.8-1.6 1.8 1.3 1.8 0.2 1.8 0 1.8 0.2 1.8 0.5 1.8-0.5 1.8-2.5 1.8 2 1.8-1.5 1.8 0.5 1.8 1.9 1.8 0.1 1.8-0.9 1.8 0 1.8-0.5 1.8 0.9 1.8-2.2 1.8 1.6 1.8 0.9 1.8-0.3 1.8-1 1.8 0.1 1.8 0.1 1.8 0.2" stroke="#0040ff"/>
<path d="M209.6 1182.1l1.8 0.3 1.8 1.5 1.8-3.8 1.8 1.4 1.8-1.1 1.8 0.6 1.8 2.5 1.8-0.6 1.8-1 1.8-1.9 1.8 2.2 1.8-2.5 1.8 2.9 1.8-1.8 1.8 3.1 1.8-4.1 1.8 3.5 1.8-1.3 1.8 0.4 1.8-1.4 1.8 2 1.8-0.2 1.8-0.8 1.8-0.2 1.8-0.7 1.8 0.8 1.8-0.2 1.8 0.2 1.8-1.9 1.8 3.1 1.8-6.5 1.8 6.1 1.8-3.2 1.8 2.6 1.8-1.1 1.8 0.5 1.8 0.6 1.8-1.5 1.8-0.1 1.8 0.6 1.8-1.5 1.8 1.6 1.8 0.7 1.8 0.6 1.8-0.8 1.8-0.9 1.8-2.2 1.8 3.5 1.8-3.5 1.8 4.2 1.8-3.9 1.8 4.2 1.8-1.4 1.8 0 1.8 1 1.8-1 1.8 0.4 1.8-0.6 1.8 1.6 1.8-0.4 1.8-2.8 1.8 2.3 1.8 0.4 1.8 1.6 1.8-4.1 1.8-0.3 1.8 4.5 1.8-1.3 1.8 1.5 1.8-0.8 1.8 0.8 1.8 0.2 1.8-2.2 1.8 2.5 1.8-0.4 1.8-2.4 1.8 1.9 1.8-1.7 1.8 1.9 1.8-0.3 1.8-1.7 1.8 1.2 1.8 0.5 1.8-3.6 1.8 1.5 1.8 1.2 1.8 0.3 1.8 0.2 1.8-2.3 1.8 0.8 1.8 1.7 1.8-0.6 1.8-2.7 1.8 2.2 1.8 0.5 1.8-1 1.8-2.3 1.8 0.8 1.8 2 1.8 0 1.8-1 1.8 0.8 1.8-3.8 1.8 3.1 1.8-0.5 1.8 1.2 1.8-2 1.8 0.3 1.8-0.3 1.8 1.3 1.8-0.2 1.8-3.5 1.8 3 1.8-4.5 1.8 3.4 1.8 0.4 1.8-1.1 1.8 0.2 1.8-2.8 1.8 2 1.8 1.3 1.8 0.8 1.8-0.3 1.8-2.4 1.8 1.4 1.8 0.3 1.8 1 1.8-1.8 1.8-1.9 1.8 0.2" stroke="#0060ff"/>
<path d="M790.7 1188.6l1.8-1.6 1.8 1.4 1.8-1 1.8 2 1.8-1.5 1.8-1 1.8-0.6 1.8-2.1 1.8 2.7 1.8 2 1.8-0.6 1.8-2.7 1.8 1.1 1.8 0.9 1.8 0 1.8-1.7 1.8 1.4 1.8-1.2 1.8 0.6 1.8-4.4 1.8 1.4 1.8 1.4 1.8-2 1.8 1.3 1.8-1.2 1.8 0.6 1.8 0.7 1.8 0.1 1.8-1.3 1.8 0.5 1.8-0.6 1.8 0.5 1.8-1.5 1.8 0.3 1.8 0.5 1.8-4.6 1.8 3.6 1.8 0 1.8 0.1 1.8-0.7 1.8-1.8 1.8 2.7" stroke="#0060ff"/>
<path d="M938.3 1182.3l1.8 0.8 1.8-2.9 1.8 2.7 1.8-0.8 1.8-1 1.8-1.7 1.8 3.4 1.8-1.6 1.8 2 1.8-1.2 1.8 1.4 1.8-3.1 1.8 1.1 1.8-1.8 1.8 3.3 1.8-0.7 1.8 0.1 1.8 0.6 1.8 0.4 1.8-2.4 1.8 0.5 1.8-1.2 1.8 2 1.8-2.5 1.8-0.3 1.8 2.9 1.8-2.2 1.8 1.4 1.8-2.6 1.8-1.9 1.8 4 1.8-2 1.8 1.1 1.8-1.8 1.8 0.5 1.8 0.2 1.8-2.9 1.8 0.4 1.8 0.3 1.8 0.4 1.8-0.7 1.8-1.7 1.8-2.8 1.8 1.4 1.8 0 1.8 0.9 1.8-1.9 1.8 1.5 1.8-2.3 1.8-0.7 1.8 2 1.8-5.5 1.8 4.5 1.8-2.3 1.8-1 1.8 1.9 1.8 0.9 1.8-1.2 1.8 0.5 1.8-1 1.8-0.1 1.8-1 1.8 2.1 1.8-1.1 1.8-0.3 1.8-2.6 1.8 2.6" stroke="#0060ff"/>
<path d="M970.5 1185.9l1.8-0.8 1.8 0.3 1.8-2.1 1.8 1.5 1.8-1.1 1.8 0.2 1.8 2.5 1.8-1.7 1.8 0.7 1.8-2 1.8 3.1 1.8-0.7 1.8 0.2 1.8 0 1.8 0.4 1.8-1.4 1.8 1.8 1.8 0.2 1.8 0.3 1.8-1.3 1.8 0 1.8-2.9 1.8 4 1.8-1.4 1.8-0.6 1.8 2.2 1.8-0.6 1.8 0.3 1.8-0.2 1.8 0.6 1.8-0.4 1.8-2.1 1.8 2.7 1.8-0.5 1.8 0.2 1.8-0.7 1.8-0.5 1.8 1.3 1.8-0.7 1.8-0.3 1.8 1.1 1.8 0.1 1.8-1.9 1.8 0.6 1.8 0.9 1.8-1.4 1.8 1.1 1.8 0.1 1.8-2.2 1.8 2.3 1.8-2.9 1.8 0 1.8 2.1 1.8 0 1.8 0.3 1.8-1.3 1.8-1.6 1.8-1 1.8 0.4 1.8 0.4 1.8 0.5 1.8 1.6 1.8-1.9 1.8 1.7 1.8-2.9 1.8 2 1.8 0.2 1.8 1.1 1.8-0.3 1.8-1.3 1.8 0.4" stroke="#0080ff"/>
<path d="M695 1173.7l1.8-1.8 1.8 2.3 1.8 0 1.8 0.2 1.8-3.1 1.8 2.8 1.8 0.2 1.8 0.7 1.8-0.4 1.8-1.6 1.8-0.9 1.8 2.5 1.8-3.3 1.8-0.8 1.8 4.2 1.8-2.2 1.8 0.6 1.8 0.5 1.8 1.1 1.8-0.6 1.8-0.1 1.8 0.6 1.8 0.9 1.8-2.5 1.8 1.4 1.8 1.2 1.8-3.7 1.8 1.2 1.8 1.8 1.8-0.8 1.8 1.4 1.8 0.5 1.8-2.5 1.8 3 1.8-0.7 1.8 0.9 1.8-1.2 1.8 1.5 1.8 0 1.8-0.2 1.8 0 1.8-0.5 1.8-0.1 1.8 1.8 1.8-2.2 1.8 2.6 1.8-4.3 1.8 1 1.8 2.6 1.8 1 1.8-1 1.8-0.5 1.8 1.5 1.8-2 1.8 1.6 1.8 0.1 1.8-1.5 1.8 1.6 1.8 0.6 1.8 0 1.8 1.3 1.8-2 1.8 0.9 1.8 0.1 1.8-0.3 1.8 0.4 1.8-0.4 1.8 1.4 1.8-3.4 1.8 0.4 1.8 2.6 1.8-2.4 1.8 1.9 1.8-0.3 1.8 1 1.8-1.4 1.8 1.1 1.8 0.4 1.8-1.3 1.8-3.8 1.8 4.4 1.8 1.1 1.8-0.8 1.8 0.1 1.8-1.4 1.8-0.3 1.8 0.4 1.8 1.9 1.8-1.4 1.8-2.8 1.8 3.2 1.8-0.7 1.8-0.4 1.8 1.1 1.8 0.2 1.8-2 1.8 0.1 1.8-1.5 1.8 0.9 1.8-2.8 1.8 4.8 1.8-0.8 1.8-1.6 1.8 2.1 1.8-0.6 1.8-2.6 1.8 3 1.8-0.6 1.8-2.3 1.8 0.8 1.8 2.1 1.8-0.9 1.8-1.9 1.8-1.9 1.8 4.5 1.8-0.1 1.8-0.4 1.8-0.5 1.8 0.1 1.8-0.7 1.8 1.2 1.8-0.8 1.8-1.2 1.8 2.1 1.8 0.2 1.8-0.8 1.8 1.7 1.8 0.5 1.8-0.5 1.8-1 1.8 0.1 1.8-0.2 1.8 1.2 1.8 0.7 1.8-0.1 1.8-0.8 1.8-2.1 1.8-0.4" stroke="#009fff"/>
<path d="M242.4 1184.2l1.8-0.2 1.8 2 1.8 0.4 1.8-4.6 1.8 4.4 1.8-3.1 1.8 3.3 1.8-1.9 1.8 1.3 1.8-2.7 1.8 2 1.8 0.2 1.8 0.8 1.8-0.5 1.8-4 1.8 0.7 1.8 2.4 1.8-0.2 1.8 1.2 1.8 0.2 1.8-1.1 1.8 0 1.8 0.6 1.8 0.9 1.8-1.9 1.8 0 1.8-0.2 1.8 0.5 1.8 1.6 1.8-1.9 1.8-1.2 1.8-0.5 1.8 2.6 1.8-0.3 1.8-0.8 1.8 0.4 1.8-0.5 1.8-1.2 1.8 0.3 1.8-1.3 1.8 1.6 1.8 0.2 1.8-1.4 1.8 1.6 1.8-0.4 1.8-1.4 1.8 2.7 1.8-4 1.8 0.6 1.8 1.2 1.8 1.1 1.8-1.4 1.8 1.2 1.8-3.4 1.8 2.4 1.8-0.7 1.8 1.6 1.8-2.5 1.8-0.9 1.8 2.4 1.8-0.3 1.8 0.7 1.8-1.2 1.8-0.3 1.8 0.7 1.8-0.6 1.8-0.1 1.8-1.2 1.8 1.9 1.8 0.3 1.8-1.7 1.8 1.4 1.8-0.7 1.8 0.8 1.8-0.7 1.8 0.9 1.8 0.1 1.8 1.2 1.8 0.7 1.8-0.9 1.8-1.4 1.8 0.3 1.8 3 1.8-1.3 1.8 0.4 1.8 0.4 1.8 0.8 1.8 0 1.8-1.4 1.8-1.9 1.8 3.8 1.8 0.1 1.8 0.7 1.8-2.6 1.8 2.7 1.8-3.3 1.8 2.3 1.8-0.6 1.8-2.1 1.8-1 1.8 3.8 1.8 0 1.8-0.7 1.8 1.6 1.8 0 1.8 0.1 1.8-0.5 1.8-0.8 1.8-2.1 1.8 1 1.8 1.4 1.8 0.1 1.8-0.1 1.8-0.1 1.8-1.1 1.8-0.9 1.8 0.3 1.8 1 1.8-1 1.8 0 1.8-0.3 1.8 0 1.8-0.6 1.8 0.6 1.8 0.3 1.8-0.8 1.8 0.7 1.8-0.8 1.8 1 1.8-0.5 1.8-0.6" stroke="#00bfff"/>
<path d="M665.6 1173.8l1.8 0.3 1.8 0.9 1.8 0 1.8 0 1.8-3 1.8 2.7 1.8-0.4 1.8 0.5 1.8-0.1 1.8 0.6 1.8-3.3 1.8 3.1 1.8-2.1 1.8 1.2 1.8 1.3 1.8-3.6 1.8 3.2 1.8-2.3" stroke="#00bfff"/>
<path d="M1105.8 1184.7l1.8-0.3 1.8 0.4 1.8-4.5 1.8 1.5 1.8-0.1 1.8 2.8 1.8-3 1.8-1.3 1.8 4 1.8-2 1.8 0.9 1.8-2 1.8 1.9 1.8-1.4 1.8 2.7" stroke="#00bfff"/>
<path d="M578.1 1174.1l1.8-1.2 1.8-2.4 1.8 3.8 1.8-2.2 1.8 2.2 1.8-2.4 1.8 2.7 1.8-0.5 1.8-1.4 1.8 0.3 1.8 1.6 1.8 0.1 1.8 0.1 1.8-1.9 1.8 1.1 1.8-1.9 1.8 1.9 1.8 0 1.8-0.4 1.8 1.5 1.8-0.3 1.8 0.5 1.8 0 1.8-0.7 1.8-0.5 1.8 0.6 1.8-2 1.8-0.2 1.8 0.2 1.8 0 1.8 1.7" stroke="#00ffff"/>
<path d="M1223.5 1181.8l1.8-4.2 1.8 3.5 1.8-1.5 1.8 0.2 1.8 1.8 1.8-0.4 1.8 0.6 1.8-1 1.8-1.1 1.8 1.9 1.8-0.9 1.8-0.8 1.8 1.3 1.8 0.4 1.8-0.9 1.8 0 1.8-0.1 1.8-2 1.8 2.5 1.8 0 1.8-4.2 1.8 3 1.8 0.1 1.8 1 1.8-0.3 1.8-0.7 1.8 0.5 1.8-0.4 1.8 0 1.8 0 1.8-2.7 1.8 2.3 1.8-2.4 1.8 2.7 1.8 0 1.8-1.8 1.8-2.4 1.8 4 1.8-2.4 1.8-2 1.8 2.1 1.8-0.2 1.8 2.1 1.8-2.4 1.8 0.9 1.8-0.3 1.8 0 1.8-1.1 1.8 0.3 1.8-1.6 1.8 0.8 1.8 1.4 1.8-1.8 1.8 3 1.8 0 1.8 0.1 1.8-1.3 1.8-1 1.8-0.2 1.8 2.1 1.8-4.3 1.8 4 1.8 0.8 1.8-0.6 1.8-0.5 1.8 1.1 1.8-0.1 1.8 0.7 1.8 0 1.8-1.8 1.8-1.6 1.8 3.3 1.8-2.2 1.8-1 1.8 1.6 1.8-1.2 1.8 1.4 1.8 0.7 1.8 0 1.8-0.1 1.8-0.9 1.8 0.6 1.8-0.7 1.8-0.8 1.8 1.4 1.8-0.6 1.8-0.5 1.8-0.1 1.8 0.3 1.8 1 1.8-0.2 1.8-2.1 1.8 1.5 1.8 0.9 1.8-0.6 1.8-0.1 1.8 0.3 1.8 0 1.8-3.8 1.8 1.6 1.8 1.8 1.8 0.6 1.8 0.2 1.8-0.1 1.8-1 1.8 0.8 1.8-0.6 1.8 1.5 1.8-1.2 1.8-0.4 1.8 0.6 1.8-0.2 1.8 1.8 1.8-2.2 1.8 1.7 1.8-0.5 1.8-0.6 1.8-1.5 1.8 2 1.8-2.5 1.8 1.9 1.8 0.6 1.8 0.6 1.8-1 1.8 0 1.8 0.5 1.8-1.4 1.8 0.2 1.8 0.9 1.8 0.1 1.8-2.3 1.8 0.8 1.8 0.8 1.8-3.8 1.8 1.1 1.8 2.1 1.8-2.1 1.8 0.1 1.8 1.9 1.8-0.9 1.8 0.5 1.8-0.7 1.8-0.1 1.8-1.3 1.8-0.1 1.8 2 1.8-1 1.8-0.8 1.8-0.1 1.8-0.1" stroke="#00ffff"/>
<path d="M923.3 1178.9l1.8 0.3 1.8 0.8 1.8-0.8 1.8-1.3 1.8 1.2 1.8-0.1 1.8-3.3 1.8 3.9 1.8-2.2 1.8 2.9 1.8-1.6 1.8 0.5 1.8-0.9 1.8-0.8 1.8 3 1.8-0.6 1.8 0.3 1.8-1.9 1.8 0 1.8 2.2 1.8 0.3 1.8-2.4 1.8 2.2 1.8 0 1.8-1.3 1.8 0.5 1.8 0.9 1.8-3.4 1.8 0.4 1.8 2.8 1.8-2.5 1.8 2.7 1.8-1.9 1.8 0.1 1.8 2.4 1.8-3.9 1.8 3.8 1.8-1.8 1.8 0.8 1.8-0.2 1.8-2.7 1.8 4.8 1.8 0.1 1.8-0.9 1.8-0.2 1.8-3.2 1.8 3 1.8 1.6 1.8-0.1 1.8-1.8 1.8-0.6 1.8 2.3 1.8-1.8 1.8 0.9 1.8 0.8 1.8 1.5 1.8 0.6 1.8-2.8 1.8-0.6 1.8 3.6 1.8-2.9 1.8 0.7 1.8-1.1 1.8 3.4 1.8-2 1.8 0.1 1.8 1.4 1.8 0.3 1.8-1.8 1.8 0.7 1.8 1.6 1.8-0.6 1.8-3 1.8 4.6 1.8-1 1.8-0.1 1.8-2.9 1.8 1.8 1.8-0.7 1.8 2.3 1.8-3.4 1.8 3.7 1.8-0.3 1.8 0.5 1.8-0.3 1.8-1.7 1.8-0.5 1.8 1.5 1.8-1.4 1.8 1.1 1.8-3 1.8 2.9 1.8-2.3 1.8 2.4 1.8-0.2 1.8-1.3 1.8 0.4 1.8 1.4 1.8-2.3 1.8 1.5 1.8 0 1.8-1.3 1.8 1.8 1.8-0.9 1.8 0.8 1.8-0.4 1.8-0.8 1.8-2 1.8-2.3 1.8 4.9 1.8-0.4 1.8-0.2 1.8-0.3 1.8-1.8 1.8 0.8 1.8-0.3 1.8 2 1.8-3.2 1.8 0.4 1.8 2.3 1.8-0.8 1.8-0.7 1.8 1.1 1.8-0.9 1.8 0.5 1.8-1.7 1.8-3.7 1.8 3.8 1.8 0.5 1.8-1 1.8-1.9 1.8 0 1.8 1 1.8 1 1.8-4.1 1.8 2.8 1.8 0.5 1.8-2.9 1.8-1.9 1.8 2.8 1.8-1 1.8-1.7 1.8 2.7 1.8-2.9 1.8 1.6 1.8 1.2 1.8-0.9" stroke="#20ffdf"/>
<path d="M267 1184.6l1.8 1.9 1.8-1.4 1.8 0.5 1.8 0.5 1.8-0.5 1.8-2.6 1.8 2 1.8-0.9 1.8 2.6 1.8-2.2 1.8 1.4 1.8-0.6 1.8-0.2 1.8-1.5 1.8 0.4 1.8 1.2 1.8 0.3 1.8-0.3" stroke="#40ffbf"/>
<path d="M349 1176l1.8 2.5 1.8-1.5 1.8 2.3 1.8-0.5 1.8-2.4 1.8 1.4 1.8 1.4 1.8-0.2 1.8-0.6 1.8-0.1 1.8 0.5 1.8-0.4 1.8 0 1.8-3.9 1.8 1.7 1.8 2.6 1.8-0.9 1.8 1.1 1.8-1.5 1.8 0.6 1.8 1.5 1.8-1.7 1.8 1 1.8-1.1 1.8 2.5 1.8-0.2 1.8 0 1.8-1.5 1.8 0.9 1.8-0.6 1.8 1.6 1.8 0.6 1.8-4.1 1.8 0.3 1.8 0.1 1.8-4.1 1.8 7.3 1.8 0.8 1.8-0.1 1.8-3.5 1.8 0.4 1.8 2.5 1.8 0.7 1.8 0 1.8 1.4 1.8 0 1.8-2.2 1.8-0.8 1.8 2.3 1.8 0.7 1.8-0.8 1.8 0.8 1.8-0.1" stroke="#40ffbf"/>
<path d="M985.5 1181.3l1.8 2.5 1.8-3.1 1.8 3.7 1.8-1.7 1.8 0.6 1.8-1.4 1.8-0.6 1.8 2.3 1.8-1.9 1.8 0.8 1.8-0.5 1.8 1 1.8 0.6 1.8-1.2 1.8 0.8 1.8-1.9 1.8 1.7 1.8-0.2 1.8-1.1 1.8-0.8 1.8 0.8 1.8-4.3 1.8 3.4 1.8-0.5 1.8 2 1.8-2.6 1.8 2 1.8-2.3 1.8 1.2 1.8-0.1 1.8 1.5 1.8-2 1.8-2.7 1.8 4.7 1.8-1.6 1.8 0.9 1.8-1.9 1.8-0.7 1.8 1.1 1.8 1.2 1.8-0.2 1.8 0.9 1.8 0.3 1.8-3 1.8 2.6 1.8 1.2 1.8 0.4 1.8-1.5 1.8 0.8 1.8-0.8 1.8-0.4 1.8 1.6 1.8-1.9 1.8 2.4 1.8 0.3 1.8-1.7 1.8 0.9 1.8 0.6 1.8-1.1 1.8-1.7 1.8 0.8 1.8 1.4 1.8 0.4 1.8-1.1 1.8-4.9 1.8 6.4 1.8-1.9 1.8 0.6 1.8 0.3 1.8 0.9 1.8-0.1 1.8-0.9 1.8 0 1.8-1.2 1.8 1.9 1.8-0.3 1.8-3.3 1.8 2.3 1.8-0.5 1.8 0.4 1.8 0.9 1.8 0.1" stroke="#40ffbf"/>
<path d="M1168.7 1176.9l1.8-1.5 1.8 1.4 1.8 0.6 1.8-2.7 1.8 0.4 1.8 2.6 1.8 0.2 1.8-1 1.8 1.1 1.8 0.5 1.8-3.1 1.8 3.5 1.8-3.3 1.8 2.3 1.8-0.7 1.8 2.1 1.8-0.4 1.8 0.7 1.8-1.2 1.8 0 1.8 0.3 1.8-2.2 1.8 3.7 1.8-1.8 1.8-0.4 1.8 3.8 1.8-0.1 1.8-1.7 1.8-1.1 1.8 3.1 1.8 0.1 1.8-1.6 1.8-1.6 1.8-0.9 1.8 3.5 1.8-0.3" stroke="#40ffbf"/>
<path d="M212.3 1188l1.8 1.5 1.8 1.1 1.8-1 1.8 0 1.8-3 1.8-0.1 1.8 2.2 1.8 1.1 1.8-0.4 1.8-2.1 1.8 1.8 1.8-3.3 1.8 1.1 1.8 2.5 1.8-1.2 1.8-2.3 1.8 1.3 1.8 0.8 1.8-1.6 1.8 1.2 1.8-0.8 1.8 1.3 1.8 0.1 1.8-0.4 1.8 0.2 1.8-0.2 1.8-3 1.8 2.8 1.8 0 1.8-2 1.8-2 1.8 3.6 1.8 0.1 1.8 1 1.8 0 1.8-0.5 1.8-0.2 1.8-2.2 1.8-2.1 1.8 4.2 1.8-1.3 1.8 2 1.8-0.8 1.8 1.1 1.8-3.3 1.8 0 1.8 1.3 1.8-0.8 1.8-1.4 1.8 2.5 1.8 1.5 1.8 0.3 1.8-2.8 1.8 2.4 1.8-0.5 1.8 0.4 1.8-0.2 1.8-2.2 1.8 1 1.8-3.7 1.8 3.8 1.8 0.7 1.8 0.6 1.8-5.3 1.8 5.8 1.8-3.3 1.8 2.6 1.8 0.3 1.8-0.5" stroke="#60ff9f"/>
<path d="M982.8 1179.4l1.8-2.2 1.8 0.2 1.8 1.4 1.8 0 1.8-1.6 1.8 1.1 1.8 1.2 1.8-3.3 1.8 0.5 1.8 2.2 1.8-3.2 1.8 2.2 1.8-0.1 1.8-1.3 1.8-0.4 1.8 1.7 1.8-2.7 1.8 2.5 1.8-0.4 1.8-0.7 1.8 1 1.8 0.2 1.8-2.1 1.8 0.1 1.8 1.5 1.8 0 1.8-2 1.8 2.9 1.8-1.9 1.8-0.2 1.8 1.7 1.8 0.1 1.8-0.6 1.8 1.2 1.8-2.8 1.8 2.2 1.8 1.4 1.8-0.1 1.8-0.6 1.8 0.5 1.8-0.7 1.8 0.9 1.8 0.4 1.8-1 1.8-2.7 1.8 1.1 1.8 3.4 1.8-2.1 1.8 2.3 1.8-2 1.8-0.2 1.8 1.8 1.8 0.6 1.8-0.4 1.8-3.2 1.8 2.3 1.8-0.6 1.8-0.2 1.8 1 1.8-1.5 1.8-1.7 1.8-1 1.8 3.6 1.8-1.9 1.8-0.7 1.8-2.6 1.8 4.6 1.8 0.1 1.8-0.2 1.8-1.3 1.8 0.5 1.8-1.1 1.8 1.2 1.8-1.1 1.8-1.6 1.8 2.2 1.8-2.6 1.8 2.8 1.8-0.6 1.8 0.2 1.8-1.2 1.8-0.5 1.8-0.3 1.8 1.7 1.8-1.8 1.8 0 1.8-0.5 1.8 2.4 1.8-1.7 1.8 2.5 1.8-0.8 1.8-0.1 1.8-1.1 1.8 1.7 1.8-2.7 1.8 2.3 1.8 0.5 1.8-0.3 1.8 0.5 1.8 1.2 1.8-1.3 1.8 1.2 1.8 0.1 1.8-0.1 1.8 0.1 1.8 0.4 1.8 1.8 1.8 0 1.8-2.4 1.8 1.6 1.8 2 1.8-1.5 1.8 1.9 1.8 0.3 1.8-2.8 1.8 1.4 1.8-0.1 1.8 1.5 1.8-0.3 1.8 1.3 1.8-2 1.8 1.2 1.8-1.2 1.8 0.2 1.8 1.3 1.8-0.1" stroke="#60ff9f"/>
<path d="M190.5 1176.9l1.8 2.5 1.8-1.3 1.8 0.7 1.8 0 1.8 0.5 1.8-1.2 1.8-1.1 1.8 1.8 1.8 0.4 1.8-1.3 1.8 0.1 1.8-1 1.8-1.3 1.8 1.8 1.8 0.4 1.8-0.3 1.8-6.1 1.8 3.3 1.8 0.9 1.8 0.7 1.8-3.5 1.8 2.8 1.8-0.8 1.8 0.9 1.8-1.4 1.8-0.1 1.8-1.7 1.8-0.6 1.8 2.1 1.8-0.5 1.8 0.2 1.8-0.1 1.8 0.3 1.8-1.1 1.8-0.4 1.8-0.3 1.8 0.5 1.8-0.7 1.8-1.5 1.8 0.3 1.8-1.8 1.8-0.6 1.8-0.1 1.8 0.8 1.8 0.4 1.8-1.1 1.8 1.1 1.8 1 1.8 0.1 1.8-1.4 1.8-0.6 1.8-2.5 1.8 3.3 1.8 0.2" stroke="#80ff80"/>
<path d="M785.9 1183.9l1.8-1 1.8 0.2 1.8-0.7 1.8-2 1.8 3.1 1.8-3 1.8 0.2 1.8 1.3 1.8-0.2 1.8-0.3 1.8 0.6 1.8-0.9 1.8-0.6 1.8 0.9 1.8-1.2 1.8 0.8 1.8-1.8 1.8 0 1.8-1.3 1.8 2.6 1.8-0.5 1.8-2.6 1.8 0.7 1.8 0.6 1.8 1.2 1.8-3 1.8 2.8 1.8-0.1 1.8-1.9 1.8-1.5 1.8 1.7 1.8 1.3 1.8-0.6 1.8-0.4 1.8-0.1 1.8-0.4 1.8 1.9 1.8-2.2 1.8-0.5 1.8 3.2 1.8-1.1 1.8 0.8 1.8-2.9 1.8 2.7 1.8 0.9 1.8-1.8 1.8 0.8 1.8-1.3 1.8-0.4 1.8-1.2 1.8 3.6 1.8-1 1.8 0.6 1.8 0.5 1.8 0.6 1.8-1.6 1.8 0.9 1.8 0 1.8 0.2 1.8-0.5 1.8-3.2 1.8 3.2 1.8 0.6 1.8-1.6 1.8-1.2 1.8 1.6 1.8-1.2 1.8 2.3 1.8-0.2 1.8-3.1 1.8 0.4 1.8-0.3 1.8 2.5 1.8-1.1 1.8-3.6 1.8 2.7 1.8 1.4 1.8-0.6 1.8-0.5 1.8 1.2 1.8 0.6 1.8-4.7 1.8 3.1 1.8-1.5 1.8 1.9" stroke="#80ff80"/>
<path d="M1120.2 1177.1l1.8 0.3 1.8-1.7 1.8 1.8 1.8 0.8 1.8-1.9 1.8 0.4 1.8 0.2 1.8 0.9 1.8-0.3 1.8-3.2 1.8 3.8 1.8-2 1.8 0.5 1.8 1.1 1.8-2.8 1.8-0.3 1.8-1.9 1.8 3.3 1.8-2" stroke="#80ff80"/>
<path d="M445.5 1176.3l1.8-3.7 1.8 5.1 1.8-0.5 1.8 0.5 1.8-2.2 1.8 3 1.8 0.1 1.8-1.2 1.8-1.8 1.8 3.7 1.8-0.3 1.8 0.4 1.8 1.4 1.8-0.9 1.8-0.6 1.8 2 1.8-0.1 1.8-2 1.8 1.2 1.8 0.8 1.8 0.4 1.8 0.4 1.8-1.4 1.8-1 1.8 1.3 1.8 0.1 1.8 1.8 1.8 0.5 1.8 0.2 1.8-0.4 1.8-2.3 1.8 0.9 1.8-0.7 1.8 0.7 1.8 1.5 1.8-1.4 1.8 0.2 1.8 0.6 1.8-1.2 1.8 1.2 1.8-0.8 1.8 0 1.8-3.2 1.8 1.9 1.8-1.8 1.8-0.8 1.8 1.8 1.8 1.6 1.8-1.1 1.8 0.9 1.8-0.5 1.8-0.5 1.8 0.7 1.8 0.3 1.8-0.5 1.8-2.7 1.8 1.6 1.8 0 1.8-2.6 1.8 0.9 1.8 2.1 1.8 1.1 1.8-0.6 1.8-0.1 1.8-0.5 1.8 1.4 1.8-0.9 1.8-0.3 1.8 0.1 1.8 0 1.8-1.2 1.8-1.1 1.8 4 1.8-1.3 1.8 0.7 1.8 1.3 1.8-2.2 1.8-1.4 1.8 2 1.8 0.4 1.8 1.5 1.8-2.1 1.8 1.2 1.8-0.9 1.8 0.4 1.8 1.5 1.8-1.8 1.8 1.8" stroke="#9fff60"/>
<path d="M1205 1179.9l1.8-1.8 1.8 0.8 1.8-0.3 1.8 0.3 1.8 0.1 1.8-0.3 1.8 1.2 1.8-0.7 1.8-0.4 1.8 1.8 1.8 0.2 1.8-1.7 1.8 0.4 1.8 1.7 1.8-0.7 1.8 1.3 1.8 0 1.8 0.3 1.8-3 1.8 2.7 1.8 1.1 1.8 0.5 1.8-1.6 1.8 0.2 1.8 0.7 1.8-3 1.8 5.2 1.8-0.1 1.8-0.9 1.8-0.2 1.8-0.5 1.8 2.9 1.8-4.3 1.8 2.8 1.8 1.2 1.8-3.6 1.8 4.9 1.8-3.4 1.8 3.3 1.8 0.7 1.8-0.1 1.8-2 1.8 1.5 1.8-0.3 1.8-1.4 1.8 0.9 1.8 0.3 1.8 0.9 1.8-1.6 1.8 1.4 1.8-0.9 1.8 1.6 1.8-1.3 1.8 0.9 1.8-3.1 1.8 1.8 1.8-0.2 1.8-0.3 1.8 1.4 1.8-0.5 1.8-2.2 1.8 1.1 1.8 1.2 1.8-1.4 1.8 0.7 1.8-0.2 1.8-0.4 1.8-3.5 1.8 3.7 1.8 0.2 1.8-2 1.8 2.2" stroke="#9fff60"/>
<path d="M190.5 1183.2l1.8 0.1 1.8-1.1 1.8-2.7 1.8 2 1.8 1.2 1.8-1.2 1.8-0.8 1.8-0.2 1.8 2.7 1.8-0.3 1.8-4.5 1.8 3.4 1.8 0.7 1.8-2.5 1.8 2.8 1.8-1.5 1.8 0.9 1.8-0.9 1.8-0.4 1.8 1.3 1.8-3 1.8 1.2 1.8 0.1 1.8 0.5 1.8 0.2 1.8 0.6 1.8-0.3 1.8-0.2 1.8-2.2 1.8 1.5 1.8 0.9 1.8-1.6 1.8-0.3 1.8 1.5 1.8-1.3 1.8 0.9 1.8-0.8 1.8-0.7 1.8 1.6 1.8 0.3 1.8-1.9 1.8 1.5 1.8 0 1.8 0 1.8 0.5 1.8-0.7 1.8 0.9 1.8-0.2 1.8 0 1.8-0.9 1.8-1.9 1.8 2.4 1.8 0.5 1.8-1.5 1.8-3.6 1.8 2.8 1.8 1 1.8-1.6 1.8-2.7 1.8 5.6 1.8-2.6 1.8 2.7 1.8-1.4 1.8-1.4" stroke="#bfff40"/>
<path d="M926 1173.1l1.8 3.5 1.8-2.4 1.8 2.8 1.8-1.3 1.8 1.2 1.8-0.5 1.8 1 1.8-1.3 1.8-0.5 1.8-1.6 1.8 2.3 1.8-1 1.8 2.5 1.8-2.5 1.8 1.9 1.8 0.6 1.8-2.4 1.8 2.9 1.8-0.5 1.8-1.4 1.8 2.6 1.8-0.8 1.8-0.2 1.8 0.8 1.8 0.6 1.8-2 1.8 1.2 1.8 0.1 1.8 2.1 1.8-1.7 1.8 0.3 1.8-4.6 1.8 5.4 1.8 1.2 1.8 0.4 1.8-1.7 1.8 0.9 1.8 0.3 1.8 1.3 1.8-0.2 1.8-0.8 1.8-0.7 1.8 0 1.8 2.2 1.8-0.9 1.8-1.5 1.8 0.3 1.8-0.1 1.8 0.5 1.8 0.2 1.8 1.4 1.8-4.8 1.8 4.3 1.8-0.2 1.8-1.1 1.8 0.8" stroke="#bfff40"/>
<path d="M504.3 1184.4l1.8-1.6 1.8 1.3 1.8-1.4 1.8 1.1 1.8-1 1.8 0.4 1.8 0 1.8-0.8 1.8 1.7 1.8 0.4 1.8 0.3 1.8 0.2 1.8 0 1.8-2.1 1.8 2.3 1.8-2.3 1.8 1 1.8 2.1 1.8-1.1 1.8-0.3 1.8 0.3 1.8 0.3 1.8-2.4 1.8 3 1.8-0.4 1.8 0.3 1.8-0.8 1.8-2.4 1.8 3.5 1.8 0.1 1.8-1.8 1.8-1.1 1.8-1.5 1.8 2.7 1.8-1.2 1.8 1.2 1.8-0.4 1.8-2.1 1.8 0.5 1.8 2.7 1.8-2.3 1.8 0.8 1.8-2.8 1.8 1.3 1.8 2.3 1.8-1.2 1.8 0.4 1.8-3.2 1.8-0.5 1.8 3.1 1.8 0.1 1.8-2 1.8 0.4 1.8 0.4 1.8-0.2 1.8 0.9 1.8 0.3 1.8 0.2 1.8-1.6 1.8-0.2 1.8-0.9 1.8 1.1 1.8 1 1.8-0.6 1.8 0 1.8 0 1.8 0 1.8-0.1 1.8-5 1.8 4.8 1.8 0.6 1.8-0.9 1.8 0.8 1.8-1.9 1.8-2.2 1.8 2.6 1.8-0.1 1.8 0 1.8 1.5 1.8 0.6 1.8-0.8 1.8 0.2 1.8 0 1.8-0.7 1.8-1.7 1.8 1.2 1.8 0.9 1.8-2.4 1.8 1.7 1.8-1.6 1.8 0.9 1.8-2.2 1.8 1.5 1.8 0.3 1.8 0.9 1.8-0.2 1.8-3.1" stroke="#dfff20"/>
<path d="M1167.4 1178.5l1.8-1.9 1.8 3.8 1.8 0 1.8-3.4 1.8 1.4 1.8 2.1 1.8-0.2 1.8-1.6 1.8 1.3 1.8-0.2 1.8-0.5 1.8 0.5 1.8-2 1.8 2.3 1.8 0 1.8-0.5 1.8-0.7 1.8-2 1.8 2.3 1.8-1.5 1.8 0.6 1.8-2.8 1.8 1.5 1.8 1.4 1.8-1.5 1.8 1.3 1.8-1.2 1.8 0.6 1.8-1.5 1.8-1.2 1.8 2.7 1.8-2.2 1.8 0.9 1.8-1.4 1.8 1.3 1.8 1 1.8-2.1 1.8 1.3 1.8 0.4 1.8-2.2 1.8 0.9 1.8 0.3 1.8-0.2 1.8 1.4 1.8-0.5 1.8-0.1 1.8-2 1.8-0.4 1.8 1.4 1.8 1.5 1.8-0.2 1.8 0.8 1.8-0.1 1.8 0.3 1.8-0.4 1.8-1.1 1.8 1.5 1.8 1.3 1.8 0.7 1.8-2.3 1.8 0.7 1.8 1.9 1.8-2.6 1.8-0.7 1.8 3 1.8-0.8 1.8 1.1 1.8-0.6 1.8 0.4 1.8-0.9 1.8-0.9 1.8-0.3 1.8 3.1 1.8 0.3 1.8-3.5 1.8 1.5 1.8 1.5 1.8-2.4 1.8 1.5 1.8-0.6 1.8 1.8 1.8-0.1 1.8-2.4 1.8 0.6 1.8 1.1 1.8 0.6 1.8-1.4 1.8 1.7 1.8 1.3 1.8-2.5 1.8 1.1 1.8-2.6 1.8 2.5 1.8-0.9 1.8 1.2 1.8-0.5 1.8-0.1 1.8-0.5 1.8 2.1 1.8-6.7 1.8 5.5 1.8-0.5 1.8-0.7 1.8-0.1 1.8 0.6 1.8-0.8 1.8 1 1.8-2 1.8 2.3 1.8-0.9 1.8-0.3 1.8-1 1.8-0.3 1.8 1.5 1.8 0 1.8-1.6 1.8-1.2 1.8 2 1.8 0.4 1.8-0.6 1.8-1.5" stroke="#dfff20"/>
<path d="M772.2 1181.1l1.8-0.2 1.8 0.1 1.8 0.8 1.8-1.7 1.8-0.3 1.8-1.3 1.8 3.2 1.8-1.2 1.8 1.9 1.8 0.1 1.8-0.9 1.8 0.5 1.8-1.4 1.8 2.4 1.8 0.4 1.8-0.8 1.8 0.7 1.8-0.3 1.8-2.1 1.8-0.7 1.8 2.4 1.8-0.3 1.8 0.1 1.8 2.1 1.8 0.3 1.8 0.4 1.8 0.3 1.8-0.9 1.8 1 1.8-2.4 1.8 0.3 1.8-0.8 1.8 1.7 1.8 1.5 1.8-3.2 1.8 3.3 1.8-0.2 1.8-0.6 1.8 0.6 1.8-4.9 1.8 2.5 1.8 1.3 1.8-0.2 1.8-0.5 1.8 1.4 1.8-3.8 1.8 3.1 1.8-1.1 1.8 1.6 1.8 0.2 1.8-1.8 1.8 1.5 1.8-0.5 1.8-3.1 1.8 2.2 1.8 0.9 1.8-0.9 1.8 0.7 1.8-4 1.8 2.8 1.8 0.7 1.8-0.7 1.8 0.6 1.8-1.9 1.8-1.1 1.8 2.4 1.8-0.1 1.8-4.6 1.8 3.8 1.8 0.6 1.8-1 1.8-0.9 1.8 0 1.8-0.6 1.8 1.3 1.8-5.2 1.8 5.1 1.8-1 1.8 1.6 1.8-1.4 1.8-1.7 1.8 1.7 1.8 0.5 1.8-0.1 1.8 0.2 1.8-4.1 1.8 3 1.8 1.4 1.8-2.6 1.8 2.7 1.8-1.2 1.8-0.8 1.8 1.6 1.8-0.7 1.8 0.8 1.8 0.1 1.8-2.7 1.8 1 1.8 1.7 1.8 1.1 1.8-3.2 1.8 1.3 1.8 2.6 1.8-0.4 1.8 0.5 1.8-3.5 1.8 2.6 1.8-0.4 1.8 3.1 1.8-2.4 1.8 2 1.8 1 1.8-0.1 1.8-0.5 1.8 1.7 1.8-0.6 1.8-1.2 1.8 0.7 1.8 2.2 1.8-3.8 1.8 3.4 1.8 0 1.8-0.7 1.8 0.3 1.8 1.6 1.8-1" stroke="#ffff00"/>
<path d="M1494.8 1180.6l1.8-1.3 1.8-0.7 1.8 1.9 1.8-1.6 1.8 0 1.8-2.3 1.8 3 1.8 0.8 1.8-2.3 1.8 1.1 1.8 0.2 1.8 0 1.8-0.2 1.8-0.8 1.8 1.1 1.8-0.2 1.8-2.3 1.8 1.7 1.8-1.2 1.8 1.6 1.8 0 1.8-1.1 1.8-1 1.8 2.1 1.8-1.3" stroke="#ffff00"/>
<path d="M310.8 1182.7l1.8 1.9 1.8-0.1 1.8-1.4 1.8 0.7 1.8 0.4 1.8-0.1 1.8-1 1.8-3.8 1.8 4.5 1.8-2.7 1.8 1.7 1.8-0.6 1.8 0.6 1.8 0.7 1.8-1.1 1.8-1.6 1.8-0.4 1.8 0.9 1.8 0.6 1.8-4.2 1.8 3.4 1.8-1.3 1.8 0.6 1.8-1.7 1.8-1.4 1.8 3.2 1.8-3.9 1.8 1.2 1.8 2.9 1.8-0.5 1.8-1.7 1.8 1.4 1.8 0.6 1.8-0.6 1.8-0.9 1.8 0.9 1.8 0.8 1.8-1.2 1.8 1.3 1.8 1.1 1.8-0.5 1.8-0.6 1.8-1.7 1.8 0.6 1.8 3.2 1.8-0.5 1.8-2.4 1.8 1.9 1.8 2 1.8-0.8 1.8-0.2 1.8-2.3 1.8 2.1 1.8 0.1 1.8 1.4 1.8 0.5 1.8 0.6 1.8 1.2 1.8-2.2 1.8-0.7 1.8 2.9 1.8-2.5 1.8-0.2 1.8 3.5 1.8-2.2 1.8 2.4 1.8-3.6 1.8 1.6 1.8-1.2 1.8 0.8 1.8 1.2 1.8 1 1.8-0.5 1.8 0.4 1.8-1.6 1.8 0.5 1.8-1.2 1.8 2.3 1.8-1.3 1.8-1 1.8 0.2 1.8 0.9 1.8-2.6 1.8 1.4 1.8-0.1 1.8 0.2 1.8-0.1 1.8 1.3 1.8-0.7 1.8 0.2 1.8-1.2 1.8-0.1 1.8 0 1.8 1.1 1.8 0.4 1.8-0.1 1.8-1.7 1.8 0.3 1.8-0.7 1.8-0.1 1.8 2.4 1.8-2.8 1.8 3.1 1.8-1.7 1.8 1.6 1.8-1.7 1.8-2.5 1.8 2.5 1.8 1.3 1.8 0 1.8-2 1.8 0.4 1.8-0.4 1.8 2.2 1.8 0.6 1.8-1 1.8 1.1 1.8-1.7 1.8 1.3 1.8-0.8 1.8-3.4 1.8 2.2 1.8 1.7 1.8 0.5 1.8-0.5 1.8-0.3 1.8-1.8 1.8 2.9 1.8-0.7 1.8-4.1 1.8 4.3 1.8-2.9" stroke="#ffdf00"/>
<path d="M1205 1189.2l1.8 1.4 1.8 0 1.8-0.1 1.8-1.3 1.8 0.6 1.8 0.7" stroke="#ffdf00"/>
<path d="M422.9 1177.4l1.8 2.9 1.8-2.4 1.8 3 1.8-0.1 1.8-2.1 1.8 1.3 1.8 0.5 1.8-3.3 1.8 2.3 1.8 0.3 1.8-4.2 1.8 0.6 1.8 4.2 1.8-0.1 1.8-0.4 1.8 0.6 1.8 0.9 1.8-0.8 1.8 0.4 1.8 0.5 1.8-0.2 1.8-1.4 1.8-1.9 1.8 2.2 1.8 0.8 1.8-0.7 1.8-1.5 1.8 2.8 1.8-2.3 1.8 2.5 1.8-1.8 1.8 0.6 1.8-1.9 1.8 1.9 1.8-1.7 1.8 3 1.8-1 1.8-0.7 1.8 1.4 1.8-0.6 1.8-1.6 1.8 2.3 1.8-1.9 1.8 1.4 1.8-1.6 1.8 1.2 1.8 0 1.8-1.3 1.8 4.3 1.8-1.5 1.8 0.8 1.8 0.7 1.8-4.2 1.8 4.5 1.8-0.6 1.8-2.7 1.8 0.6 1.8 1.3 1.8 1.4 1.8 0.4 1.8 0.2 1.8-1.9 1.8-0.1 1.8-0.7 1.8 2.9 1.8-1.1 1.8 1.2 1.8-1.8 1.8 2.1 1.8-0.3 1.8-0.4 1.8-2.5 1.8 3.1 1.8-1 1.8-1.1 1.8 2 1.8-0.5 1.8-1 1.8 0.7 1.8 0.1 1.8-0.6 1.8-1.2 1.8 0.7 1.8-3.3 1.8 2 1.8 2.9 1.8-1.4 1.8-0.1 1.8-0.4 1.8 1.9 1.8-2.1 1.8 2 1.8-6.3 1.8 5.9 1.8-1.3 1.8 0.9 1.8-2.4 1.8 1.4 1.8-0.8 1.8-1.4 1.8 0.3 1.8-2.4 1.8 1.3 1.8-0.6 1.8-1.9 1.8 3.5 1.8-6.1 1.8 3.9 1.8-0.8 1.8 1.8 1.8-2.8 1.8 1.1 1.8-0.9 1.8 0.6 1.8-0.3 1.8-1.8 1.8 1.7 1.8-0.6 1.8-0.6 1.8-0.9 1.8 1.6 1.8-0.2 1.8-1.2 1.8-0.2 1.8-0.3 1.8 1.4 1.8-0.2 1.8-3.6 1.8 1.7 1.8 2 1.8-1.7 1.8 1.5 1.8-0.4 1.8-2.1 1.8 3.5 1.8-3.7 1.8 2.5 1.8 0 1.8-0.2 1.8 0.5 1.8 0.9 1.8 0.8 1.8-0.2 1.8 0.1 1.8 0.8 1.8-0.7 1.8-0.6 1.8 0.6 1.8 0.7 1.8 1.3 1.8-0.3 1.8 0.1 1.8-3.5 1.8 2.8 1.8 1.6 1.8-4.9 1.8 3.9" stroke="#ffbf00"/>
<path d="M1135.9 1173.3l1.8 1.8 1.8 0.1 1.8 0.5 1.8 1.6 1.8-3.3 1.8 3.5 1.8-0.1 1.8-0.7 1.8-1.7 1.8 1.8 1.8-2.4 1.8 0.9 1.8-2.9 1.8 4.1 1.8-1.8 1.8 1.1 1.8 0.3 1.8-2 1.8 2.1 1.8-2.3 1.8 1.2 1.8-0.1 1.8 0.5 1.8-1.3 1.8 0.9 1.8-0.1 1.8-0.8 1.8-0.8 1.8-0.4 1.8-2.3 1.8 1.4 1.8 2.2 1.8-0.5 1.8-0.1 1.8 0.7 1.8-1.7 1.8 0.3 1.8 0.8 1.8-1.3 1.8-0.7 1.8 1.9" stroke="#ffbf00"/>
<path d="M1318.5 1190.1l1.8 0.3 1.8-0.3 1.8-0.4 1.8-0.8 1.8 1.8 1.8-0.3" stroke="#ffbf00"/>
<path d="M190.5 1175l1.8 0.7 1.8-0.5 1.8-0.1 1.8-0.7 1.8 0.5 1.8-0.5 1.8-1.1 1.8-1.8 1.8 1.9 1.8 2.6 1.8-0.5 1.8-1.1 1.8 1.5 1.8-2.1 1.8 2.9 1.8-2 1.8 1.1 1.8-1.9 1.8 2.7 1.8-1.7 1.8 2.2 1.8-0.9 1.8 1.1 1.8-3.2 1.8 2.3 1.8-2.8 1.8 3.1 1.8 0.9 1.8-0.2 1.8-1.6 1.8 2.2 1.8-0.7 1.8 0.9 1.8-0.5 1.8-0.9 1.8-0.3 1.8 2.3 1.8-1.7 1.8 0.1 1.8 0.7 1.8 0.1 1.8 0.3 1.8-0.7 1.8-0.3 1.8 0.2 1.8-2.3 1.8 2.4 1.8-1.6 1.8-0.7 1.8 0.5 1.8 1.8 1.8-0.5 1.8-0.6 1.8 1.4 1.8-1 1.8-2.2 1.8-1.4 1.8 4 1.8-0.6 1.8-3 1.8 3.5 1.8-1.3 1.8 0.3 1.8 1.1 1.8-0.7 1.8 0.2 1.8 0.2 1.8 0.3 1.8-1.7 1.8 1.1 1.8-3.2 1.8 3.1 1.8-0.8 1.8 1.7 1.8-0.2 1.8-1.1 1.8-6 1.8 7 1.8 0.3 1.8-4.2 1.8 3.6 1.8-2.1 1.8 1.9 1.8-1.4 1.8 1.8 1.8 0.3 1.8-1.8 1.8 1.9 1.8 0.2 1.8-0.6 1.8 0.3 1.8-0.8 1.8 0.4 1.8-0.1 1.8 1 1.8 0 1.8-1.2 1.8 0.2 1.8-3.8 1.8 3.6 1.8 1.2 1.8 0.4 1.8-0.1 1.8 0.4 1.8-1.4 1.8-0.8 1.8 1 1.8-2 1.8 3.8 1.8 0.7 1.8-1.5 1.8 1.5 1.8-1 1.8-0.2 1.8 1.1 1.8-1.5 1.8-0.4 1.8 1.7" stroke="#ff9f00"/>
<path d="M1036.1 1183.4l1.8-0.7 1.8 0 1.8-1.1 1.8-0.6 1.8 0.5 1.8 1.3 1.8 0.4 1.8 0 1.8-0.1 1.8-0.5 1.8-1 1.8 1 1.8-1.7 1.8 0.5 1.8 0.1 1.8-0.8 1.8-0.2 1.8 3.2 1.8-1.5 1.8-1.8 1.8 1.8 1.8 1.2 1.8-0.9 1.8-0.3 1.8 1.5 1.8-3.1 1.8 1.8 1.8 0.8 1.8-2.7 1.8-0.5 1.8 2.6 1.8 0.1 1.8-1.3 1.8-0.2 1.8 1.9 1.8-3.1 1.8 1 1.8 0.2 1.8-1.8 1.8 2.7 1.8 0.5 1.8-0.9 1.8-0.4 1.8 0.2 1.8-1.5 1.8 2.4 1.8-0.3 1.8-0.1 1.8-3.3 1.8-0.2 1.8 0.8 1.8 3.4 1.8-1.3 1.8 0.4 1.8-1.9 1.8 0.1 1.8 0.3 1.8 1.2 1.8 1.8 1.8-3.5 1.8 2.2 1.8-1.9 1.8-1 1.8 2.8 1.8 2.4 1.8-1 1.8-1.2 1.8 2.8 1.8 0.1 1.8 0.4 1.8 0.5 1.8-4.5 1.8 2.4 1.8 1.1 1.8 0.6 1.8 1.7 1.8-1.6 1.8 1.8 1.8-6.1 1.8 6.6 1.8-1.6 1.8 1.9 1.8-0.8 1.8-1.4 1.8-0.1 1.8 0.1 1.8 2.8 1.8-0.9 1.8-0.7 1.8 1.7 1.8-0.2 1.8-0.3 1.8-1.4 1.8-2.1 1.8 2.7 1.8 1.4" stroke="#ff9f00"/>
<path d="M405.1 1179.5l1.8 0.1 1.8-4.5 1.8 4.1 1.8 0.4 1.8-0.3 1.8-0.7 1.8-0.4 1.8 0.8 1.8-1.7 1.8 0.2 1.8-1.8 1.8 1.9 1.8-2.4 1.8 1.5 1.8 1.5 1.8-2.5 1.8-1.1 1.8 2 1.8 1.3 1.8-1.2 1.8-0.9 1.8 1" stroke="#ff8000"/>
<path d="M1107.2 1180l1.8 4.1 1.8 0.3 1.8-2.3 1.8-0.2 1.8 0 1.8 0 1.8 0 1.8 1.6 1.8 0.1 1.8 0.7 1.8-1.3 1.8 0.9 1.8-2.3 1.8 2.3 1.8 0.4 1.8-4.4 1.8 2 1.8-1.4 1.8 3.9 1.8-0.4 1.8-3.7 1.8 2.7 1.8-0.5 1.8 2.4 1.8-2.7 1.8 3.2 1.8-3.8 1.8 3.2 1.8 0.9 1.8-0.7 1.8 0 1.8-1 1.8-0.9 1.8 3.5 1.8-0.1 1.8 0.7 1.8 0.4 1.8-2.4 1.8-0.3 1.8 2.6 1.8 0.1 1.8 0.4 1.8-3.4 1.8 3.7 1.8-1.3" stroke="#ff8000"/>
<path d="M1205 1179.3l1.8 0.5 1.8-1.3 1.8 2.3 1.8-0.1 1.8 0.4 1.8-0.6 1.8 0.1 1.8-1.7 1.8 1.6 1.8-0.7 1.8 0.5 1.8-1.4 1.8 2.8 1.8-4.3 1.8 2.2 1.8 0.9 1.8 0.8 1.8-2.3 1.8 3.3 1.8-0.1 1.8-0.9 1.8-0.7 1.8 1 1.8 0.1 1.8-1.3 1.8 1.6 1.8 1.1 1.8-2.4 1.8 1.5 1.8-0.7 1.8 0.9 1.8-2.9 1.8 2 1.8 1.1 1.8 0.6 1.8-3 1.8 3.2 1.8 0 1.8-3.7 1.8 3.8 1.8 0 1.8-0.6 1.8 0.8 1.8 0 1.8-0.1 1.8-0.6 1.8 0.2 1.8-2.9 1.8 3.5 1.8 0.2 1.8-4.1 1.8 1.8 1.8 2.5 1.8-0.3 1.8 0.2 1.8-3.4 1.8 1.5 1.8-0.1 1.8 1.3 1.8 1 1.8-1.8 1.8 1.1 1.8-1.8 1.8-3.3 1.8 3.7 1.8 1.7 1.8-3.3 1.8 3.2 1.8-4.1 1.8 2.8 1.8 0.1 1.8 1.2 1.8 0.1 1.8 0 1.8-3.3 1.8 0.2 1.8 1.1 1.8-2.2 1.8 3.8 1.8-2.7 1.8-2 1.8 4.5 1.8-3.1 1.8 1.5 1.8 0.4 1.8-1 1.8 0.9 1.8 1.2 1.8-1.2 1.8-0.2 1.8 0.3 1.8-1.1 1.8 2.9 1.8-2.2 1.8 2.2 1.8-1.5 1.8 1.2 1.8-1.1 1.8-2.7 1.8 1.6 1.8 0.5 1.8 1.6 1.8-1.2 1.8 0.7 1.8 0.7 1.8-2 1.8 1.4 1.8-0.4 1.8 0.2 1.8-1.8 1.8 2 1.8 0 1.8-1.1 1.8-0.3 1.8-4.4 1.8 3.4 1.8-1.4 1.8 3 1.8-0.9 1.8 0.1 1.8-1.7 1.8-2.6 1.8 3.5 1.8-2.2 1.8 2 1.8-1.5 1.8 0.9 1.8-1.9 1.8 0.8 1.8-0.3 1.8 1.4 1.8 0.7 1.8-5.4 1.8 4.9 1.8-2.3 1.8 2.2 1.8-1.7 1.8 0.8 1.8-0.5 1.8 1.2 1.8-2.3 1.8 2.5 1.8-0.8 1.8-0.4" stroke="#ff8000"/>
<path d="M440 1185.8l1.8 1 1.8-2.8 1.8 2.6 1.8-0.9 1.8 1.4 1.8-0.6 1.8 0 1.8 0.4 1.8-1 1.8 0.3 1.8-0.1 1.8-2.4 1.8 2.2 1.8-0.7 1.8 1.8 1.8-1.6 1.8 1.4 1.8-4.4" stroke="#ff6000"/>
<path d="M621.8 1181.1l1.8 3.8 1.8-1.8 1.8-0.3 1.8 2.1 1.8-0.7 1.8-0.2 1.8-0.6 1.8 0.5 1.8-1.6 1.8 0.4 1.8-1 1.8 1.7 1.8-1 1.8-1.4 1.8 1 1.8-1 1.8-0.5 1.8 0.8 1.8-1.6 1.8-2.7 1.8 3.2 1.8-1.6 1.8-4.1 1.8 4 1.8-1.4 1.8 2.3 1.8-1.1 1.8-0.6 1.8-0.9 1.8 1 1.8 0" stroke="#ff6000"/>
<path d="M1293.9 1177.8l1.8-0.4 1.8-1.4 1.8 1.9 1.8-1.3 1.8 0.9 1.8-1.3 1.8 1.1 1.8-0.8 1.8-4.1 1.8 2.2 1.8 1 1.8-2 1.8 2.5 1.8 0.1 1.8 0.2 1.8-2.5 1.8 2.5 1.8 0.5 1.8-1.5 1.8 0.8 1.8-1 1.8-1.3 1.8 1.6 1.8 0.7 1.8-0.5 1.8 0.9 1.8 0 1.8-0.4 1.8-1.2 1.8 0 1.8 1.9 1.8-2.2 1.8 2.2 1.8-2.4 1.8 1 1.8-1.6 1.8 2.2 1.8-1 1.8 0.4 1.8 1 1.8-0.5 1.8-1.5" stroke="#ff6000"/>
<path d="M1455 1178.2l1.8-0.8 1.8-0.6 1.8 1.6 1.8 1.2 1.8 0.9 1.8 0.7 1.8 0 1.8-1.5 1.8 2.2 1.8-2.2 1.8 1.7 1.8-0.9 1.8 2 1.8 0 1.8-0.5 1.8 1.5 1.8 0 1.8 0.2 1.8 0.2 1.8-2.5 1.8-0.4 1.8 3.5 1.8 0.1 1.8 0.8 1.8 0.3 1.8-1.8 1.8 2.2 1.8-0.9 1.8 0.9 1.8 0.7 1.8-1.4 1.8-4.9 1.8 6.3 1.8-0.3 1.8-7.2 1.8 6.5 1.8-0.8 1.8 0.6 1.8 2.1 1.8-4.4 1.8 3.9 1.8 0.1 1.8 0.1 1.8-2.2 1.8 3 1.8-0.1 1.8-0.2" stroke="#ff6000"/>
<path d="M190.5 1174.2l1.8 2 1.8 1 1.8-0.1 1.8-4.4 1.8 2.4 1.8 1.4 1.8-0.8 1.8 1 1.8 0.2 1.8-1.2 1.8-1.1 1.8 2.2" stroke="#ff4000"/>
<path d="M723.7 1178l1.8 1 1.8-2.7 1.8 2.1 1.8-0.1 1.8-2.2 1.8 0.8 1.8-0.3 1.8 1.6 1.8-1.6 1.8 1.9 1.8-1.7 1.8 1.4 1.8-0.2 1.8-3.3 1.8 2.9 1.8-1.5 1.8 2 1.8-2.1 1.8-0.4 1.8 2.6 1.8-1.8 1.8-0.1 1.8 2.5 1.8-0.7 1.8 0.5 1.8-0.9 1.8 0.4 1.8-0.4 1.8-0.9 1.8 0.9 1.8-2.9 1.8 3.2 1.8-0.4 1.8 1.6 1.8 0.7 1.8-1.3 1.8-0.7 1.8 2.4 1.8-1.5 1.8 0.6 1.8-0.3 1.8 1.3 1.8 0.5 1.8-1.8 1.8 0.5 1.8 1.6 1.8-2.1 1.8 1 1.8-2.4 1.8 3.4 1.8-2.5 1.8 2.9 1.8-0.2 1.8 0.1 1.8-1.1 1.8 0.7 1.8-1.1 1.8 1.2 1.8-1.2 1.8 0.9 1.8-1.9 1.8 0.5 1.8-0.8 1.8-1.1 1.8 2.4 1.8 1.5 1.8-0.1 1.8-0.2 1.8-1.3 1.8-3.6" stroke="#ff4000"/>
<path d="M1486.1 1174.7l1.8 2.6 1.8-0.6 1.8 0.9 1.8-0.2 1.8-0.7 1.8-0.6 1.8-1.1 1.8 2.6 1.8-1 1.8 0.7 1.8 0.4 1.8-2.2 1.8 0.4 1.8-1.2 1.8 1 1.8-1.4 1.8 0.9 1.8 1.9 1.8-0.8 1.8 0.5 1.8-0.8 1.8-2.1 1.8 3.1 1.8-1.9 1.8-3.9 1.8 5.7 1.8-0.5 1.8 0.1 1.8-1 1.8-0.1" stroke="#ff4000"/>
<path d="M190.5 1187.3l1.8 1.2 1.8-0.5 1.8-0.1 1.8-1.7 1.8 2.7 1.8-1.1 1.8-0.4 1.8-0.1 1.8 0.5 1.8-1.7 1.8 2.5 1.8-0.2 1.8-0.4 1.8 0.4 1.8-1.1 1.8-1.4 1.8-0.4 1.8-0.1 1.8 2 1.8-5.3 1.8 1.9 1.8 2.5 1.8-3.5 1.8 2.4 1.8-1 1.8 2.1 1.8-3.2 1.8 2.8 1.8-2.2 1.8-1.4 1.8-1.6 1.8 4.6 1.8-0.1 1.8-5 1.8 2.2 1.8 0.7 1.8-1.6 1.8 3.8 1.8-1.3 1.8 1 1.8-3.8 1.8 4 1.8-0.7 1.8-0.2 1.8 0.9 1.8 0 1.8-1.1 1.8 1 1.8 0.2 1.8-0.4 1.8-1.4 1.8-2.1 1.8 2 1.8 0.7 1.8-2.8 1.8 2.3 1.8 1.3 1.8-1 1.8 0.9 1.8-2 1.8 2.9 1.8-0.1 1.8-2.9 1.8 2.5 1.8-0.8 1.8-2.4 1.8 1.1 1.8 2.4 1.8-2.5 1.8 0.5 1.8 0.7 1.8 1 1.8 0.7 1.8-0.8 1.8 1.1 1.8-2.3 1.8-0.6 1.8 2.4 1.8 0.5 1.8-0.3 1.8-0.7 1.8 0.4 1.8-1 1.8-1.4 1.8 4.3 1.8-0.1 1.8-2.1 1.8 2 1.8 0.3 1.8-1.3 1.8 0.7 1.8-0.5 1.8 1.2 1.8 0.8 1.8-1.2 1.8-2.1 1.8 3.1 1.8-0.6 1.8 0.6 1.8 0.9 1.8 0.4 1.8 0 1.8-3.9 1.8 0.8 1.8 1.7 1.8 0.3 1.8-1.2 1.8 1.5 1.8 1.2 1.8-4.4 1.8 2.8 1.8 0.8 1.8-0.9 1.8 1.7 1.8-1.5 1.8 0.4 1.8 1 1.8-3.4 1.8 3" stroke="#ff2000"/>
<path d="M933.6 1183.6l1.8-2 1.8 1.2 1.8-0.5 1.8 1.1 1.8-3 1.8 1.4 1.8-0.7 1.8 1.2 1.8 0.8 1.8 0.6 1.8 0.1 1.8-1.4 1.8-1.9 1.8 2.6 1.8-0.2 1.8 1.2 1.8-4.2 1.8 2.5 1.8 1.2 1.8 0.1 1.8-2.4 1.8 1.7 1.8 0.6 1.8-0.6 1.8 0.8 1.8-2.5 1.8 2.6 1.8 0 1.8 0.2 1.8-1.2 1.8 0.9 1.8 0.8 1.8-2.7 1.8 2.5 1.8-1.7 1.8 2.3 1.8-0.2 1.8-1.5 1.8-1.2 1.8 3.1 1.8-1.5 1.8 0.8 1.8-0.7 1.8 1.3 1.8 0.7 1.8-2.8 1.8 1.9 1.8 0.5 1.8 0.6 1.8-0.7 1.8-0.9 1.8-0.7 1.8-2.1 1.8 3.4 1.8 0.7 1.8-0.8 1.8 1.2" stroke="#ff2000"/>
<path d="M762 1174.7l1.8-1.5 1.8 1.2 1.8 1.7 1.8 0.9 1.8 0 1.8-2.7 1.8 0.9 1.8-0.3 1.8 2 1.8-0.5 1.8 0.7 1.8-0.1 1.8-0.5 1.8-1.1 1.8 2.1 1.8-1.9 1.8-0.1 1.8-0.4 1.8 2.9 1.8-0.1 1.8 0.3 1.8-0.6 1.8 0.2 1.8-0.6 1.8-1 1.8 0.9 1.8-2.1 1.8 4.3 1.8 0.1 1.8 0 1.8 0.8 1.8-0.4 1.8-1.3 1.8 1.3 1.8 0.2 1.8 1.2 1.8-1.3 1.8-1.6 1.8 3 1.8-4.2 1.8 1.6 1.8 0.2 1.8 0.4" stroke="#df0000"/>
<path d="M1399.1 1181.7l1.8-1.9 1.8 2.8 1.8-0.9 1.8 0.9 1.8-1 1.8-0.6 1.8 1.5 1.8 0.6 1.8-0.4 1.8-0.3 1.8 0.1 1.8-1.3 1.8-2 1.8 4.2 1.8-0.6 1.8-0.8 1.8 1.3 1.8 0 1.8-0.1 1.8-2.3 1.8 0 1.8 2.1 1.8 0.9 1.8 0.4 1.8 0.1 1.8-1.6 1.8-0.5 1.8 2.3 1.8-1.3 1.8 1 1.8-1.9 1.8 1.9 1.8-2.4 1.8 2.9 1.8-3.2 1.8 3 1.8 0.4 1.8 0 1.8-0.7 1.8-1 1.8 0.5 1.8 0.3 1.8-0.3 1.8-0.1 1.8-0.6 1.8 1.8 1.8-0.7 1.8 0.6 1.8-2 1.8-0.6 1.8 2.4 1.8-4.5 1.8 2.4 1.8-2.3 1.8 3.2 1.8 1 1.8 0.3 1.8 0.1 1.8-1.9 1.8 1.6 1.8-1.1 1.8-0.9 1.8 0.9 1.8 0.7 1.8 0.1 1.8-2.1 1.8 2 1.8-2.2 1.8 0.8 1.8-0.4 1.8 0.3 1.8-0.3 1.8 2.3 1.8-0.1 1.8-0.1 1.8-3.4 1.8 0.9 1.8 1.7" stroke="#df0000"/>
<path d="M560.3 1185l1.8-0.6 1.8 2.8 1.8-0.2 1.8-0.5 1.8-0.5 1.8 0.6 1.8 0.6 1.8 0.2 1.8-3 1.8 2.3 1.8 1.1 1.8-5.2 1.8 1.5 1.8 2.8 1.8 0.2 1.8-1.1 1.8 0.8 1.8 0.7 1.8-0.5 1.8-2.6 1.8 0.4 1.8 2.5 1.8 0.7 1.8 0.2 1.8-0.1 1.8-0.7 1.8-3.1 1.8 2.5 1.8 1.2 1.8-4.6 1.8 3.1 1.8-1.6 1.8 0.6 1.8 0.4 1.8-3.8 1.8 2.7 1.8 1.9 1.8-0.2 1.8 0 1.8-0.1 1.8-0.3 1.8-3.2 1.8 2 1.8-0.1 1.8 1.6 1.8-2.3 1.8 2 1.8-0.5 1.8-2.7 1.8 0.8 1.8 1.2 1.8-0.6 1.8-1.2 1.8 0.3 1.8 1.5 1.8-1.2 1.8-2.8 1.8 2.3 1.8-2 1.8 2.6 1.8-0.6 1.8 0.5 1.8-0.6 1.8-0.2 1.8 0.3 1.8-3.3 1.8-1 1.8 2.8 1.8 0.9 1.8-2.1 1.8 1.7 1.8-1 1.8 0.6 1.8-0.9 1.8-1.4 1.8 1.8 1.8-1.5" stroke="#9f0000"/>
<path d="M1372.5 1181.2l1.8 1.2 1.8 0 1.8 0.2 1.8-1.4 1.8 0.3 1.8-2.4 1.8 3 1.8 0.8 1.8-0.4 1.8-2.2 1.8 1 1.8-1.4 1.8 2.6 1.8 0.1 1.8-0.9 1.8 0.3 1.8-0.7 1.8-0.4 1.8 1.7 1.8 0.4 1.8-2.9 1.8 0.3 1.8 2 1.8-1.8 1.8-1.3 1.8 1.5 1.8 1.1 1.8-3.8 1.8 2.9 1.8 0.1 1.8 0.4 1.8 1.1 1.8 0 1.8-0.3 1.8-0.2 1.8 0.1 1.8 0.7 1.8-1.3 1.8 1.3 1.8 0.1 1.8-3.4 1.8 1.6 1.8 1.4 1.8 0.1 1.8-3.2 1.8 2.4 1.8-1 1.8-0.2 1.8-3.3 1.8 5.6 1.8-4.9 1.8 4.3 1.8-1.1 1.8 1.3 1.8-2.4 1.8-0.6 1.8 2.8 1.8-2.3 1.8 1.1 1.8-2.1 1.8 2.7 1.8-2.1 1.8 3.3 1.8-1.7 1.8 0.8 1.8 1.2 1.8-3.4 1.8 2.6 1.8-0.5 1.8-0.5 1.8 0 1.8-2 1.8 3.5 1.8-0.7 1.8-0.3 1.8-0.5 1.8 0.6 1.8-0.4 1.8 0 1.8-1 1.8-1.5 1.8-0.7 1.8 3 1.8-2.2 1.8 0.7 1.8 2 1.8-2.1 1.8 1.1 1.8-2.5 1.8 2.9 1.8 0.3 1.8 0.5 1.8-0.1" stroke="#9f0000"/>
<path d="M1534.9 1188.7l1.8-6.1 1.8-1.4 1.8 0.1 1.8-0.4 1.8-0.8 1.8-0.6 1.8-0.4 1.8-0.9 1.8-2.6 1.8-3.3 1.8-1.1 1.8 1.9 1.8 2.3 1.8 0.9" stroke="#0000bf"/>
<path d="M1534.9 1188.7l1.8-0.4 1.8-0.3 1.8-0.3 1.8-0.4 1.8-0.6 1.8-1.1 1.8-2.3 1.8-3.4 1.8-1.7 1.8 1.3 1.8 2 1.8 1 1.8-0.3 1.8-1.1 1.8-67.2 1.8-195.2 1.8 181.2 1.8 73.4 1.8-0.5 1.8-0.2 1.8-1.5 1.8-1.9 1.8 0.7 1.8 2.8 1.8 1.5 1.8 0 1.8 1.1 1.8 3.5 1.8 2.9 1.8 1.3 1.8 0.3 1.8-0.5 1.8-1.3 1.8-2.3 1.8-2.4 1.8-3 1.8-5.4 1.8-3.1 1.8 5.5 1.8 6 1.8 2.3 1.8 0.3 1.8-0.1 1.8 0 1.8-0.2 1.8 0.1 1.8 1.3 1.8 1.5 1.8 0.8 1.8-0.1 1.8-1.1 1.8-2.6 1.8-2.9 1.8 0 1.8 2 1.8 1.3 1.8-0.1 1.8-2.2 1.8-4.1 1.8-2.4 1.8 1.9 1.8 3.3 1.8 1.4 1.8-2.1 1.8-7.7 1.8-8.4 1.8 3.7 1.8 8.8 1.8 5.6 1.8 2.9 1.8 1.5 1.8 0.6 1.8 0 1.8-0.2 1.8-0.5 1.8-1.6 1.8-3.3 1.8-3.2 1.8 0.5 1.8 2.5 1.8 1.3 1.8-1.3 1.8-6.7 1.8-19.3 1.8-28.2 1.8-8.8 1.8 5.1 1.8 5 1.8 15.2 1.8 21.7 1.8 13.2 1.8 4.9 1.8 0.7 1.8-2 1.8-3.5 1.8 0.5 1.8 4.4 1.8 2.5" stroke="#0020ff"/>
<path d="M1534.9 1188.7l1.8-1.4 1.8-0.4 1.8-0.4 1.8-0.5 1.8-0.8 1.8-0.8 1.8-0.5 1.8-0.3 1.8-0.4 1.8-0.9 1.8-2 1.8-4.8 1.8-7.1 1.8-0.6 1.8 6.5 1.8 4.3 1.8 1 1.8-0.7 1.8-1.4 1.8-0.9 1.8 0.7 1.8 1.5 1.8-23.8 1.8 25.9 1.8-0.1 1.8-1.2 1.8-1.9 1.8-2.2 1.8-3.5 1.8-4.9 1.8-3.4 1.8-0.6 1.8-2.9 1.8-11.6 1.8-20.1 1.8-9.1 1.8 12.7 1.8 19 1.8 14.8 1.8-62.9 1.8 61.4 1.8 14.3 1.8-0.6 1.8-1.8 1.8-2.4 1.8-1.1 1.8 0.6 1.8 1.1 1.8 0.7 1.8-0.2 1.8-1.5 1.8-1.9 1.8 0.3 1.8 3.5 1.8 3.3 1.8 1.4 1.8 0.2 1.8-0.6 1.8-0.6 1.8 0.1 1.8 0.6 1.8 0.3 1.8-0.4 1.8-1.3 1.8-2.4 1.8-4.7 1.8-8.6 1.8-9.8 1.8-4 1.8 4.1 1.8 8.4 1.8 6.9 1.8 4.1 1.8 3.2 1.8 2.5 1.8 1 1.8-0.7 1.8-2.3 1.8-3.5 1.8-2.5 1.8-1.4 1.8-2.9 1.8-3.9 1.8-0.5 1.8 2.7 1.8 0.4 1.8-6.4 1.8-13.4 1.8-41.7 1.8 56.4 1.8 10 1.8 0.2 1.8-6.7 1.8-7.3 1.8 0.2 1.8 2.9 1.8-0.4 1.8-2.5" stroke="#0040ff"/>
<path d="M1560.3 1160.2l1.8 11.3 1.8 6.5 1.8 1.4 1.8-0.2 1.8-0.1 1.8 0.4 1.8 0.4 1.8-0.4 1.8-2 1.8-3.9 1.8-1.6 1.8 3.5 1.8 4 1.8 1.8 1.8 0.5 1.8-0.6 1.8-2.7 1.8-8 1.8-7.6 1.8 6.8 1.8 8.2 1.8 2.7 1.8 0.6 1.8-0.2 1.8-0.8 1.8-2 1.8-4.4 1.8-5.9 1.8-5.7 1.8-5.2 1.8-1.7 1.8 4.1 1.8 6.6 1.8 6.2 1.8 4.3 1.8 2 1.8 0.1 1.8-1.5 1.8-2.9 1.8-1.6 1.8 2.7 1.8 3.2 1.8 1.3 1.8 0.2 1.8-0.7 1.8-0.4 1.8 0.9 1.8 1.2 1.8 0.3 1.8-1.1 1.8-4.3 1.8-10.2 1.8-15.5 1.8-16.2 1.8-8.6 1.8 14.2 1.8 23.6 1.8 11.5 1.8 3.1 1.8 0.1 1.8-1.5 1.8-3.3 1.8-4.6 1.8-0.9 1.8 3.7 1.8 1.8 1.8-2.9 1.8-5.9 1.8 1.4 1.8 6.9 1.8 3 1.8-1.5 1.8-5.8 1.8-8.4 1.8-6.5 1.8-0.8 1.8 7.1 1.8 9.3 1.8 4.8 1.8 0.3 1.8-2.4 1.8-1.2 1.8 2.2 1.8 2.3" stroke="#0080ff"/>
<path d="M1560.3 1175.1l1.8 2.9 1.8 2.9 1.8 1.3 1.8 0.5 1.8 0.1 1.8 0 1.8-0.1 1.8-0.3 1.8-0.7 1.8-1.1 1.8-0.5 1.8 0.2 1.8-0.4 1.8-2.3 1.8-4.8 1.8-5.2 1.8-1.5 1.8 2.3 1.8 3.8 1.8 3.9 1.8 3.1 1.8 2.1 1.8 1 1.8-0.3 1.8-1.9 1.8-4 1.8-3.2 1.8-0.6 1.8 0.4 1.8 1.9 1.8 2.3 1.8 0.3 1.8-2.6 1.8-5.1 1.8-4.6 1.8-0.3 1.8 5.9 1.8 6.9 1.8 2.9 1.8 0.2 1.8-66.6 1.8-195.2 1.8 181.2 1.8 81.5 1.8-0.3 1.8-1 1.8-0.4 1.8 1 1.8 1.4 1.8 0.7 1.8 0.1 1.8-0.6 1.8-1.7 1.8-3 1.8-2.2 1.8 0.1 1.8 0 1.8-1 1.8 0.3 1.8 2.1 1.8 1.8 1.8 0.1 1.8-1.4 1.8-2.1 1.8-1.6 1.8 0 1.8 1.7 1.8 1.4 1.8 0.4 1.8-0.3 1.8 0.4 1.8 1.7 1.8 2.1 1.8 1.4 1.8 0.6 1.8-0.1 1.8-1.1 1.8-3.3 1.8-4.6 1.8-1.6 1.8 3.1 1.8 4.4 1.8 2.6 1.8 0.8" stroke="#80ff80"/>
<path d="M1560.3 1170.9l1.8-0.1 1.8 0.1 1.8-0.5 1.8-1.1 1.8-1.4 1.8-2.1 1.8-2.8 1.8-0.6 1.8 3.3 1.8 3.7 1.8 2.1 1.8 0.8 1.8 0.2 1.8-0.3 1.8-0.7 1.8-0.8 1.8-0.2 1.8 0.5 1.8-0.1 1.8-2.2 1.8-6.2 1.8-7.9 1.8-0.9 1.8-9.3 1.8 17.2 1.8-1.3 1.8-4.8 1.8-2.7 1.8 2.3 1.8 0.7 1.8-4.2 1.8-1.8 1.8 9.1 1.8 9.4 1.8 3.9 1.8 0.9 1.8-0.1 1.8-0.8 1.8-2.5 1.8-6.4 1.8-10.8 1.8-7.7 1.8-0.1 1.8 3.9 1.8 4.4 1.8 3.6 1.8 2.2 1.8 1.8 1.8 3.6 1.8 5 1.8 3.1 1.8 1.3 1.8-50.4 1.8 48.3 1.8 2.9 1.8-17.5 1.8-94.8 1.8 88 1.8 22 1.8-2.6 1.8-3.2 1.8-4.2 1.8-4.7 1.8-1.9 1.8 1.6 1.8 2.4 1.8 1.9 1.8 2.3 1.8 2.6 1.8 1.6 1.8 0.6 1.8 0.1 1.8-0.1 1.8-0.4 1.8-1 1.8-1.6 1.8-1.1 1.8-0.3 1.8-2.1 1.8-5.5 1.8-4.9 1.8 2.7 1.8 6.1 1.8 3.4" stroke="#bfff40"/>
<path d="M1534.9 1188.7l1.8-0.8 1.8-0.8 1.8-1.4 1.8-1.8 1.8-1.1 1.8-0.4 1.8-0.5 1.8-0.3 1.8 0.4 1.8 0.6 1.8-0.2 1.8-1 1.8-67.5 1.8-195.2 1.8 181.2 1.8 79.3 1.8-0.3 1.8-2.2 1.8-4.7 1.8-7.3 1.8-3.9 1.8 4 1.8 6.6 1.8 4.5 1.8 1.3 1.8-2 1.8-5.1 1.8-4.4 1.8-18.6 1.8 24.9 1.8 5.3 1.8 3.3 1.8 1.6 1.8 0.4 1.8-0.2 1.8-0.1 1.8 0.3 1.8 0.3 1.8 0 1.8-0.2 1.8-7.5 1.8-52 1.8 48.3 1.8 9.4 1.8-0.2 1.8-0.4 1.8-0.2 1.8 0.5 1.8 1 1.8 1.2 1.8 1.1 1.8 0.5 1.8 0 1.8-0.4 1.8-0.7 1.8-0.5 1.8-0.1 1.8-10.7 1.8-59.5 1.8 55.3 1.8 9.7 1.8-1.7 1.8-1.4 1.8-1.5 1.8-1.9 1.8-4.4 1.8-10.4 1.8-13 1.8-25.4 1.8 44.2 1.8 11.3 1.8 3.8 1.8-0.4 1.8-3.2 1.8-2.2 1.8 3.5 1.8 4.7 1.8 2.1 1.8 0.3 1.8-0.6 1.8-0.5 1.8-0.5 1.8-1.2 1.8-2.7 1.8-3.8 1.8-1.2 1.8 3.8 1.8 4.5 1.8 2.3 1.8 0.8 1.8 0.2 1.8 0 1.8-0.4 1.8-0.6 1.8-0.8 1.8-1 1.8-0.8 1.8-0.6" stroke="#ffff00"/>
<path d="M1642.7 1183.5l1.8-1.1 1.8-2.7 1.8-1.7 1.8 1.8 1.8 1.6 1.8-0.9 1.8-5.2 1.8-9.1 1.8 1.5 1.8 9.1 1.8 4.1 1.8 0.4 1.8-1.8 1.8-4 1.8-5.9 1.8-5.1 1.8 0.5 1.8 5.4 1.8 5.1 1.8 2.8 1.8 1.5 1.8 1.4 1.8 0.9 1.8 0 1.8-1.5 1.8-3 1.8-1.9 1.8 1.6 1.8 2.8 1.8 1.6 1.8 0.4 1.8-0.8 1.8-2 1.8-3.4 1.8-5.6 1.8-11.5 1.8-23.6 1.8-28.8" stroke="#ff8000"/>
<path d="M1534.9 1188.7l1.8-1.2 1.8-1.9 1.8-1.9 1.8-1.3 1.8-1.6 1.8-3.1 1.8-3.6 1.8-21.8 1.8-105.3 1.8 97.8 1.8 26.7 1.8-9.9 1.8-14.2 1.8-3 1.8 12.5 1.8 10.4 1.8 3.6 1.8 0.8 1.8 0.2 1.8-0.2 1.8 0.2 1.8 0.5 1.8-0.2 1.8-2.7 1.8-10.8 1.8-16.1 1.8 2 1.8 12.2 1.8 7.6 1.8 2.9 1.8 0.1 1.8-1.5 1.8-0.9 1.8 1 1.8 0.8 1.8-1.2 1.8-2.7 1.8 0.3 1.8 3.9 1.8 2.3 1.8-0.4 1.8-3.3 1.8-7.4 1.8-11.3 1.8-6.6 1.8 11.3 1.8 13.7 1.8 4.8 1.8 0.6 1.8-0.5 1.8 0.1 1.8 0.9 1.8 0.6 1.8 0.3 1.8-0.3 1.8-0.9 1.8-0.9 1.8 0.1 1.8 0.7 1.8 0.4 1.8-0.5 1.8-1.6 1.8-2.4 1.8-3.7 1.8-4.9 1.8 0 1.8 6.1 1.8 4.5 1.8 1.6 1.8-0.1 1.8-0.4 1.8 0.5 1.8 0.7 1.8-0.7 1.8-3.1 1.8-4.6 1.8-0.8 1.8 3.3 1.8 2.6 1.8 0.2 1.8-1.8 1.8-2 1.8-0.8 1.8-1.4 1.8-4.1 1.8-5.7 1.8-2.7 1.8 0.7 1.8-0.9 1.8-3.6 1.8-49.1 1.8 53.7 1.8 6.9 1.8 4 1.8 2.9 1.8 3.7 1.8 3.1 1.8 1.3" stroke="#ff6000"/>
<path d="M1534.9 1188.7l1.8-3.5 1.8-2.6 1.8-1.4 1.8-0.9 1.8-0.8 1.8 0.7 1.8 2.8 1.8 2.1 1.8 0.6 1.8-1 1.8-4.2 1.8-13.4 1.8-28.2 1.8-136.3 1.8 126.7 1.8 34.5 1.8 10.2 1.8 3.9 1.8 1.4 1.8 0.5 1.8 0.6 1.8 0.6 1.8-0.5 1.8-2.9 1.8-5.2 1.8-2.8 1.8 3.1 1.8 3.5 1.8 1 1.8-1.2 1.8-3.4 1.8-8.5 1.8-16.7 1.8-13.4 1.8 6.2 1.8 15.5 1.8 12.9 1.8 8.4 1.8 4.1 1.8 1 1.8-1.1 1.8-3.8 1.8-5.4 1.8-0.9 1.8-26.5 1.8 34.5 1.8 4.6 1.8-0.6 1.8-3.4 1.8-7 1.8-4.4 1.8 3.1 1.8 4.6 1.8 1.9 1.8-0.8 1.8-1.8 1.8 0 1.8 2.1 1.8 2.2 1.8 1.1 1.8-0.5 1.8-40.9 1.8 38 1.8 3.5 1.8-3.3 1.8-4.6 1.8-2 1.8 0.3 1.8-1.1 1.8-3.5 1.8-3.3 1.8 0.6 1.8 3.6 1.8-28.2 1.8 35 1.8 3 1.8 2.2 1.8 1.2 1.8 0 1.8-1.1 1.8-1.9 1.8-3.5 1.8-8.7 1.8-20.1 1.8-32.4 1.8 18.3 1.8-36.1 1.8 17.5 1.8 16.2 1.8 13.2 1.8 9.5 1.8-2.5 1.8-113.4 1.8 105.3 1.8 26.3 1.8-9.4 1.8-92.9 1.8 79.4" stroke="#ff4000"/>
<path d="M1554 1179.9l1.8-0.5 1.8-0.8 1.8-1 1.8-0.8 1.8-0.3 1.8-0.4 1.8-0.8 1.8-0.6 1.8-0.9 1.8-0.7 1.8 0.2 1.8 1.2 1.8 0.8 1.8-0.1 1.8-1.6 1.8-3.4 1.8-1.5 1.8 2.3 1.8 1.9 1.8 0.4 1.8-0.4 1.8-0.1 1.8 0.1 1.8 0 1.8 0.1 1.8 0.3 1.8 0.3 1.8 0.4 1.8 0.1 1.8-0.5 1.8-1.7 1.8-1.7 1.8 0.6 1.8 2.3 1.8 1.3 1.8 0 1.8-40.6 1.8 37.7 1.8-1.1 1.8-1.8 1.8-5.8 1.8-6.2 1.8 4.5 1.8-4.2 1.8-94.8 1.8 88 1.8 20.6 1.8-6.3 1.8-13.2 1.8-8.9 1.8 9.6 1.8 13.4 1.8 6.3 1.8 2 1.8 0.3 1.8-0.7 1.8-2.2 1.8-7 1.8-17.9 1.8-20.8 1.8 6.3 1.8 23.4 1.8 13.7 1.8 4.1 1.8 0.6 1.8-3.8 1.8-65 1.8 60.4 1.8 9.2 1.8-1.6 1.8-46.8 1.8 42 1.8 0.4 1.8 2.4 1.8 2 1.8 1.1 1.8 0.4 1.8 0 1.8-0.7 1.8-1.9 1.8-3.3 1.8-2.5 1.8 0.9 1.8 3.2 1.8 2.5 1.8 1.1 1.8 0.3 1.8-0.1" stroke="#ff2000"/>
<path d="M1534.9 1188.7l1.8-0.2 1.8-0.3 1.8-0.5 1.8-0.8 1.8-1.1 1.8-0.8 1.8-0.1 1.8 0.2 1.8 0 1.8-0.4 1.8-0.8 1.8-1 1.8-0.9 1.8-0.2 1.8 0.7 1.8 0.3 1.8-0.5 1.8-1.5 1.8-2.6 1.8-3.4 1.8-0.7 1.8 3.2 1.8 3.2 1.8 1.5 1.8 0.5 1.8-0.9 1.8-3.8 1.8-7.9 1.8-6.6 1.8 0.8 1.8 4.4 1.8 1.8 1.8-3.4 1.8-8.6 1.8-11.1 1.8-8.5 1.8 4.8 1.8 18.3 1.8 13.9 1.8 5 1.8 0.8 1.8-1 1.8-0.4 1.8 1.4 1.8 0.8 1.8-1.6 1.8-6.6 1.8-11.4 1.8-4.1 1.8 5.5 1.8 5.5 1.8 3.7 1.8 3 1.8 1.3 1.8-1.6 1.8-2.6 1.8 1.5 1.8 4.4 1.8 2.4 1.8 0.4 1.8-0.8 1.8-0.9 1.8-1.2 1.8-2.4 1.8-3.6 1.8-3.3 1.8-3.7 1.8-8.6 1.8-17 1.8-14.4 1.8 6.1 1.8 15.1 1.8 7.8 1.8-0.9 1.8-2.2 1.8 6.5 1.8 9.5 1.8 4.8 1.8 1 1.8-0.7 1.8-1.6 1.8-3.7 1.8-8.8 1.8-12.7 1.8-2.4 1.8 12.2 1.8 12 1.8 6 1.8 2.4 1.8 1.1 1.8 1.4 1.8 1.6 1.8 0.9 1.8-0.1 1.8-1.4 1.8-3.3 1.8-5.2 1.8-4.3" stroke="#ff2000"/>
<path d="M1534.9 1188.7l1.8-1.4 1.8-1.6 1.8-1.3 1.8-0.3 1.8 0.3 1.8-0.2 1.8-4 1.8-40.3 1.8 37.4 1.8-2 1.8-10.1 1.8-14.6 1.8-10.8 1.8-3.4 1.8 3.1 1.8 7.9 1.8 6 1.8 0.8 1.8-1.6 1.8-0.2 1.8 1.3 1.8 1.5 1.8 5 1.8 7.4 1.8 4.2 1.8 1.3 1.8 0.3 1.8 0.2 1.8-0.4 1.8-1.5 1.8-1.6 1.8-0.2 1.8 0.2 1.8-1.6 1.8-4.7 1.8-7.1 1.8-1.3 1.8 7.3 1.8 6.8 1.8 2.9 1.8 0.8 1.8-0.5 1.8-1.7 1.8-3.5 1.8-7.3 1.8-15.9 1.8-20.5 1.8 8.5 1.8-0.9 1.8-154.3 1.8 143.3 1.8-111.4 1.8 122.5 1.8 34.1 1.8-2.4 1.8-0.2 1.8-2.7 1.8-6.8 1.8-5.2 1.8 3.1 1.8 7.9 1.8 6.9 1.8 4.2 1.8 1.5 1.8-1 1.8-42.4 1.8 36 1.8 2 1.8 3.9 1.8 2.6 1.8 1.1 1.8 0 1.8-1.4 1.8-3.3 1.8-5.7 1.8-7 1.8-7.2 1.8-4.7 1.8 3.4 1.8 9.6 1.8-24 1.8 35.1 1.8 0.5 1.8-1.7 1.8-5.1 1.8-12.2 1.8-21.8 1.8-21.7 1.8-0.3 1.8 23.7 1.8 23 1.8 10 1.8 0.3 1.8-8.9 1.8-17.4 1.8-7 1.8 13.6 1.8 11.9" stroke="#df0000"/>
<path d="M1554 1177.6l1.8-1.1 1.8-0.8 1.8-0.9 1.8-0.8 1.8-0.3 1.8 0 1.8-0.8 1.8-1.4 1.8-3.5 1.8-5.8 1.8-5.6 1.8-2.7 1.8-1.5 1.8-2.2 1.8-0.5 1.8 3.3 1.8 2.6 1.8-2.5 1.8-6.4 1.8-0.3 1.8 10.9 1.8 9.8 1.8 3.5 1.8-0.4 1.8-1.1 1.8 0.2 1.8 0.2 1.8 0 1.8 1.7 1.8 2.7 1.8 1.6 1.8 0.4 1.8-0.7 1.8-2.5 1.8-6.7 1.8-11.1 1.8-8.3 1.8-0.7 1.8 1.1 1.8-2.2 1.8-1.3 1.8 8.1 1.8 12.8 1.8 7.8 1.8 2.8 1.8 0.2 1.8-1.9 1.8-3.5 1.8-4 1.8-4.2 1.8-2.4 1.8 0.7 1.8 0.1 1.8-1.8 1.8-0.9 1.8-1.3 1.8-7.8 1.8-17.6 1.8-12.6 1.8 15.7 1.8 25.5 1.8 12.5 1.8 3.4 1.8 0.3 1.8-0.8 1.8-0.7 1.8-0.2 1.8-0.6 1.8-1.6 1.8-1 1.8 0.8 1.8 1.8 1.8 1.6 1.8 0.2 1.8-1.5 1.8-4 1.8-4.6 1.8-2.1 1.8 1 1.8 1.9 1.8 0.4 1.8-2.3 1.8-4.5 1.8-4.8 1.8-3.7 1.8-4.2 1.8-7 1.8-7.4" stroke="#df0000"/>
<path d="M1534.9 1188.7l1.8-0.7 1.8-1.1 1.8-2.4 1.8-2.8 1.8-0.1 1.8 2.3 1.8 1.6 1.8 0.4 1.8-72 1.8-195.2 1.8 0 1.8 0 1.8 181.2 1.8 84.9 1.8 0.7 1.8-49 1.8-142.4" stroke="#9f0000"/>
<path d="M1529.7 1172.6L1530.3 1138.0L1530.9 1172.6" stroke="#df0000" stroke-linecap="round"/>
<path d="M1519.4 1180.7L1520.0 1157.7L1520.6 1180.7" stroke="#ffff00" stroke-linecap="round"/>
<path d="M1504.4 1177.5L1505.0 1160.3L1505.6 1177.5" stroke="#ffff00" stroke-linecap="round"/>
<path d="M1486.4 1178.9L1487.0 1163.0L1487.6 1178.9" stroke="#ffff00" stroke-linecap="round"/>
<path d="M1507.4 1175.2L1508.0 1165.6L1508.6 1175.2" stroke="#0040ff" stroke-linecap="round"/>
<path d="M1253.9 1180.5l2.1-0.9 2-1.4 1.9-0.8 2-1.3 1.9-1.9 1.9-1.1 1.9-0.2 1.8-0.3 1.9-1.1 1.9-1.5 1.9-0.3 1.9 0.5 2 0.7 2 0.9 1.9 1.3 1.8 1.9 1.7 1.7 1.6 1.2 1.5 1.9 1.4 1.9" stroke="#00009f"/>
<path d="M361 1171.4l0.9-4.7 0.9-2.8 0.9-0.8 0.9 1 0.9 2.8 0.9 4" stroke="#0000bf"/>
<path d="M515.4 1170l0.2-3.8 0.2-3.7 0.2-3.1 0.3-1.9 0.2-3.1 0.2-3.5 0.2-1.4 0.3-1 0.2-1.9 0.2-1.3 0.2-0.5 0.3 0 0.2-0.5 0.2-0.2 0.2 1.5 0.3 2.5 0.2 1.2 0.2 1.4 0.2 3.5 0.3 3.1 0.2 2.6 0.2 3.5 0.2 3.7 0.3 4.2" stroke="#0000bf"/>
<path d="M639.9 1167.6l1.6-4.2 1.9-1.7 2.1-0.4 2.5 0.3 2.7 2" stroke="#0000bf"/>
<path d="M878.7 1175l2-2.4 2.1-0.9 2.2-1.1 2.3-0.8 2.4 0.6 2.6 1.3" stroke="#0000df"/>
<path d="M1373.2 1173.2l2.1-0.2 2.2 0.4 2.1-0.1 2.1 0 2.1 0.6 2.1 0 2.1-0.7 2.1-0.6 2 0.5 2.1 0.3 2-1.8 2.1-1.7 2-0.5 2 0 2.1-0.5 2-0.8 2-0.3 2.1-0.5 2-0.1 2.1 0.3 2.1-0.6 2.1-0.7 2-0.4 2.1-0.1 2.1-0.4 2.1-1" stroke="#0000df"/>
<path d="M474.7 1168.7l2.2-1.9 2.2-1.1 2.1-0.2 2.2 1 2.2 2" stroke="#0000ff"/>
<path d="M859.8 1169.8l0.9-2.8 1.1-1.4 1.3-0.8 1.5-1.7 1.7-2.1 2.1-0.9 2 0.4 1.6-0.9 1.5-2.8 1.4-1 1.1-0.7" stroke="#0000ff"/>
<path d="M813.7 1169.9l1.4-3 1.5-2.2 1.6-0.7 1.6 0.9 1.7 0.6 1.9 0.5 1.9 2.4 2 3.4" stroke="#0020ff"/>
<path d="M1461.2 1171l2.9 0 2.8 0.2 2.8-1.4" stroke="#0020ff"/>
<path d="M1288 1164.1l2.2-0.4 2-0.9 1.9-1.5 1.9-1.4 1.7-1.2 1.6-1.7 1.6-1.9 1.4-0.5 1.2 1.1 1.1 1.9 1 1.9 1.2 1.5 1.5 1.9 1.4 1.9 1.1 2.4 0.9 2.3 0.8 1.3 0.6 1.3 0.5 2.2" stroke="#0040ff"/>
<path d="M775.8 1166.7l1.9-2.9 1.8-1.6 1.4-0.9 1.2 0.1 1 1.8 0.8 3.9" stroke="#0060ff"/>
<path d="M466.6 1170.3l0.3-3.5 0.3-3.9 0.4-4.3 0.5-2.5 0.4-2.1 0.6-2.4 0.5-1.8 0.6-1.5 0.6-0.8 0.6-0.5 0.7 0.5 0.7 1.1 0.9 1.3 0.9 2.4 0.9 2.6 0.9 2.3 0.8 2.7 0.7 2.7 0.8 3 0.7 2.5 0.8 1" stroke="#0080ff"/>
<path d="M951.8 1170.4l0.2-5.4 0.4-2.8 0.7-0.4 1-1.9 1.2-2.3 1.9-0.2" stroke="#009fff"/>
<path d="M312.3 1169.8l0.3-4 0.3-3 0.3-3 0.3-2.6 0.4-1.8 0.3-2 0.3-1.9 0.3 0.1 0.3 1.3 0.4 0.6 0.3-0.4 0.3 0.9 0.3 3.2 0.3 3.3 0.3 3.1 0.4 3.4 0.3 3.8" stroke="#00bfff"/>
<path d="M1192.8 1170.1l0.4-5 0.6-3.2 0.8-2.4 1-1.7 1.1-1.4 1.1-1.1 1.4 1.6 1.7 3.5" stroke="#20ffdf"/>
<path d="M331.2 1164.4l2.2 1 2.1 0.2 2.2-1.8 2.2 0.1 2.2 1.9 2.2 0.6 2.1-0.3 1.9-0.4 1.8-0.6 1.7-2 1.8-1.9 1.8 1.1 1.9 2.9 1.8 1.9 1.9 0.8" stroke="#40ffbf"/>
<path d="M968.1 1169.6l1.3-1.8 1.5-1.2 1.6-0.7 1.9 0.2 2.1-0.1 2.3-1 2.2-0.8 2 0.7 2 1.5 2 1.4 1.8 1.1 1.9 0.6 1.7 1.1" stroke="#40ffbf"/>
<path d="M1227 1170.8l0.3-1.8 0.3-2.7 0.5-3 0.5-2.7 0.5-2.1 0.6-2.6 0.6-3 0.8-1.7 2.3-0.4" stroke="#40ffbf"/>
<path d="M293.3 1171.8l1.3-1.8 1.3-2.3 1.1-2.6 1.1-2.7 1.1-1.6 1-2.1 1-2.7 0.9-1.6 0.7-0.5 0.5-0.1 0.5 0.9 0.4 1.9 0.4 1.8 0.4 1.9 0.3 2.8 0.1 3.3 0.1 4.1" stroke="#9fff60"/>
<path d="M650.7 1168.6l1.9-1.9 2-1.5 2.1-1.2 2.4-0.5 2.5 1.2" stroke="#bfff40"/>
<path d="M1003.3 1171l2.4-3.5 2.3-2 2.2-0.4 2 1.1 1.9 2.8" stroke="#ffff00"/>
<path d="M591.2 1170.2l0.4-2.2 0.8-2.7 1-2.5 1.3-2.1 1.3-1.5 1.7-0.8 2.6 0 2.7 1 1.7-0.2 0.9-0.3 0.7 1.6 0.6 3.4 0.4 4.1 0.1 3.1" stroke="#ffdf00"/>
<path d="M1275.2 1170.3l2-0.8 2-0.2 1.9-1 2-1.5 2-0.1 2 0.9 2-0.2 2-0.8 2-1 2.1-0.1 2 1 2.1 1 2 0.5 2.1 0.1 2 0.5 2.1 0.3 2-0.9 2.1-0.1 2 1.2 2 0.6 2-0.7 2.1-0.9 2-1.1 1.9-1 1.9 0.2 1.8-0.4 1.7-2.1 1.6-1.4 1.5-1.4 1.4-2.1 1.5-1.5 1.5-2.3 1.6-2.2 1.7-0.2 2.2 0.1 2.2 0.3 2.3 0.5 1.9 0.4 1.4 0.5 1.1 1.4 0.9 2.3 0.9 2.8 0.8 2.3 0.9 2.2 1 1.3 1.3 0 1.5-0.4 1.7-1.7 1.7-2.3 1.6-1.7 1.6-1.7 1.6-1.3 1.6-1.5 1.4-2.7 1-1 0.8 0.6 0.7 1 0.6 2.4 0.5 3 0.2 3.3" stroke="#ffbf00"/>
<path d="M415.2 1168.2l2.1-1.4 2.1-1.5 2.1-0.6 2 0.5 2.1-0.1 2.1-1 2.1 0.3 2.2 0.3 2.1-1 2.1-0.3 2.1 0.5 2.1-0.5 2-0.6 2-0.1 2 0.4 1.9 1.8 1.9 1.2 1.9 0.5 1.9 1.3 1.8 1.8" stroke="#ff9f00"/>
<path d="M493.7 1171.1l0.5-3.4 0.6-3 0.5-3.2 0.6-2.3 0.5-0.5 0.5-0.2 0.6 1.3 0.5 4 0.6 4 0.5 3.5" stroke="#ff8000"/>
<path d="M658.9 1170.1l2-0.6 2.1 0.8 2.1 0.4 2-0.6 2.1-0.9 2.1-1 2.1-1 2-0.8 2.1-0.6 2.1-1 2.1-0.6 2-0.1 2.1 0.5 2 0.8 2 0.3 1.9 0.6 2 1.4 1.9 0.9 2 0.3 1.9 1.2" stroke="#ff8000"/>
<path d="M1092.6 1180l2.1-0.6 2 0 2-0.1 2.1-0.4 2 0.4 2-1.3 2.1-1.5 2 0.1 2 0.7 2.1 1 2 0.6 2.1-0.6 2-0.5 2 0.3 2.1-0.4 2-0.7 2 0.1 2.1 0.9 2-0.2 2-1.6 2.1-0.4 2 0.5 2.1 0.1 2 0.1 2 0 2.1-0.7 2-0.9 2 0.4 2.1 0.8 2 1.1 2 0.2 2.1-1.3 2-0.8 2 0 2.1 0.9 2 0.5 2.1-0.9 2-1.1 2-0.4 2.1 0.8 2 0.6 2-0.1 2.1-0.1 2 0.3 2-0.2 2.1-0.6 2 0.2 2 0.6 2-0.6 2.1-1 2-0.9 2-0.4 2 0 2-0.3 2-0.5 2.1 0.1 2 0.3 2-0.1 2-1.2 2-1.5" stroke="#ff8000"/>
<path d="M700 1168.5l1.7-3.6 1.8-3.3 1.7-1.4 1.8 0.9 1.7 0.8 1.7-0.8 1.8 0.3 1.7 1.7 1.7 0.9 1.9 0.6 2 0.7 2 0.4 2.1 0.9 2.1 1.1 2.1 0.9 2.1 1 2.1 0.3 2.1-0.4 2.2 0.2 2.1 1.6 2.2 0.7" stroke="#ff8000"/>
<path d="M1245.4 1176.2l0.2-3.8 0.3-2.1 0.2-1.7 0.3-1.5 0.3-1.3 0.3-0.6 0.4 0.7 0.3 1.4 0.4 1.9 0.4 3.3 0.5 4.3" stroke="#ff8000"/>
<path d="M1282.3 1166l1.6 2.2 1.6 2.3 1.6 1.7 1.7 1.3 1.7 0.9 1.7 1.1 1.8 1.4 1.8 0.5 1.8-0.2 1.9 0.9 1.9 1.1 2 0.3 2.1 0 2.1 0.2 2.1 0.9 2.1 0.1 2-0.8 2.1-0.7 2.1 0.1 2.1 0.8 2.1 0.7 2.2-0.6 2.1-1.1 2.2 0.2 2.1-0.2 2.2-1.2 2.1-0.2 2.1 0.9 2.1 0.6 2.1-0.7 2.1-0.1 2-0.3 2-1.1 2-0.3 1.9 0.3 1.9-0.2 1.8-0.3 1.7-0.1 1.7-1.4 1.5-1.7 1.6-1.5 1.6-1.1 1.8 0.2 2 1.8 1.8 2 1.5 1.6 1.2 0.8 1.3-0.7 1.2-1.9 1.1-1.6 1.1-0.9 1-1.6 1-2.3 0.8-1.9 0.8-2 0.7-2.4 0.5-3 0.4-3.5 0.3-4" stroke="#ff8000"/>
<path d="M398.9 1173.1l1.4-1.9 1.3-1.1 1.2-1.6 1.1-1.9 1.1-2.2 0.9-2.9 0.8-2 0.8-1.2 0.5-2.2 0.5-2.8 0.5-2.1 0.7-1.2 1.3 0.1 1.7 1.8 1.7 3 1.2 1.9 0.9 1.3 0.8 2.2 0.6 2.3" stroke="#ff4000"/>
<path d="M713.5 1169.4l0.9-4 1.1-3.2 1.1-2.8 1.2-1.7 1.3-0.1 1.5 1.5 1.6 2.4 1.7 2.3 1.7 1.6 1.8 1.3 1.8 1.2 2 0.4 1.9 0.3 2.1 1.6" stroke="#ff4000"/>
<path d="M1398.8 1180.7l2 0.5 2.1 0.8 2.1-0.1 2.1-0.8 2.1-0.3 2.1 0.8 2.1 1 2.1-0.3 2.1-0.6 2 0.9 2.1 0.2 2.1-1 2.1 0.3 2.1 0.8 2.1-0.1 2.1 0 2.1 0.2 2.1-0.4 2.1 0.4 2 0.7 2.1 0.2 2.1 0.2 2.1-0.1 2.1-0.5 2.1-0.6 2.1 0.1 2.1 0.7 2 0.8 2.1-0.2 2.1-0.7 2.1-0.8 2.1-0.9 2.1 0.1 2 0.6" stroke="#df0000"/>
<path d="M220.2 1170l2-0.2 2.1 0.2 2-0.5 2.1-0.3 2 1.5 2.1 0.6 2-1.4 2-1 2.1 0.2 2 0.7 2-0.4 2.1-1.3 2 0 2 0.6 2.1 0 2-0.2 2 0.2 2 0.6 2 0 2.1 0.3 2 0.1 2 0 2 1.4 2 1.1 2 0.3 2 0.8 2.1 0.7 2 0.5 2-0.1 2-1.1 2 0 2.1 1.1 2-0.2 2.1-1.1 2-0.8 2.1-0.4 2-0.2 1.9-0.4 1.9-0.7 2.1-0.4 2.1-0.3 2.1-1.6 1.9-1.5 1.5-0.2 1-0.8 0.7-3 0.6-3.8 0.5-2.6 0.4-1.5 0.5 0.4 0.4 1.4 0.3 1.9 0.4 3.4 0.3 3.4 0.4 2.1 0.3 2.1 0.4 1.7 0.4-1.2 0.3-3.2 0.4-2.8 0.4-1.8 0.4-2.8 0.5-3.2 0.4-0.9 0.4 1.4 0.4 2.5 0.4 3.6 0.6 2.8 0.6 1.2 0.9 1.5 1.3 2.6 1.6 1.7 1.8 0.8" stroke="#bf0000"/>
<path d="M700 1181.7l2.1 0.8 2-0.6 2-0.3 2.1 0.2 2-0.2 2-0.2 2-0.8 2-0.9 2-0.4 2-0.5 2 0.3 1.9 0.3 2-0.6 2-0.8 1.9-1 1.9-1.5 1.9-1.5 2 0.5 1.9 0.9 1.9-1.2 2-1.3 2 0.3 1.9 0.6 2 0.2 2 0.5 2 1.3 2.1 0.7 2-1.4 2-1.1 2-0.1 2-0.4 2.1 0 2 0.2 2 0.4 2.1 0.3 2 0 2 0.4 2.1 0.5 2 0.1 2-0.3 2-0.2 2-0.1 2.1-0.3 2-0.4 2 0.2 2 0.1 2-0.1 2 0.5 2.1 0.1 2-0.6 2-1.3 2-0.1 2 0.9 2 0.6 2 0.8 2.1 0.6 2-1 2-1.8 2 0 2 1.2 2 0.7 2.1 0 2 0 2-0.1 2-0.5 2-0.3 2 0 2.1 0.1 2 0.8 2 0.8 2-0.4 2-0.3 2-0.4 2.1-0.7 2-0.4 2 0.3 2 0.3 2-0.5 2 0.1 2 0.8 2 0.5 2 0.3 2 0.1 2 0 2 0 2 0.2 2 0.4 2 0 2 0.1 2.1 0.9 2 0.9 2 0.6 2 0.6 2 0.6 2 0 2-1.2 2 0 2 1.9 2 0.6 2-1.4 2-0.7 2 0.5 2 0.3 2 0.1 2 0.6 2 1.1 2 1.2 2-0.1 2-1.3 2.1 0 2 1.5 2 0.4 2-0.2 2-0.1 2-1.1 2-0.3 2 0.4 2-0.1 2 1.1 2 1.5 2 0.2 2-0.1 2.1 0.2 2 0.5 2-0.5 2-0.8 2-0.4 2-0.2 2 0.5 2 1.1 2 0.9 2.1 0.7 2-0.4 2-0.6 2 0.4 2 0.5 2-0.3 2 0.1 2.1 1.2 2 1 2-0.6 2-1.7 2 0.2 2 0.6 2-0.8 2.1 0.1 2 0.8 2-0.6 2-1.1 2 0.2 2 1.3 2.1 1 2-0.5 2-0.7 2 0.9 2 0.2 2-1.1 2.1-0.7 2 0.4 2 0.3 2-0.6 2 0.1 2 0.8 2.1 0 2-0.6 2-0.2 2-0.3 2 0.2 2 0.5 2-0.5 2.1-0.8 2-0.7 2-0.2 2 0.4 2 0.7 2 0.4 2-0.3 2.1 0.2 2 0.1 2-0.3 2.1 0.5 2 0.1 2-1.4 2-1.1 2 0.1 2 0 2-0.3 1.9-0.3 2-0.4 1.9-0.2 1.8-0.4 1.9-0.9 1.9-1.2 1.8-1 1.9-1 1.9-1 1.9-0.7 1.9 0.2 1.9-0.3 1.9-1.2 2-0.6 1.9 0 2 0 2-0.3 2.2-0.8 2.1-0.5 2.2-0.5 2.1-0.7 2-0.5 1.8-0.6 1.6-0.6 1.3 0 1.3-0.8 1.2-2.4 1.2-2 1-0.8 0.9-2 0.8-3.5 0.6-2.5" stroke="#bf0000"/>
<path d="M911.2 1177.9l1-3 1-2.5 1.1-1.7 1 0.5 1 0.8 1 0.6 1 1.8 1 3.7" stroke="#bf0000"/>
<path d="M542.4 1176.8l0.4-4.9 0.4-4 0.5-2 0.6-1.8 0.6-2.5 0.6-2.4 0.6-1.6 0.7-0.8 0.7 0.1 0.7 0.2 0.9 1.2 0.9 2.9 0.9 3 1 2.2 1.1 1.6 1-0.2 1.2-2.4 1.3-3.5 1.2-3.1 1 0.1 0.9 2.1 0.9 0.7 0.8 0.2 0.8 1.3 0.8 2.4 0.6 4.3 0.6 4.5" stroke="#9f0000"/>
<path d="M365.1 1171.5l1.8 0.9 1.9-0.1 1.9-0.5 1.9 0.4 1.9 1.1 1.9 0.8 1.9 0.9 1.9 0.8 2 0.1 1.9 0.4 1.9 0.9 2 1 1.9-0.2 2-0.6 2 0.7 1.9 2.4 2 1.9 2-0.2 1.9-0.9 2 0.2 2 0.9 1.9 0.8 2 0.2 2 0.4 2 0.9 1.9 0.4 2 0.2 2 0.3 2 0.5 1.9 0 2 0.1 2 1.2 2 0.4 2-0.5 2-0.2 2 0.1 2 0.1 2 0.1 2 0.5 2-0.3 2.1-0.7 2 0.8 2 0.3 2-0.9 2-0.1 2 0.6 2.1-0.1 2-0.8 2 0.1 2 0.5 2.1-0.4 2-0.3 2 0.4 2-0.2 2 0.1 2.1 0.2 2-0.1 2 0.2 2 0.3 2 0.5 2.1-0.4 2-0.3 2 0.9 2 0.6 2-0.4 2-0.1 2 0.5 2.1 0.1 2-0.3 2-0.3 2-0.6 2-0.9 2-0.4 2.1-0.3 2 0 2 0.9 2 0.6 2 0.3 2 0.2 2-0.5 2.1-0.8 2-0.1 2 0.2 2-0.1 2 0.7 2 1.1 2.1-0.2 2-0.7 2 0 2 0 2-0.4 2-0.6 2-0.2 2.1 0.5 2 0.4 2-0.1 2 0 2 0.8 2 1 2.1-0.9 2-1.5 2-0.1 2 0.2 2 0.2 2 0.3 2-0.1 2.1 0.1 2 0.2 2-0.7 2-0.3 2 0.2 2-0.3 2.1-0.2 2 0 2 0.3 2 0.4 2 0 2-0.1 2 0.3 2.1 0.3 2 0.3 2 0.2 2-0.1 2 0.2 2-0.5 2.1-0.1 2 0.9 2 0 2-0.5 2-0.3 2-0.3 2-0.5 2.1 0 2 0.9 2 0.7 2-0.4 2-0.2 2-0.3 2.1-0.8 2-0.4 2 0.5 2 0.3 2-0.2 2 0.6 2 0.3 2.1-1 2-0.1 2 1.1 2 0.7 2-0.8 2-0.4 2.1 0.1 2-0.8 2 0.1 2 0.2 2-0.1 2 0.6 2-0.8 2.1-0.8 2 1.1 2 1.1 2-0.7 2-1.1 2-0.8 2.1-0.1 2 0.5 2 0.5" stroke="#800000"/>
<path d="M591.2 1181.7l1.1-2.1 1.2-2.3 1.2-1.7 1.2-1.5 1.2-2.6 1.2-2.8 1.3-2 1.2-1.9 1.3-2.4 1.3-2.3 1.3-1.5" stroke="#800000"/>
<path d="M1224.1 1170.1l2.3-1.2 2.2 0.8 2.1 1.6 1.9 0.1 1.8 0.3 1.6 0.9 1.4 1.1 1.2 1.4 1.2 2.4 1.2 2.1 1.4 1.2 1.6 1.4 1.8 1.3 2 0.1 2.1-0.5 2.1-0.2 2.1 0.4 2.1 0.3 2 0.1 2.1 0.6 2.1 0.9 2.1-0.2 2.1-1 2.2-0.8 2.1 0.5 2.2 1.3 2 0.9 2.1-0.1 1.9-0.6 2 0.2 1.8-0.6 1.7-0.3 1.6 0.4 1.6-2 1.4-3.4 1.3-1.1 1 1.8 0.8 3.2 0.9 2.4 1.1-0.5 1.4 0.2 1.5 1.2 1.7-0.1 1.8-0.6 2 0.3 2.1-0.7 2.1-1 2.2 0.6 2.3 0.1 2.3-0.2 2.3 0.8 2.3 0.5 2.3-0.2 2.2-0.6 2.2-0.3 2.1 0 2.1-0.7 2.1-0.6 2.3 0.5 2.2 0.3 2.4 0.1 2.3 0.7 2.3 0.2 2.2-0.8 2.2-0.7 2-0.3 1.9 0.3 1.7-0.1 1.6-0.7 1.3 0.2 1 0 0.8-2.2 0.7-2.9 0.7-2.3 0.7-2.1 1.1-1.9 1.4-0.8 1.9 1.7 2 2.6 2.1 1.7 2-0.3 1.9-1.2 2 0 2 1.1 2 1.8 2 1.5 2 0.4 2 0 2-0.2 2-0.7 2.1-0.4 2.1 0.5 2 0.1 2.1-0.6 2-0.1 2-0.6 2-1.1 2-0.3 1.8 0.3 1.9 0.1 1.8-1.2 1.7-1.5 1.7-1.1 1.7-1.2 1.7-1.8 1.7-1.6 1.7 0.5 1.9 1.1 1.7 1 1.1 2.2 0.9 1.3 0.8 0.8 0.5 2 0.2 2.5" stroke="#800000"/>
</g>
<g font-family="Liberation Sans, Arial, sans-serif" font-weight="bold" font-size="29" fill="#262626"><text x="179.3" y="410.9" text-anchor="end">0</text><text x="179.3" y="322.2" text-anchor="end">5</text><text x="179.3" y="233.5" text-anchor="end">10</text><text x="179.3" y="144.9" text-anchor="end">15</text><text x="179.3" y="447.7" text-anchor="end">4</text><text x="179.3" y="496.0" text-anchor="end">2</text><text x="179.3" y="544.4" text-anchor="end">0</text><text x="179.3" y="592.7" text-anchor="end">-2</text><text x="179.3" y="641.1" text-anchor="end">-4</text><text x="179.3" y="876.9" text-anchor="end">0.1</text><text x="179.3" y="810.4" text-anchor="end">0.2</text><text x="179.3" y="677.4" text-anchor="end">0.4</text><text x="179.3" y="1208.9" text-anchor="end">0</text><text x="179.3" y="1182.3" text-anchor="end">0.1</text><text x="179.3" y="1155.8" text-anchor="end">0.2</text><text x="179.3" y="1102.7" text-anchor="end">0.4</text><text x="179.3" y="1049.6" text-anchor="end">0.6</text><text x="179.3" y="996.5" text-anchor="end">0.8</text><text x="179.3" y="943.4" text-anchor="end">0</text><text x="190.5" y="1236.8" text-anchor="middle">00</text><text x="253.9" y="1236.8" text-anchor="middle">01</text><text x="317.3" y="1236.8" text-anchor="middle">02</text><text x="380.8" y="1236.8" text-anchor="middle">03</text><text x="444.2" y="1236.8" text-anchor="middle">04</text><text x="507.6" y="1236.8" text-anchor="middle">05</text><text x="571.0" y="1236.8" text-anchor="middle">06</text><text x="634.4" y="1236.8" text-anchor="middle">07</text><text x="697.8" y="1236.8" text-anchor="middle">08</text><text x="761.2" y="1236.8" text-anchor="middle">09</text><text x="824.7" y="1236.8" text-anchor="middle">10</text><text x="888.1" y="1236.8" text-anchor="middle">11</text><text x="951.5" y="1236.8" text-anchor="middle">12</text><text x="1014.9" y="1236.8" text-anchor="middle">13</text><text x="1078.3" y="1236.8" text-anchor="middle">14</text><text x="1141.8" y="1236.8" text-anchor="middle">15</text><text x="1205.2" y="1236.8" text-anchor="middle">16</text><text x="1268.6" y="1236.8" text-anchor="middle">17</text><text x="1332.0" y="1236.8" text-anchor="middle">18</text><text x="1395.4" y="1236.8" text-anchor="middle">19</text><text x="1458.8" y="1236.8" text-anchor="middle">20</text><text x="1522.2" y="1236.8" text-anchor="middle">21</text><text x="1585.7" y="1236.8" text-anchor="middle">22</text><text x="1649.1" y="1236.8" text-anchor="middle">23</text><text x="1712.5" y="1236.8" text-anchor="middle">00</text></g>
<g font-family="Liberation Sans, Arial, sans-serif" font-weight="bold" font-size="32" fill="#262626">
<text x="951.5" y="1279.1" text-anchor="middle">UT</text>
<text transform="translate(133.2 266.5) rotate(-90)" text-anchor="middle">VTEC</text>
<text transform="translate(139.7 533) rotate(-90)" text-anchor="middle">ROT [TECU/min]</text>
<text transform="translate(110.5 816.8) rotate(-90)">S</text>
<text transform="translate(127.2 797.3) rotate(-90)" font-size="26">4</text>
<text transform="translate(112.8 1121.3) rotate(-90)" font-family="Liberation Serif, serif" font-style="italic" font-weight="normal" font-size="31">σ</text>
<text transform="translate(128.3 1102) rotate(-90)" font-family="Liberation Serif, serif" font-style="italic" font-weight="normal" font-size="24">ϕ</text>
<text transform="translate(112.3 1074.5) rotate(-90)">[rad]</text>
</g>
<defs><linearGradient id="cbg" x1="0" y1="0" x2="0" y2="1"><stop offset="0.00000" stop-color="#800000"/><stop offset="0.03125" stop-color="#800000"/><stop offset="0.03125" stop-color="#9f0000"/><stop offset="0.06250" stop-color="#9f0000"/><stop offset="0.06250" stop-color="#bf0000"/><stop offset="0.09375" stop-color="#bf0000"/><stop offset="0.09375" stop-color="#df0000"/><stop offset="0.12500" stop-color="#df0000"/><stop offset="0.12500" stop-color="#ff0000"/><stop offset="0.15625" stop-color="#ff0000"/><stop offset="0.15625" stop-color="#ff2000"/><stop offset="0.18750" stop-color="#ff2000"/><stop offset="0.18750" stop-color="#ff4000"/><stop offset="0.21875" stop-color="#ff4000"/><stop offset="0.21875" stop-color="#ff6000"/><stop offset="0.25000" stop-color="#ff6000"/><stop offset="0.25000" stop-color="#ff8000"/><stop offset="0.28125" stop-color="#ff8000"/><stop offset="0.28125" stop-color="#ff9f00"/><stop offset="0.31250" stop-color="#ff9f00"/><stop offset="0.31250" stop-color="#ffbf00"/><stop offset="0.34375" stop-color="#ffbf00"/><stop offset="0.34375" stop-color="#ffdf00"/><stop offset="0.37500" stop-color="#ffdf00"/><stop offset="0.37500" stop-color="#ffff00"/><stop offset="0.40625" stop-color="#ffff00"/><stop offset="0.40625" stop-color="#dfff20"/><stop offset="0.43750" stop-color="#dfff20"/><stop offset="0.43750" stop-color="#bfff40"/><stop offset="0.46875" stop-color="#bfff40"/><stop offset="0.46875" stop-color="#9fff60"/><stop offset="0.50000" stop-color="#9fff60"/><stop offset="0.50000" stop-color="#80ff80"/><stop offset="0.53125" stop-color="#80ff80"/><stop offset="0.53125" stop-color="#60ff9f"/><stop offset="0.56250" stop-color="#60ff9f"/><stop offset="0.56250" stop-color="#40ffbf"/><stop offset="0.59375" stop-color="#40ffbf"/><stop offset="0.59375" stop-color="#20ffdf"/><stop offset="0.62500" stop-color="#20ffdf"/><stop offset="0.62500" stop-color="#00ffff"/><stop offset="0.65625" stop-color="#00ffff"/><stop offset="0.65625" stop-color="#00dfff"/><stop offset="0.68750" stop-color="#00dfff"/><stop offset="0.68750" stop-color="#00bfff"/><stop offset="0.71875" stop-color="#00bfff"/><stop offset="0.71875" stop-color="#009fff"/><stop offset="0.75000" stop-color="#009fff"/><stop offset="0.75000" stop-color="#0080ff"/><stop offset="0.78125" stop-color="#0080ff"/><stop offset="0.78125" stop-color="#0060ff"/><stop offset="0.81250" stop-color="#0060ff"/><stop offset="0.81250" stop-color="#0040ff"/><stop offset="0.84375" stop-color="#0040ff"/><stop offset="0.84375" stop-color="#0020ff"/><stop offset="0.87500" stop-color="#0020ff"/><stop offset="0.87500" stop-color="#0000ff"/><stop offset="0.90625" stop-color="#0000ff"/><stop offset="0.90625" stop-color="#0000df"/><stop offset="0.93750" stop-color="#0000df"/><stop offset="0.93750" stop-color="#0000bf"/><stop offset="0.96875" stop-color="#0000bf"/><stop offset="0.96875" stop-color="#00009f"/><stop offset="1.00000" stop-color="#00009f"/></linearGradient></defs>
<rect x="1731.5" y="266.3" width="23.0" height="798.2" fill="url(#cbg)"/>
<rect x="1731.5" y="266.3" width="23.0" height="798.2" fill="none" stroke="#262626" stroke-width="1"/>
<path d="M1754.5 1038.8h-8M1754.5 987.3h-8M1754.5 935.8h-8M1754.5 884.3h-8M1754.5 832.8h-8M1754.5 781.3h-8M1754.5 729.8h-8M1754.5 678.3h-8M1754.5 626.8h-8M1754.5 575.3h-8M1754.5 523.8h-8M1754.5 472.3h-8M1754.5 420.8h-8M1754.5 369.3h-8M1754.5 317.8h-8M1754.5 266.3h-8" stroke="#262626" stroke-width="1"/>
<g font-family="Liberation Sans, Arial, sans-serif" font-weight="bold" font-size="32" fill="#262626"><text x="1765" y="1051.2">2</text><text x="1765" y="999.7">4</text><text x="1765" y="948.2">6</text><text x="1765" y="896.7">8</text><text x="1765" y="845.2">10</text><text x="1765" y="793.7">12</text><text x="1765" y="742.2">14</text><text x="1765" y="690.7">16</text><text x="1765" y="639.2">18</text><text x="1765" y="587.7">20</text><text x="1765" y="536.2">22</text><text x="1765" y="484.7">24</text><text x="1765" y="433.2">26</text><text x="1765" y="381.7">28</text><text x="1765" y="330.3">30</text><text x="1765" y="278.8">32</text></g>
<text x="1698.5" y="245.6" font-family="Liberation Sans, Arial, sans-serif" font-weight="bold" font-size="32.5" fill="#000">PRN#</text>
<rect x="770" y="82" width="361.5" height="52.5" fill="#9d9d9d"/>
<g font-family="Liberation Sans, Arial, sans-serif" font-weight="bold" font-size="32.5" fill="#000">
<text x="776.7" y="120.8">20211130</text><text x="953.9" y="120.8" font-size="31.8">VTEC</text><text x="1058.4" y="120.8" font-size="31.6">SKN</text></g>
<g font-family="Liberation Sans, Arial, sans-serif" font-weight="bold" font-size="25" fill="#0000ff">
<text x="988.9" y="134.4">Made by Yaqi Jin on 21-Apr-2022</text><text x="1421.5" y="134.4">NOT FOR PUBLICATION</text></g>
</svg>
</body></html>
